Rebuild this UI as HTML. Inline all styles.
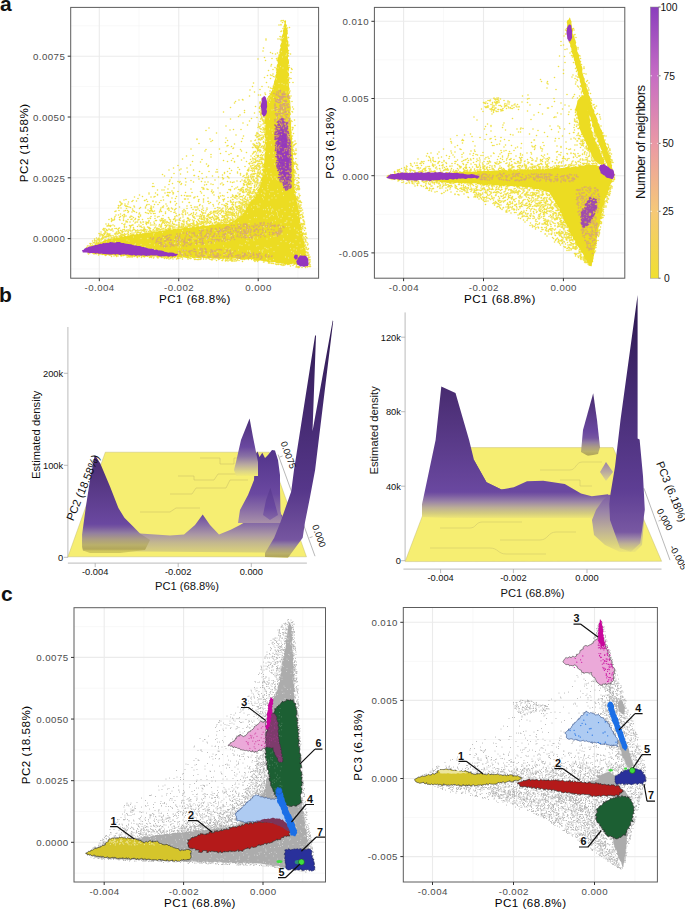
<!DOCTYPE html>
<html><head><meta charset="utf-8"><style>
html,body{margin:0;padding:0;background:#fff;overflow:hidden}
svg{display:block}
</style></head><body>
<svg width="685" height="910" viewBox="0 0 685 910" font-family='"Liberation Sans", sans-serif'>
<rect width="685" height="910" fill="#fff"/>
<rect x="70.7" y="7.4" width="247.90000000000003" height="270.8" fill="#fff"/>
<path d="M139.02 7.4V278.2M218.47 7.4V278.2M297.93 7.4V278.2M70.7 269.0H318.6M70.7 208.2H318.6M70.7 147.4H318.6M70.7 86.6H318.6M70.7 25.8H318.6" stroke="#f4f4f4" stroke-width="0.6" fill="none"/>
<path d="M99.3 7.4V278.2M178.75 7.4V278.2M258.2 7.4V278.2M70.7 238.6H318.6M70.7 177.8H318.6M70.7 117.0H318.6M70.7 56.2H318.6" stroke="#ebebeb" stroke-width="1.1" fill="none"/>
<rect x="374.4" y="7.4" width="250.39999999999998" height="270.8" fill="#fff"/>
<path d="M443.55 7.4V278.2M523.45 7.4V278.2M603.35 7.4V278.2M374.4 214.3H624.8M374.4 137.1H624.8M374.4 59.9H624.8" stroke="#f4f4f4" stroke-width="0.6" fill="none"/>
<path d="M403.6 7.4V278.2M483.5 7.4V278.2M563.4 7.4V278.2M374.4 252.9H624.8M374.4 175.7H624.8M374.4 98.5H624.8M374.4 21.3H624.8" stroke="#ebebeb" stroke-width="1.1" fill="none"/>
<rect x="74.0" y="607.7" width="251.5" height="274.29999999999995" fill="#fff"/>
<path d="M143.9 607.7V882.0M223.3 607.7V882.0M302.7 607.7V882.0M74.0 873.11H325.5M74.0 811.49H325.5M74.0 749.86H325.5M74.0 688.24H325.5M74.0 626.61H325.5" stroke="#f4f4f4" stroke-width="0.6" fill="none"/>
<path d="M104.2 607.7V882.0M183.6 607.7V882.0M263.0 607.7V882.0M74.0 842.3H325.5M74.0 780.67H325.5M74.0 719.05H325.5M74.0 657.42H325.5" stroke="#ebebeb" stroke-width="1.1" fill="none"/>
<rect x="403.3" y="607.5" width="254.09999999999997" height="274.5" fill="#fff"/>
<path d="M473.0 607.5V882.0M554.0 607.5V882.0M635.0 607.5V882.0M403.3 817.55H657.4M403.3 739.45H657.4M403.3 661.35H657.4" stroke="#f4f4f4" stroke-width="0.6" fill="none"/>
<path d="M432.5 607.5V882.0M513.5 607.5V882.0M594.5 607.5V882.0M403.3 856.6H657.4M403.3 778.5H657.4M403.3 700.4H657.4M403.3 622.3H657.4" stroke="#ebebeb" stroke-width="1.1" fill="none"/>
<path transform="scale(.5)" d="M168 503h0M168 502h0M173 495h0M175 492h0M176 506h0M177 508h0M178 492h0M180 487h0M181 490h0M182 487h0M185 482h0M185 490h0M186 486h0M186 486h0M188 485h0M188 508h0M189 486h0M189 478h0M189 481h0M189 485h0M190 484h0M190 481h0M192 487h0M193 476h0M193 482h0M193 485h0M194 484h0M194 486h0M194 482h0M194 484h0M194 480h0M196 478h0M197 485h0M197 479h0M197 479h0M197 510h0M198 467h0M198 481h0M198 476h0M198 484h0M199 478h0M200 471h0M200 472h0M200 479h0M200 482h0M200 468h0M202 468h0M202 464h0M203 477h0M203 480h0M204 469h0M204 471h0M205 475h0M205 474h0M205 478h0M206 470h0M206 476h0M206 459h0M206 471h0M207 460h0M207 457h0M207 476h0M207 471h0M208 467h0M208 474h0M209 474h0M209 460h0M209 469h0M209 474h0M210 465h0M210 463h0M210 457h0M210 467h0M210 479h0M211 474h0M211 511h0M211 465h0M211 473h0M211 463h0M212 475h0M212 474h0M212 448h0M213 461h0M213 472h0M213 459h0M214 469h0M214 466h0M214 473h0M214 452h0M214 460h0M215 452h0M215 473h0M215 461h0M215 469h0M215 467h0M216 472h0M217 448h0M217 472h0M217 451h0M217 478h0M217 468h0M217 469h0M218 458h0M218 459h0M218 474h0M218 471h0M218 452h0M218 439h0M219 469h0M219 468h0M220 451h0M220 468h0M220 471h0M221 460h0M221 453h0M222 474h0M222 471h0M222 451h0M222 471h0M223 513h0M223 443h0M223 440h0M223 460h0M223 437h0M224 475h0M224 458h0M224 441h0M225 440h0M225 458h0M226 440h0M226 471h0M226 462h0M226 450h0M227 474h0M228 440h0M228 476h0M228 512h0M229 474h0M229 439h0M229 452h0M229 436h0M230 474h0M230 433h0M230 469h0M230 474h0M230 474h0M230 467h0M230 423h0M230 457h0M231 468h0M232 430h0M232 466h0M232 422h0M232 472h0M232 430h0M233 475h0M233 457h0M233 464h0M233 513h0M233 512h0M233 512h0M234 468h0M234 473h0M235 468h0M236 512h0M236 416h0M236 464h0M236 459h0M237 411h0M237 463h0M237 430h0M237 462h0M237 467h0M237 415h0M237 461h0M237 457h0M237 416h0M238 421h0M238 412h0M238 472h0M239 439h0M239 435h0M239 456h0M239 473h0M239 456h0M239 466h0M239 465h0M240 440h0M240 472h0M240 403h0M240 404h0M240 466h0M241 471h0M241 461h0M241 471h0M241 473h0M241 428h0M241 411h0M241 433h0M242 406h0M242 461h0M242 416h0M242 469h0M242 512h0M242 468h0M242 409h0M243 470h0M243 512h0M243 473h0M243 470h0M243 407h0M244 463h0M244 408h0M244 447h0M244 469h0M244 407h0M244 465h0M245 470h0M245 462h0M245 465h0M245 431h0M245 469h0M246 471h0M246 459h0M246 463h0M247 441h0M247 438h0M247 434h0M248 471h0M248 400h0M248 429h0M248 434h0M248 422h0M248 449h0M248 469h0M249 429h0M249 453h0M249 455h0M249 472h0M249 459h0M249 467h0M249 452h0M249 432h0M249 471h0M250 408h0M250 462h0M250 411h0M250 448h0M251 469h0M251 421h0M252 462h0M252 413h0M252 444h0M252 399h0M252 442h0M252 432h0M253 412h0M253 454h0M253 417h0M254 468h0M254 468h0M254 460h0M254 443h0M254 514h0M254 468h0M255 413h0M255 444h0M255 421h0M256 463h0M256 466h0M256 439h0M256 408h0M256 425h0M256 514h0M257 460h0M257 404h0M257 469h0M257 512h0M257 423h0M257 464h0M258 414h0M258 470h0M259 451h0M259 514h0M260 435h0M260 444h0M260 461h0M260 513h0M260 434h0M260 458h0M261 453h0M261 455h0M261 415h0M261 467h0M261 462h0M261 462h0M262 439h0M262 469h0M262 432h0M262 451h0M262 514h0M263 451h0M263 451h0M264 513h0M264 403h0M264 433h0M264 462h0M264 424h0M264 466h0M264 438h0M265 512h0M265 418h0M265 450h0M265 513h0M265 513h0M265 469h0M265 514h0M266 512h0M266 450h0M266 401h0M266 421h0M266 460h0M267 458h0M267 469h0M267 435h0M267 422h0M267 455h0M267 442h0M268 412h0M268 466h0M269 414h0M269 394h0M269 423h0M269 513h0M269 459h0M270 439h0M270 446h0M271 437h0M271 461h0M271 464h0M272 444h0M273 425h0M273 402h0M273 468h0M274 461h0M274 514h0M274 464h0M274 466h0M275 453h0M275 513h0M275 514h0M275 460h0M275 515h0M275 444h0M276 397h0M276 465h0M276 464h0M276 440h0M277 433h0M278 434h0M278 435h0M278 450h0M278 439h0M278 465h0M278 461h0M278 428h0M279 390h0M279 513h0M279 426h0M279 417h0M280 466h0M280 453h0M281 465h0M281 444h0M281 460h0M281 466h0M281 430h0M281 432h0M281 415h0M282 446h0M282 453h0M282 452h0M283 464h0M283 515h0M283 514h0M283 460h0M284 455h0M285 461h0M285 393h0M285 439h0M286 449h0M286 444h0M287 459h0M287 462h0M287 513h0M287 444h0M288 454h0M288 456h0M289 514h0M289 458h0M289 401h0M289 401h0M289 461h0M289 464h0M289 456h0M290 462h0M290 401h0M290 460h0M291 459h0M291 459h0M291 425h0M291 414h0M291 416h0M292 447h0M292 444h0M293 449h0M293 399h0M293 447h0M293 463h0M293 445h0M293 411h0M294 460h0M294 426h0M294 409h0M294 446h0M295 403h0M295 454h0M295 445h0M296 454h0M296 420h0M296 437h0M297 427h0M297 446h0M297 444h0M297 455h0M297 463h0M298 388h0M298 442h0M298 457h0M298 409h0M298 386h0M298 441h0M299 515h0M299 458h0M299 455h0M299 462h0M299 422h0M299 514h0M299 422h0M300 461h0M300 424h0M300 514h0M300 461h0M300 436h0M301 461h0M301 457h0M301 417h0M301 437h0M301 421h0M301 450h0M301 463h0M301 446h0M301 514h0M302 412h0M302 513h0M302 394h0M302 427h0M302 433h0M302 415h0M303 419h0M303 417h0M303 515h0M303 515h0M303 414h0M303 515h0M303 417h0M303 463h0M304 423h0M304 421h0M304 450h0M305 373h0M306 367h0M306 460h0M306 423h0M306 403h0M306 460h0M306 462h0M306 402h0M307 459h0M307 427h0M307 516h0M307 414h0M308 444h0M308 514h0M308 450h0M308 394h0M308 373h0M309 456h0M309 422h0M309 409h0M309 447h0M309 462h0M310 427h0M310 437h0M310 432h0M310 393h0M311 454h0M311 386h0M311 441h0M312 450h0M312 460h0M312 404h0M313 457h0M313 457h0M313 441h0M314 514h0M314 514h0M314 456h0M314 459h0M314 458h0M314 459h0M314 461h0M315 390h0M315 380h0M315 460h0M315 380h0M315 389h0M315 461h0M315 434h0M316 409h0M316 516h0M316 457h0M317 460h0M318 433h0M318 457h0M318 452h0M319 449h0M319 405h0M319 424h0M320 422h0M320 459h0M320 461h0M320 440h0M321 421h0M321 454h0M321 452h0M321 452h0M321 442h0M321 454h0M321 419h0M322 401h0M322 459h0M322 416h0M323 451h0M323 441h0M323 449h0M323 423h0M323 454h0M323 453h0M323 515h0M323 458h0M323 437h0M324 439h0M324 447h0M324 380h0M325 414h0M325 445h0M325 442h0M325 349h0M326 457h0M326 442h0M326 437h0M326 458h0M326 415h0M326 460h0M326 515h0M326 431h0M326 394h0M327 400h0M327 445h0M327 457h0M327 412h0M327 441h0M328 443h0M328 380h0M328 444h0M329 517h0M329 516h0M329 447h0M329 352h0M329 440h0M330 460h0M330 374h0M330 386h0M330 458h0M330 515h0M330 451h0M330 460h0M331 455h0M331 450h0M331 440h0M331 424h0M331 427h0M331 444h0M332 514h0M332 408h0M332 459h0M333 517h0M333 459h0M333 452h0M333 446h0M333 453h0M333 451h0M333 517h0M334 443h0M334 412h0M334 391h0M335 418h0M335 385h0M335 450h0M335 516h0M335 514h0M335 515h0M336 457h0M336 445h0M336 378h0M336 390h0M337 515h0M337 435h0M337 392h0M337 416h0M338 450h0M338 456h0M338 446h0M338 385h0M338 436h0M338 459h0M338 518h0M338 456h0M338 452h0M338 421h0M338 340h0M338 418h0M338 369h0M339 439h0M339 451h0M339 363h0M339 456h0M340 454h0M340 360h0M340 458h0M340 385h0M340 446h0M340 360h0M341 457h0M341 443h0M341 403h0M341 517h0M341 515h0M341 440h0M341 405h0M341 517h0M342 450h0M342 516h0M342 423h0M342 453h0M342 452h0M343 416h0M343 355h0M344 396h0M344 382h0M345 444h0M345 452h0M345 418h0M345 367h0M345 447h0M345 515h0M345 456h0M346 385h0M346 388h0M346 454h0M346 518h0M347 336h0M347 386h0M347 449h0M347 439h0M348 448h0M348 448h0M348 425h0M348 376h0M348 347h0M348 454h0M349 437h0M349 515h0M349 420h0M349 449h0M350 419h0M350 433h0M350 403h0M350 438h0M350 434h0M350 454h0M350 424h0M351 443h0M351 441h0M351 397h0M351 410h0M352 417h0M352 450h0M352 427h0M353 518h0M353 393h0M353 407h0M353 431h0M354 456h0M354 450h0M354 440h0M354 432h0M355 517h0M356 383h0M356 517h0M356 516h0M356 363h0M356 331h0M357 452h0M357 456h0M357 454h0M357 517h0M358 440h0M358 454h0M358 452h0M358 445h0M358 454h0M358 446h0M358 449h0M358 430h0M358 455h0M358 449h0M359 414h0M359 429h0M359 452h0M359 340h0M359 452h0M359 438h0M359 365h0M360 516h0M360 363h0M360 441h0M360 454h0M361 348h0M361 436h0M362 455h0M362 369h0M362 338h0M363 453h0M363 455h0M363 391h0M363 367h0M363 448h0M363 452h0M364 454h0M364 447h0M364 428h0M364 447h0M365 422h0M365 442h0M365 318h0M365 456h0M365 518h0M365 404h0M366 430h0M366 451h0M366 434h0M366 453h0M366 449h0M366 425h0M367 453h0M367 443h0M367 454h0M367 454h0M368 422h0M368 419h0M368 450h0M368 440h0M368 443h0M368 446h0M368 449h0M369 391h0M369 455h0M369 398h0M371 422h0M371 357h0M371 370h0M371 454h0M371 426h0M371 429h0M371 385h0M371 398h0M372 452h0M372 364h0M373 443h0M373 455h0M373 392h0M373 312h0M373 446h0M374 448h0M374 412h0M374 417h0M374 336h0M374 447h0M374 444h0M375 392h0M375 426h0M375 437h0M375 515h0M375 436h0M375 344h0M375 454h0M376 436h0M376 398h0M376 453h0M376 450h0M376 437h0M376 452h0M376 441h0M376 518h0M377 437h0M377 438h0M378 392h0M378 430h0M378 451h0M378 450h0M378 405h0M378 448h0M378 452h0M379 451h0M379 405h0M379 442h0M379 451h0M380 452h0M380 439h0M380 449h0M380 454h0M380 517h0M381 330h0M381 392h0M381 429h0M382 378h0M382 517h0M382 361h0M382 451h0M382 451h0M382 298h0M382 447h0M382 411h0M383 427h0M383 415h0M384 452h0M384 385h0M385 440h0M385 323h0M385 447h0M385 431h0M386 311h0M386 432h0M386 433h0M386 446h0M386 454h0M386 449h0M386 419h0M387 443h0M387 434h0M387 340h0M387 454h0M387 428h0M387 364h0M387 452h0M387 425h0M387 446h0M387 446h0M387 435h0M388 446h0M388 441h0M388 454h0M388 395h0M388 448h0M388 351h0M388 396h0M389 414h0M389 351h0M389 434h0M389 450h0M389 519h0M390 437h0M390 394h0M390 518h0M390 452h0M391 429h0M391 420h0M392 451h0M392 519h0M392 450h0M392 414h0M393 449h0M393 450h0M393 420h0M393 426h0M393 443h0M394 453h0M394 278h0M394 432h0M394 447h0M394 279h0M394 445h0M394 445h0M395 414h0M395 452h0M395 451h0M395 449h0M395 393h0M395 519h0M395 445h0M396 439h0M396 449h0M396 453h0M396 418h0M396 447h0M397 519h0M397 400h0M397 441h0M397 452h0M397 441h0M397 441h0M397 403h0M397 353h0M398 287h0M398 432h0M398 442h0M398 399h0M398 448h0M398 358h0M399 437h0M399 421h0M399 411h0M399 343h0M400 446h0M400 519h0M400 434h0M400 444h0M400 409h0M401 324h0M401 449h0M401 429h0M401 383h0M401 518h0M402 518h0M402 432h0M402 438h0M402 517h0M403 445h0M403 386h0M403 447h0M403 436h0M403 363h0M403 443h0M403 423h0M403 448h0M403 433h0M404 419h0M404 445h0M404 425h0M404 438h0M404 347h0M404 375h0M404 431h0M404 439h0M404 319h0M405 412h0M405 357h0M405 428h0M406 443h0M406 453h0M406 447h0M406 416h0M406 452h0M406 378h0M406 443h0M406 444h0M406 438h0M406 426h0M407 447h0M407 448h0M407 398h0M407 376h0M407 421h0M407 435h0M407 432h0M407 518h0M407 404h0M407 421h0M407 444h0M407 400h0M408 391h0M408 378h0M408 450h0M408 440h0M408 431h0M408 434h0M408 426h0M409 432h0M409 438h0M409 445h0M409 370h0M409 445h0M410 442h0M410 364h0M410 436h0M410 445h0M410 302h0M411 443h0M411 426h0M412 261h0M412 518h0M412 299h0M412 422h0M412 448h0M412 453h0M413 328h0M413 444h0M413 444h0M413 369h0M413 354h0M413 438h0M414 419h0M414 447h0M414 378h0M414 440h0M414 416h0M414 437h0M414 433h0M414 441h0M414 432h0M414 419h0M415 437h0M415 444h0M415 440h0M415 430h0M415 443h0M415 453h0M415 438h0M415 438h0M416 396h0M416 333h0M416 439h0M416 364h0M416 403h0M416 442h0M416 379h0M417 428h0M417 432h0M417 429h0M417 403h0M417 331h0M417 445h0M418 435h0M418 256h0M418 407h0M418 517h0M418 343h0M418 429h0M419 447h0M419 435h0M419 518h0M419 453h0M420 429h0M420 278h0M420 443h0M420 442h0M420 437h0M420 425h0M420 446h0M420 429h0M420 435h0M421 436h0M421 405h0M421 445h0M421 435h0M422 519h0M422 314h0M422 443h0M422 423h0M422 368h0M422 309h0M422 427h0M422 283h0M423 439h0M423 435h0M423 383h0M424 450h0M424 446h0M424 380h0M424 520h0M424 426h0M424 426h0M424 380h0M425 452h0M425 451h0M425 451h0M425 433h0M425 447h0M425 352h0M425 281h0M425 386h0M426 452h0M426 409h0M426 435h0M426 518h0M426 369h0M427 412h0M427 425h0M427 437h0M427 384h0M427 423h0M428 428h0M428 422h0M428 390h0M428 429h0M428 440h0M428 438h0M428 422h0M429 446h0M429 423h0M429 441h0M429 431h0M429 439h0M429 424h0M429 439h0M429 445h0M430 434h0M430 417h0M430 360h0M430 518h0M430 445h0M430 423h0M430 434h0M431 423h0M431 445h0M431 438h0M432 426h0M432 432h0M432 448h0M432 443h0M432 344h0M432 422h0M432 449h0M433 444h0M433 266h0M433 437h0M433 439h0M433 443h0M433 521h0M434 339h0M434 422h0M434 437h0M434 402h0M434 448h0M434 434h0M434 433h0M435 427h0M435 437h0M435 434h0M435 415h0M435 426h0M435 344h0M436 446h0M436 445h0M436 420h0M436 376h0M436 447h0M436 448h0M437 408h0M437 424h0M437 435h0M437 517h0M437 436h0M437 519h0M437 393h0M437 430h0M437 438h0M437 448h0M437 354h0M438 397h0M438 518h0M438 441h0M438 416h0M438 395h0M438 446h0M439 440h0M439 446h0M439 405h0M439 448h0M439 298h0M439 422h0M439 518h0M439 440h0M439 422h0M439 446h0M439 450h0M439 439h0M439 440h0M440 422h0M440 416h0M440 416h0M440 427h0M440 386h0M440 427h0M441 447h0M441 446h0M441 392h0M441 446h0M441 428h0M441 307h0M441 368h0M442 444h0M442 450h0M442 442h0M442 420h0M442 444h0M443 446h0M443 422h0M443 425h0M443 440h0M444 423h0M444 435h0M444 521h0M444 418h0M444 366h0M444 441h0M444 431h0M444 445h0M444 409h0M445 350h0M445 355h0M445 521h0M445 433h0M445 391h0M446 432h0M446 416h0M446 358h0M446 370h0M446 421h0M446 399h0M446 446h0M446 434h0M446 519h0M447 402h0M447 357h0M447 447h0M447 321h0M447 440h0M447 224h0M447 439h0M447 423h0M447 442h0M447 369h0M448 446h0M448 440h0M448 442h0M448 447h0M448 392h0M448 410h0M448 399h0M448 426h0M448 432h0M449 434h0M449 345h0M449 347h0M449 443h0M449 435h0M449 398h0M449 432h0M449 438h0M450 431h0M450 445h0M450 411h0M450 436h0M451 413h0M451 521h0M451 285h0M451 427h0M451 445h0M451 449h0M451 437h0M451 518h0M451 440h0M451 422h0M451 522h0M452 426h0M452 442h0M452 416h0M452 407h0M452 446h0M452 423h0M452 445h0M452 411h0M452 303h0M452 276h0M452 424h0M452 427h0M452 419h0M452 252h0M452 521h0M452 429h0M453 432h0M453 521h0M453 446h0M453 521h0M453 438h0M453 428h0M453 431h0M453 444h0M454 518h0M454 292h0M454 438h0M454 432h0M454 425h0M454 432h0M454 407h0M454 445h0M454 436h0M455 281h0M455 413h0M455 430h0M455 323h0M455 440h0M455 343h0M455 409h0M455 422h0M455 363h0M455 439h0M455 441h0M455 416h0M455 436h0M455 416h0M455 445h0M455 429h0M455 385h0M455 353h0M456 434h0M456 520h0M456 430h0M456 429h0M456 354h0M456 442h0M456 395h0M456 291h0M456 444h0M456 403h0M456 428h0M456 522h0M457 423h0M457 419h0M457 425h0M457 435h0M457 436h0M458 356h0M458 309h0M458 430h0M458 379h0M458 442h0M459 443h0M459 430h0M459 417h0M459 445h0M459 337h0M459 445h0M459 426h0M459 520h0M459 446h0M459 424h0M460 417h0M460 440h0M460 260h0M460 520h0M460 426h0M460 442h0M460 347h0M460 436h0M460 448h0M460 444h0M461 364h0M461 441h0M461 419h0M461 439h0M461 426h0M461 379h0M461 424h0M461 441h0M461 403h0M461 381h0M461 215h0M461 518h0M461 401h0M461 238h0M461 404h0M461 430h0M462 395h0M462 307h0M462 446h0M462 520h0M462 439h0M462 418h0M462 426h0M462 415h0M463 521h0M463 429h0M463 341h0M463 419h0M463 416h0M463 518h0M463 293h0M463 518h0M463 321h0M463 522h0M463 404h0M464 441h0M464 425h0M464 432h0M464 430h0M464 519h0M464 426h0M464 373h0M464 409h0M464 439h0M465 390h0M465 409h0M465 522h0M465 441h0M465 365h0M465 413h0M465 522h0M465 399h0M465 437h0M465 393h0M465 427h0M465 420h0M465 521h0M465 431h0M465 435h0M465 420h0M465 406h0M466 424h0M466 399h0M466 317h0M466 391h0M466 431h0M466 415h0M466 426h0M466 522h0M466 428h0M466 425h0M466 297h0M467 417h0M467 410h0M467 404h0M467 440h0M467 259h0M467 296h0M467 409h0M468 428h0M468 440h0M468 394h0M468 431h0M468 419h0M468 440h0M468 438h0M468 440h0M468 519h0M468 439h0M468 364h0M469 429h0M469 288h0M469 522h0M469 324h0M469 378h0M469 206h0M469 395h0M469 427h0M469 323h0M469 422h0M470 433h0M470 431h0M470 396h0M470 433h0M471 203h0M471 519h0M471 396h0M471 405h0M471 412h0M471 434h0M471 396h0M471 408h0M471 391h0M472 522h0M472 376h0M472 425h0M472 436h0M472 393h0M472 413h0M472 415h0M472 393h0M472 425h0M472 425h0M472 270h0M473 424h0M473 391h0M473 430h0M473 427h0M473 419h0M473 393h0M474 404h0M474 362h0M474 413h0M474 521h0M474 416h0M474 398h0M475 519h0M475 415h0M475 374h0M475 434h0M475 415h0M475 432h0M475 420h0M475 312h0M475 344h0M475 420h0M475 393h0M475 346h0M476 312h0M476 386h0M476 428h0M476 335h0M476 312h0M477 233h0M477 430h0M477 412h0M477 427h0M477 427h0M477 417h0M477 379h0M477 424h0M478 403h0M478 521h0M478 396h0M478 433h0M478 200h0M478 421h0M478 406h0M478 390h0M479 389h0M479 412h0M479 417h0M479 411h0M479 414h0M479 339h0M479 424h0M480 433h0M480 382h0M480 388h0M480 379h0M480 420h0M480 393h0M480 387h0M480 404h0M480 230h0M481 347h0M481 299h0M481 418h0M481 420h0M481 423h0M481 406h0M481 422h0M481 350h0M481 421h0M481 425h0M481 423h0M481 417h0M481 363h0M481 415h0M481 425h0M481 399h0M481 423h0M482 428h0M482 393h0M482 426h0M482 381h0M482 408h0M482 412h0M482 378h0M482 420h0M482 431h0M482 417h0M482 519h0M482 259h0M483 408h0M483 425h0M483 302h0M483 377h0M483 320h0M483 430h0M483 381h0M483 427h0M483 379h0M483 283h0M483 426h0M483 417h0M484 408h0M484 414h0M484 415h0M484 430h0M484 412h0M484 376h0M484 418h0M484 405h0M484 418h0M484 400h0M484 417h0M484 360h0M484 416h0M484 423h0M484 393h0M485 421h0M485 375h0M485 199h0M485 519h0M485 394h0M485 406h0M485 523h0M485 384h0M485 375h0M485 519h0M485 383h0M485 277h0M486 402h0M486 519h0M486 424h0M486 409h0M486 408h0M486 398h0M486 375h0M486 410h0M486 422h0M486 200h0M486 246h0M486 420h0M486 379h0M486 385h0M486 353h0M487 419h0M487 272h0M487 370h0M487 384h0M487 391h0M487 381h0M487 367h0M487 423h0M487 421h0M487 375h0M487 421h0M488 316h0M488 410h0M488 385h0M488 405h0M488 402h0M488 384h0M488 351h0M488 362h0M489 397h0M489 221h0M489 409h0M489 413h0M489 415h0M489 519h0M489 421h0M489 225h0M489 370h0M489 421h0M489 369h0M489 361h0M490 395h0M490 412h0M490 403h0M490 398h0M490 398h0M490 412h0M490 355h0M490 362h0M490 365h0M490 360h0M490 333h0M491 379h0M491 364h0M491 407h0M491 393h0M492 416h0M492 399h0M492 403h0M492 405h0M492 356h0M492 410h0M492 378h0M492 403h0M492 382h0M492 384h0M493 402h0M493 350h0M493 383h0M493 305h0M493 323h0M493 378h0M493 407h0M493 416h0M493 369h0M493 410h0M493 348h0M493 364h0M493 413h0M493 413h0M493 383h0M494 346h0M494 354h0M494 411h0M494 406h0M494 402h0M494 378h0M494 411h0M494 368h0M494 371h0M494 409h0M494 408h0M494 390h0M495 409h0M495 400h0M495 380h0M495 396h0M495 389h0M495 250h0M495 360h0M495 373h0M495 341h0M495 409h0M495 400h0M495 388h0M495 348h0M496 385h0M496 358h0M496 366h0M496 356h0M496 375h0M496 367h0M496 388h0M496 400h0M496 339h0M497 355h0M497 389h0M497 364h0M497 369h0M497 368h0M497 408h0M497 390h0M497 410h0M497 380h0M497 352h0M497 519h0M497 384h0M497 339h0M497 402h0M497 342h0M498 366h0M498 407h0M498 405h0M498 327h0M498 336h0M498 367h0M498 362h0M498 340h0M498 360h0M499 360h0M499 328h0M499 328h0M499 405h0M499 242h0M499 395h0M499 386h0M499 376h0M499 392h0M499 192h0M499 362h0M499 380h0M499 388h0M499 384h0M499 367h0M499 369h0M500 326h0M500 367h0M500 396h0M500 383h0M500 392h0M500 399h0M500 375h0M500 376h0M500 180h0M501 352h0M501 363h0M501 382h0M501 376h0M501 404h0M501 354h0M501 393h0M501 332h0M501 319h0M501 384h0M501 383h0M501 396h0M502 312h0M502 386h0M502 341h0M502 391h0M502 363h0M502 334h0M502 393h0M502 378h0M502 282h0M502 332h0M502 349h0M502 370h0M502 366h0M502 332h0M503 323h0M503 400h0M503 375h0M503 519h0M503 396h0M503 394h0M503 401h0M503 237h0M503 357h0M503 337h0M503 358h0M504 348h0M504 387h0M504 327h0M504 394h0M504 355h0M504 352h0M505 343h0M505 173h0M505 308h0M505 367h0M505 295h0M505 340h0M505 316h0M505 331h0M505 336h0M505 384h0M506 320h0M506 394h0M506 387h0M506 353h0M506 361h0M506 326h0M506 317h0M506 360h0M506 295h0M506 288h0M506 348h0M507 392h0M507 306h0M507 304h0M507 337h0M507 166h0M507 382h0M507 384h0M507 358h0M507 336h0M507 379h0M507 383h0M507 288h0M507 354h0M508 363h0M508 347h0M508 324h0M508 341h0M508 520h0M508 521h0M508 341h0M508 349h0M508 353h0M508 291h0M508 305h0M508 330h0M508 383h0M509 289h0M509 342h0M509 392h0M509 360h0M509 313h0M509 372h0M509 325h0M509 347h0M509 361h0M509 184h0M509 371h0M509 520h0M509 318h0M509 334h0M509 379h0M509 338h0M509 375h0M509 375h0M509 226h0M509 343h0M509 364h0M510 292h0M510 381h0M510 385h0M510 333h0M510 374h0M510 368h0M510 388h0M510 281h0M510 523h0M510 303h0M511 271h0M511 325h0M511 303h0M511 280h0M511 322h0M511 337h0M511 387h0M511 319h0M511 333h0M511 332h0M511 295h0M511 213h0M511 294h0M511 347h0M511 364h0M512 363h0M512 310h0M512 292h0M512 520h0M512 365h0M512 291h0M512 385h0M512 323h0M512 294h0M512 357h0M512 356h0M512 295h0M512 316h0M513 372h0M513 379h0M513 331h0M513 268h0M513 268h0M513 286h0M513 370h0M513 306h0M513 272h0M513 335h0M513 338h0M514 368h0M514 337h0M514 377h0M514 332h0M514 321h0M514 287h0M514 356h0M514 295h0M514 351h0M514 268h0M514 348h0M514 265h0M514 357h0M514 353h0M514 361h0M514 297h0M514 275h0M514 235h0M514 267h0M515 344h0M515 329h0M515 292h0M515 311h0M515 351h0M515 365h0M515 359h0M515 299h0M515 273h0M515 302h0M515 322h0M515 364h0M515 314h0M515 523h0M516 353h0M516 381h0M516 297h0M516 327h0M516 340h0M516 322h0M516 352h0M516 328h0M516 366h0M516 375h0M516 521h0M516 346h0M516 118h0M516 360h0M516 332h0M516 267h0M516 255h0M517 379h0M517 346h0M517 311h0M517 352h0M517 279h0M517 340h0M517 190h0M517 300h0M517 295h0M517 351h0M517 294h0M517 248h0M517 252h0M517 313h0M518 295h0M518 273h0M518 270h0M518 285h0M518 372h0M518 344h0M518 353h0M518 293h0M518 331h0M518 301h0M518 339h0M518 333h0M518 323h0M518 277h0M519 223h0M519 300h0M519 215h0M519 335h0M519 347h0M519 217h0M519 270h0M519 291h0M519 254h0M519 216h0M519 287h0M519 349h0M519 327h0M519 368h0M519 331h0M519 333h0M519 339h0M519 279h0M519 371h0M519 224h0M519 322h0M520 322h0M520 303h0M520 315h0M520 217h0M520 319h0M520 365h0M520 179h0M520 290h0M520 289h0M520 207h0M520 354h0M520 319h0M520 205h0M520 337h0M520 336h0M520 243h0M520 253h0M520 304h0M520 291h0M520 257h0M520 279h0M520 204h0M520 213h0M520 299h0M520 322h0M521 280h0M521 204h0M521 328h0M521 301h0M521 288h0M521 342h0M521 315h0M521 210h0M521 190h0M521 311h0M521 258h0M521 345h0M521 238h0M521 229h0M521 238h0M521 263h0M521 206h0M521 226h0M521 271h0M521 212h0M522 276h0M522 250h0M522 231h0M522 334h0M522 295h0M522 222h0M522 302h0M522 356h0M522 226h0M522 220h0M522 230h0M522 213h0M522 347h0M522 318h0M523 326h0M523 349h0M523 258h0M523 293h0M523 277h0M523 214h0M523 225h0M523 225h0M523 236h0M523 234h0M523 222h0M523 323h0M523 327h0M523 228h0M523 348h0M523 226h0M523 325h0M523 319h0M523 309h0M523 236h0M523 316h0M524 173h0M524 265h0M524 197h0M524 200h0M524 219h0M524 350h0M524 238h0M524 234h0M524 215h0M524 226h0M524 326h0M524 275h0M524 314h0M524 223h0M524 317h0M524 319h0M524 316h0M524 225h0M524 211h0M524 270h0M524 226h0M524 279h0M525 319h0M525 316h0M525 292h0M525 221h0M525 331h0M525 339h0M525 334h0M525 326h0M525 203h0M525 341h0M525 275h0M525 327h0M525 241h0M525 221h0M525 305h0M525 225h0M525 238h0M525 210h0M525 311h0M526 296h0M526 333h0M526 220h0M526 226h0M526 218h0M526 213h0M526 276h0M526 240h0M526 206h0M526 102h0M526 255h0M526 329h0M526 260h0M526 223h0M526 248h0M526 317h0M527 198h0M527 217h0M527 202h0M527 319h0M527 276h0M527 226h0M527 96h0M527 221h0M527 227h0M527 211h0M527 218h0M527 264h0M527 199h0M527 283h0M527 234h0M527 214h0M527 243h0M527 329h0M527 285h0M527 273h0M527 258h0M527 293h0M527 297h0M527 524h0M527 272h0M527 231h0M528 284h0M528 301h0M528 294h0M528 257h0M528 240h0M528 213h0M528 206h0M528 201h0M528 198h0M528 200h0M528 302h0M528 247h0M528 245h0M528 240h0M528 302h0M528 524h0M528 310h0M528 226h0M528 524h0M528 309h0M529 260h0M529 269h0M529 200h0M529 244h0M529 200h0M529 246h0M529 115h0M529 195h0M529 245h0M529 269h0M529 291h0M529 203h0M529 292h0M529 232h0M529 299h0M529 290h0M529 196h0M529 204h0M529 296h0M529 155h0M529 204h0M529 218h0M529 264h0M529 200h0M529 226h0M530 221h0M530 261h0M530 214h0M530 186h0M530 236h0M530 221h0M530 256h0M530 257h0M530 198h0M530 247h0M530 220h0M530 252h0M530 230h0M530 203h0M530 224h0M530 230h0M530 266h0M530 259h0M530 240h0M530 213h0M530 235h0M530 226h0M530 207h0M530 230h0M531 217h0M531 272h0M531 189h0M531 199h0M531 224h0M531 121h0M531 232h0M531 218h0M531 222h0M531 241h0M531 228h0M531 231h0M531 212h0M531 223h0M531 226h0M531 206h0M532 223h0M532 240h0M532 243h0M532 78h0M532 205h0M532 252h0M532 238h0M532 246h0M532 244h0M532 80h0M533 216h0M533 204h0M533 228h0M533 207h0M533 165h0M533 241h0M533 224h0M534 222h0M534 231h0M534 221h0M534 208h0M534 245h0M534 241h0M534 240h0M535 203h0M535 222h0M535 240h0M535 197h0M535 239h0M535 220h0M535 225h0M535 151h0M535 205h0M535 211h0M535 228h0M535 234h0M536 197h0M536 234h0M536 222h0M537 227h0M537 217h0M537 220h0M537 204h0M537 198h0M537 526h0M537 238h0M537 524h0M537 141h0M537 238h0M537 212h0M537 221h0M537 174h0M537 219h0M537 524h0M537 214h0M538 526h0M538 203h0M538 218h0M538 199h0M538 226h0M538 204h0M538 223h0M538 218h0M538 229h0M538 209h0M539 212h0M539 524h0M539 526h0M539 205h0M539 213h0M539 203h0M539 524h0M540 187h0M540 214h0M540 210h0M540 182h0M540 217h0M540 206h0M541 150h0M541 210h0M541 224h0M541 105h0M541 157h0M541 227h0M541 176h0M542 132h0M542 526h0M543 129h0M544 177h0M544 117h0M544 151h0M544 527h0M545 107h0M546 148h0M546 139h0M547 527h0M547 153h0M550 135h0M550 154h0M551 108h0M551 528h0M553 140h0M553 529h0M553 117h0M553 137h0M554 120h0M554 529h0M554 528h0M555 106h0M555 121h0M556 78h0M556 116h0M557 529h0M558 528h0M558 110h0M558 50h0M560 73h0M560 78h0M561 529h0M562 80h0M562 49h0M562 42h0M562 63h0M562 74h0M562 50h0M563 530h0M563 529h0M563 62h0M564 41h0M565 45h0M566 57h0M566 528h0M566 531h0M567 41h0M568 530h0M569 43h0M569 530h0M571 529h0M575 56h0M575 529h0M577 107h0M577 92h0M577 120h0M577 101h0M577 75h0M577 112h0M578 529h0M578 529h0M578 131h0M578 90h0M579 135h0M579 55h0M579 186h0M579 156h0M579 165h0M579 194h0M580 182h0M580 196h0M581 532h0M581 108h0M581 532h0M582 145h0M582 241h0M582 192h0M582 157h0M583 137h0M584 243h0M584 223h0M584 139h0M584 203h0M584 260h0M585 255h0M585 259h0M585 214h0M585 286h0M585 224h0M585 272h0M586 292h0M586 531h0M586 284h0M586 299h0M586 255h0M586 165h0M586 290h0M586 302h0M586 308h0M586 256h0M586 294h0M587 218h0M587 267h0M588 291h0M588 325h0M588 302h0M589 351h0M589 306h0M589 354h0M589 309h0M589 345h0M589 240h0M589 329h0M589 340h0M589 345h0M589 307h0M589 289h0M589 327h0M589 344h0M590 251h0M590 342h0M590 282h0M590 359h0M591 309h0M591 374h0M591 344h0M591 288h0M591 378h0M591 324h0M592 287h0M592 328h0M592 298h0M592 385h0M592 307h0M592 356h0M592 534h0M592 369h0M592 301h0M592 347h0M592 317h0M592 371h0M592 327h0M593 530h0M593 534h0M593 530h0M593 333h0M593 380h0M593 533h0M594 329h0M594 361h0M594 377h0M594 366h0M594 399h0M594 336h0M594 533h0M594 337h0M594 393h0M594 400h0M595 394h0M595 396h0M595 330h0M595 371h0M595 401h0M595 395h0M595 377h0M596 355h0M596 339h0M596 400h0M596 366h0M596 379h0M596 535h0M596 535h0M596 374h0M597 364h0M597 407h0M597 410h0M597 350h0M597 396h0M597 414h0M597 413h0M597 403h0M597 408h0M597 371h0M597 533h0M598 403h0M598 396h0M598 357h0M598 533h0M598 410h0M598 373h0M598 411h0M598 421h0M598 388h0M598 377h0M598 378h0M598 417h0M598 374h0M598 365h0M598 535h0M598 415h0M598 379h0M599 404h0M599 534h0M599 425h0M599 392h0M599 377h0M599 392h0M599 413h0M599 379h0M599 404h0M600 417h0M600 413h0M600 431h0M600 401h0M600 414h0M600 391h0M600 422h0M601 435h0M601 410h0M601 422h0M601 403h0M601 430h0M602 423h0M602 405h0M602 429h0M602 423h0M602 531h0M602 410h0M602 417h0M602 421h0M602 437h0M603 416h0M603 449h0M603 405h0M603 429h0M603 449h0M603 455h0M603 447h0M604 449h0M604 535h0M605 430h0M605 420h0M605 435h0M605 457h0M605 433h0M605 453h0M606 447h0M606 449h0M606 440h0M606 454h0M606 452h0M606 467h0M606 458h0M606 426h0M606 433h0M606 454h0M607 474h0M607 447h0M607 466h0M607 442h0M607 480h0M607 434h0M607 478h0M607 440h0M608 469h0M608 532h0M608 442h0M608 447h0M608 475h0M609 486h0M609 444h0M609 490h0M609 468h0M609 461h0M609 449h0M609 448h0M610 478h0M610 456h0M610 484h0M610 491h0M610 468h0M610 455h0M610 490h0M610 533h0M611 481h0M611 479h0M611 457h0M611 473h0M611 535h0M611 490h0M612 469h0M612 495h0M612 532h0M612 503h0M612 468h0M612 494h0M612 466h0M612 482h0M612 532h0M613 495h0M613 511h0M613 498h0M613 475h0M614 476h0M614 505h0M614 533h0M614 532h0M614 485h0M615 531h0M615 505h0M615 523h0M615 520h0M615 499h0M615 534h0M615 490h0M616 488h0M616 517h0M616 529h0M616 507h0M616 499h0M616 511h0M616 505h0M616 533h0M616 510h0M616 516h0M616 527h0M617 497h0M617 514h0M617 520h0M618 510h0M618 527h0M618 515h0M619 519h0M619 527h0M619 533h0M619 525h0M619 528h0M620 530h0M620 519h0M620 529h0M620 522h0M620 514h0M620 524h0M621 533h0" stroke="#ecdc22" stroke-width="3.2" stroke-linecap="round" fill="none" opacity="0.85"/>
<polygon points="285.8,19.9 286.1,21.1 285.8,23.8 287.0,25.3 286.6,26.6 287.0,28.5 287.3,29.1 287.8,30.8 287.6,32.1 287.9,33.6 286.9,35.2 287.6,37.8 287.6,38.8 287.4,39.8 288.4,41.6 288.3,43.2 288.4,45.2 287.6,46.9 288.1,48.0 287.9,49.1 288.5,50.8 288.6,52.9 287.7,54.1 288.8,55.3 288.0,57.0 288.0,59.2 288.6,60.6 289.0,61.5 289.0,63.6 288.3,64.5 288.5,66.5 289.1,67.6 289.0,69.2 288.9,70.3 288.2,72.3 289.1,73.4 289.1,75.9 288.3,76.6 288.9,78.1 289.4,79.4 288.8,81.5 288.7,82.6 289.0,84.7 288.9,86.6 289.1,87.0 289.9,89.6 288.8,90.0 289.9,91.9 289.0,94.0 289.2,95.1 289.7,96.8 290.3,97.9 289.3,99.5 290.3,100.7 290.3,102.1 290.2,103.6 290.4,105.4 290.7,107.3 290.7,109.0 290.6,110.0 290.2,111.9 290.5,112.5 290.9,114.5 290.1,115.5 290.0,117.3 290.8,118.8 290.4,120.3 291.1,122.0 291.2,123.8 291.0,125.2 291.2,126.4 291.3,127.9 290.9,129.7 291.6,131.8 291.8,132.5 291.4,134.1 291.8,135.5 292.1,137.6 292.6,138.7 291.6,141.0 292.8,142.0 292.2,144.0 292.2,145.7 292.7,146.6 292.6,147.8 293.2,149.9 292.4,152.0 293.4,153.5 293.4,154.2 293.0,156.0 293.2,157.2 293.9,158.7 293.1,161.0 293.9,161.7 294.0,163.3 293.8,164.9 294.1,166.6 293.6,167.8 294.3,169.8 294.3,170.7 293.8,171.9 294.7,173.6 294.0,175.4 293.8,176.9 294.2,178.1 294.7,180.5 294.4,181.7 294.2,183.5 295.3,184.3 294.2,186.2 295.1,187.5 294.5,189.1 295.1,190.9 295.9,191.8 295.5,194.2 295.8,195.4 296.0,196.3 297.2,197.7 297.3,200.3 297.2,200.9 297.3,202.4 297.8,204.7 297.9,205.4 298.0,207.8 298.4,208.7 298.8,210.4 299.4,211.8 299.6,213.0 299.8,215.0 299.5,217.0 300.3,218.4 300.1,220.0 300.1,221.5 300.5,222.7 301.0,224.4 301.5,225.7 300.9,226.9 302.1,229.3 302.3,231.0 302.0,231.6 303.0,233.3 303.3,235.2 302.6,236.8 302.9,238.9 303.3,240.5 304.3,241.6 304.1,242.9 304.4,245.2 305.2,245.7 305.3,247.4 305.7,249.3 305.6,250.6 306.0,252.1 306.3,253.6 306.4,255.4 306.2,256.7 306.7,258.6 307.8,260.3 307.5,261.4 306.9,263.2 307.3,265.0 305.9,264.7 303.9,265.7 302.0,265.8 300.4,265.2 299.1,264.9 297.2,265.1 296.0,264.3 294.0,265.1 292.8,264.1 291.4,264.3 289.4,264.3 288.0,264.7 286.2,264.0 284.5,264.1 282.9,263.4 281.9,263.8 279.8,263.0 278.4,263.6 276.6,263.0 275.9,262.8 274.4,262.1 272.0,262.6 271.0,261.7 269.3,262.0 268.1,262.2 266.8,261.6 264.3,261.4 263.4,260.9 261.3,260.7 260.4,260.6 258.7,260.8 256.7,260.7 255.2,260.5 253.5,259.4 252.6,259.3 250.5,258.9 248.9,259.1 247.9,259.2 246.4,259.4 245.1,259.6 243.6,259.2 241.6,259.1 240.1,259.0 239.1,259.0 236.9,258.7 236.2,258.5 233.9,258.6 232.6,259.3 230.7,259.2 229.1,258.8 227.6,259.3 226.4,258.8 225.3,258.6 223.1,259.0 222.4,258.7 220.0,259.1 219.5,258.3 217.2,258.8 216.2,258.5 214.0,258.2 213.5,258.8 211.6,258.6 210.0,257.8 208.1,258.6 206.9,258.5 205.0,258.0 203.4,258.3 202.8,257.5 200.4,257.9 199.0,258.4 197.6,257.9 195.7,257.8 195.1,258.1 193.6,258.4 191.1,257.3 189.6,258.2 188.7,258.3 187.7,258.2 185.5,257.7 183.5,257.2 182.9,257.8 181.1,257.7 179.2,257.0 177.9,258.0 176.4,257.3 175.0,257.5 173.6,257.2 171.7,257.9 170.3,256.8 168.8,257.7 167.9,257.7 166.1,256.8 163.8,257.0 162.5,256.6 161.0,257.2 159.9,257.2 157.8,257.4 156.9,256.9 155.0,256.3 154.0,256.3 152.1,256.7 150.9,256.8 148.9,256.1 148.0,257.0 146.3,256.4 144.0,256.9 142.9,256.6 141.5,256.5 140.4,256.0 138.9,256.5 136.4,256.5 135.0,256.6 133.9,256.6 132.6,255.7 130.9,256.3 128.7,255.9 127.2,256.0 126.3,255.7 125.1,255.4 123.6,256.3 121.3,255.9 120.7,256.1 119.3,255.0 117.4,255.3 116.0,256.1 114.1,255.2 113.0,255.0 111.1,255.5 109.3,255.7 107.6,254.7 107.0,255.6 104.8,255.5 103.5,254.7 102.0,255.3 100.8,254.4 99.1,254.4 97.2,254.0 96.6,254.6 94.1,254.0 92.8,253.7 91.1,253.1 89.7,253.6 89.1,253.3 86.9,251.7 85.8,252.2 84.6,251.0 83.1,250.3 84.2,249.8 86.0,249.2 86.9,248.0 88.4,247.2 90.2,246.5 91.2,245.2 93.1,245.4 95.0,244.6 96.3,243.1 97.7,243.1 99.2,242.7 101.0,241.5 102.1,241.8 103.7,240.5 105.5,239.8 106.5,239.7 108.4,238.9 109.9,238.7 111.5,238.3 113.1,238.6 114.2,237.7 115.7,238.2 117.7,237.2 118.6,237.4 120.5,237.0 121.3,236.1 123.8,236.7 124.5,235.5 126.7,236.2 127.5,235.3 129.4,235.5 130.4,235.0 132.2,235.1 133.7,234.5 135.8,234.4 136.9,233.7 139.0,234.2 140.1,233.0 142.0,233.8 142.6,233.1 144.1,233.3 145.6,232.3 147.3,232.5 149.7,232.3 150.8,232.3 152.8,231.7 153.4,230.9 155.1,230.7 157.0,231.5 159.0,230.9 160.2,230.7 161.6,230.7 163.3,230.6 164.6,230.4 166.1,230.0 167.7,229.3 169.3,229.0 170.0,229.0 172.3,229.7 173.0,228.5 175.6,228.6 176.8,229.2 177.5,228.4 179.6,228.6 180.7,228.5 183.1,228.3 183.8,227.8 186.0,227.3 187.2,227.2 188.5,228.0 190.1,227.5 191.3,227.4 192.7,226.4 195.1,227.3 196.7,226.7 197.7,226.2 199.7,226.5 201.1,225.8 202.3,225.3 203.3,225.2 205.4,225.8 206.6,225.8 208.8,225.4 209.9,224.7 211.4,224.8 212.9,224.2 214.2,224.6 215.9,224.7 217.3,223.8 218.8,223.6 220.9,224.2 222.8,223.9 224.0,224.1 225.5,223.8 226.6,223.8 228.2,223.7 229.6,223.2 231.8,221.7 232.7,220.9 234.1,220.5 235.5,219.6 237.1,218.2 237.4,217.4 239.9,217.1 240.2,216.2 242.2,215.6 242.2,213.6 244.1,212.8 244.1,211.3 245.5,210.1 245.8,209.1 246.5,207.7 247.8,206.0 248.2,204.9 249.3,203.7 250.1,202.3 250.9,201.2 251.7,200.2 252.6,199.2 254.1,197.3 254.4,196.1 255.3,195.0 256.5,193.1 257.5,191.9 257.8,190.2 258.4,189.3 259.2,187.8 260.1,185.7 260.2,183.8 260.4,183.0 260.5,180.6 261.1,178.9 261.7,177.8 262.0,176.7 262.3,174.8 261.9,173.4 263.0,171.9 262.7,170.4 263.5,168.0 263.0,166.8 263.4,164.9 263.8,163.9 264.4,161.8 264.2,161.3 264.2,159.4 264.5,158.0 264.3,156.1 265.2,154.5 264.6,153.4 265.5,151.3 264.7,149.6 265.3,147.9 265.3,147.4 265.6,145.1 265.1,143.8 264.5,142.9 265.4,141.4 264.7,139.5 265.5,138.5 264.6,136.8 264.8,134.7 265.2,133.5 265.2,131.7 265.5,130.1 264.8,129.4 265.4,126.7 265.5,126.0 265.6,124.6 265.0,123.2 264.6,121.3 265.3,119.6 265.3,117.8 265.5,116.5 265.6,115.2 265.7,113.1 266.1,112.0 265.6,111.0 266.6,109.4 266.6,107.3 266.9,106.1 267.0,104.3 266.1,102.6 267.3,101.6 267.3,99.6 267.8,98.1 268.1,96.3 269.2,95.5 270.5,93.4 271.0,91.8 271.9,90.9 272.3,88.6 272.9,87.0 272.5,86.0 273.5,84.8 274.0,82.6 274.1,81.2 274.7,80.0 275.1,78.7 275.6,77.5 275.3,75.6 276.4,73.4 276.0,72.4 276.7,70.5 276.5,68.7 276.8,67.9 276.7,65.9 276.9,64.8 277.9,63.6 277.4,61.0 277.4,59.5 277.8,58.0 278.2,57.1 278.4,56.0 279.6,53.5 279.2,52.9 279.6,50.5 279.8,49.2 280.8,47.4 280.0,46.1 280.5,44.7 281.2,43.0 281.6,42.4 281.3,40.0 281.3,38.7 281.9,37.7 281.8,36.3 282.6,34.3 283.2,33.0 282.8,30.7 283.5,29.3 283.9,27.7 283.3,26.9 283.9,25.2 284.5,23.4 284.4,21.8" fill="#ecdc22" opacity="1.0" />
<path transform="scale(.5)" d="M170 499h0M187 505h0M189 490h0M189 491h0M192 496h0M194 488h0M202 484h0M202 502h0M203 508h0M207 505h0M213 484h0M215 497h0M223 491h0M223 485h0M224 480h0M229 493h0M230 493h0M231 483h0M237 507h0M239 488h0M245 510h0M248 503h0M253 493h0M254 480h0M256 492h0M257 497h0M258 482h0M259 490h0M267 474h0M269 490h0M270 509h0M271 488h0M275 510h0M279 502h0M282 511h0M282 489h0M282 477h0M285 497h0M285 496h0M289 495h0M290 493h0M295 477h0M296 477h0M300 487h0M305 497h0M307 470h0M308 467h0M308 463h0M309 499h0M309 490h0M311 463h0M313 512h0M317 509h0M319 489h0M320 501h0M322 461h0M324 511h0M325 465h0M327 475h0M329 494h0M329 490h0M330 479h0M332 486h0M333 511h0M336 510h0M340 487h0M349 487h0M349 479h0M350 486h0M353 512h0M353 472h0M355 485h0M355 480h0M356 494h0M357 502h0M357 506h0M358 491h0M359 476h0M360 481h0M360 478h0M361 487h0M361 494h0M363 466h0M364 507h0M365 512h0M365 508h0M365 500h0M365 461h0M370 501h0M375 466h0M375 467h0M377 483h0M379 514h0M380 470h0M384 478h0M386 482h0M388 476h0M391 489h0M392 476h0M397 479h0M397 496h0M397 497h0M397 470h0M398 509h0M398 488h0M398 487h0M400 503h0M400 459h0M404 459h0M409 489h0M410 457h0M410 501h0M410 510h0M412 512h0M412 511h0M413 478h0M415 477h0M415 470h0M417 470h0M417 474h0M418 488h0M419 506h0M420 485h0M422 475h0M426 510h0M427 502h0M428 478h0M429 486h0M430 472h0M430 461h0M431 482h0M434 503h0M434 465h0M439 459h0M441 462h0M445 478h0M447 492h0M448 459h0M448 509h0M449 480h0M450 502h0M451 471h0M452 483h0M452 507h0M452 497h0M453 466h0M458 469h0M458 481h0M458 499h0M460 497h0M460 472h0M460 516h0M463 471h0M464 504h0M465 503h0M466 517h0M467 458h0M468 446h0M469 468h0M469 440h0M477 500h0M477 445h0M478 451h0M480 490h0M481 461h0M484 491h0M486 508h0M487 470h0M491 451h0M491 487h0M492 473h0M493 481h0M494 476h0M495 459h0M495 427h0M495 502h0M495 468h0M496 468h0M496 482h0M498 490h0M498 447h0M499 502h0M499 473h0M500 439h0M500 502h0M500 459h0M501 506h0M501 476h0M501 505h0M503 414h0M507 478h0M507 419h0M508 397h0M508 411h0M508 481h0M508 474h0M509 435h0M511 392h0M513 492h0M513 435h0M514 411h0M515 476h0M515 414h0M516 491h0M516 387h0M518 414h0M519 501h0M520 408h0M523 363h0M523 387h0M524 502h0M525 377h0M525 504h0M525 353h0M525 395h0M526 469h0M526 500h0M526 346h0M527 398h0M527 453h0M527 419h0M528 436h0M528 389h0M528 348h0M528 382h0M528 454h0M528 337h0M529 462h0M529 391h0M530 495h0M530 384h0M530 280h0M531 278h0M531 419h0M532 468h0M533 283h0M533 346h0M533 429h0M533 517h0M533 453h0M533 497h0M534 272h0M534 437h0M534 478h0M534 518h0M535 374h0M535 415h0M535 352h0M536 379h0M536 369h0M536 202h0M536 498h0M537 507h0M537 420h0M537 419h0M537 507h0M537 198h0M538 335h0M538 399h0M538 196h0M538 400h0M539 238h0M539 388h0M539 433h0M539 205h0M539 307h0M539 258h0M539 364h0M540 431h0M540 281h0M540 521h0M541 475h0M541 200h0M541 455h0M541 414h0M542 192h0M542 347h0M542 353h0M542 495h0M542 383h0M543 420h0M543 423h0M543 354h0M543 290h0M544 220h0M544 260h0M544 429h0M544 396h0M545 358h0M545 418h0M545 266h0M545 444h0M546 179h0M546 383h0M546 420h0M546 317h0M547 306h0M547 195h0M547 431h0M547 519h0M548 473h0M548 219h0M548 171h0M548 503h0M549 391h0M549 328h0M550 262h0M550 354h0M551 310h0M551 441h0M552 396h0M552 472h0M553 158h0M553 358h0M553 236h0M553 423h0M553 275h0M553 293h0M554 222h0M554 235h0M554 217h0M554 265h0M555 379h0M555 430h0M555 465h0M555 426h0M556 136h0M556 330h0M556 491h0M556 202h0M556 360h0M556 387h0M556 266h0M557 198h0M557 434h0M558 167h0M558 420h0M558 178h0M558 341h0M559 454h0M559 107h0M560 276h0M560 323h0M561 133h0M562 448h0M562 437h0M562 483h0M562 288h0M562 341h0M563 454h0M563 202h0M563 224h0M563 103h0M564 417h0M564 468h0M564 167h0M564 229h0M564 362h0M564 222h0M565 383h0M565 77h0M565 432h0M565 243h0M565 114h0M566 136h0M566 371h0M567 75h0M567 321h0M567 216h0M567 363h0M567 391h0M567 478h0M568 242h0M568 205h0M568 169h0M568 55h0M570 423h0M570 445h0M571 514h0M572 184h0M572 111h0M572 483h0M572 445h0M573 453h0M573 442h0M573 55h0M573 86h0M573 108h0M573 250h0M574 321h0M574 349h0M574 442h0M574 285h0M574 170h0M574 312h0M575 224h0M575 142h0M575 251h0M575 469h0M576 157h0M577 239h0M577 516h0M577 184h0M577 273h0M578 433h0M578 256h0M578 453h0M579 415h0M579 199h0M579 337h0M579 487h0M580 458h0M580 207h0M580 433h0M580 235h0M580 404h0M581 485h0M581 497h0M581 371h0M582 303h0M582 444h0M583 503h0M584 425h0M585 437h0M585 418h0M586 402h0M586 487h0M586 527h0M587 413h0M587 506h0M588 347h0M588 498h0M589 457h0M589 387h0M589 456h0M592 425h0M592 479h0M593 402h0M593 394h0M593 500h0M594 460h0M594 493h0M594 469h0M595 431h0M596 470h0M597 463h0M598 521h0M599 433h0M600 447h0M600 486h0M601 509h0M601 461h0M601 529h0M602 498h0M602 467h0M603 461h0M603 513h0M605 497h0M609 495h0M612 507h0" stroke="#f4ec90" stroke-width="2.6" stroke-linecap="round" fill="none" opacity="0.8"/>
<path transform="scale(.5)" d="M301 476h0M305 479h0M306 477h0M307 476h0M312 485h0M312 485h0M313 481h0M313 483h0M313 481h0M314 479h0M316 476h0M316 477h0M316 483h0M318 487h0M318 487h0M319 475h0M320 484h0M321 486h0M321 479h0M322 492h0M322 480h0M322 488h0M323 485h0M323 477h0M324 489h0M326 472h0M327 493h0M328 492h0M329 491h0M329 482h0M329 493h0M330 474h0M331 488h0M331 493h0M331 482h0M332 473h0M333 480h0M333 480h0M333 473h0M334 477h0M334 492h0M335 478h0M335 471h0M337 476h0M337 480h0M339 470h0M339 487h0M339 475h0M339 485h0M341 488h0M341 479h0M341 489h0M341 481h0M341 493h0M342 470h0M343 486h0M343 480h0M343 490h0M344 489h0M345 491h0M347 490h0M348 492h0M349 481h0M351 476h0M352 490h0M352 473h0M354 468h0M354 468h0M354 484h0M355 472h0M355 482h0M356 491h0M356 479h0M356 488h0M357 476h0M357 486h0M358 481h0M359 472h0M359 474h0M360 468h0M360 477h0M362 482h0M362 482h0M365 479h0M366 491h0M367 483h0M367 466h0M367 492h0M368 482h0M368 485h0M369 489h0M369 482h0M369 481h0M370 487h0M370 484h0M370 476h0M370 478h0M372 472h0M373 467h0M373 485h0M373 492h0M374 468h0M374 464h0M375 486h0M375 468h0M376 479h0M377 480h0M378 489h0M379 481h0M379 478h0M379 471h0M379 464h0M379 472h0M380 480h0M381 490h0M381 490h0M382 479h0M382 474h0M382 488h0M383 487h0M383 475h0M384 466h0M387 467h0M388 465h0M389 468h0M390 482h0M390 471h0M392 487h0M393 488h0M393 486h0M393 481h0M393 482h0M393 474h0M395 471h0M398 478h0M399 461h0M399 485h0M400 467h0M400 480h0M401 478h0M402 465h0M402 485h0M402 471h0M403 472h0M403 463h0M403 468h0M404 478h0M404 489h0M404 460h0M404 476h0M405 484h0M405 481h0M405 487h0M406 461h0M406 485h0M407 487h0M407 477h0M409 473h0M410 473h0M411 471h0M413 469h0M414 460h0M414 466h0M415 477h0M415 473h0M415 462h0M417 474h0M417 484h0M417 467h0M418 470h0M420 463h0M421 468h0M422 461h0M422 458h0M422 484h0M423 464h0M423 464h0M423 486h0M423 459h0M424 479h0M424 457h0M424 474h0M425 474h0M427 471h0M427 472h0M428 479h0M429 468h0M429 467h0M429 479h0M429 472h0M431 457h0M431 482h0M431 457h0M433 459h0M433 472h0M433 479h0M435 463h0M436 479h0M436 480h0M436 480h0M437 465h0M437 463h0M437 468h0M438 482h0M439 462h0M439 456h0M439 473h0M440 463h0M440 479h0M440 459h0M442 460h0M442 461h0M444 482h0M444 482h0M445 473h0M445 458h0M446 463h0M446 469h0M447 477h0M447 469h0M448 470h0M448 468h0M448 461h0M449 457h0M450 458h0M450 468h0M450 471h0M450 482h0M450 474h0M450 478h0M450 476h0M450 482h0M451 455h0M452 467h0M452 467h0M452 461h0M453 454h0M453 457h0M455 479h0M455 453h0M456 458h0M456 464h0M456 459h0M457 454h0M457 465h0M459 455h0M460 480h0M460 466h0M461 459h0M461 463h0M462 469h0M463 475h0M463 477h0M463 451h0M463 467h0M464 456h0M465 467h0M466 458h0M466 472h0M467 462h0M467 475h0M468 451h0M469 479h0M471 456h0M471 461h0M472 458h0M473 462h0M474 473h0M475 465h0M475 470h0M476 450h0M476 457h0M477 463h0M477 454h0M478 474h0M479 453h0M480 456h0M480 466h0M481 450h0M481 467h0M481 458h0M481 458h0M481 471h0M482 464h0M482 467h0M483 456h0M483 475h0M483 463h0M486 467h0M486 452h0M486 469h0M487 449h0M487 474h0M487 460h0M488 453h0M488 460h0M488 448h0M488 463h0M489 462h0M489 460h0M489 471h0M489 465h0M490 476h0M490 467h0M491 463h0M491 472h0M491 464h0M491 448h0M491 449h0M492 448h0M492 464h0M492 474h0M492 467h0M493 450h0M493 455h0M493 460h0M494 452h0M494 458h0M494 475h0M494 450h0M495 457h0M495 467h0M495 452h0M496 464h0M497 460h0M497 463h0M499 475h0M499 453h0M499 454h0M500 458h0M500 459h0M501 465h0M501 470h0M501 459h0M502 459h0M502 462h0M502 475h0M504 473h0M504 476h0M504 452h0M507 454h0M508 463h0M508 452h0M508 460h0M508 471h0M508 455h0M509 462h0M510 448h0M510 468h0M510 468h0M510 462h0M511 459h0M512 452h0M512 451h0M512 459h0M512 470h0M513 470h0M513 457h0M514 458h0M515 450h0M516 465h0M516 460h0M517 462h0M517 471h0M517 454h0M518 453h0M520 459h0M520 450h0M520 446h0M521 447h0M521 449h0M521 474h0M521 469h0M523 468h0M523 446h0M524 451h0M525 459h0M525 465h0M526 461h0M526 451h0M526 456h0M527 470h0M528 445h0M528 447h0M528 448h0M530 473h0M531 452h0M531 462h0M531 464h0M534 454h0M535 451h0M535 451h0M536 447h0M536 459h0M539 469h0M539 465h0M540 454h0M540 449h0M542 452h0M542 446h0M543 459h0M544 451h0M545 465h0M545 469h0M547 467h0M547 451h0M547 466h0M548 460h0M548 467h0M549 453h0M549 452h0M550 450h0M550 451h0M551 452h0M551 465h0M552 465h0M552 464h0M554 465h0M554 468h0M555 472h0M555 471h0M556 452h0M556 467h0M556 451h0M557 467h0M557 462h0M558 464h0M558 468h0M558 458h0M558 465h0M558 450h0M559 469h0M560 461h0M561 456h0M561 466h0M561 462h0M562 463h0M562 458h0M562 462h0M562 465h0M564 462h0M566 453h0M568 455h0" stroke="#c77ab5" stroke-width="3.2" stroke-linecap="round" fill="none" opacity="0.5"/>
<path transform="scale(.5)" d="M357 503h0M360 503h0M361 508h0M361 506h0M364 510h0M365 510h0M365 500h0M368 502h0M370 507h0M371 510h0M372 501h0M375 511h0M377 503h0M378 504h0M379 502h0M380 506h0M381 502h0M382 509h0M384 501h0M388 498h0M388 503h0M390 499h0M391 503h0M392 510h0M392 508h0M392 504h0M395 512h0M398 509h0M398 513h0M399 506h0M401 499h0M402 497h0M402 511h0M403 505h0M404 509h0M404 506h0M404 501h0M405 503h0M405 513h0M405 498h0M407 511h0M410 511h0M410 497h0M411 500h0M411 498h0M411 503h0M412 499h0M412 506h0M412 505h0M413 505h0M413 503h0M417 514h0M420 514h0M421 510h0M421 505h0M422 500h0M423 500h0M423 503h0M424 503h0M425 504h0M426 502h0M426 509h0M426 508h0M426 511h0M428 502h0M428 510h0M428 514h0M430 513h0M431 512h0M431 502h0M432 514h0M432 514h0M432 502h0M432 514h0M433 514h0M433 512h0M433 512h0M434 499h0M434 513h0M434 510h0M435 513h0M435 507h0M437 508h0M437 511h0M438 515h0M438 499h0M440 499h0M441 510h0M443 500h0M448 513h0M448 507h0M451 506h0M453 513h0M454 503h0M454 501h0M455 500h0M456 514h0M457 514h0M457 511h0M458 509h0M460 508h0M460 503h0M460 501h0M461 505h0M462 507h0M463 510h0M463 510h0M463 512h0M465 512h0M466 506h0M470 502h0M471 512h0M474 511h0M474 516h0M475 516h0M476 510h0M477 512h0M477 512h0M479 516h0M480 510h0M481 514h0M481 516h0M485 506h0M485 513h0M486 511h0M487 514h0M489 508h0M489 507h0M489 510h0M489 512h0M490 508h0M490 510h0M490 507h0M491 509h0M494 511h0M497 516h0M497 506h0M500 513h0M501 507h0M502 512h0M502 513h0M506 509h0M507 506h0M507 511h0M508 510h0M508 515h0M513 508h0M514 509h0M514 515h0M515 511h0M517 514h0M517 513h0M517 510h0M518 507h0M520 507h0M521 518h0M522 512h0M523 516h0M524 514h0M531 511h0M532 513h0M532 509h0M537 514h0M538 512h0M543 513h0M543 513h0M544 512h0" stroke="#c77ab5" stroke-width="3.2" stroke-linecap="round" fill="none" opacity="0.5"/>
<polygon points="82.0,250.1 83.4,250.1 84.7,248.6 85.9,247.9 87.4,247.5 89.5,246.6 90.1,246.4 91.6,246.3 93.3,245.8 95.4,245.1 96.7,245.0 98.3,244.6 100.1,243.7 101.9,243.9 103.0,243.1 104.9,243.3 106.5,242.7 108.2,242.9 110.4,241.9 112.1,242.3 113.6,242.5 115.3,242.8 116.6,241.9 118.0,242.1 119.8,242.1 121.6,242.9 123.7,243.0 124.8,243.5 126.6,243.8 128.4,243.9 130.5,244.3 131.1,244.2 132.6,245.0 134.8,245.4 136.4,245.6 137.4,246.1 139.2,246.0 140.1,246.0 142.1,246.9 143.6,246.9 145.3,247.6 147.1,248.1 148.1,248.5 150.6,248.7 151.5,248.8 152.9,248.7 154.8,249.9 156.7,249.4 158.7,250.5 159.6,250.2 161.2,250.4 163.4,250.9 164.3,251.8 166.0,252.1 168.5,252.7 169.2,252.5 171.2,252.4 173.5,252.8 175.1,253.7 176.0,253.7 178.2,253.9 176.8,255.6 175.7,256.2 174.0,256.0 172.7,256.7 171.1,255.9 169.6,256.6 168.4,256.7 166.5,255.9 165.0,256.2 163.1,256.3 161.6,256.4 159.6,256.3 158.5,256.1 157.1,255.5 155.9,255.5 154.3,255.5 152.0,255.4 151.2,255.3 149.0,255.8 147.9,255.6 146.6,255.9 144.2,255.5 142.6,255.3 141.6,255.8 140.2,255.6 138.1,255.2 137.0,255.4 135.6,255.7 133.6,254.7 132.8,255.4 130.7,255.2 129.7,255.0 127.8,254.6 125.7,254.8 124.5,254.2 122.9,254.6 121.8,254.6 120.1,255.0 118.0,254.2 116.6,254.0 115.7,254.7 113.8,254.1 111.9,254.6 111.0,254.4 109.7,254.4 107.8,254.2 106.5,254.2 104.2,253.9 103.6,254.1 101.0,253.5 100.5,253.8 98.4,253.7 97.2,253.1 95.8,253.7 94.2,252.9 92.7,252.9 91.1,252.9 89.3,253.3 88.3,252.8 86.1,252.4 84.2,252.5 82.8,252.5" fill="#9436bf" opacity="1.0" />
<polygon points="267.2,106.6 266.5,109.3 267.0,111.4 266.5,113.7 265.6,115.3 264.6,116.3 264.1,116.6 263.3,116.4 262.9,115.4 261.5,113.8 261.7,111.8 261.3,108.9 260.7,106.2 261.2,103.5 261.8,101.5 261.6,98.9 262.4,97.5 263.6,96.7 263.8,95.7 265.0,96.5 265.7,97.3 266.3,99.3 266.9,101.0 267.0,104.1" fill="#9436bf" opacity="1.0" />
<path transform="scale(.5)" d="M548 187h0M550 197h0M550 239h0M550 210h0M550 220h0M550 208h0M550 239h0M550 217h0M550 239h0M550 242h0M550 214h0M550 240h0M550 211h0M551 221h0M551 228h0M551 215h0M551 202h0M552 227h0M552 200h0M552 203h0M552 190h0M553 231h0M553 215h0M553 188h0M554 203h0M554 238h0M554 245h0M554 219h0M554 184h0M555 235h0M555 229h0M555 231h0M555 199h0M555 204h0M555 228h0M556 242h0M556 244h0M556 190h0M557 192h0M557 223h0M557 192h0M557 201h0M557 205h0M557 186h0M558 242h0M558 182h0M558 227h0M558 218h0M558 199h0M559 193h0M559 205h0M559 228h0M559 200h0M559 228h0M560 211h0M560 220h0M560 238h0M560 213h0M560 222h0M560 211h0M560 196h0M561 193h0M561 204h0M561 219h0M561 232h0M561 181h0M561 184h0M561 209h0M561 199h0M561 213h0M561 216h0M562 203h0M562 197h0M562 227h0M562 202h0M562 227h0M562 226h0M563 234h0M563 217h0M563 195h0M563 197h0M564 193h0M564 211h0M564 238h0M564 188h0M564 210h0M564 233h0M564 214h0M565 218h0M565 215h0M565 236h0M565 228h0M565 190h0M565 198h0M566 208h0M566 188h0M566 242h0M566 187h0M566 219h0M566 195h0M566 221h0M566 195h0M567 226h0M567 189h0M567 194h0M567 193h0M567 244h0M568 201h0M568 209h0M568 184h0M568 211h0M568 207h0M569 193h0M569 211h0M569 224h0M569 188h0M569 202h0M569 239h0M570 212h0M570 219h0M570 216h0M570 188h0M570 203h0M570 243h0M570 207h0M570 230h0M570 218h0M570 189h0M570 220h0M571 202h0M571 223h0M571 238h0M571 225h0M571 194h0M572 233h0M572 200h0M572 223h0M572 216h0M573 210h0M573 203h0M573 229h0M574 235h0M574 208h0M575 246h0M575 212h0M575 229h0M575 245h0M575 193h0M576 215h0M576 246h0M576 222h0M576 190h0M576 195h0M577 208h0M577 244h0M578 192h0M578 225h0M578 197h0M578 242h0M578 236h0M578 248h0M578 239h0M578 214h0M579 238h0M579 241h0M579 242h0" stroke="#c77ab5" stroke-width="3.2" stroke-linecap="round" fill="none" opacity="0.6"/>
<polygon points="277.5,135.0 277.6,133.3 279.8,132.9 280.4,131.4 280.7,128.9 282.2,128.4 282.4,129.3 283.6,131.2 284.4,132.0 286.5,132.9 286.5,135.3 286.5,136.5 286.7,137.4 287.0,139.6 287.9,140.6 287.6,142.9 287.1,144.0 287.4,146.3 287.7,147.0 287.5,148.7 288.4,149.9 287.8,151.6 289.0,153.8 288.1,155.4 288.8,157.0 288.4,157.7 289.7,159.3 288.8,162.1 288.5,163.2 289.7,165.4 288.8,165.6 288.3,168.5 289.6,170.0 289.1,170.6 288.9,172.1 289.8,174.6 289.8,175.3 289.0,177.8 288.8,179.2 289.0,180.9 288.4,181.9 286.6,183.0 285.3,183.3 283.9,181.9 284.1,180.2 282.6,178.7 282.0,177.9 282.2,175.9 281.9,174.9 279.9,173.3 279.5,172.2 279.9,170.7 279.8,169.7 278.5,167.9 278.8,165.6 278.1,164.6 278.1,162.0 278.8,161.5 278.5,159.1 277.3,157.9 277.0,156.4 277.6,155.1 276.8,153.2 277.2,152.7 276.3,149.9 277.3,148.9 277.8,147.3 277.1,146.1 277.2,144.9 277.6,142.8 277.0,141.5 277.0,139.4 276.6,138.1 277.1,136.0" fill="#9436bf" opacity="0.9" />
<path transform="scale(.5)" d="M550 278h0M550 266h0M550 250h0M550 274h0M550 278h0M550 269h0M551 291h0M551 258h0M551 279h0M551 291h0M551 257h0M551 277h0M551 301h0M551 300h0M551 274h0M551 263h0M551 301h0M552 287h0M552 269h0M552 252h0M552 297h0M552 265h0M552 263h0M552 313h0M552 286h0M552 295h0M552 295h0M553 284h0M553 262h0M553 266h0M553 309h0M553 273h0M553 278h0M553 264h0M553 297h0M553 287h0M553 294h0M553 326h0M553 265h0M553 260h0M553 325h0M553 288h0M553 256h0M553 266h0M553 263h0M554 262h0M554 305h0M554 260h0M554 269h0M554 269h0M554 303h0M554 315h0M554 332h0M554 278h0M554 333h0M554 262h0M554 294h0M554 330h0M554 321h0M554 254h0M554 274h0M554 313h0M554 321h0M554 315h0M554 297h0M555 336h0M555 330h0M555 334h0M555 244h0M555 259h0M555 330h0M555 244h0M555 293h0M555 282h0M555 294h0M555 311h0M555 276h0M555 283h0M555 304h0M555 294h0M555 331h0M555 295h0M556 317h0M556 273h0M556 336h0M556 320h0M556 326h0M556 334h0M556 249h0M556 291h0M556 314h0M556 332h0M556 270h0M556 311h0M556 316h0M556 279h0M556 263h0M556 325h0M556 341h0M556 250h0M556 320h0M556 283h0M556 268h0M556 250h0M556 290h0M556 286h0M556 329h0M556 329h0M556 260h0M557 259h0M557 287h0M557 274h0M557 265h0M557 267h0M557 330h0M557 285h0M557 248h0M557 322h0M557 324h0M557 244h0M557 303h0M557 251h0M557 273h0M557 264h0M557 255h0M557 338h0M557 324h0M557 304h0M557 333h0M557 261h0M557 355h0M557 341h0M557 341h0M558 329h0M558 247h0M558 322h0M558 263h0M558 259h0M558 245h0M558 287h0M558 349h0M558 242h0M558 326h0M558 283h0M558 326h0M558 321h0M558 312h0M558 283h0M558 293h0M558 305h0M558 302h0M559 251h0M559 318h0M559 247h0M559 251h0M559 311h0M559 297h0M559 264h0M559 266h0M559 249h0M559 310h0M559 275h0M559 338h0M559 274h0M559 282h0M559 280h0M559 311h0M559 302h0M559 261h0M559 349h0M559 345h0M560 350h0M560 337h0M560 359h0M560 245h0M560 251h0M560 261h0M560 266h0M560 239h0M560 355h0M560 355h0M560 255h0M560 360h0M560 276h0M560 271h0M560 269h0M560 268h0M560 296h0M560 263h0M560 309h0M560 265h0M561 314h0M561 254h0M561 350h0M561 294h0M561 243h0M561 343h0M561 352h0M561 348h0M561 259h0M561 316h0M561 252h0M561 341h0M561 334h0M561 363h0M561 264h0M561 342h0M561 343h0M561 315h0M561 317h0M561 257h0M561 282h0M561 299h0M561 268h0M561 314h0M561 326h0M561 301h0M561 302h0M561 325h0M561 327h0M562 262h0M562 257h0M562 348h0M562 350h0M562 303h0M562 302h0M562 336h0M562 308h0M562 357h0M562 316h0M562 303h0M562 305h0M562 280h0M562 240h0M562 246h0M562 348h0M562 239h0M562 293h0M562 317h0M562 270h0M562 265h0M563 326h0M563 291h0M563 363h0M563 336h0M563 278h0M563 259h0M563 247h0M563 320h0M563 238h0M563 351h0M563 315h0M563 337h0M563 358h0M563 256h0M563 295h0M563 258h0M563 354h0M563 299h0M563 294h0M563 300h0M563 351h0M563 356h0M564 280h0M564 313h0M564 237h0M564 273h0M564 278h0M564 360h0M564 246h0M564 279h0M564 312h0M564 294h0M564 277h0M564 249h0M564 349h0M564 258h0M564 271h0M564 311h0M564 359h0M564 315h0M564 315h0M564 338h0M564 277h0M565 242h0M565 254h0M565 254h0M565 244h0M565 301h0M565 255h0M565 307h0M565 307h0M565 344h0M565 331h0M565 331h0M565 259h0M565 288h0M565 267h0M565 351h0M565 312h0M565 346h0M565 252h0M565 326h0M565 301h0M565 348h0M565 239h0M565 310h0M565 331h0M565 321h0M565 293h0M565 256h0M565 354h0M566 328h0M566 283h0M566 274h0M566 251h0M566 246h0M566 317h0M566 260h0M566 344h0M566 338h0M566 250h0M566 276h0M566 349h0M566 352h0M566 301h0M566 275h0M566 352h0M566 321h0M566 365h0M566 352h0M566 285h0M566 289h0M566 265h0M566 298h0M566 260h0M566 317h0M566 268h0M566 366h0M566 266h0M566 284h0M566 312h0M566 331h0M566 269h0M566 291h0M567 343h0M567 335h0M567 238h0M567 238h0M567 364h0M567 246h0M567 317h0M567 238h0M567 262h0M567 242h0M567 316h0M567 371h0M567 271h0M567 319h0M567 341h0M567 264h0M567 302h0M567 243h0M567 358h0M567 307h0M567 371h0M567 326h0M567 252h0M567 310h0M567 305h0M567 265h0M567 297h0M567 369h0M567 315h0M567 301h0M567 249h0M568 269h0M568 259h0M568 331h0M568 334h0M568 250h0M568 298h0M568 260h0M568 319h0M568 346h0M568 305h0M568 318h0M568 332h0M568 314h0M568 246h0M568 334h0M568 331h0M568 256h0M568 255h0M568 375h0M568 278h0M568 330h0M568 264h0M569 295h0M569 276h0M569 361h0M569 345h0M569 358h0M569 245h0M569 295h0M569 270h0M569 288h0M569 350h0M569 267h0M569 367h0M569 332h0M569 369h0M569 366h0M569 320h0M569 294h0M569 309h0M569 258h0M569 364h0M569 304h0M569 282h0M569 291h0M569 291h0M569 303h0M569 253h0M570 369h0M570 251h0M570 280h0M570 293h0M570 359h0M570 272h0M570 272h0M570 344h0M570 373h0M570 312h0M570 264h0M570 365h0M570 279h0M570 374h0M570 282h0M570 273h0M570 302h0M570 245h0M570 333h0M570 344h0M570 302h0M570 348h0M570 287h0M570 375h0M570 295h0M570 332h0M570 292h0M570 338h0M570 281h0M570 353h0M570 339h0M570 352h0M570 291h0M571 283h0M571 288h0M571 262h0M571 263h0M571 258h0M571 283h0M571 349h0M571 319h0M571 256h0M571 332h0M571 261h0M571 259h0M571 278h0M571 366h0M571 318h0M571 378h0M571 280h0M571 302h0M571 290h0M571 366h0M571 369h0M571 324h0M571 273h0M571 267h0M571 283h0M571 288h0M572 359h0M572 330h0M572 289h0M572 255h0M572 325h0M572 276h0M572 313h0M572 337h0M572 311h0M572 350h0M572 256h0M572 296h0M572 267h0M572 374h0M572 304h0M572 302h0M572 349h0M572 380h0M572 292h0M572 323h0M572 335h0M572 348h0M572 296h0M572 308h0M572 271h0M572 297h0M573 308h0M573 314h0M573 269h0M573 328h0M573 271h0M573 352h0M573 249h0M573 268h0M573 269h0M573 342h0M573 368h0M573 376h0M573 258h0M573 250h0M573 293h0M573 279h0M573 317h0M573 373h0M573 259h0M573 261h0M573 247h0M573 344h0M573 330h0M573 311h0M573 263h0M573 340h0M573 282h0M573 312h0M573 320h0M574 346h0M574 272h0M574 245h0M574 245h0M574 252h0M574 318h0M574 370h0M574 367h0M574 373h0M574 348h0M574 283h0M574 374h0M574 283h0M574 251h0M574 279h0M574 247h0M574 361h0M574 306h0M574 265h0M574 339h0M574 259h0M574 330h0M575 340h0M575 379h0M575 290h0M575 253h0M575 372h0M575 352h0M575 351h0M575 337h0M575 340h0M575 275h0M575 365h0M575 257h0M575 254h0M575 332h0M575 308h0M575 283h0M575 373h0M575 368h0M575 373h0M575 285h0M575 299h0M575 310h0M575 376h0M575 334h0M575 321h0M575 305h0M575 257h0M576 351h0M576 283h0M576 370h0M576 311h0M576 370h0M576 277h0M576 325h0M576 327h0M576 299h0M576 263h0M576 276h0M576 305h0M576 342h0M576 302h0M576 304h0M576 359h0M576 352h0M576 336h0M576 346h0M576 336h0M576 317h0M576 291h0M576 329h0M576 343h0M576 309h0M576 294h0M576 323h0M576 336h0M577 294h0M577 332h0M577 351h0M577 324h0M577 376h0M577 297h0M577 277h0M577 302h0M577 334h0M577 266h0M577 302h0M577 328h0M577 291h0M577 275h0M577 354h0M577 275h0M577 331h0M577 276h0M577 267h0M577 284h0M577 355h0M577 349h0M577 324h0M577 293h0M577 298h0M577 287h0M577 369h0M578 285h0M578 280h0M578 332h0M578 324h0M578 346h0M578 338h0M578 306h0M578 290h0M578 295h0M578 345h0M578 325h0M578 332h0M578 295h0M578 320h0M578 290h0M578 305h0M578 372h0M578 370h0M578 363h0M578 271h0M578 300h0M579 322h0M579 278h0M579 314h0M579 324h0M579 355h0M579 361h0M579 348h0M579 361h0M579 342h0M579 369h0M579 355h0M579 366h0M579 323h0M579 317h0M579 339h0M579 336h0M579 309h0M579 359h0M579 338h0M579 339h0M579 323h0M579 288h0M579 309h0M579 316h0M579 336h0M580 326h0M580 376h0M580 325h0M580 373h0M580 358h0M580 301h0M580 300h0M580 282h0M580 345h0M580 308h0M580 344h0M580 354h0M580 376h0M580 313h0M580 285h0M580 287h0M580 304h0M580 349h0M580 297h0M580 344h0M580 291h0M580 308h0M580 359h0M580 319h0M580 320h0M580 368h0M580 307h0M581 293h0M581 318h0M581 303h0M581 323h0M581 339h0M581 332h0M581 325h0M581 299h0M581 329h0M581 332h0M581 310h0M581 343h0M581 337h0M581 330h0M581 369h0M581 355h0M581 372h0M581 319h0M581 362h0M581 351h0M582 319h0M582 342h0M582 362h0M582 311h0M582 334h0M582 373h0M582 374h0M582 370h0M582 350h0M582 339h0M582 325h0M582 363h0M582 318h0M582 329h0M582 354h0" stroke="#9436bf" stroke-width="3.4" stroke-linecap="round" fill="none" opacity="0.85"/>
<path transform="scale(.5)" d="M550 263h0M550 288h0M551 258h0M552 303h0M553 274h0M553 311h0M553 296h0M553 327h0M553 267h0M553 295h0M553 316h0M553 261h0M555 271h0M555 274h0M555 280h0M555 271h0M556 324h0M556 296h0M557 257h0M557 293h0M557 273h0M557 259h0M558 239h0M558 296h0M558 257h0M558 311h0M558 310h0M558 270h0M558 300h0M559 291h0M559 300h0M559 246h0M559 245h0M559 258h0M559 328h0M559 314h0M560 240h0M560 311h0M560 353h0M560 283h0M561 335h0M561 352h0M562 363h0M562 351h0M562 242h0M562 263h0M562 248h0M562 343h0M562 295h0M563 269h0M563 312h0M563 341h0M563 361h0M564 367h0M564 341h0M565 316h0M565 250h0M565 349h0M566 351h0M566 304h0M567 256h0M568 334h0M569 265h0M569 357h0M569 309h0M569 298h0M569 355h0M569 302h0M570 247h0M570 364h0M571 297h0M571 330h0M571 325h0M571 360h0M572 266h0M572 251h0M572 337h0M572 343h0M573 301h0M573 352h0M574 298h0M574 362h0M574 370h0M574 352h0M574 350h0M575 343h0M575 312h0M575 351h0M576 341h0M576 276h0M576 283h0M576 289h0M576 260h0M576 351h0M577 271h0M577 276h0M577 362h0M577 283h0M578 343h0M579 346h0M579 306h0M579 371h0M579 299h0M579 277h0M580 302h0M580 363h0M580 366h0M580 333h0M581 351h0M582 369h0M582 334h0M583 331h0" stroke="#e8b050" stroke-width="3.0" stroke-linecap="round" fill="none" opacity="0.7"/>
<polygon points="297.9,257.7 298.8,257.2 299.8,255.6 301.5,255.4 303.1,255.7 304.7,255.6 306.1,256.1 307.5,257.9 308.2,258.7 308.3,260.8 308.5,263.1 308.4,264.8 307.9,266.1 305.9,266.3 303.8,266.8 301.8,266.3 300.3,266.5 298.8,265.2 297.0,264.2 296.6,262.5 296.2,261.3 297.3,259.7" fill="#9436bf" opacity="1.0" />
<polygon points="297.8,256.7 297.8,257.5 297.5,258.1 297.6,258.6 296.9,259.2 296.8,259.4 295.8,259.3 295.4,259.7 294.7,259.1 294.9,259.1 294.3,258.2 294.3,257.9 293.7,257.3 294.2,256.3 294.1,255.9 294.5,255.5 294.8,254.8 295.3,254.7 296.0,254.6 296.3,254.7 297.3,254.7 297.4,255.0 297.9,255.8 297.7,256.5" fill="#9436bf" opacity="1.0" />
<path transform="scale(.5)" d="M775 352h0M776 352h0M777 351h0M781 349h0M784 350h0M784 359h0M786 351h0M789 349h0M789 345h0M789 343h0M790 344h0M790 347h0M790 347h0M790 350h0M794 348h0M795 343h0M795 340h0M795 348h0M796 362h0M796 348h0M796 347h0M796 348h0M797 340h0M797 361h0M797 346h0M798 342h0M798 360h0M798 361h0M799 339h0M800 344h0M801 346h0M803 360h0M803 337h0M803 360h0M804 365h0M804 346h0M804 347h0M806 360h0M807 364h0M809 335h0M810 345h0M810 338h0M810 340h0M811 341h0M812 367h0M812 343h0M813 347h0M813 336h0M813 332h0M813 339h0M814 339h0M814 333h0M814 366h0M814 333h0M815 346h0M816 348h0M816 361h0M818 364h0M818 347h0M818 361h0M819 347h0M819 366h0M820 341h0M820 338h0M821 344h0M821 341h0M821 327h0M822 331h0M822 328h0M823 340h0M823 363h0M824 366h0M824 362h0M825 367h0M825 333h0M826 364h0M826 341h0M828 368h0M828 342h0M829 361h0M829 342h0M829 346h0M829 326h0M830 372h0M830 364h0M830 342h0M830 363h0M831 361h0M831 345h0M832 331h0M833 363h0M833 361h0M834 367h0M834 326h0M834 336h0M835 336h0M835 371h0M835 331h0M835 368h0M836 362h0M836 366h0M836 318h0M837 363h0M837 335h0M837 344h0M838 338h0M838 346h0M838 366h0M839 343h0M839 344h0M840 327h0M841 343h0M841 336h0M841 336h0M842 371h0M842 342h0M842 342h0M842 327h0M842 326h0M843 343h0M843 372h0M843 331h0M843 346h0M843 323h0M844 362h0M845 346h0M845 345h0M845 344h0M845 341h0M845 324h0M845 340h0M845 341h0M845 363h0M845 346h0M846 363h0M846 362h0M846 343h0M846 362h0M847 327h0M847 338h0M847 373h0M848 323h0M848 365h0M849 337h0M850 363h0M850 337h0M850 341h0M850 342h0M850 339h0M851 371h0M851 346h0M851 337h0M851 337h0M852 364h0M852 368h0M852 377h0M852 341h0M852 367h0M852 363h0M852 334h0M853 312h0M853 374h0M853 363h0M854 375h0M854 346h0M854 346h0M854 363h0M855 377h0M855 345h0M855 307h0M856 333h0M857 366h0M857 321h0M858 344h0M858 368h0M858 313h0M858 381h0M858 337h0M859 315h0M859 363h0M859 333h0M859 347h0M859 344h0M859 340h0M859 380h0M859 376h0M860 377h0M860 344h0M860 369h0M861 368h0M861 338h0M861 318h0M861 321h0M861 346h0M862 306h0M862 324h0M862 372h0M862 364h0M862 342h0M863 382h0M864 372h0M864 378h0M864 362h0M864 343h0M865 365h0M865 331h0M865 328h0M866 366h0M866 318h0M866 315h0M866 321h0M866 377h0M866 364h0M867 343h0M867 377h0M867 333h0M867 330h0M868 323h0M868 343h0M868 344h0M869 342h0M869 368h0M869 344h0M869 365h0M870 343h0M870 342h0M870 364h0M870 330h0M870 384h0M871 344h0M871 336h0M871 323h0M872 345h0M873 334h0M873 365h0M873 334h0M874 366h0M874 363h0M874 365h0M874 338h0M874 383h0M874 364h0M875 308h0M875 374h0M876 326h0M876 373h0M876 327h0M877 316h0M877 366h0M877 324h0M878 368h0M878 304h0M879 323h0M879 331h0M879 337h0M879 366h0M880 374h0M880 371h0M880 338h0M880 377h0M880 338h0M881 370h0M881 342h0M883 387h0M883 314h0M884 325h0M884 331h0M884 345h0M884 365h0M884 376h0M884 344h0M884 387h0M885 373h0M885 336h0M886 329h0M886 368h0M886 332h0M887 371h0M887 298h0M887 341h0M888 321h0M888 385h0M888 323h0M889 335h0M889 340h0M890 370h0M891 338h0M891 382h0M891 367h0M892 376h0M892 340h0M892 325h0M892 370h0M893 327h0M893 311h0M893 333h0M893 339h0M893 370h0M894 345h0M895 381h0M895 380h0M895 339h0M895 340h0M895 337h0M896 373h0M896 374h0M896 369h0M897 340h0M898 372h0M898 373h0M898 317h0M898 371h0M899 313h0M900 378h0M900 366h0M900 371h0M900 378h0M900 332h0M900 372h0M900 333h0M901 375h0M901 278h0M901 343h0M902 367h0M902 302h0M902 371h0M902 283h0M902 340h0M902 384h0M903 337h0M903 371h0M903 306h0M903 286h0M904 332h0M904 327h0M904 332h0M904 373h0M906 343h0M906 310h0M906 367h0M907 340h0M908 366h0M909 344h0M909 344h0M909 314h0M910 370h0M910 389h0M910 388h0M910 374h0M910 327h0M910 323h0M910 294h0M910 304h0M911 371h0M911 342h0M911 376h0M912 323h0M912 341h0M912 376h0M913 373h0M914 344h0M914 343h0M914 342h0M914 271h0M914 383h0M914 377h0M915 337h0M915 291h0M915 320h0M915 329h0M916 389h0M916 330h0M916 379h0M917 369h0M917 340h0M918 368h0M918 390h0M919 333h0M919 369h0M919 332h0M920 382h0M920 344h0M920 377h0M920 336h0M920 334h0M920 298h0M922 299h0M922 335h0M922 376h0M922 333h0M923 367h0M923 378h0M923 371h0M923 377h0M924 376h0M924 383h0M924 379h0M924 309h0M924 281h0M924 323h0M924 314h0M925 286h0M925 279h0M926 327h0M927 370h0M927 343h0M927 337h0M927 306h0M927 329h0M927 379h0M927 374h0M927 371h0M927 380h0M927 321h0M927 339h0M927 281h0M928 388h0M928 377h0M928 376h0M928 343h0M929 270h0M929 379h0M929 379h0M929 340h0M929 380h0M929 343h0M930 342h0M930 320h0M930 382h0M930 381h0M930 335h0M930 375h0M931 373h0M932 341h0M932 332h0M932 330h0M932 319h0M932 377h0M932 334h0M932 337h0M933 336h0M933 335h0M933 376h0M933 329h0M933 384h0M933 385h0M934 368h0M934 380h0M934 341h0M935 384h0M935 340h0M935 380h0M935 317h0M935 342h0M935 325h0M936 375h0M936 394h0M936 377h0M936 368h0M936 325h0M936 385h0M937 371h0M937 376h0M937 321h0M937 395h0M939 335h0M939 342h0M940 367h0M940 379h0M940 308h0M940 369h0M941 268h0M941 368h0M941 318h0M941 339h0M941 342h0M941 372h0M942 320h0M942 302h0M942 339h0M942 383h0M942 368h0M942 338h0M942 339h0M942 341h0M942 376h0M942 376h0M942 328h0M943 380h0M943 379h0M944 378h0M944 273h0M944 380h0M945 334h0M945 369h0M946 283h0M946 311h0M947 371h0M947 317h0M947 307h0M947 385h0M947 325h0M948 394h0M948 382h0M948 378h0M948 234h0M949 300h0M949 340h0M949 338h0M949 383h0M949 380h0M950 292h0M950 329h0M950 392h0M950 303h0M950 385h0M950 389h0M950 385h0M951 342h0M951 381h0M951 394h0M952 377h0M952 309h0M952 373h0M952 392h0M952 369h0M953 323h0M953 380h0M953 330h0M953 380h0M953 387h0M953 381h0M953 332h0M953 334h0M953 386h0M953 375h0M954 379h0M954 318h0M954 375h0M954 389h0M954 340h0M954 240h0M954 380h0M954 334h0M954 340h0M955 392h0M955 310h0M955 395h0M955 335h0M955 380h0M955 372h0M956 321h0M956 340h0M957 334h0M957 389h0M957 386h0M957 386h0M958 398h0M958 380h0M958 392h0M959 328h0M959 330h0M959 316h0M959 316h0M960 338h0M960 387h0M960 392h0M960 341h0M960 320h0M960 320h0M960 324h0M960 275h0M960 332h0M960 339h0M960 388h0M961 391h0M961 389h0M961 369h0M961 335h0M961 395h0M961 381h0M962 376h0M962 390h0M962 389h0M962 381h0M962 340h0M962 311h0M963 218h0M963 372h0M963 380h0M963 397h0M963 398h0M965 388h0M965 326h0M965 377h0M965 394h0M965 379h0M965 386h0M966 311h0M966 330h0M966 305h0M966 333h0M966 337h0M966 335h0M966 330h0M966 400h0M966 223h0M966 329h0M966 369h0M966 371h0M967 337h0M967 395h0M967 334h0M967 401h0M967 370h0M967 337h0M967 376h0M967 336h0M967 205h0M968 206h0M968 377h0M968 205h0M968 334h0M968 370h0M968 323h0M968 398h0M969 370h0M969 332h0M969 379h0M969 340h0M969 403h0M969 258h0M969 376h0M969 206h0M969 338h0M969 395h0M969 379h0M970 318h0M970 379h0M970 213h0M970 385h0M970 279h0M970 339h0M970 332h0M971 215h0M971 385h0M971 409h0M971 382h0M971 253h0M971 409h0M971 207h0M971 384h0M972 403h0M972 385h0M972 204h0M972 400h0M972 395h0M972 386h0M972 315h0M973 337h0M973 372h0M973 269h0M973 215h0M973 214h0M973 396h0M973 335h0M973 393h0M974 213h0M974 386h0M974 328h0M974 338h0M974 382h0M975 212h0M975 379h0M975 334h0M975 323h0M975 207h0M975 248h0M975 339h0M975 389h0M975 380h0M975 213h0M976 215h0M976 341h0M976 391h0M976 314h0M976 402h0M976 372h0M976 396h0M976 201h0M976 340h0M977 372h0M977 212h0M977 380h0M977 327h0M978 324h0M978 376h0M978 375h0M978 370h0M978 317h0M979 397h0M979 383h0M979 335h0M979 378h0M979 322h0M979 370h0M979 390h0M979 201h0M980 202h0M980 218h0M980 278h0M980 378h0M980 339h0M980 331h0M981 200h0M981 399h0M981 388h0M981 324h0M982 384h0M982 251h0M982 277h0M982 219h0M982 262h0M982 253h0M982 312h0M982 209h0M982 385h0M983 222h0M983 392h0M983 371h0M983 217h0M983 285h0M983 379h0M983 386h0M984 228h0M984 334h0M984 338h0M984 332h0M984 378h0M984 397h0M984 373h0M984 394h0M984 371h0M985 215h0M985 205h0M985 219h0M985 376h0M985 212h0M985 397h0M985 291h0M985 208h0M986 338h0M986 379h0M986 337h0M986 372h0M986 407h0M987 385h0M987 221h0M987 400h0M987 225h0M987 306h0M987 222h0M988 196h0M988 405h0M988 219h0M988 396h0M988 211h0M988 307h0M988 214h0M988 395h0M988 197h0M988 339h0M988 291h0M989 384h0M989 218h0M989 372h0M989 410h0M989 331h0M989 372h0M989 204h0M989 220h0M989 198h0M990 205h0M990 325h0M990 273h0M990 334h0M990 407h0M990 332h0M990 332h0M991 200h0M991 403h0M991 380h0M991 385h0M991 279h0M991 391h0M991 216h0M991 198h0M991 327h0M991 198h0M991 205h0M992 210h0M992 207h0M992 406h0M992 376h0M992 327h0M992 405h0M992 389h0M992 222h0M992 389h0M992 216h0M992 391h0M992 205h0M992 391h0M992 209h0M993 375h0M993 405h0M993 379h0M993 384h0M993 223h0M993 203h0M993 384h0M994 199h0M994 372h0M994 373h0M994 324h0M994 196h0M994 328h0M994 289h0M994 206h0M994 414h0M994 386h0M995 407h0M995 199h0M995 203h0M995 383h0M995 319h0M995 413h0M995 206h0M996 219h0M996 378h0M996 223h0M996 378h0M996 400h0M997 328h0M997 408h0M997 403h0M997 378h0M997 401h0M997 196h0M997 409h0M997 393h0M997 339h0M997 384h0M997 219h0M997 200h0M997 313h0M998 375h0M998 379h0M998 413h0M998 337h0M998 385h0M998 211h0M998 327h0M998 205h0M998 202h0M999 373h0M999 336h0M999 401h0M999 397h0M999 410h0M999 288h0M999 373h0M999 396h0M999 323h0M1000 325h0M1000 332h0M1000 308h0M1000 372h0M1000 415h0M1000 405h0M1000 401h0M1001 198h0M1001 381h0M1001 387h0M1001 282h0M1001 337h0M1001 211h0M1001 317h0M1001 417h0M1001 219h0M1002 410h0M1002 392h0M1002 325h0M1002 222h0M1002 404h0M1002 301h0M1002 275h0M1003 335h0M1003 305h0M1003 336h0M1003 372h0M1003 213h0M1003 393h0M1003 386h0M1003 221h0M1003 374h0M1003 220h0M1003 375h0M1003 379h0M1003 372h0M1004 419h0M1004 339h0M1004 379h0M1004 221h0M1004 402h0M1005 312h0M1005 314h0M1005 218h0M1005 319h0M1005 255h0M1005 339h0M1006 250h0M1006 416h0M1006 221h0M1006 217h0M1006 392h0M1006 397h0M1007 337h0M1007 415h0M1007 390h0M1007 396h0M1007 404h0M1008 246h0M1008 201h0M1008 294h0M1008 402h0M1008 323h0M1008 302h0M1008 338h0M1008 384h0M1009 214h0M1009 339h0M1009 210h0M1009 279h0M1009 402h0M1009 395h0M1010 383h0M1010 207h0M1010 213h0M1010 388h0M1011 401h0M1011 260h0M1011 377h0M1011 394h0M1011 380h0M1011 211h0M1011 290h0M1012 378h0M1012 327h0M1012 422h0M1012 374h0M1012 390h0M1012 424h0M1012 301h0M1012 414h0M1013 217h0M1013 211h0M1013 320h0M1013 423h0M1013 211h0M1013 388h0M1013 373h0M1014 387h0M1014 420h0M1014 317h0M1014 409h0M1014 424h0M1014 212h0M1014 377h0M1014 326h0M1014 208h0M1015 399h0M1015 406h0M1015 386h0M1015 407h0M1015 374h0M1016 204h0M1016 314h0M1016 202h0M1016 415h0M1016 413h0M1016 386h0M1016 332h0M1016 417h0M1017 308h0M1017 390h0M1017 214h0M1017 390h0M1017 339h0M1017 393h0M1017 311h0M1017 396h0M1017 380h0M1017 409h0M1017 411h0M1017 332h0M1018 338h0M1018 422h0M1018 416h0M1018 281h0M1018 379h0M1018 414h0M1018 208h0M1018 339h0M1018 216h0M1018 307h0M1018 329h0M1018 334h0M1019 303h0M1019 340h0M1019 330h0M1019 326h0M1019 404h0M1019 319h0M1019 395h0M1019 338h0M1019 421h0M1019 204h0M1020 387h0M1020 409h0M1020 403h0M1020 391h0M1020 340h0M1021 269h0M1021 406h0M1021 338h0M1021 391h0M1021 319h0M1021 215h0M1021 380h0M1021 414h0M1022 331h0M1022 382h0M1022 307h0M1022 426h0M1022 331h0M1022 340h0M1022 385h0M1022 379h0M1022 217h0M1022 317h0M1022 396h0M1023 395h0M1023 323h0M1023 382h0M1023 398h0M1023 291h0M1023 336h0M1024 415h0M1024 381h0M1024 418h0M1024 407h0M1024 340h0M1024 386h0M1024 329h0M1024 332h0M1024 336h0M1024 212h0M1024 211h0M1025 382h0M1025 413h0M1025 237h0M1025 382h0M1025 396h0M1025 335h0M1025 393h0M1025 407h0M1025 404h0M1025 217h0M1026 333h0M1026 334h0M1026 270h0M1026 384h0M1027 418h0M1027 399h0M1027 385h0M1027 418h0M1027 400h0M1028 215h0M1028 319h0M1028 378h0M1028 418h0M1028 210h0M1028 382h0M1028 339h0M1028 383h0M1028 301h0M1028 420h0M1028 334h0M1028 400h0M1029 399h0M1029 410h0M1029 419h0M1029 425h0M1029 326h0M1029 386h0M1030 208h0M1030 208h0M1030 377h0M1030 403h0M1030 411h0M1030 326h0M1031 296h0M1031 384h0M1031 385h0M1032 425h0M1032 327h0M1032 409h0M1032 212h0M1032 397h0M1032 383h0M1032 312h0M1032 381h0M1033 385h0M1033 420h0M1033 413h0M1033 380h0M1033 408h0M1033 409h0M1033 385h0M1034 258h0M1034 374h0M1034 214h0M1034 416h0M1035 384h0M1035 339h0M1035 209h0M1035 386h0M1035 333h0M1035 323h0M1035 294h0M1036 334h0M1036 332h0M1036 339h0M1036 383h0M1036 376h0M1036 389h0M1036 324h0M1036 326h0M1036 430h0M1037 386h0M1037 264h0M1037 436h0M1037 219h0M1037 384h0M1037 394h0M1037 323h0M1037 419h0M1038 213h0M1038 339h0M1038 405h0M1038 331h0M1038 381h0M1038 408h0M1038 401h0M1038 214h0M1038 403h0M1039 413h0M1039 336h0M1039 392h0M1039 375h0M1039 335h0M1039 331h0M1039 396h0M1039 326h0M1039 331h0M1039 429h0M1039 427h0M1039 315h0M1040 377h0M1040 416h0M1040 414h0M1040 383h0M1040 340h0M1041 310h0M1041 331h0M1041 264h0M1041 317h0M1041 437h0M1041 425h0M1041 390h0M1041 307h0M1041 407h0M1041 393h0M1041 258h0M1041 338h0M1041 413h0M1041 320h0M1041 326h0M1042 296h0M1042 256h0M1042 324h0M1042 321h0M1042 396h0M1042 428h0M1043 315h0M1043 405h0M1043 423h0M1043 320h0M1043 378h0M1043 411h0M1043 334h0M1043 287h0M1043 427h0M1044 339h0M1044 387h0M1044 413h0M1044 409h0M1044 394h0M1044 315h0M1044 434h0M1044 204h0M1045 408h0M1045 310h0M1045 432h0M1045 428h0M1045 404h0M1045 331h0M1045 376h0M1045 408h0M1045 333h0M1045 433h0M1045 192h0M1045 433h0M1046 425h0M1046 401h0M1046 380h0M1046 257h0M1046 385h0M1047 440h0M1047 432h0M1047 382h0M1047 400h0M1048 422h0M1048 424h0M1048 410h0M1048 378h0M1049 328h0M1049 330h0M1049 323h0M1049 382h0M1049 390h0M1049 432h0M1050 376h0M1050 411h0M1050 331h0M1050 388h0M1050 322h0M1050 333h0M1050 399h0M1050 444h0M1051 388h0M1051 338h0M1051 335h0M1051 426h0M1051 410h0M1051 390h0M1052 392h0M1052 433h0M1052 376h0M1052 407h0M1052 337h0M1052 375h0M1052 336h0M1052 389h0M1052 428h0M1052 330h0M1053 394h0M1053 335h0M1053 421h0M1053 333h0M1053 407h0M1053 385h0M1053 332h0M1053 411h0M1053 387h0M1054 377h0M1054 432h0M1054 386h0M1054 306h0M1054 384h0M1054 406h0M1054 375h0M1054 417h0M1054 441h0M1054 338h0M1055 319h0M1055 438h0M1055 198h0M1055 205h0M1055 222h0M1055 390h0M1055 339h0M1055 411h0M1055 399h0M1055 433h0M1055 375h0M1055 428h0M1056 327h0M1056 190h0M1056 380h0M1056 384h0M1056 415h0M1056 324h0M1056 427h0M1056 389h0M1057 390h0M1057 395h0M1057 436h0M1057 403h0M1057 401h0M1057 336h0M1057 395h0M1057 390h0M1057 338h0M1058 325h0M1058 413h0M1058 409h0M1058 197h0M1059 403h0M1059 381h0M1059 407h0M1059 268h0M1059 397h0M1059 417h0M1059 379h0M1059 413h0M1060 437h0M1060 437h0M1060 431h0M1060 210h0M1060 451h0M1060 391h0M1060 390h0M1060 334h0M1060 409h0M1061 386h0M1061 376h0M1061 412h0M1061 446h0M1061 315h0M1061 433h0M1061 422h0M1062 336h0M1062 401h0M1062 430h0M1062 239h0M1062 328h0M1062 419h0M1062 409h0M1062 427h0M1062 305h0M1063 405h0M1063 398h0M1063 285h0M1063 329h0M1063 391h0M1063 308h0M1064 377h0M1064 385h0M1064 450h0M1064 334h0M1064 321h0M1064 317h0M1064 417h0M1064 328h0M1064 394h0M1064 292h0M1065 454h0M1065 389h0M1065 336h0M1065 385h0M1065 395h0M1065 333h0M1065 335h0M1065 389h0M1065 377h0M1065 337h0M1065 329h0M1065 413h0M1065 403h0M1066 387h0M1066 258h0M1066 320h0M1066 452h0M1066 432h0M1066 402h0M1066 437h0M1066 391h0M1066 339h0M1066 294h0M1067 377h0M1067 423h0M1067 396h0M1067 424h0M1068 380h0M1068 412h0M1068 427h0M1068 385h0M1068 332h0M1068 280h0M1068 379h0M1068 400h0M1068 418h0M1068 389h0M1068 335h0M1068 433h0M1068 230h0M1069 453h0M1069 280h0M1069 293h0M1069 419h0M1069 387h0M1069 436h0M1069 299h0M1070 333h0M1070 389h0M1070 335h0M1070 389h0M1070 296h0M1070 404h0M1070 410h0M1071 442h0M1071 322h0M1071 392h0M1071 398h0M1071 291h0M1071 412h0M1071 450h0M1071 458h0M1072 385h0M1072 407h0M1072 332h0M1072 420h0M1072 447h0M1072 439h0M1072 390h0M1072 401h0M1072 455h0M1073 338h0M1073 322h0M1073 336h0M1073 413h0M1073 381h0M1073 425h0M1073 387h0M1073 336h0M1073 271h0M1074 443h0M1074 411h0M1074 398h0M1074 318h0M1074 423h0M1074 381h0M1074 316h0M1074 407h0M1074 408h0M1075 392h0M1075 331h0M1075 381h0M1075 408h0M1075 407h0M1075 449h0M1075 386h0M1076 381h0M1076 394h0M1076 261h0M1076 436h0M1076 454h0M1076 412h0M1076 396h0M1076 401h0M1076 329h0M1076 412h0M1077 455h0M1077 391h0M1077 432h0M1077 225h0M1077 329h0M1077 456h0M1077 333h0M1077 392h0M1077 391h0M1078 418h0M1078 337h0M1078 405h0M1078 407h0M1078 386h0M1078 411h0M1078 420h0M1078 335h0M1078 383h0M1078 337h0M1078 382h0M1078 438h0M1078 429h0M1078 408h0M1078 448h0M1079 422h0M1079 334h0M1079 329h0M1079 336h0M1079 394h0M1079 433h0M1079 446h0M1080 414h0M1080 436h0M1080 421h0M1080 416h0M1080 209h0M1080 407h0M1080 336h0M1080 430h0M1080 415h0M1080 402h0M1080 390h0M1081 338h0M1081 319h0M1081 405h0M1081 413h0M1081 423h0M1081 327h0M1081 334h0M1081 294h0M1081 322h0M1081 427h0M1081 159h0M1082 396h0M1082 419h0M1082 410h0M1082 297h0M1082 412h0M1082 381h0M1082 463h0M1083 311h0M1083 321h0M1083 455h0M1083 396h0M1083 395h0M1083 327h0M1083 390h0M1083 405h0M1083 401h0M1083 163h0M1083 434h0M1084 448h0M1084 459h0M1084 410h0M1084 384h0M1084 424h0M1084 329h0M1084 302h0M1084 455h0M1084 416h0M1085 421h0M1085 387h0M1085 383h0M1085 336h0M1085 228h0M1085 319h0M1085 391h0M1085 388h0M1085 298h0M1085 323h0M1086 400h0M1086 333h0M1086 409h0M1086 285h0M1086 313h0M1086 413h0M1086 386h0M1086 459h0M1086 400h0M1086 448h0M1086 401h0M1086 382h0M1087 426h0M1087 389h0M1087 425h0M1087 397h0M1087 437h0M1087 429h0M1087 429h0M1087 382h0M1087 433h0M1087 415h0M1088 448h0M1088 404h0M1088 441h0M1088 419h0M1088 291h0M1088 412h0M1088 316h0M1088 396h0M1088 336h0M1089 423h0M1089 265h0M1089 428h0M1089 428h0M1089 447h0M1089 400h0M1089 310h0M1089 445h0M1089 417h0M1089 432h0M1090 468h0M1090 396h0M1090 412h0M1090 408h0M1090 455h0M1090 440h0M1090 395h0M1090 468h0M1090 405h0M1090 425h0M1090 438h0M1090 419h0M1091 468h0M1091 411h0M1091 460h0M1091 447h0M1091 334h0M1091 440h0M1091 444h0M1091 326h0M1091 324h0M1091 405h0M1092 440h0M1092 386h0M1092 449h0M1092 405h0M1092 403h0M1092 425h0M1092 407h0M1092 318h0M1092 461h0M1092 460h0M1092 329h0M1093 418h0M1093 443h0M1093 332h0M1093 330h0M1093 389h0M1093 419h0M1093 424h0M1093 454h0M1093 401h0M1093 398h0M1093 462h0M1093 457h0M1093 334h0M1094 383h0M1094 322h0M1094 333h0M1094 401h0M1094 448h0M1094 410h0M1094 395h0M1094 422h0M1094 388h0M1094 410h0M1094 427h0M1094 472h0M1094 387h0M1094 330h0M1094 176h0M1094 166h0M1095 336h0M1095 328h0M1095 335h0M1095 317h0M1095 335h0M1095 391h0M1095 446h0M1095 216h0M1095 273h0M1095 403h0M1095 444h0M1095 442h0M1095 308h0M1095 331h0M1095 163h0M1095 416h0M1095 414h0M1095 450h0M1096 168h0M1096 422h0M1096 462h0M1096 408h0M1096 450h0M1096 440h0M1096 451h0M1096 442h0M1096 322h0M1097 333h0M1097 463h0M1097 460h0M1097 216h0M1097 319h0M1098 442h0M1098 468h0M1098 391h0M1098 410h0M1098 433h0M1098 389h0M1098 315h0M1098 417h0M1098 326h0M1098 398h0M1099 458h0M1099 458h0M1099 396h0M1099 423h0M1099 397h0M1099 391h0M1099 316h0M1099 390h0M1099 422h0M1100 415h0M1100 446h0M1100 252h0M1100 459h0M1100 409h0M1100 458h0M1100 399h0M1100 415h0M1101 431h0M1101 400h0M1101 449h0M1101 335h0M1101 335h0M1101 411h0M1101 460h0M1101 410h0M1101 336h0M1101 430h0M1101 399h0M1102 453h0M1102 424h0M1102 414h0M1102 442h0M1102 395h0M1102 394h0M1102 421h0M1102 435h0M1102 457h0M1102 416h0M1102 449h0M1102 453h0M1102 408h0M1102 468h0M1103 259h0M1103 402h0M1103 460h0M1103 433h0M1103 469h0M1103 406h0M1104 405h0M1104 404h0M1104 335h0M1104 417h0M1104 466h0M1104 404h0M1104 438h0M1104 213h0M1104 462h0M1104 416h0M1105 334h0M1105 323h0M1105 419h0M1105 444h0M1105 457h0M1105 414h0M1105 475h0M1106 431h0M1106 429h0M1106 432h0M1106 458h0M1106 435h0M1106 423h0M1106 404h0M1106 417h0M1106 417h0M1106 427h0M1106 431h0M1107 436h0M1107 446h0M1107 477h0M1107 416h0M1107 429h0M1108 235h0M1108 410h0M1108 197h0M1108 426h0M1108 332h0M1109 460h0M1109 155h0M1109 439h0M1109 466h0M1109 335h0M1109 203h0M1109 234h0M1109 408h0M1109 484h0M1110 470h0M1110 408h0M1110 440h0M1110 282h0M1110 437h0M1110 335h0M1110 451h0M1110 425h0M1110 426h0M1110 412h0M1110 326h0M1110 408h0M1110 447h0M1110 452h0M1111 471h0M1111 410h0M1111 427h0M1111 480h0M1111 413h0M1111 277h0M1111 481h0M1111 326h0M1111 407h0M1111 458h0M1111 407h0M1112 479h0M1112 431h0M1112 426h0M1112 432h0M1112 438h0M1112 234h0M1112 179h0M1112 438h0M1112 421h0M1113 438h0M1113 335h0M1113 319h0M1113 411h0M1113 331h0M1113 334h0M1113 413h0M1113 466h0M1113 304h0M1113 428h0M1113 415h0M1113 435h0M1113 465h0M1114 314h0M1114 320h0M1114 477h0M1114 292h0M1114 421h0M1114 414h0M1114 467h0M1114 332h0M1114 439h0M1115 446h0M1115 446h0M1115 335h0M1115 333h0M1115 303h0M1115 417h0M1115 476h0M1115 226h0M1115 454h0M1115 414h0M1115 437h0M1116 453h0M1116 252h0M1116 435h0M1116 432h0M1116 420h0M1116 435h0M1116 452h0M1116 418h0M1116 446h0M1116 421h0M1116 484h0M1116 446h0M1116 465h0M1116 419h0M1117 446h0M1117 331h0M1117 426h0M1117 419h0M1117 479h0M1117 482h0M1117 418h0M1117 449h0M1117 430h0M1117 264h0M1117 335h0M1117 326h0M1117 431h0M1117 326h0M1117 133h0M1117 331h0M1117 466h0M1118 309h0M1118 428h0M1118 463h0M1118 463h0M1118 420h0M1118 427h0M1118 453h0M1118 333h0M1118 465h0M1118 277h0M1118 484h0M1118 469h0M1119 487h0M1119 471h0M1119 254h0M1119 467h0M1119 464h0M1119 324h0M1119 112h0M1119 425h0M1119 112h0M1119 436h0M1119 334h0M1119 452h0M1120 481h0M1120 425h0M1120 439h0M1120 481h0M1120 481h0M1120 429h0M1120 257h0M1120 460h0M1120 472h0M1120 332h0M1120 443h0M1120 466h0M1120 467h0M1120 448h0M1121 424h0M1121 490h0M1121 444h0M1121 310h0M1121 441h0M1121 437h0M1121 431h0M1121 468h0M1122 482h0M1122 450h0M1122 295h0M1122 449h0M1122 429h0M1122 228h0M1122 305h0M1122 470h0M1122 206h0M1122 443h0M1122 293h0M1122 91h0M1122 83h0M1122 481h0M1122 466h0M1122 454h0M1123 480h0M1123 473h0M1123 441h0M1123 446h0M1123 324h0M1123 454h0M1123 326h0M1123 325h0M1123 332h0M1123 432h0M1123 445h0M1123 463h0M1124 479h0M1124 449h0M1124 467h0M1124 436h0M1124 482h0M1124 475h0M1124 332h0M1124 487h0M1124 455h0M1124 435h0M1125 450h0M1125 445h0M1125 449h0M1125 485h0M1125 480h0M1125 455h0M1125 446h0M1125 272h0M1125 464h0M1125 317h0M1125 445h0M1125 486h0M1125 453h0M1125 475h0M1125 453h0M1125 218h0M1125 332h0M1126 476h0M1126 465h0M1126 466h0M1126 322h0M1127 457h0M1127 437h0M1127 147h0M1127 449h0M1127 443h0M1127 445h0M1127 313h0M1127 90h0M1127 140h0M1127 315h0M1128 493h0M1128 457h0M1128 445h0M1128 450h0M1128 459h0M1128 317h0M1128 444h0M1128 483h0M1128 72h0M1129 113h0M1129 332h0M1129 484h0M1129 474h0M1129 258h0M1129 470h0M1129 450h0M1129 469h0M1130 210h0M1130 125h0M1130 453h0M1130 495h0M1130 462h0M1130 469h0M1130 455h0M1130 99h0M1130 445h0M1130 451h0M1130 455h0M1131 68h0M1131 467h0M1131 331h0M1131 475h0M1131 488h0M1131 465h0M1131 318h0M1131 494h0M1131 60h0M1131 330h0M1132 478h0M1132 450h0M1132 284h0M1132 330h0M1133 57h0M1133 474h0M1133 480h0M1133 297h0M1133 470h0M1133 454h0M1134 480h0M1134 501h0M1134 454h0M1134 468h0M1134 307h0M1134 497h0M1134 189h0M1134 477h0M1134 98h0M1134 480h0M1134 321h0M1134 465h0M1135 455h0M1135 308h0M1135 318h0M1135 461h0M1135 485h0M1135 474h0M1136 475h0M1136 490h0M1136 76h0M1136 496h0M1136 468h0M1136 334h0M1137 468h0M1137 330h0M1137 333h0M1137 473h0M1137 475h0M1137 467h0M1137 229h0M1137 330h0M1137 494h0M1138 501h0M1138 500h0M1138 474h0M1138 471h0M1138 477h0M1138 212h0M1138 463h0M1138 469h0M1138 317h0M1138 299h0M1138 333h0M1138 224h0M1139 247h0M1139 490h0M1139 267h0M1139 475h0M1139 482h0M1139 467h0M1139 480h0M1139 495h0M1140 471h0M1140 497h0M1140 481h0M1140 489h0M1140 329h0M1140 332h0M1140 106h0M1140 475h0M1141 298h0M1141 331h0M1141 471h0M1141 485h0M1141 468h0M1142 478h0M1142 306h0M1142 500h0M1142 307h0M1142 219h0M1142 278h0M1142 480h0M1142 491h0M1142 331h0M1143 488h0M1143 327h0M1143 475h0M1143 475h0M1143 103h0M1143 486h0M1143 472h0M1143 498h0M1143 111h0M1143 487h0M1144 480h0M1144 324h0M1144 331h0M1144 479h0M1144 154h0M1144 487h0M1144 330h0M1145 496h0M1145 196h0M1145 114h0M1146 481h0M1146 490h0M1146 479h0M1146 493h0M1146 111h0M1146 482h0M1146 479h0M1146 150h0M1146 488h0M1146 493h0M1146 322h0M1147 265h0M1147 488h0M1147 488h0M1147 315h0M1147 125h0M1147 496h0M1147 307h0M1147 314h0M1147 193h0M1147 57h0M1148 60h0M1148 276h0M1148 487h0M1148 494h0M1148 496h0M1148 330h0M1148 265h0M1148 331h0M1148 332h0M1148 255h0M1148 497h0M1148 70h0M1149 507h0M1149 260h0M1149 242h0M1149 238h0M1149 300h0M1149 250h0M1149 189h0M1150 290h0M1150 498h0M1150 240h0M1150 308h0M1150 157h0M1150 69h0M1150 243h0M1150 309h0M1151 221h0M1151 494h0M1151 333h0M1151 493h0M1151 512h0M1151 324h0M1151 231h0M1151 488h0M1151 486h0M1151 312h0M1151 224h0M1151 507h0M1151 219h0M1151 486h0M1151 278h0M1151 509h0M1151 225h0M1151 495h0M1151 137h0M1151 168h0M1151 85h0M1152 229h0M1152 497h0M1152 75h0M1152 164h0M1152 493h0M1152 509h0M1152 499h0M1152 329h0M1152 244h0M1152 152h0M1153 496h0M1153 508h0M1153 489h0M1153 493h0M1153 253h0M1153 143h0M1153 490h0M1153 326h0M1154 236h0M1154 290h0M1154 271h0M1154 159h0M1154 282h0M1154 237h0M1154 250h0M1154 235h0M1154 242h0M1154 315h0M1155 245h0M1155 282h0M1155 496h0M1155 161h0M1155 196h0M1155 172h0M1155 154h0M1156 98h0M1156 307h0M1156 95h0M1156 512h0M1156 257h0M1156 507h0M1156 323h0M1156 268h0M1157 154h0M1157 323h0M1157 514h0M1157 174h0M1157 266h0M1157 277h0M1157 250h0M1157 330h0M1157 312h0M1157 515h0M1158 332h0M1158 506h0M1158 257h0M1158 111h0M1158 278h0M1158 502h0M1158 271h0M1158 323h0M1158 277h0M1159 277h0M1159 255h0M1159 505h0M1159 192h0M1159 499h0M1159 332h0M1159 312h0M1159 331h0M1159 503h0M1160 512h0M1160 320h0M1160 178h0M1160 511h0M1160 112h0M1160 311h0M1160 272h0M1160 287h0M1161 514h0M1161 517h0M1161 510h0M1161 288h0M1161 325h0M1161 318h0M1161 504h0M1161 172h0M1161 117h0M1161 330h0M1161 508h0M1161 295h0M1161 123h0M1161 273h0M1162 509h0M1162 509h0M1162 173h0M1162 513h0M1162 283h0M1162 514h0M1162 280h0M1162 519h0M1162 512h0M1163 515h0M1163 269h0M1163 291h0M1163 184h0M1163 516h0M1163 129h0M1163 516h0M1163 186h0M1164 288h0M1165 318h0M1165 281h0M1165 287h0M1165 283h0M1165 320h0M1165 309h0M1165 284h0M1165 308h0M1165 327h0M1165 282h0M1166 283h0M1166 518h0M1166 291h0M1166 327h0M1166 288h0M1166 290h0M1166 300h0M1166 279h0M1166 514h0M1167 327h0M1167 514h0M1167 329h0M1167 292h0M1167 287h0M1167 520h0M1168 286h0M1168 134h0M1168 147h0M1168 320h0M1168 137h0M1168 516h0M1169 521h0M1169 305h0M1169 517h0M1169 281h0M1169 308h0M1169 519h0M1169 524h0M1169 327h0M1170 303h0M1170 517h0M1170 525h0M1170 296h0M1170 522h0M1170 327h0M1171 522h0M1172 320h0M1172 525h0M1172 319h0M1172 148h0M1172 315h0M1172 520h0M1172 522h0M1172 293h0M1172 524h0M1173 330h0M1173 298h0M1173 319h0M1173 163h0M1173 310h0M1173 294h0M1173 327h0M1173 296h0M1173 293h0M1173 310h0M1173 292h0M1174 327h0M1174 525h0M1174 170h0M1174 306h0M1174 173h0M1175 324h0M1175 330h0M1175 316h0M1175 320h0M1175 161h0M1175 297h0M1175 322h0M1176 180h0M1176 298h0M1176 301h0M1176 300h0M1176 296h0M1176 528h0M1177 313h0M1177 176h0M1177 328h0M1177 329h0M1178 530h0M1178 166h0M1178 180h0M1178 299h0M1178 329h0M1178 530h0M1178 327h0M1178 322h0M1178 302h0M1179 312h0M1179 330h0M1179 310h0M1179 306h0M1180 303h0M1180 323h0M1181 241h0M1181 248h0M1181 187h0M1182 198h0M1183 201h0M1183 310h0M1183 314h0M1183 320h0M1183 256h0M1183 320h0M1183 316h0M1183 263h0M1183 207h0M1184 327h0M1184 321h0M1184 265h0M1185 252h0M1185 328h0M1186 210h0M1186 323h0M1186 318h0M1187 327h0M1188 209h0M1188 270h0M1188 327h0M1188 266h0M1188 321h0M1188 327h0M1188 270h0M1189 215h0M1189 505h0M1189 266h0M1190 217h0M1190 214h0M1190 322h0M1190 272h0M1191 270h0M1191 278h0M1191 326h0M1191 502h0M1192 276h0M1192 491h0M1192 273h0M1192 495h0M1192 487h0M1193 328h0M1193 327h0M1193 212h0M1193 229h0M1194 328h0M1195 227h0M1195 283h0M1195 290h0M1196 481h0M1196 282h0M1196 471h0M1197 292h0M1197 473h0M1197 291h0M1198 465h0M1198 461h0M1198 469h0M1198 467h0M1198 470h0M1198 465h0M1198 463h0M1198 295h0M1199 467h0M1199 465h0M1199 229h0M1199 461h0M1200 234h0M1200 459h0M1201 443h0M1201 454h0M1201 238h0M1201 447h0M1202 252h0M1202 306h0M1203 435h0M1203 434h0M1203 432h0M1203 303h0M1203 329h0M1203 444h0M1203 445h0M1203 306h0M1203 447h0M1203 437h0M1204 330h0M1204 310h0M1204 307h0M1204 435h0M1205 431h0M1205 429h0M1205 266h0M1205 428h0M1206 266h0M1206 422h0M1206 428h0M1206 332h0M1206 435h0M1206 266h0M1206 422h0M1207 315h0M1207 419h0M1207 415h0M1207 414h0M1207 412h0M1207 424h0M1208 431h0M1208 272h0M1208 271h0M1208 406h0M1209 333h0M1209 331h0M1209 405h0M1209 414h0M1209 403h0M1209 410h0M1209 330h0M1209 328h0M1210 280h0M1210 329h0M1210 327h0M1210 406h0M1210 406h0M1211 402h0M1211 331h0M1212 402h0M1212 412h0M1212 414h0M1212 272h0M1213 393h0M1213 338h0M1213 403h0M1213 336h0M1214 398h0M1214 402h0M1214 288h0M1214 401h0M1214 394h0M1214 401h0M1215 394h0M1215 405h0M1215 298h0M1215 389h0M1216 397h0M1216 385h0M1216 289h0M1217 390h0M1217 295h0M1217 304h0M1217 398h0M1217 292h0M1217 302h0M1217 388h0M1218 390h0M1218 307h0M1219 377h0M1219 389h0M1219 376h0M1219 311h0M1219 298h0M1219 391h0M1219 384h0M1220 311h0M1220 387h0M1220 301h0M1220 298h0M1220 300h0M1220 382h0M1220 379h0M1220 314h0M1220 306h0M1221 313h0M1221 375h0M1221 314h0M1221 314h0M1221 383h0M1221 378h0M1221 374h0M1222 371h0M1222 371h0M1222 319h0M1223 308h0M1223 320h0M1224 373h0M1224 376h0M1224 320h0M1224 320h0M1224 321h0M1224 324h0M1225 363h0M1226 325h0M1226 359h0M1227 362h0M1227 350h0M1228 354h0M1229 359h0M1229 349h0M1229 349h0M1229 356h0" stroke="#ecdc22" stroke-width="3.2" stroke-linecap="round" fill="none" opacity="0.85"/>
<polygon points="385.6,177.1 388.1,176.3 388.7,176.0 390.7,176.4 392.7,175.8 393.8,175.4 395.7,174.6 397.2,174.7 398.4,173.8 399.7,174.4 401.3,173.8 402.9,174.4 404.8,174.3 406.2,173.6 407.0,173.5 409.6,174.4 410.2,173.3 411.9,174.2 413.1,174.1 415.2,173.7 416.0,174.2 418.4,174.3 419.9,173.7 421.5,173.9 423.0,173.9 424.3,173.6 425.8,173.9 426.7,173.5 428.1,173.0 430.6,173.0 431.5,173.9 433.5,173.5 435.1,173.1 435.9,173.2 437.9,173.3 439.1,172.5 441.3,172.5 442.8,173.0 443.4,173.1 445.0,173.1 446.6,171.9 448.6,172.8 449.9,172.5 452.1,172.5 453.4,172.5 455.0,171.6 456.3,172.1 458.3,172.5 458.8,171.5 460.5,171.8 462.8,171.9 463.7,172.1 464.9,171.8 466.7,171.3 467.9,171.6 469.6,171.8 471.9,171.7 473.5,171.5 474.7,171.6 476.4,171.7 477.5,170.8 479.5,170.8 481.3,170.9 482.1,171.2 483.5,170.8 485.1,171.1 486.9,170.8 488.4,170.5 490.3,170.9 491.6,170.7 493.3,170.5 494.7,170.2 495.5,170.4 497.9,170.5 499.2,170.0 500.2,169.9 502.0,170.3 503.8,169.6 505.3,169.9 506.1,169.9 507.6,170.5 509.4,169.5 510.8,169.6 512.5,170.5 513.4,169.9 515.3,169.7 516.5,169.8 519.1,170.5 520.1,169.5 522.1,169.8 522.9,169.6 524.6,169.3 526.6,169.8 528.0,169.2 529.1,169.6 530.9,169.2 531.9,169.8 533.3,169.3 535.3,169.3 537.2,169.1 538.1,168.8 540.3,169.2 541.2,169.6 542.7,168.7 544.8,169.4 545.4,168.4 547.8,168.7 548.7,168.0 550.2,169.0 551.9,168.4 554.1,168.0 555.6,167.7 556.2,168.0 557.9,168.1 560.2,168.3 561.0,167.9 562.9,167.9 564.2,167.8 565.4,167.2 568.0,166.8 568.4,166.8 570.2,167.5 571.8,167.0 573.3,166.8 575.0,167.1 576.4,166.4 578.2,166.7 579.5,165.8 581.4,165.6 582.4,165.5 583.8,165.8 585.2,164.9 587.0,164.7 588.8,165.0 589.5,164.4 591.8,164.9 593.5,164.8 594.6,164.8 596.2,164.8 597.0,165.4 598.8,166.0 600.8,166.7 602.4,166.5 603.2,167.5 605.3,168.0 606.2,169.4 607.4,170.7 608.8,171.1 610.6,172.6 611.5,173.1 612.3,173.8 614.4,175.2 613.7,177.7 612.5,178.9 612.2,181.5 611.9,182.2 610.5,184.3 610.4,185.4 609.4,186.8 609.3,188.5 609.0,190.2 608.2,190.8 608.2,192.7 607.7,193.8 606.4,196.0 606.5,197.4 605.4,197.9 604.7,200.0 604.6,200.9 604.3,202.9 603.9,204.9 602.9,206.4 602.6,207.4 602.8,208.7 602.8,210.8 602.6,211.4 601.5,213.9 602.1,214.7 600.7,216.1 601.5,217.9 600.2,219.8 600.6,221.6 600.2,222.9 599.8,223.9 599.6,225.8 598.7,227.0 598.4,228.2 598.6,230.4 598.6,231.0 597.5,232.8 598.0,235.1 597.1,236.2 597.2,237.7 596.5,239.0 597.2,240.6 596.6,242.7 596.7,243.4 595.9,245.6 595.4,246.9 595.7,247.8 594.7,249.8 594.6,250.7 595.0,252.3 594.3,253.5 594.0,255.5 593.6,256.8 593.5,259.1 592.9,259.9 593.3,261.7 592.0,262.7 591.9,264.6 591.7,266.2 589.5,266.1 588.6,264.3 588.5,263.8 586.7,262.2 586.7,260.6 585.7,259.9 584.2,258.1 584.1,257.0 583.5,254.9 582.7,253.3 580.9,252.3 580.7,251.4 580.1,249.4 578.7,247.4 578.1,246.8 576.8,245.3 576.9,244.4 575.1,242.5 575.2,240.7 574.5,240.4 573.1,239.1 572.7,236.6 571.9,236.3 570.8,235.0 570.8,233.4 569.1,232.0 568.3,230.9 568.6,228.5 568.0,227.1 566.8,226.6 566.8,224.7 565.6,223.7 564.4,221.3 563.8,220.2 563.7,219.4 563.3,217.9 562.2,216.5 561.7,214.1 561.3,213.0 560.2,212.2 559.4,210.0 559.5,208.2 557.7,206.9 557.3,205.6 556.3,204.2 555.8,203.2 554.9,201.8 554.1,199.8 552.8,199.5 552.8,197.9 551.9,196.5 550.9,195.2 550.0,194.0 549.5,192.5 547.1,191.6 545.4,191.4 544.9,191.2 542.4,190.1 540.9,189.7 539.7,189.9 538.5,189.0 537.2,189.3 535.5,189.0 534.2,189.0 532.3,188.1 530.9,187.4 528.4,187.1 527.3,187.0 526.1,187.3 524.8,186.9 523.3,187.2 521.2,186.5 519.8,186.5 518.2,187.4 517.0,187.0 515.3,186.3 514.3,187.1 513.1,186.2 510.9,185.9 509.0,186.6 507.8,186.7 506.4,185.5 504.8,185.7 504.0,186.5 502.5,185.8 500.7,186.0 499.4,186.2 498.0,185.0 495.5,185.3 494.4,184.9 493.6,185.8 491.3,184.7 490.3,184.7 488.4,184.6 487.5,185.2 484.9,184.9 484.0,185.0 482.2,184.8 481.1,184.4 478.7,184.3 477.9,184.6 476.6,183.4 474.1,183.3 472.9,183.2 471.6,184.0 470.1,183.6 467.9,183.4 466.8,183.1 465.0,183.8 463.8,183.3 462.6,183.3 461.0,183.0 459.6,183.4 457.4,182.8 455.9,183.0 455.3,183.3 453.0,182.7 451.6,182.7 449.6,183.4 448.1,182.7 447.2,182.9 445.4,182.5 443.6,182.4 442.1,182.6 440.5,182.0 439.0,181.6 438.2,181.4 436.2,181.7 434.5,180.7 432.9,180.5 431.1,180.7 429.5,180.4 428.6,180.4 427.0,181.0 425.2,180.1 423.7,180.0 422.0,179.8 420.4,180.0 419.5,180.0 417.4,180.0 416.9,179.9 414.4,180.5 413.5,179.7 412.5,180.3 409.9,180.2 408.7,180.2 407.3,179.8 406.5,180.3 404.1,179.6 402.9,180.1 400.9,179.6 400.5,179.5 398.2,180.1 396.2,179.2 394.5,179.4 393.8,179.9 392.1,178.8 390.0,179.5 388.5,177.8" fill="#ecdc22" opacity="1.0" />
<polygon points="569.4,17.5 570.2,18.0 570.5,19.4 571.6,21.7 571.4,23.0 571.5,24.1 572.0,26.3 571.9,27.5 573.0,28.8 573.0,30.5 572.5,32.7 572.9,34.0 573.4,35.3 574.4,36.5 574.8,38.9 575.4,40.1 575.8,41.5 576.0,43.4 575.6,44.3 576.6,46.3 576.9,47.4 577.1,49.1 577.3,51.4 577.9,52.5 578.6,54.0 579.2,55.5 578.9,57.2 579.4,58.1 579.9,60.1 580.6,61.3 580.7,63.3 581.0,64.9 581.7,65.9 582.4,68.1 582.5,69.2 582.2,71.2 582.5,72.9 582.8,73.5 583.2,75.3 583.9,77.4 584.7,78.4 584.7,80.4 584.8,81.9 585.8,83.1 586.6,85.1 586.2,86.5 586.9,88.2 587.1,89.2 587.8,90.4 588.4,91.7 589.0,93.5 588.5,95.0 589.8,96.9 590.3,98.0 590.5,99.8 590.6,101.2 591.6,102.1 591.3,104.5 592.1,105.8 592.5,107.5 592.5,108.0 594.1,110.1 594.5,111.4 594.2,113.2 595.0,113.8 596.0,116.1 596.6,117.4 597.1,118.4 597.8,120.5 597.6,121.8 598.2,122.9 599.5,124.4 599.5,125.8 600.1,127.3 600.8,129.0 601.9,130.4 602.1,131.5 602.8,133.3 602.5,134.8 603.6,135.1 603.9,137.3 603.9,139.0 604.6,139.9 605.1,141.9 606.1,143.5 605.8,144.9 606.7,146.6 607.5,147.5 607.9,148.7 607.5,150.0 608.0,152.5 608.5,153.8 609.6,155.0 609.9,156.9 610.3,157.9 610.9,158.7 610.6,160.4 611.6,161.7 611.4,163.9 612.2,165.4 611.8,167.1 612.2,168.1 612.8,169.9 613.3,170.7 614.2,172.8 613.8,174.3 612.5,173.8 609.7,173.0 610.1,171.5 608.5,169.0 608.6,168.0 607.8,166.5 606.8,165.0 607.0,164.0 605.5,162.3 605.2,160.5 604.2,159.7 604.1,157.6 603.4,156.8 603.0,155.4 602.8,153.9 601.6,151.8 602.0,150.4 600.9,149.2 600.2,147.1 599.6,145.5 598.8,144.7 598.8,143.6 598.1,141.9 597.7,140.7 597.5,138.6 596.5,136.8 596.0,135.5 595.3,134.2 595.1,133.2 593.9,131.7 593.6,129.6 593.6,128.1 592.5,126.2 592.0,125.3 592.3,123.5 591.7,122.1 591.1,120.6 590.8,119.5 590.5,117.1 589.5,115.9 588.9,114.8 588.2,113.1 587.8,112.1 587.1,109.9 587.1,108.1 586.5,107.4 586.5,106.1 585.9,104.0 584.9,102.5 585.0,101.0 584.5,99.1 583.6,98.7 583.7,96.2 583.9,95.1 583.0,93.8 583.0,92.7 581.6,91.2 581.9,88.7 581.3,87.2 580.3,85.6 581.0,84.4 580.5,83.0 579.8,81.9 579.8,80.3 579.5,78.6 578.5,77.5 578.6,76.4 577.5,74.4 577.7,73.2 577.8,71.5 576.3,70.6 577.0,69.1 575.7,67.8 576.0,66.3 575.1,64.4 574.6,62.5 574.8,61.2 574.0,60.5 573.8,58.2 573.5,57.5 572.8,56.0 572.9,54.7 571.9,52.9 571.6,50.7 571.4,49.7 571.3,48.2 570.2,46.4 570.2,45.5 570.2,44.1 568.9,42.5 568.8,41.2 568.8,39.2 567.5,37.8 567.2,36.3 567.2,34.9 566.4,34.3 567.0,32.9 566.0,30.3 566.8,29.6 567.2,27.8 567.1,26.0 567.2,23.9 566.7,22.6 567.2,20.6 569.0,19.3" fill="#ecdc22" opacity="1.0" />
<polygon points="581.5,94.4 583.0,95.5 584.8,94.8 586.1,94.0 588.2,95.1 589.2,95.8 590.0,97.4 590.5,99.5 589.6,100.2 590.1,101.8 588.9,103.7 588.9,105.8 588.4,106.7 588.4,109.0 587.5,110.3 588.2,111.0 589.1,113.4 588.9,114.3 589.4,116.1 589.7,117.9 589.8,118.6 590.4,120.3 590.1,122.0 589.9,124.1 591.2,124.8 590.4,127.2 591.4,128.4 591.2,129.6 591.8,131.0 592.6,132.3 592.8,133.8 592.9,135.2 593.6,137.1 594.9,137.9 595.2,140.0 595.3,141.3 596.9,142.9 596.6,143.4 597.6,145.8 597.7,146.2 599.2,148.2 599.5,149.0 600.6,150.9 600.2,152.6 601.3,154.1 601.4,154.7 602.2,156.7 603.6,158.3 603.9,158.8 604.5,161.8 603.9,163.4 605.2,164.4 602.7,164.5 601.0,164.0 599.2,164.3 597.1,162.6 595.9,161.4 594.6,160.4 593.8,159.0 593.2,158.1 592.2,156.9 591.9,155.0 591.0,153.4 590.3,151.9 589.9,150.4 588.5,150.0 587.7,148.7 587.9,146.8 587.4,145.8 586.2,143.7 585.7,141.9 584.9,140.6 584.4,139.9 584.1,137.8 582.4,136.7 582.7,135.4 581.7,134.1 581.2,132.8 580.5,130.8 580.1,130.0 579.4,128.3 579.1,126.9 579.3,125.0 578.4,124.1 578.9,121.8 578.5,120.1 578.2,119.4 577.8,118.0 577.4,115.8 576.4,114.0 576.7,112.6 576.2,110.9 575.2,109.5 575.6,108.3 575.8,107.5 576.5,105.3 576.8,104.3 577.1,102.9 577.4,100.8 577.8,100.3 579.0,98.8 580.3,97.0 581.5,96.2" fill="#ecdc22" opacity="1.0" />
<path transform="scale(.5)" d="M945 350h0M949 349h0M950 353h0M951 352h0M955 350h0M955 353h0M956 352h0M956 350h0M958 349h0M958 353h0M959 355h0M961 359h0M962 359h0M963 354h0M963 351h0M963 357h0M963 352h0M963 352h0M964 354h0M964 359h0M964 352h0M965 359h0M965 349h0M966 349h0M967 355h0M967 348h0M968 356h0M969 359h0M969 354h0M970 348h0M970 358h0M971 359h0M972 349h0M972 349h0M972 355h0M973 356h0M974 350h0M975 360h0M976 353h0M977 354h0M979 350h0M979 360h0M980 356h0M984 355h0M984 358h0M985 355h0M986 352h0M986 351h0M993 352h0M996 350h0M997 356h0M998 356h0M999 359h0M1000 347h0M1001 349h0M1001 355h0M1003 359h0M1003 351h0M1004 350h0M1004 350h0M1005 353h0M1007 360h0M1007 347h0M1008 347h0M1011 352h0M1012 359h0M1012 360h0M1013 355h0M1013 351h0M1013 359h0M1015 353h0M1015 361h0M1018 350h0M1019 361h0M1022 356h0M1023 358h0M1024 356h0M1025 349h0M1026 353h0M1027 347h0M1028 352h0M1030 361h0M1031 350h0M1031 353h0M1032 360h0M1032 348h0M1032 361h0M1033 348h0M1035 360h0M1035 348h0M1035 351h0M1035 349h0M1037 352h0M1037 347h0M1038 362h0M1039 347h0M1039 361h0M1041 354h0M1042 360h0M1043 355h0M1043 360h0M1044 360h0M1044 355h0M1045 349h0M1048 359h0M1048 358h0M1049 360h0M1049 360h0M1051 358h0M1051 359h0M1052 357h0M1052 352h0M1053 355h0M1057 350h0M1058 356h0M1060 352h0M1062 354h0M1063 348h0M1063 348h0M1066 349h0M1066 349h0M1067 355h0M1067 358h0M1069 348h0M1069 360h0M1070 358h0M1070 357h0M1070 357h0M1070 357h0M1072 354h0M1073 352h0M1073 348h0M1074 362h0M1074 353h0M1075 353h0M1076 351h0M1076 356h0M1076 353h0M1077 349h0M1077 353h0M1078 354h0M1079 362h0M1080 354h0M1081 360h0M1081 349h0M1081 355h0M1082 348h0M1084 348h0M1084 353h0M1084 354h0M1084 354h0M1085 356h0M1088 350h0M1089 354h0M1089 348h0M1089 349h0M1089 357h0M1090 349h0M1091 353h0M1092 359h0M1092 362h0M1092 359h0M1093 353h0M1093 348h0M1093 355h0M1094 355h0M1094 358h0M1097 353h0M1098 353h0M1098 359h0M1098 348h0M1099 356h0M1100 348h0M1100 361h0M1101 359h0M1101 351h0M1102 363h0M1103 350h0M1103 360h0M1104 350h0M1108 363h0M1110 357h0M1111 360h0M1111 353h0M1111 360h0M1114 362h0M1114 353h0M1114 358h0M1114 360h0M1114 359h0M1115 349h0M1115 357h0M1116 360h0M1121 354h0M1122 364h0M1122 362h0M1123 353h0M1124 358h0M1124 352h0M1126 352h0M1127 354h0M1127 361h0M1128 358h0M1129 351h0M1130 362h0M1131 360h0M1131 362h0M1134 351h0M1134 353h0M1135 351h0M1136 357h0M1136 354h0M1138 354h0M1138 356h0M1138 362h0M1138 356h0M1139 349h0M1140 363h0M1140 349h0M1143 361h0M1143 350h0M1144 357h0M1146 355h0M1146 362h0M1146 359h0M1147 357h0M1149 359h0M1149 357h0M1149 350h0M1153 353h0M1153 350h0M1156 354h0" stroke="#c77ab5" stroke-width="3.2" stroke-linecap="round" fill="none" opacity="0.5"/>
<path transform="scale(.5)" d="M1153 399h0M1153 380h0M1153 388h0M1154 395h0M1154 395h0M1154 399h0M1154 408h0M1155 406h0M1155 395h0M1155 379h0M1156 397h0M1156 408h0M1156 381h0M1156 402h0M1156 394h0M1156 396h0M1156 424h0M1157 423h0M1157 380h0M1157 416h0M1157 411h0M1158 430h0M1158 386h0M1158 405h0M1159 422h0M1159 393h0M1159 428h0M1159 388h0M1160 381h0M1160 379h0M1161 390h0M1161 398h0M1161 445h0M1161 415h0M1162 447h0M1162 423h0M1162 413h0M1163 386h0M1163 459h0M1163 393h0M1163 408h0M1163 460h0M1163 438h0M1163 394h0M1164 394h0M1164 443h0M1164 401h0M1164 397h0M1164 453h0M1164 392h0M1164 376h0M1164 418h0M1164 431h0M1164 445h0M1164 397h0M1165 379h0M1165 405h0M1165 380h0M1165 432h0M1165 386h0M1165 454h0M1165 447h0M1165 464h0M1165 467h0M1166 460h0M1166 430h0M1166 446h0M1166 398h0M1166 410h0M1166 393h0M1166 465h0M1166 459h0M1166 457h0M1166 472h0M1167 449h0M1167 440h0M1167 425h0M1167 458h0M1167 396h0M1168 404h0M1168 462h0M1168 386h0M1168 375h0M1168 385h0M1169 374h0M1169 475h0M1169 435h0M1169 471h0M1169 440h0M1169 422h0M1169 408h0M1169 402h0M1170 400h0M1170 422h0M1170 481h0M1170 439h0M1170 451h0M1170 393h0M1171 481h0M1171 433h0M1171 468h0M1171 411h0M1171 437h0M1171 437h0M1172 412h0M1172 459h0M1172 423h0M1172 466h0M1172 434h0M1172 467h0M1172 469h0M1172 380h0M1172 374h0M1172 460h0M1173 412h0M1173 412h0M1173 425h0M1173 433h0M1173 484h0M1173 451h0M1173 414h0M1173 391h0M1173 439h0M1173 389h0M1173 397h0M1173 398h0M1174 495h0M1174 416h0M1174 486h0M1174 442h0M1174 446h0M1174 488h0M1174 420h0M1175 418h0M1175 401h0M1175 455h0M1175 467h0M1175 463h0M1175 448h0M1175 382h0M1175 492h0M1176 407h0M1176 437h0M1176 437h0M1176 376h0M1176 448h0M1176 483h0M1176 483h0M1176 413h0M1176 448h0M1177 415h0M1177 496h0M1177 394h0M1177 431h0M1177 406h0M1177 376h0M1177 487h0M1178 417h0M1178 402h0M1178 500h0M1178 416h0M1178 412h0M1178 468h0M1178 437h0M1178 486h0M1178 439h0M1178 417h0M1178 467h0M1178 385h0M1178 449h0M1179 410h0M1179 439h0M1179 419h0M1179 434h0M1179 470h0M1179 380h0M1179 497h0M1179 445h0M1179 471h0M1179 413h0M1179 379h0M1179 419h0M1179 477h0M1180 455h0M1180 448h0M1180 374h0M1180 408h0M1180 439h0M1180 498h0M1180 408h0M1180 427h0M1180 424h0M1180 396h0M1181 487h0M1181 378h0M1181 394h0M1181 473h0M1181 398h0M1181 478h0M1181 442h0M1181 491h0M1181 397h0M1181 382h0M1181 410h0M1181 472h0M1181 441h0M1181 420h0M1182 409h0M1182 454h0M1182 497h0M1182 423h0M1182 446h0M1182 464h0M1182 377h0M1182 469h0M1182 494h0M1182 464h0M1183 402h0M1183 499h0M1183 391h0M1183 400h0M1183 394h0M1183 432h0M1183 416h0M1183 420h0M1183 473h0M1183 470h0M1183 437h0M1183 444h0M1184 456h0M1184 476h0M1184 436h0M1184 444h0M1184 460h0M1184 389h0M1184 426h0M1184 433h0M1184 467h0M1184 454h0M1184 429h0M1185 507h0M1185 461h0M1185 411h0M1185 469h0M1185 481h0M1185 411h0M1185 425h0M1185 403h0M1185 462h0M1185 484h0M1186 409h0M1186 412h0M1186 497h0M1186 448h0M1186 405h0M1186 464h0M1186 491h0M1186 442h0M1186 441h0M1186 428h0M1186 429h0M1187 394h0M1187 418h0M1187 386h0M1187 445h0M1187 470h0M1187 416h0M1188 481h0M1188 481h0M1188 478h0M1188 435h0M1188 409h0M1188 447h0M1189 455h0M1189 376h0M1189 488h0M1189 388h0M1189 447h0M1189 403h0M1189 488h0M1189 451h0M1189 452h0M1190 381h0M1190 480h0M1190 425h0M1190 442h0M1190 415h0M1190 451h0M1190 465h0M1190 401h0M1191 434h0M1191 384h0M1191 486h0M1191 461h0M1191 435h0M1191 460h0M1191 461h0M1191 435h0M1191 469h0M1191 376h0M1192 438h0M1192 413h0M1192 457h0M1192 449h0M1192 394h0M1192 436h0M1192 465h0M1192 473h0M1192 466h0M1193 455h0M1193 421h0M1193 400h0M1193 454h0M1193 404h0M1193 451h0M1193 446h0M1193 404h0M1193 416h0M1193 455h0M1193 448h0M1193 403h0M1193 472h0M1194 415h0M1194 379h0M1194 414h0M1194 411h0M1194 466h0M1194 469h0M1194 409h0M1194 416h0M1194 416h0M1195 448h0M1195 382h0M1195 382h0M1195 425h0M1195 448h0M1195 409h0M1196 381h0M1196 389h0M1196 380h0M1196 397h0M1196 465h0M1196 422h0M1197 401h0M1197 388h0M1197 417h0M1197 392h0M1198 405h0M1198 398h0M1199 399h0M1199 393h0" stroke="#c77ab5" stroke-width="3.2" stroke-linecap="round" fill="none" opacity="0.5"/>
<polygon points="386.2,177.5 387.7,176.7 388.6,175.6 390.3,174.4 392.0,174.0 393.3,174.0 395.1,173.9 396.8,173.6 398.1,173.1 399.9,173.2 401.5,172.6 402.9,172.5 405.0,173.1 406.4,172.6 408.0,173.2 409.3,172.8 410.4,172.9 412.5,172.6 413.4,172.9 414.9,172.4 417.2,172.2 418.7,172.5 419.6,172.7 421.1,172.0 422.6,172.7 424.3,172.8 425.5,172.8 427.5,172.2 429.3,171.9 430.1,172.7 432.5,172.4 433.2,172.8 435.6,171.9 436.6,172.5 438.0,172.2 440.3,172.1 441.1,172.3 443.4,172.7 444.1,172.9 445.9,172.6 447.4,173.0 449.6,172.3 450.3,172.7 452.7,173.0 454.0,172.9 455.7,173.1 457.3,172.8 458.8,173.2 459.9,173.6 461.5,173.4 463.4,173.5 464.1,173.9 466.1,174.2 467.0,174.5 469.3,174.6 470.6,174.3 471.7,174.1 473.8,174.6 475.6,175.2 476.4,175.3 478.5,175.9 479.6,175.7 478.1,178.4 476.1,178.6 475.2,177.8 473.3,178.0 471.6,178.2 470.0,178.3 468.1,178.1 466.6,178.8 465.3,179.1 463.7,178.5 461.7,178.6 460.4,178.7 458.5,178.5 456.9,179.4 455.6,178.7 453.6,179.5 452.8,179.6 450.4,179.1 449.6,179.1 448.1,179.9 445.7,180.1 444.2,179.4 442.7,180.0 441.6,179.6 439.5,180.1 438.6,180.0 437.0,180.2 435.2,180.0 433.3,180.6 432.5,180.1 430.7,181.1 428.6,180.8 427.8,180.4 425.5,180.6 424.0,180.5 422.6,180.8 421.6,180.3 420.3,179.9 418.6,180.0 416.6,180.8 415.3,180.5 413.5,180.6 412.7,180.3 410.7,180.2 408.9,180.2 407.3,180.4 405.8,180.0 404.6,179.8 403.5,180.1 401.6,179.5 400.0,180.1 398.5,179.5 396.3,179.1 394.5,179.8 393.6,179.2 391.7,179.1 390.4,178.7 388.0,178.4" fill="#9436bf" opacity="1.0" />
<polygon points="600.3,165.0 602.3,164.7 604.1,163.7 605.2,165.3 606.8,165.9 608.2,166.7 609.7,168.3 610.9,169.0 613.2,169.7 613.9,171.8 614.2,173.7 614.7,174.9 613.7,176.9 613.2,178.7 611.5,178.9 610.2,178.6 608.1,178.1 606.8,177.8 605.5,176.7 605.0,175.7 603.2,174.9 602.1,174.0 600.7,173.2 600.4,171.5 599.5,169.6 598.7,167.8 599.7,166.3" fill="#9436bf" opacity="1.0" />
<path transform="scale(.5)" d="M1162 434h0M1163 446h0M1163 432h0M1163 425h0M1163 439h0M1163 428h0M1164 449h0M1164 427h0M1164 445h0M1164 431h0M1164 424h0M1164 428h0M1164 427h0M1164 441h0M1164 447h0M1165 447h0M1165 437h0M1165 443h0M1165 432h0M1165 430h0M1165 424h0M1165 442h0M1165 441h0M1165 429h0M1165 436h0M1165 422h0M1166 427h0M1166 444h0M1166 450h0M1166 422h0M1166 453h0M1166 437h0M1166 433h0M1166 443h0M1166 437h0M1166 418h0M1166 425h0M1167 453h0M1167 448h0M1167 453h0M1167 430h0M1167 438h0M1167 454h0M1167 440h0M1167 445h0M1167 442h0M1168 421h0M1168 445h0M1168 449h0M1168 442h0M1168 447h0M1168 430h0M1168 430h0M1168 433h0M1169 427h0M1169 421h0M1169 422h0M1169 453h0M1169 425h0M1169 454h0M1169 441h0M1169 421h0M1169 453h0M1169 435h0M1169 431h0M1169 442h0M1169 440h0M1169 451h0M1169 435h0M1169 450h0M1169 424h0M1170 415h0M1170 448h0M1170 436h0M1170 437h0M1170 450h0M1170 439h0M1170 441h0M1170 417h0M1171 436h0M1171 423h0M1171 431h0M1171 420h0M1171 421h0M1171 426h0M1171 434h0M1171 427h0M1171 410h0M1171 438h0M1171 425h0M1171 450h0M1171 409h0M1171 450h0M1172 442h0M1172 429h0M1172 429h0M1172 439h0M1172 442h0M1172 418h0M1172 446h0M1172 450h0M1172 422h0M1172 408h0M1172 410h0M1172 447h0M1172 429h0M1173 439h0M1173 417h0M1173 410h0M1173 451h0M1173 438h0M1173 407h0M1173 409h0M1173 449h0M1174 427h0M1174 448h0M1174 440h0M1174 437h0M1174 450h0M1174 433h0M1174 415h0M1175 403h0M1175 444h0M1175 425h0M1175 424h0M1175 442h0M1175 412h0M1175 437h0M1175 415h0M1175 419h0M1175 404h0M1175 450h0M1175 437h0M1175 420h0M1175 430h0M1175 408h0M1175 429h0M1175 444h0M1175 428h0M1175 448h0M1176 405h0M1176 434h0M1176 444h0M1176 445h0M1176 418h0M1176 449h0M1176 440h0M1176 403h0M1176 441h0M1176 403h0M1177 435h0M1177 415h0M1177 425h0M1177 421h0M1177 428h0M1177 428h0M1177 423h0M1177 410h0M1177 428h0M1177 411h0M1177 435h0M1177 432h0M1177 416h0M1178 440h0M1178 423h0M1178 442h0M1178 403h0M1178 416h0M1178 401h0M1178 415h0M1178 424h0M1179 433h0M1179 410h0M1179 419h0M1179 397h0M1179 422h0M1179 433h0M1179 433h0M1179 405h0M1179 400h0M1179 422h0M1179 400h0M1179 441h0M1179 412h0M1179 403h0M1179 400h0M1179 424h0M1179 422h0M1179 436h0M1179 412h0M1179 423h0M1180 439h0M1180 436h0M1180 420h0M1180 395h0M1180 444h0M1180 440h0M1180 413h0M1180 401h0M1180 414h0M1181 424h0M1181 433h0M1181 439h0M1181 424h0M1181 402h0M1181 413h0M1181 418h0M1181 419h0M1181 440h0M1182 408h0M1182 422h0M1182 424h0M1182 423h0M1182 397h0M1182 419h0M1182 433h0M1182 435h0M1182 402h0M1182 417h0M1183 403h0M1183 431h0M1183 403h0M1183 425h0M1183 432h0M1183 421h0M1183 434h0M1183 414h0M1183 410h0M1183 415h0M1184 437h0M1184 416h0M1184 406h0M1184 402h0M1184 408h0M1184 407h0M1184 402h0M1184 417h0M1184 431h0M1184 404h0M1184 423h0M1184 401h0M1184 409h0M1184 428h0M1185 404h0M1185 422h0M1185 420h0M1185 420h0M1185 432h0M1185 433h0M1185 428h0M1185 412h0M1185 425h0M1186 403h0M1186 399h0M1186 432h0M1186 432h0M1186 409h0M1186 419h0M1186 432h0M1186 399h0M1186 415h0M1187 421h0M1187 405h0M1187 421h0M1187 397h0M1187 413h0M1187 431h0M1187 413h0M1188 429h0M1188 429h0M1188 410h0M1188 406h0M1188 408h0M1188 413h0M1188 421h0M1188 415h0M1188 416h0M1188 417h0M1188 411h0M1189 427h0M1189 403h0M1189 417h0M1189 419h0M1189 406h0M1189 413h0M1189 411h0M1189 404h0M1189 398h0M1190 406h0M1190 411h0M1190 417h0M1190 422h0M1190 405h0M1191 404h0M1191 418h0M1191 400h0M1191 414h0M1191 417h0M1192 399h0M1192 418h0M1192 405h0M1192 411h0M1192 403h0M1192 416h0M1193 414h0M1193 405h0" stroke="#9436bf" stroke-width="3.4" stroke-linecap="round" fill="none" opacity="0.85"/>
<polygon points="572.1,33.0 571.9,35.1 572.2,37.4 571.5,39.1 570.7,40.6 570.3,41.3 569.4,41.4 568.6,41.3 568.3,40.1 567.4,39.1 567.2,37.1 566.9,35.0 566.5,33.2 566.7,30.7 566.9,28.9 567.3,26.9 568.2,25.8 568.8,24.7 569.5,24.4 570.0,24.6 571.2,25.6 571.4,27.2 571.7,28.9 572.1,30.8" fill="#9436bf" opacity="1.0" />
<path transform="scale(.5)" d="M177 1706h0M178 1705h0M180 1703h0M182 1705h0M182 1703h0M182 1714h0M182 1703h0M183 1703h0M184 1701h0M184 1701h0M185 1701h0M186 1697h0M186 1696h0M187 1699h0M188 1717h0M188 1695h0M189 1694h0M191 1694h0M192 1695h0M192 1697h0M193 1695h0M195 1695h0M196 1717h0M196 1717h0M197 1694h0M197 1691h0M197 1696h0M197 1717h0M198 1693h0M198 1688h0M198 1717h0M198 1695h0M199 1695h0M200 1692h0M200 1686h0M200 1691h0M201 1693h0M201 1681h0M201 1694h0M202 1688h0M202 1693h0M202 1692h0M203 1718h0M204 1717h0M204 1681h0M205 1718h0M205 1678h0M205 1689h0M206 1687h0M206 1685h0M206 1692h0M206 1682h0M207 1692h0M207 1679h0M207 1717h0M207 1684h0M208 1686h0M208 1685h0M208 1688h0M208 1689h0M209 1689h0M209 1675h0M209 1718h0M210 1687h0M210 1683h0M211 1673h0M212 1671h0M212 1672h0M212 1685h0M212 1687h0M212 1686h0M212 1677h0M213 1688h0M213 1677h0M213 1678h0M213 1690h0M213 1687h0M213 1671h0M213 1686h0M214 1688h0M214 1687h0M215 1717h0M215 1685h0M216 1684h0M216 1673h0M216 1687h0M216 1687h0M217 1686h0M217 1719h0M217 1682h0M218 1675h0M218 1678h0M218 1683h0M219 1687h0M219 1670h0M219 1681h0M219 1677h0M220 1681h0M220 1659h0M221 1665h0M222 1719h0M222 1668h0M222 1665h0M222 1665h0M222 1681h0M225 1686h0M226 1677h0M227 1719h0M227 1680h0M228 1672h0M228 1685h0M228 1675h0M228 1678h0M228 1659h0M229 1672h0M229 1676h0M230 1674h0M230 1644h0M231 1675h0M231 1680h0M231 1683h0M231 1671h0M232 1674h0M232 1682h0M232 1667h0M232 1682h0M233 1681h0M234 1675h0M234 1666h0M234 1645h0M235 1684h0M235 1682h0M235 1675h0M235 1639h0M236 1642h0M236 1678h0M237 1683h0M238 1670h0M238 1720h0M238 1649h0M238 1661h0M238 1639h0M239 1648h0M239 1672h0M240 1659h0M240 1668h0M241 1654h0M241 1679h0M241 1670h0M242 1676h0M242 1679h0M242 1635h0M242 1670h0M243 1678h0M243 1680h0M243 1665h0M244 1648h0M244 1668h0M244 1668h0M245 1628h0M245 1677h0M245 1650h0M245 1655h0M246 1656h0M246 1661h0M246 1674h0M247 1639h0M247 1677h0M247 1657h0M247 1664h0M247 1721h0M248 1640h0M248 1614h0M248 1681h0M248 1721h0M248 1661h0M249 1681h0M249 1624h0M249 1639h0M249 1677h0M249 1656h0M249 1674h0M249 1611h0M250 1620h0M250 1660h0M250 1634h0M250 1630h0M250 1658h0M250 1674h0M250 1667h0M251 1721h0M251 1638h0M251 1660h0M251 1666h0M251 1720h0M251 1667h0M252 1672h0M252 1678h0M252 1669h0M252 1658h0M252 1666h0M253 1661h0M253 1651h0M253 1662h0M253 1627h0M254 1653h0M254 1608h0M254 1678h0M254 1654h0M254 1611h0M254 1606h0M255 1659h0M255 1628h0M255 1720h0M255 1639h0M255 1630h0M255 1660h0M256 1672h0M256 1671h0M257 1610h0M257 1670h0M257 1673h0M257 1648h0M257 1650h0M257 1656h0M257 1656h0M258 1679h0M258 1642h0M258 1631h0M258 1641h0M258 1612h0M259 1677h0M259 1722h0M260 1671h0M260 1671h0M260 1721h0M261 1609h0M261 1657h0M261 1624h0M262 1606h0M262 1618h0M262 1668h0M262 1666h0M262 1606h0M262 1673h0M262 1675h0M262 1622h0M262 1631h0M263 1672h0M263 1646h0M263 1667h0M263 1676h0M263 1663h0M263 1668h0M263 1654h0M264 1664h0M264 1664h0M264 1655h0M264 1670h0M264 1625h0M264 1621h0M264 1678h0M264 1671h0M264 1676h0M265 1614h0M265 1664h0M265 1620h0M265 1672h0M265 1664h0M266 1656h0M266 1620h0M266 1622h0M266 1668h0M266 1674h0M266 1629h0M267 1620h0M267 1658h0M267 1640h0M268 1647h0M268 1665h0M268 1659h0M268 1671h0M268 1642h0M268 1620h0M269 1628h0M269 1616h0M269 1722h0M270 1612h0M271 1674h0M271 1677h0M271 1617h0M272 1722h0M272 1666h0M273 1648h0M273 1661h0M273 1664h0M273 1662h0M274 1665h0M274 1605h0M274 1677h0M275 1657h0M275 1672h0M276 1659h0M276 1673h0M276 1648h0M276 1650h0M277 1653h0M277 1667h0M277 1663h0M277 1652h0M278 1637h0M278 1675h0M278 1721h0M278 1663h0M279 1647h0M279 1671h0M279 1654h0M279 1638h0M279 1667h0M280 1638h0M280 1667h0M280 1669h0M280 1638h0M280 1623h0M280 1624h0M281 1648h0M281 1661h0M281 1666h0M281 1635h0M282 1673h0M282 1669h0M282 1669h0M282 1664h0M282 1668h0M282 1642h0M282 1663h0M282 1658h0M282 1668h0M283 1658h0M283 1674h0M283 1721h0M283 1660h0M283 1596h0M283 1614h0M283 1625h0M283 1675h0M283 1632h0M284 1653h0M284 1668h0M284 1648h0M285 1643h0M285 1722h0M285 1670h0M285 1648h0M286 1658h0M286 1665h0M286 1675h0M286 1624h0M287 1661h0M287 1656h0M287 1668h0M287 1721h0M287 1722h0M287 1672h0M287 1672h0M288 1654h0M288 1658h0M289 1673h0M289 1722h0M289 1660h0M289 1664h0M289 1660h0M290 1673h0M290 1638h0M290 1651h0M290 1721h0M290 1669h0M291 1655h0M291 1635h0M291 1722h0M291 1601h0M291 1611h0M291 1641h0M292 1661h0M292 1670h0M292 1668h0M292 1666h0M292 1670h0M292 1722h0M292 1613h0M292 1667h0M292 1654h0M292 1672h0M293 1659h0M293 1669h0M293 1626h0M293 1721h0M293 1653h0M293 1666h0M293 1647h0M294 1673h0M294 1653h0M295 1660h0M295 1606h0M295 1648h0M295 1672h0M296 1663h0M296 1671h0M296 1654h0M296 1672h0M296 1611h0M297 1642h0M297 1639h0M297 1660h0M297 1664h0M297 1723h0M298 1663h0M298 1669h0M299 1618h0M299 1722h0M299 1663h0M299 1670h0M299 1591h0M299 1646h0M300 1671h0M300 1631h0M300 1636h0M300 1632h0M300 1635h0M300 1629h0M301 1591h0M301 1647h0M301 1657h0M301 1630h0M301 1632h0M302 1723h0M302 1653h0M302 1668h0M302 1664h0M302 1659h0M302 1668h0M302 1652h0M302 1672h0M303 1590h0M303 1630h0M303 1664h0M304 1659h0M304 1659h0M304 1722h0M304 1669h0M304 1722h0M305 1627h0M305 1660h0M306 1662h0M306 1664h0M306 1722h0M306 1671h0M307 1615h0M307 1650h0M307 1632h0M307 1628h0M307 1723h0M307 1609h0M307 1651h0M307 1723h0M307 1660h0M308 1662h0M308 1653h0M308 1629h0M308 1641h0M309 1643h0M309 1652h0M309 1638h0M309 1663h0M310 1621h0M310 1605h0M310 1666h0M311 1659h0M311 1593h0M311 1647h0M311 1633h0M312 1654h0M312 1650h0M312 1634h0M313 1639h0M313 1662h0M313 1639h0M314 1721h0M314 1665h0M314 1651h0M314 1663h0M315 1663h0M315 1653h0M315 1670h0M316 1666h0M316 1722h0M316 1642h0M317 1661h0M317 1622h0M317 1645h0M317 1572h0M317 1667h0M318 1632h0M318 1659h0M318 1580h0M318 1640h0M318 1619h0M318 1626h0M318 1652h0M318 1722h0M318 1620h0M319 1668h0M319 1660h0M319 1658h0M319 1668h0M319 1653h0M319 1659h0M320 1669h0M320 1662h0M320 1632h0M320 1660h0M320 1722h0M320 1661h0M321 1658h0M321 1664h0M321 1651h0M321 1607h0M321 1663h0M322 1722h0M322 1603h0M322 1627h0M322 1640h0M322 1665h0M323 1612h0M323 1635h0M323 1722h0M323 1656h0M323 1667h0M323 1626h0M323 1611h0M323 1723h0M324 1664h0M324 1633h0M324 1640h0M324 1579h0M324 1653h0M324 1592h0M324 1592h0M325 1643h0M325 1664h0M325 1665h0M325 1653h0M325 1636h0M325 1664h0M325 1639h0M326 1607h0M326 1654h0M326 1572h0M326 1645h0M326 1661h0M327 1632h0M327 1663h0M327 1725h0M327 1630h0M328 1650h0M328 1663h0M328 1668h0M328 1661h0M328 1644h0M328 1665h0M328 1649h0M328 1640h0M329 1605h0M329 1607h0M329 1658h0M329 1666h0M330 1570h0M332 1650h0M332 1639h0M332 1558h0M332 1613h0M332 1664h0M332 1636h0M333 1643h0M333 1608h0M333 1664h0M333 1590h0M334 1661h0M334 1637h0M334 1587h0M334 1663h0M334 1722h0M334 1667h0M335 1636h0M335 1663h0M335 1578h0M335 1627h0M336 1636h0M336 1724h0M336 1631h0M337 1642h0M337 1613h0M337 1641h0M337 1654h0M337 1620h0M338 1577h0M338 1636h0M338 1634h0M339 1660h0M339 1667h0M339 1662h0M339 1661h0M339 1556h0M339 1600h0M340 1638h0M340 1644h0M340 1665h0M340 1635h0M341 1597h0M341 1587h0M341 1650h0M341 1613h0M341 1649h0M342 1659h0M342 1643h0M343 1663h0M343 1660h0M343 1648h0M343 1663h0M344 1600h0M344 1654h0M344 1597h0M344 1582h0M344 1660h0M344 1615h0M345 1617h0M345 1723h0M345 1617h0M345 1640h0M346 1647h0M346 1628h0M346 1657h0M346 1663h0M346 1662h0M347 1652h0M347 1652h0M347 1662h0M347 1633h0M347 1628h0M347 1605h0M347 1640h0M347 1575h0M348 1663h0M348 1724h0M348 1666h0M348 1557h0M348 1593h0M349 1654h0M349 1631h0M349 1657h0M349 1643h0M349 1661h0M349 1652h0M350 1657h0M350 1601h0M350 1643h0M351 1628h0M351 1610h0M352 1655h0M352 1610h0M352 1631h0M352 1724h0M353 1632h0M353 1722h0M353 1613h0M353 1541h0M354 1625h0M354 1637h0M354 1554h0M354 1593h0M354 1661h0M355 1648h0M355 1662h0M355 1665h0M355 1614h0M355 1644h0M355 1644h0M355 1624h0M355 1660h0M356 1662h0M356 1619h0M356 1661h0M356 1654h0M356 1635h0M356 1723h0M357 1653h0M357 1631h0M357 1627h0M357 1663h0M357 1580h0M357 1644h0M357 1572h0M357 1623h0M358 1657h0M358 1622h0M358 1661h0M358 1664h0M358 1661h0M358 1580h0M358 1652h0M359 1648h0M359 1584h0M359 1643h0M359 1664h0M360 1612h0M360 1658h0M361 1555h0M361 1559h0M361 1725h0M361 1624h0M362 1623h0M362 1655h0M362 1657h0M362 1661h0M363 1662h0M363 1663h0M363 1660h0M363 1605h0M363 1657h0M363 1653h0M363 1606h0M364 1654h0M364 1663h0M364 1650h0M364 1602h0M364 1662h0M365 1657h0M365 1612h0M365 1651h0M365 1548h0M365 1628h0M365 1658h0M365 1591h0M365 1630h0M365 1613h0M365 1662h0M366 1587h0M366 1661h0M366 1640h0M366 1661h0M366 1600h0M366 1625h0M366 1588h0M366 1655h0M366 1650h0M367 1627h0M367 1653h0M367 1568h0M367 1559h0M367 1581h0M367 1621h0M367 1547h0M367 1723h0M368 1586h0M368 1607h0M368 1662h0M368 1657h0M368 1652h0M369 1643h0M369 1656h0M369 1664h0M369 1612h0M369 1584h0M369 1634h0M370 1539h0M370 1624h0M370 1661h0M370 1660h0M370 1617h0M370 1655h0M370 1593h0M370 1658h0M371 1631h0M371 1647h0M371 1657h0M372 1528h0M372 1641h0M372 1616h0M372 1652h0M373 1664h0M373 1655h0M373 1663h0M373 1653h0M373 1624h0M374 1648h0M374 1609h0M374 1644h0M374 1658h0M374 1661h0M375 1645h0M375 1652h0M375 1660h0M375 1644h0M375 1658h0M376 1659h0M376 1597h0M376 1611h0M376 1529h0M376 1726h0M376 1659h0M376 1726h0M376 1661h0M376 1657h0M376 1615h0M376 1629h0M377 1659h0M377 1649h0M377 1658h0M377 1727h0M377 1660h0M378 1613h0M378 1642h0M378 1624h0M378 1658h0M379 1574h0M379 1655h0M379 1640h0M379 1725h0M379 1655h0M380 1652h0M380 1654h0M380 1650h0M380 1608h0M380 1601h0M380 1569h0M381 1662h0M381 1612h0M381 1661h0M381 1655h0M381 1658h0M381 1659h0M381 1653h0M382 1662h0M382 1617h0M382 1659h0M382 1612h0M383 1653h0M383 1619h0M383 1653h0M383 1613h0M384 1535h0M384 1660h0M384 1583h0M385 1627h0M385 1725h0M385 1652h0M385 1635h0M386 1631h0M386 1618h0M386 1629h0M386 1640h0M386 1589h0M386 1645h0M387 1649h0M387 1551h0M387 1661h0M388 1494h0M388 1521h0M388 1540h0M388 1634h0M388 1654h0M388 1652h0M388 1656h0M388 1619h0M389 1661h0M389 1492h0M389 1651h0M389 1567h0M389 1622h0M389 1655h0M389 1581h0M389 1726h0M390 1652h0M390 1646h0M390 1656h0M390 1641h0M390 1653h0M390 1657h0M390 1530h0M391 1658h0M391 1647h0M391 1653h0M391 1619h0M391 1655h0M391 1661h0M391 1658h0M392 1626h0M392 1658h0M392 1616h0M392 1726h0M392 1726h0M392 1661h0M392 1517h0M392 1660h0M393 1653h0M393 1576h0M393 1529h0M393 1563h0M393 1628h0M393 1589h0M393 1649h0M393 1638h0M394 1560h0M394 1597h0M394 1643h0M394 1539h0M395 1628h0M395 1610h0M395 1653h0M395 1588h0M396 1725h0M396 1622h0M396 1520h0M396 1661h0M396 1501h0M396 1648h0M396 1549h0M396 1651h0M397 1613h0M397 1576h0M397 1641h0M397 1612h0M397 1658h0M397 1619h0M397 1520h0M397 1657h0M398 1661h0M398 1521h0M398 1654h0M398 1651h0M398 1660h0M398 1650h0M398 1657h0M398 1642h0M399 1622h0M399 1649h0M400 1631h0M400 1649h0M400 1640h0M400 1724h0M400 1653h0M400 1629h0M400 1727h0M400 1651h0M400 1477h0M400 1725h0M400 1651h0M401 1651h0M401 1633h0M401 1500h0M401 1639h0M401 1659h0M402 1654h0M402 1650h0M402 1559h0M402 1652h0M402 1571h0M402 1652h0M402 1651h0M403 1724h0M403 1500h0M403 1612h0M403 1598h0M403 1606h0M403 1726h0M403 1659h0M404 1630h0M404 1643h0M404 1647h0M404 1636h0M404 1582h0M404 1503h0M404 1660h0M404 1653h0M404 1658h0M404 1651h0M404 1654h0M404 1576h0M405 1654h0M405 1634h0M405 1600h0M405 1646h0M405 1652h0M405 1654h0M405 1726h0M405 1654h0M405 1646h0M405 1577h0M405 1611h0M405 1611h0M405 1648h0M406 1655h0M406 1578h0M406 1648h0M406 1646h0M406 1605h0M406 1619h0M406 1612h0M406 1570h0M406 1638h0M406 1482h0M407 1606h0M407 1725h0M407 1650h0M407 1571h0M407 1654h0M407 1651h0M408 1656h0M408 1643h0M408 1619h0M408 1588h0M408 1725h0M408 1634h0M409 1479h0M409 1654h0M409 1573h0M409 1571h0M409 1645h0M410 1587h0M410 1532h0M410 1479h0M410 1538h0M411 1660h0M411 1725h0M411 1646h0M411 1593h0M411 1656h0M411 1656h0M411 1661h0M412 1646h0M412 1620h0M412 1725h0M412 1727h0M413 1653h0M413 1727h0M413 1552h0M413 1642h0M413 1632h0M413 1653h0M413 1631h0M413 1644h0M413 1552h0M414 1651h0M414 1641h0M414 1570h0M414 1613h0M414 1559h0M414 1632h0M414 1652h0M414 1484h0M415 1641h0M415 1486h0M415 1646h0M415 1647h0M415 1589h0M415 1505h0M415 1620h0M415 1625h0M415 1527h0M416 1618h0M416 1728h0M416 1652h0M416 1627h0M416 1622h0M417 1472h0M417 1649h0M417 1726h0M417 1620h0M417 1652h0M418 1654h0M418 1653h0M418 1658h0M419 1645h0M419 1567h0M419 1657h0M419 1619h0M419 1594h0M419 1514h0M419 1640h0M419 1657h0M419 1726h0M419 1647h0M420 1656h0M420 1646h0M420 1638h0M420 1656h0M420 1656h0M420 1542h0M420 1645h0M420 1605h0M421 1727h0M421 1644h0M421 1641h0M421 1543h0M421 1652h0M421 1647h0M421 1645h0M421 1656h0M421 1543h0M421 1639h0M422 1628h0M422 1607h0M422 1636h0M422 1653h0M422 1654h0M422 1651h0M422 1630h0M422 1657h0M423 1642h0M423 1726h0M423 1555h0M423 1575h0M423 1655h0M423 1655h0M423 1611h0M424 1562h0M424 1632h0M424 1639h0M424 1513h0M424 1597h0M424 1650h0M424 1492h0M424 1656h0M424 1724h0M424 1655h0M424 1650h0M425 1651h0M425 1655h0M425 1530h0M425 1651h0M426 1645h0M426 1518h0M426 1508h0M426 1725h0M426 1610h0M426 1591h0M426 1726h0M427 1653h0M427 1554h0M427 1605h0M427 1654h0M427 1644h0M427 1623h0M427 1620h0M427 1649h0M428 1645h0M428 1612h0M428 1657h0M428 1633h0M428 1636h0M429 1646h0M429 1648h0M429 1646h0M429 1640h0M429 1637h0M429 1653h0M429 1641h0M429 1625h0M429 1542h0M429 1661h0M429 1635h0M429 1658h0M429 1641h0M429 1656h0M430 1646h0M430 1649h0M430 1654h0M430 1493h0M430 1651h0M430 1656h0M430 1624h0M430 1651h0M431 1562h0M431 1492h0M431 1517h0M431 1644h0M431 1455h0M431 1648h0M431 1649h0M431 1727h0M431 1595h0M431 1479h0M431 1510h0M431 1603h0M431 1639h0M432 1652h0M432 1616h0M432 1607h0M432 1641h0M432 1728h0M433 1509h0M433 1657h0M433 1452h0M433 1591h0M433 1653h0M433 1470h0M433 1656h0M433 1642h0M434 1449h0M434 1655h0M434 1726h0M434 1646h0M434 1477h0M434 1644h0M434 1463h0M434 1625h0M435 1613h0M435 1645h0M435 1581h0M435 1588h0M435 1726h0M435 1595h0M435 1595h0M435 1484h0M435 1646h0M435 1627h0M435 1648h0M435 1647h0M436 1649h0M436 1593h0M436 1502h0M436 1574h0M436 1650h0M436 1617h0M436 1654h0M436 1631h0M436 1645h0M436 1655h0M437 1496h0M437 1636h0M437 1729h0M437 1641h0M437 1493h0M437 1606h0M437 1445h0M438 1642h0M438 1503h0M438 1627h0M438 1627h0M438 1634h0M438 1596h0M438 1628h0M438 1502h0M438 1643h0M438 1518h0M439 1648h0M439 1517h0M439 1532h0M439 1444h0M439 1461h0M439 1631h0M439 1638h0M439 1650h0M439 1441h0M439 1484h0M439 1632h0M440 1652h0M440 1642h0M440 1638h0M440 1626h0M440 1654h0M440 1647h0M440 1653h0M440 1633h0M440 1615h0M441 1633h0M441 1650h0M441 1651h0M442 1636h0M442 1614h0M442 1617h0M442 1442h0M442 1604h0M442 1654h0M442 1646h0M442 1621h0M442 1652h0M442 1635h0M442 1655h0M442 1650h0M442 1544h0M442 1450h0M442 1626h0M443 1657h0M443 1651h0M443 1729h0M443 1547h0M443 1639h0M443 1644h0M443 1650h0M443 1653h0M443 1653h0M444 1494h0M444 1649h0M444 1548h0M444 1652h0M444 1649h0M444 1629h0M444 1635h0M444 1652h0M444 1567h0M445 1656h0M445 1509h0M445 1652h0M445 1728h0M445 1629h0M445 1729h0M445 1629h0M445 1481h0M445 1642h0M446 1613h0M446 1609h0M446 1531h0M446 1558h0M446 1632h0M446 1584h0M446 1458h0M446 1614h0M447 1638h0M447 1653h0M447 1653h0M447 1645h0M447 1626h0M447 1655h0M447 1726h0M447 1629h0M447 1651h0M447 1461h0M447 1446h0M447 1610h0M447 1484h0M448 1651h0M448 1575h0M448 1612h0M448 1635h0M448 1598h0M448 1654h0M448 1587h0M448 1729h0M448 1653h0M448 1627h0M449 1653h0M449 1646h0M449 1625h0M449 1635h0M450 1493h0M450 1449h0M450 1473h0M450 1638h0M450 1584h0M450 1641h0M450 1644h0M450 1654h0M450 1578h0M451 1651h0M451 1651h0M451 1584h0M451 1653h0M451 1622h0M451 1658h0M451 1728h0M451 1553h0M451 1529h0M452 1727h0M452 1580h0M452 1727h0M452 1640h0M452 1643h0M452 1640h0M452 1456h0M452 1624h0M452 1497h0M452 1641h0M452 1648h0M453 1536h0M453 1632h0M453 1644h0M453 1650h0M453 1650h0M453 1631h0M453 1605h0M453 1586h0M453 1728h0M453 1608h0M454 1624h0M454 1645h0M454 1450h0M454 1651h0M454 1528h0M454 1558h0M454 1432h0M454 1653h0M454 1644h0M455 1630h0M455 1645h0M455 1729h0M455 1512h0M455 1624h0M455 1643h0M455 1530h0M456 1634h0M456 1621h0M456 1635h0M456 1653h0M456 1619h0M456 1632h0M456 1636h0M457 1620h0M457 1520h0M457 1639h0M457 1636h0M457 1654h0M457 1641h0M457 1642h0M457 1651h0M458 1728h0M458 1728h0M458 1625h0M458 1451h0M458 1654h0M458 1641h0M458 1578h0M458 1630h0M458 1530h0M458 1632h0M458 1635h0M459 1619h0M459 1631h0M459 1728h0M459 1535h0M459 1637h0M459 1652h0M459 1652h0M459 1642h0M459 1729h0M459 1631h0M460 1639h0M460 1592h0M460 1442h0M460 1447h0M460 1610h0M460 1591h0M461 1639h0M461 1726h0M461 1650h0M461 1624h0M461 1457h0M461 1628h0M461 1522h0M461 1626h0M461 1498h0M461 1434h0M461 1640h0M461 1635h0M462 1617h0M462 1652h0M462 1630h0M462 1429h0M462 1632h0M462 1455h0M462 1643h0M462 1649h0M463 1649h0M463 1491h0M463 1638h0M463 1641h0M464 1648h0M464 1637h0M464 1603h0M464 1596h0M464 1642h0M464 1575h0M464 1541h0M464 1628h0M464 1611h0M464 1492h0M464 1621h0M464 1624h0M464 1446h0M464 1643h0M464 1639h0M464 1619h0M465 1613h0M465 1436h0M465 1583h0M465 1652h0M465 1601h0M465 1626h0M465 1619h0M465 1637h0M465 1633h0M465 1631h0M465 1616h0M465 1571h0M465 1500h0M465 1609h0M465 1646h0M465 1590h0M465 1478h0M466 1589h0M466 1603h0M466 1581h0M466 1649h0M466 1557h0M466 1507h0M466 1638h0M466 1645h0M466 1615h0M466 1654h0M466 1437h0M466 1638h0M467 1651h0M467 1618h0M467 1440h0M467 1651h0M467 1629h0M467 1510h0M467 1595h0M468 1633h0M468 1448h0M468 1599h0M468 1430h0M468 1614h0M468 1626h0M468 1578h0M468 1593h0M468 1617h0M468 1615h0M469 1616h0M469 1545h0M469 1638h0M469 1607h0M469 1653h0M469 1617h0M469 1645h0M469 1502h0M469 1620h0M469 1628h0M469 1510h0M469 1550h0M470 1534h0M470 1653h0M470 1615h0M470 1598h0M470 1442h0M470 1569h0M470 1640h0M470 1592h0M471 1639h0M471 1640h0M471 1645h0M471 1638h0M471 1624h0M471 1566h0M471 1727h0M471 1584h0M471 1582h0M471 1426h0M471 1623h0M471 1636h0M472 1650h0M472 1458h0M472 1607h0M472 1626h0M472 1574h0M472 1623h0M472 1584h0M472 1622h0M472 1552h0M472 1621h0M472 1640h0M472 1623h0M472 1604h0M473 1726h0M473 1650h0M473 1522h0M473 1530h0M473 1612h0M473 1631h0M473 1632h0M473 1605h0M473 1617h0M473 1629h0M473 1638h0M473 1486h0M473 1472h0M473 1647h0M473 1645h0M474 1637h0M474 1597h0M474 1636h0M474 1730h0M474 1651h0M474 1640h0M474 1648h0M474 1437h0M474 1453h0M474 1647h0M474 1601h0M474 1548h0M474 1457h0M474 1607h0M475 1481h0M475 1608h0M475 1623h0M475 1609h0M475 1510h0M475 1561h0M475 1454h0M475 1576h0M475 1632h0M476 1611h0M476 1538h0M476 1635h0M476 1414h0M476 1575h0M476 1727h0M476 1529h0M476 1611h0M476 1488h0M476 1729h0M477 1640h0M477 1482h0M477 1495h0M477 1527h0M477 1730h0M477 1610h0M477 1524h0M477 1646h0M477 1589h0M477 1635h0M477 1629h0M478 1568h0M478 1727h0M478 1437h0M478 1636h0M478 1491h0M478 1618h0M478 1636h0M478 1726h0M478 1611h0M478 1615h0M478 1636h0M478 1727h0M478 1455h0M478 1624h0M478 1586h0M479 1728h0M479 1640h0M479 1624h0M479 1490h0M479 1544h0M479 1443h0M479 1598h0M479 1472h0M479 1603h0M479 1636h0M479 1640h0M479 1435h0M479 1513h0M479 1637h0M479 1632h0M479 1511h0M480 1730h0M480 1618h0M480 1608h0M480 1623h0M480 1599h0M480 1645h0M480 1644h0M480 1464h0M480 1519h0M480 1609h0M480 1633h0M480 1425h0M480 1629h0M480 1646h0M481 1642h0M481 1609h0M481 1646h0M481 1635h0M481 1418h0M481 1618h0M481 1445h0M481 1618h0M481 1620h0M481 1559h0M481 1643h0M481 1632h0M481 1729h0M482 1607h0M482 1617h0M482 1728h0M482 1606h0M482 1607h0M482 1475h0M482 1619h0M482 1625h0M482 1633h0M482 1605h0M482 1612h0M482 1422h0M483 1637h0M483 1479h0M483 1478h0M483 1637h0M483 1607h0M483 1616h0M483 1643h0M483 1445h0M483 1642h0M484 1552h0M484 1603h0M484 1644h0M484 1616h0M484 1634h0M484 1593h0M484 1620h0M484 1513h0M484 1408h0M484 1509h0M484 1593h0M484 1627h0M484 1599h0M484 1591h0M484 1486h0M485 1611h0M485 1727h0M485 1472h0M485 1728h0M485 1625h0M485 1728h0M485 1570h0M485 1592h0M485 1605h0M485 1727h0M485 1611h0M486 1418h0M486 1420h0M486 1728h0M486 1606h0M486 1636h0M486 1631h0M486 1444h0M486 1466h0M486 1457h0M486 1631h0M486 1627h0M486 1565h0M486 1618h0M486 1526h0M487 1513h0M487 1570h0M487 1627h0M487 1730h0M487 1618h0M487 1610h0M487 1635h0M487 1622h0M487 1556h0M487 1494h0M487 1591h0M487 1595h0M487 1409h0M487 1628h0M487 1626h0M487 1483h0M487 1617h0M487 1609h0M487 1611h0M488 1488h0M488 1633h0M488 1554h0M488 1595h0M488 1417h0M488 1508h0M488 1482h0M488 1579h0M488 1506h0M488 1426h0M488 1640h0M488 1592h0M489 1614h0M489 1624h0M489 1631h0M489 1605h0M489 1545h0M489 1635h0M489 1415h0M489 1463h0M489 1413h0M489 1518h0M489 1630h0M489 1563h0M489 1602h0M490 1596h0M490 1550h0M490 1625h0M490 1412h0M490 1498h0M490 1561h0M490 1536h0M490 1599h0M490 1730h0M490 1604h0M490 1635h0M490 1585h0M490 1623h0M490 1410h0M490 1605h0M490 1603h0M490 1610h0M490 1594h0M491 1556h0M491 1626h0M491 1597h0M491 1584h0M491 1630h0M491 1612h0M491 1593h0M491 1634h0M491 1583h0M491 1636h0M491 1637h0M491 1621h0M491 1546h0M491 1633h0M491 1616h0M491 1609h0M491 1598h0M491 1633h0M491 1485h0M491 1615h0M491 1612h0M491 1621h0M491 1729h0M491 1578h0M491 1609h0M491 1620h0M492 1727h0M492 1632h0M492 1613h0M492 1637h0M492 1579h0M492 1603h0M492 1439h0M492 1620h0M492 1728h0M492 1592h0M492 1626h0M492 1637h0M493 1594h0M493 1623h0M493 1577h0M493 1586h0M493 1616h0M493 1481h0M493 1414h0M493 1455h0M493 1587h0M493 1605h0M493 1615h0M493 1624h0M494 1634h0M494 1555h0M494 1596h0M494 1581h0M494 1490h0M494 1631h0M494 1584h0M494 1618h0M494 1618h0M494 1731h0M494 1624h0M495 1623h0M495 1587h0M495 1596h0M495 1615h0M495 1554h0M495 1627h0M495 1452h0M495 1604h0M495 1430h0M495 1598h0M495 1532h0M495 1571h0M495 1616h0M496 1592h0M496 1488h0M496 1576h0M496 1619h0M496 1575h0M496 1627h0M496 1628h0M496 1581h0M496 1598h0M496 1578h0M496 1513h0M496 1594h0M496 1577h0M496 1631h0M496 1454h0M496 1393h0M497 1402h0M497 1576h0M497 1614h0M497 1590h0M497 1418h0M497 1630h0M497 1544h0M497 1727h0M497 1498h0M497 1477h0M497 1444h0M497 1727h0M497 1604h0M497 1582h0M497 1515h0M498 1616h0M498 1429h0M498 1578h0M498 1488h0M498 1616h0M498 1441h0M498 1591h0M498 1407h0M498 1596h0M498 1613h0M498 1467h0M498 1392h0M498 1567h0M498 1537h0M498 1618h0M499 1612h0M499 1616h0M499 1585h0M499 1535h0M499 1623h0M499 1559h0M499 1584h0M499 1620h0M499 1573h0M499 1449h0M499 1443h0M499 1456h0M499 1612h0M500 1576h0M500 1573h0M500 1561h0M500 1487h0M500 1584h0M500 1583h0M500 1586h0M500 1607h0M500 1538h0M500 1582h0M500 1533h0M500 1626h0M500 1730h0M500 1455h0M500 1456h0M501 1607h0M501 1729h0M501 1617h0M501 1588h0M501 1607h0M501 1545h0M501 1598h0M501 1622h0M501 1559h0M501 1396h0M501 1597h0M501 1621h0M501 1577h0M502 1403h0M502 1461h0M502 1622h0M502 1615h0M502 1514h0M502 1380h0M502 1602h0M502 1571h0M502 1565h0M502 1621h0M502 1501h0M502 1543h0M502 1592h0M502 1569h0M502 1496h0M502 1553h0M503 1394h0M503 1617h0M503 1612h0M503 1592h0M503 1603h0M503 1618h0M503 1406h0M503 1600h0M503 1728h0M503 1564h0M503 1398h0M503 1398h0M503 1442h0M503 1382h0M503 1621h0M504 1524h0M504 1618h0M504 1500h0M504 1620h0M504 1615h0M504 1589h0M504 1620h0M504 1614h0M504 1552h0M504 1621h0M504 1561h0M504 1452h0M504 1554h0M504 1543h0M504 1510h0M504 1408h0M504 1553h0M504 1590h0M504 1609h0M504 1496h0M504 1591h0M504 1580h0M504 1386h0M505 1417h0M505 1576h0M505 1613h0M505 1573h0M505 1612h0M505 1568h0M505 1411h0M505 1609h0M505 1445h0M505 1608h0M505 1607h0M505 1584h0M505 1502h0M505 1550h0M505 1607h0M505 1592h0M505 1521h0M505 1561h0M505 1470h0M505 1555h0M505 1595h0M505 1485h0M506 1588h0M506 1727h0M506 1538h0M506 1612h0M506 1559h0M506 1565h0M506 1583h0M506 1459h0M506 1609h0M506 1603h0M506 1543h0M507 1595h0M507 1599h0M507 1482h0M507 1556h0M507 1388h0M507 1568h0M507 1614h0M507 1613h0M507 1607h0M507 1480h0M507 1595h0M507 1548h0M507 1541h0M507 1424h0M507 1730h0M508 1593h0M508 1462h0M508 1611h0M508 1433h0M508 1604h0M508 1557h0M508 1604h0M508 1442h0M508 1594h0M508 1394h0M508 1411h0M508 1731h0M508 1458h0M508 1577h0M508 1547h0M508 1608h0M508 1392h0M508 1587h0M508 1582h0M508 1611h0M508 1576h0M509 1611h0M509 1559h0M509 1611h0M509 1593h0M509 1609h0M509 1578h0M509 1549h0M509 1396h0M509 1486h0M509 1542h0M509 1375h0M509 1577h0M509 1595h0M510 1542h0M510 1554h0M510 1606h0M510 1404h0M510 1428h0M510 1542h0M510 1468h0M510 1571h0M510 1567h0M510 1573h0M510 1407h0M510 1577h0M510 1523h0M510 1363h0M510 1449h0M510 1378h0M510 1584h0M510 1482h0M510 1586h0M510 1729h0M511 1587h0M511 1560h0M511 1605h0M511 1544h0M511 1610h0M511 1572h0M511 1515h0M511 1564h0M511 1541h0M511 1588h0M511 1531h0M511 1364h0M511 1606h0M511 1597h0M511 1585h0M511 1468h0M511 1486h0M511 1551h0M511 1599h0M512 1600h0M512 1570h0M512 1580h0M512 1484h0M512 1531h0M512 1569h0M512 1587h0M512 1537h0M512 1606h0M512 1601h0M512 1555h0M512 1601h0M512 1606h0M512 1420h0M512 1605h0M512 1421h0M512 1382h0M512 1458h0M512 1463h0M512 1604h0M513 1528h0M513 1554h0M513 1599h0M513 1593h0M513 1729h0M513 1566h0M513 1461h0M513 1514h0M513 1523h0M513 1565h0M513 1583h0M513 1570h0M513 1552h0M513 1476h0M513 1585h0M513 1467h0M513 1430h0M513 1482h0M513 1561h0M513 1553h0M513 1595h0M513 1518h0M513 1534h0M514 1507h0M514 1536h0M514 1521h0M514 1511h0M514 1576h0M514 1556h0M514 1581h0M514 1543h0M514 1603h0M514 1407h0M514 1376h0M514 1586h0M514 1452h0M514 1413h0M514 1564h0M514 1533h0M514 1471h0M514 1540h0M514 1541h0M514 1506h0M514 1581h0M514 1554h0M514 1462h0M514 1572h0M514 1543h0M514 1504h0M514 1574h0M514 1423h0M514 1476h0M514 1554h0M514 1381h0M514 1560h0M515 1597h0M515 1574h0M515 1556h0M515 1587h0M515 1583h0M515 1527h0M515 1528h0M515 1522h0M515 1567h0M515 1581h0M515 1395h0M515 1490h0M515 1579h0M515 1592h0M515 1512h0M515 1529h0M515 1437h0M515 1527h0M515 1601h0M515 1544h0M515 1538h0M515 1494h0M516 1527h0M516 1592h0M516 1516h0M516 1542h0M516 1536h0M516 1477h0M516 1562h0M516 1468h0M516 1386h0M516 1537h0M516 1550h0M516 1424h0M516 1413h0M516 1419h0M516 1530h0M516 1593h0M516 1415h0M516 1587h0M516 1588h0M516 1386h0M516 1450h0M516 1400h0M516 1584h0M516 1365h0M516 1506h0M517 1560h0M517 1528h0M517 1527h0M517 1484h0M517 1500h0M517 1589h0M517 1416h0M517 1573h0M517 1491h0M517 1349h0M517 1595h0M517 1587h0M517 1434h0M517 1572h0M517 1500h0M517 1389h0M517 1501h0M517 1590h0M517 1516h0M517 1485h0M517 1572h0M517 1593h0M517 1588h0M517 1524h0M517 1424h0M517 1498h0M517 1555h0M517 1555h0M517 1595h0M517 1465h0M517 1595h0M517 1404h0M517 1518h0M517 1413h0M518 1440h0M518 1399h0M518 1489h0M518 1589h0M518 1589h0M518 1548h0M518 1593h0M518 1397h0M518 1531h0M518 1546h0M518 1524h0M518 1571h0M518 1578h0M518 1497h0M518 1587h0M518 1383h0M518 1570h0M518 1524h0M518 1517h0M518 1589h0M518 1501h0M518 1389h0M519 1578h0M519 1518h0M519 1580h0M519 1495h0M519 1731h0M519 1596h0M519 1544h0M519 1457h0M519 1364h0M519 1417h0M519 1546h0M519 1346h0M519 1456h0M519 1427h0M519 1569h0M519 1454h0M519 1579h0M519 1408h0M519 1392h0M519 1539h0M519 1563h0M519 1588h0M519 1549h0M519 1500h0M519 1594h0M519 1731h0M519 1544h0M520 1514h0M520 1449h0M520 1539h0M520 1499h0M520 1585h0M520 1541h0M520 1525h0M520 1543h0M520 1525h0M520 1491h0M520 1453h0M520 1534h0M520 1428h0M520 1500h0M520 1582h0M520 1462h0M520 1514h0M520 1411h0M520 1528h0M520 1570h0M520 1513h0M520 1484h0M520 1515h0M521 1426h0M521 1585h0M521 1559h0M521 1591h0M521 1589h0M521 1572h0M521 1555h0M521 1593h0M521 1495h0M521 1576h0M521 1495h0M521 1453h0M521 1511h0M521 1527h0M521 1423h0M521 1530h0M521 1488h0M521 1459h0M521 1575h0M521 1415h0M521 1583h0M521 1535h0M521 1572h0M521 1576h0M521 1549h0M521 1594h0M521 1375h0M521 1417h0M521 1541h0M521 1585h0M522 1436h0M522 1581h0M522 1588h0M522 1407h0M522 1475h0M522 1442h0M522 1339h0M522 1415h0M522 1555h0M522 1397h0M522 1399h0M522 1495h0M522 1530h0M522 1574h0M522 1498h0M522 1545h0M522 1561h0M522 1470h0M522 1550h0M522 1729h0M522 1492h0M522 1539h0M522 1563h0M522 1332h0M522 1517h0M522 1570h0M522 1574h0M522 1544h0M522 1478h0M523 1592h0M523 1731h0M523 1478h0M523 1582h0M523 1334h0M523 1428h0M523 1569h0M523 1435h0M523 1546h0M523 1590h0M523 1525h0M523 1533h0M523 1347h0M523 1336h0M523 1486h0M523 1490h0M523 1411h0M523 1479h0M523 1443h0M523 1568h0M523 1387h0M523 1587h0M523 1529h0M523 1553h0M523 1491h0M523 1555h0M524 1354h0M524 1483h0M524 1570h0M524 1510h0M524 1556h0M524 1442h0M524 1519h0M524 1469h0M524 1566h0M524 1589h0M524 1574h0M524 1340h0M524 1423h0M524 1583h0M524 1586h0M524 1572h0M524 1511h0M524 1447h0M524 1437h0M524 1578h0M525 1583h0M525 1344h0M525 1371h0M525 1366h0M525 1473h0M525 1437h0M525 1477h0M525 1545h0M525 1375h0M525 1530h0M525 1545h0M525 1425h0M525 1486h0M525 1365h0M525 1492h0M525 1374h0M525 1416h0M525 1375h0M525 1514h0M526 1510h0M526 1363h0M526 1455h0M526 1528h0M526 1526h0M526 1485h0M526 1566h0M526 1524h0M526 1542h0M526 1492h0M526 1502h0M526 1443h0M526 1432h0M526 1371h0M526 1453h0M526 1427h0M526 1489h0M526 1533h0M526 1472h0M526 1457h0M526 1575h0M526 1365h0M526 1455h0M526 1393h0M526 1581h0M526 1395h0M526 1732h0M526 1444h0M526 1524h0M526 1405h0M526 1585h0M526 1391h0M527 1575h0M527 1538h0M527 1472h0M527 1539h0M527 1558h0M527 1395h0M527 1502h0M527 1418h0M527 1324h0M527 1495h0M527 1539h0M527 1510h0M527 1399h0M527 1510h0M527 1537h0M527 1470h0M527 1509h0M527 1449h0M527 1358h0M527 1362h0M527 1523h0M527 1563h0M527 1353h0M527 1449h0M527 1489h0M527 1462h0M527 1509h0M527 1452h0M527 1536h0M527 1490h0M527 1540h0M527 1349h0M527 1408h0M527 1577h0M527 1518h0M527 1529h0M528 1482h0M528 1562h0M528 1507h0M528 1543h0M528 1564h0M528 1512h0M528 1463h0M528 1524h0M528 1375h0M528 1448h0M528 1444h0M528 1567h0M528 1540h0M528 1430h0M528 1448h0M528 1555h0M528 1496h0M528 1450h0M528 1514h0M528 1477h0M528 1460h0M528 1571h0M528 1570h0M528 1403h0M528 1495h0M528 1475h0M528 1546h0M528 1486h0M528 1480h0M528 1479h0M528 1445h0M528 1340h0M528 1570h0M528 1481h0M528 1332h0M529 1483h0M529 1496h0M529 1564h0M529 1472h0M529 1502h0M529 1530h0M529 1466h0M529 1398h0M529 1552h0M529 1561h0M529 1538h0M529 1445h0M529 1497h0M529 1485h0M529 1536h0M529 1570h0M529 1560h0M529 1505h0M529 1486h0M529 1550h0M529 1408h0M529 1478h0M529 1485h0M529 1452h0M529 1566h0M529 1462h0M529 1389h0M529 1390h0M529 1459h0M529 1494h0M529 1567h0M529 1364h0M529 1452h0M529 1545h0M529 1527h0M529 1433h0M529 1377h0M529 1455h0M529 1362h0M529 1562h0M530 1365h0M530 1444h0M530 1449h0M530 1478h0M530 1454h0M530 1573h0M530 1490h0M530 1527h0M530 1548h0M530 1526h0M530 1357h0M530 1314h0M530 1530h0M530 1531h0M530 1494h0M530 1487h0M530 1424h0M530 1573h0M530 1470h0M530 1527h0M530 1399h0M530 1446h0M530 1544h0M530 1317h0M530 1732h0M530 1417h0M530 1465h0M530 1506h0M530 1379h0M530 1433h0M530 1457h0M530 1493h0M530 1452h0M530 1476h0M530 1493h0M530 1424h0M530 1472h0M530 1458h0M530 1525h0M530 1382h0M530 1466h0M530 1550h0M530 1554h0M530 1548h0M531 1468h0M531 1426h0M531 1431h0M531 1440h0M531 1477h0M531 1496h0M531 1518h0M531 1399h0M531 1408h0M531 1442h0M531 1529h0M531 1403h0M531 1541h0M531 1467h0M531 1513h0M531 1471h0M531 1523h0M531 1456h0M531 1522h0M531 1465h0M531 1433h0M531 1382h0M531 1410h0M531 1473h0M531 1447h0M531 1528h0M531 1482h0M532 1367h0M532 1551h0M532 1466h0M532 1429h0M532 1525h0M532 1445h0M532 1401h0M532 1431h0M532 1511h0M532 1466h0M532 1312h0M532 1540h0M532 1442h0M532 1500h0M532 1561h0M532 1326h0M532 1353h0M532 1338h0M532 1437h0M532 1498h0M532 1473h0M532 1552h0M532 1421h0M532 1475h0M532 1428h0M532 1355h0M532 1473h0M532 1497h0M532 1531h0M532 1332h0M532 1515h0M532 1507h0M532 1437h0M532 1382h0M532 1404h0M532 1511h0M532 1470h0M533 1536h0M533 1540h0M533 1455h0M533 1479h0M533 1484h0M533 1429h0M533 1542h0M533 1553h0M533 1439h0M533 1383h0M533 1445h0M533 1391h0M533 1384h0M533 1476h0M533 1499h0M533 1498h0M533 1499h0M533 1488h0M533 1499h0M533 1553h0M533 1373h0M533 1397h0M533 1492h0M533 1731h0M533 1387h0M533 1369h0M533 1536h0M533 1492h0M533 1527h0M533 1453h0M533 1526h0M533 1498h0M533 1444h0M533 1517h0M534 1489h0M534 1408h0M534 1532h0M534 1536h0M534 1429h0M534 1488h0M534 1467h0M534 1526h0M534 1514h0M534 1458h0M534 1435h0M534 1467h0M534 1732h0M534 1531h0M534 1497h0M534 1489h0M534 1338h0M534 1429h0M534 1534h0M534 1407h0M534 1445h0M534 1407h0M534 1534h0M534 1453h0M534 1406h0M534 1474h0M534 1504h0M534 1448h0M534 1484h0M534 1309h0M534 1452h0M534 1513h0M534 1522h0M534 1432h0M534 1304h0M534 1487h0M534 1363h0M534 1459h0M534 1550h0M535 1481h0M535 1450h0M535 1316h0M535 1510h0M535 1493h0M535 1364h0M535 1453h0M535 1495h0M535 1404h0M535 1466h0M535 1499h0M535 1504h0M535 1537h0M535 1472h0M535 1411h0M535 1501h0M535 1529h0M535 1471h0M535 1481h0M535 1436h0M535 1333h0M535 1425h0M535 1492h0M535 1505h0M535 1534h0M535 1536h0M535 1522h0M535 1519h0M536 1532h0M536 1466h0M536 1324h0M536 1465h0M536 1373h0M536 1476h0M536 1521h0M536 1475h0M536 1514h0M536 1334h0M536 1731h0M536 1443h0M536 1396h0M536 1486h0M536 1396h0M536 1430h0M536 1512h0M536 1426h0M536 1407h0M536 1446h0M536 1479h0M536 1458h0M536 1498h0M536 1528h0M536 1441h0M536 1433h0M536 1495h0M536 1466h0M536 1459h0M536 1421h0M536 1456h0M536 1479h0M536 1459h0M536 1521h0M536 1369h0M537 1368h0M537 1439h0M537 1331h0M537 1485h0M537 1532h0M537 1410h0M537 1506h0M537 1477h0M537 1477h0M537 1468h0M537 1454h0M537 1505h0M537 1491h0M537 1445h0M537 1472h0M537 1434h0M537 1732h0M537 1459h0M537 1480h0M537 1417h0M538 1491h0M538 1365h0M538 1460h0M538 1524h0M538 1367h0M538 1461h0M538 1443h0M538 1463h0M538 1433h0M538 1392h0M538 1360h0M538 1422h0M538 1356h0M538 1463h0M538 1361h0M538 1289h0M538 1389h0M538 1367h0M538 1437h0M538 1377h0M538 1507h0M538 1324h0M538 1425h0M538 1330h0M538 1465h0M538 1480h0M538 1442h0M538 1511h0M538 1469h0M539 1470h0M539 1403h0M539 1484h0M539 1498h0M539 1514h0M539 1457h0M539 1401h0M539 1480h0M539 1454h0M539 1392h0M539 1456h0M539 1447h0M539 1413h0M539 1482h0M539 1389h0M539 1465h0M539 1470h0M539 1491h0M539 1426h0M539 1336h0M539 1431h0M539 1485h0M539 1316h0M539 1430h0M539 1376h0M539 1389h0M539 1342h0M539 1489h0M539 1452h0M539 1307h0M540 1419h0M540 1325h0M540 1459h0M540 1406h0M540 1309h0M540 1411h0M540 1405h0M540 1385h0M540 1396h0M540 1427h0M540 1418h0M540 1405h0M540 1402h0M541 1295h0M541 1441h0M541 1398h0M541 1409h0M541 1386h0M541 1383h0M541 1386h0M541 1405h0M541 1395h0M541 1404h0M541 1460h0M541 1411h0M541 1301h0M541 1406h0M541 1329h0M541 1328h0M542 1409h0M542 1455h0M542 1345h0M542 1399h0M542 1298h0M542 1281h0M542 1445h0M542 1370h0M542 1732h0M542 1379h0M542 1429h0M542 1404h0M543 1341h0M543 1407h0M543 1413h0M543 1404h0M543 1431h0M543 1407h0M543 1399h0M543 1407h0M543 1326h0M543 1417h0M543 1401h0M543 1401h0M543 1297h0M543 1396h0M544 1428h0M544 1286h0M544 1361h0M544 1340h0M544 1347h0M544 1332h0M544 1382h0M544 1373h0M544 1345h0M544 1389h0M544 1314h0M544 1335h0M544 1367h0M545 1331h0M545 1312h0M545 1368h0M545 1395h0M545 1394h0M545 1286h0M545 1732h0M545 1379h0M546 1385h0M546 1733h0M546 1333h0M546 1317h0M546 1278h0M546 1307h0M546 1285h0M546 1284h0M546 1323h0M546 1313h0M546 1289h0M546 1306h0M547 1385h0M547 1397h0M547 1732h0M547 1397h0M547 1340h0M547 1366h0M547 1364h0M547 1393h0M547 1318h0M547 1349h0M547 1361h0M548 1292h0M548 1278h0M548 1393h0M548 1328h0M549 1320h0M549 1313h0M549 1329h0M549 1376h0M549 1309h0M549 1389h0M549 1375h0M549 1392h0M549 1287h0M549 1391h0M549 1280h0M549 1734h0M549 1369h0M550 1276h0M550 1350h0M550 1346h0M550 1373h0M550 1378h0M550 1324h0M550 1381h0M550 1363h0M550 1295h0M550 1735h0M550 1352h0M550 1300h0M551 1328h0M551 1368h0M551 1276h0M551 1376h0M551 1734h0M551 1373h0M551 1300h0M551 1325h0M551 1372h0M551 1281h0M552 1302h0M552 1379h0M552 1354h0M552 1319h0M552 1385h0M552 1326h0M552 1306h0M552 1308h0M553 1354h0M553 1340h0M553 1285h0M553 1315h0M553 1351h0M553 1337h0M553 1303h0M553 1342h0M553 1333h0M553 1358h0M553 1316h0M553 1283h0M553 1734h0M554 1276h0M554 1323h0M554 1291h0M554 1309h0M554 1380h0M554 1348h0M554 1282h0M554 1337h0M554 1346h0M554 1315h0M555 1287h0M555 1369h0M555 1300h0M555 1358h0M555 1335h0M555 1334h0M555 1326h0M555 1336h0M555 1338h0M555 1734h0M555 1317h0M555 1368h0M555 1367h0M555 1363h0M555 1310h0M556 1349h0M556 1341h0M556 1260h0M556 1300h0M556 1338h0M556 1323h0M556 1349h0M556 1351h0M556 1325h0M556 1331h0M556 1361h0M556 1306h0M556 1294h0M557 1302h0M557 1303h0M557 1270h0M557 1289h0M557 1360h0M557 1310h0M557 1736h0M557 1295h0M558 1287h0M558 1365h0M558 1264h0M558 1366h0M558 1736h0M558 1736h0M558 1356h0M558 1292h0M558 1266h0M558 1301h0M558 1337h0M558 1280h0M558 1337h0M558 1271h0M558 1344h0M559 1336h0M559 1266h0M559 1261h0M559 1359h0M559 1315h0M559 1276h0M559 1354h0M559 1358h0M559 1280h0M559 1259h0M559 1262h0M559 1297h0M559 1349h0M559 1355h0M560 1305h0M560 1309h0M560 1293h0M560 1352h0M560 1322h0M560 1340h0M560 1349h0M560 1296h0M560 1343h0M560 1340h0M560 1273h0M560 1323h0M561 1350h0M561 1271h0M561 1301h0M561 1340h0M561 1323h0M561 1350h0M561 1352h0M561 1267h0M561 1324h0M561 1274h0M561 1734h0M561 1271h0M561 1734h0M561 1293h0M562 1334h0M562 1339h0M562 1336h0M562 1282h0M562 1320h0M562 1295h0M562 1299h0M562 1254h0M562 1735h0M562 1337h0M562 1332h0M563 1286h0M563 1254h0M563 1292h0M563 1291h0M563 1338h0M563 1302h0M563 1328h0M563 1253h0M563 1318h0M563 1292h0M563 1319h0M564 1299h0M564 1305h0M564 1332h0M564 1250h0M564 1324h0M564 1294h0M564 1276h0M564 1310h0M564 1314h0M564 1277h0M565 1311h0M565 1318h0M565 1289h0M565 1298h0M565 1276h0M565 1259h0M565 1252h0M565 1265h0M565 1736h0M566 1301h0M566 1315h0M566 1269h0M566 1268h0M566 1735h0M566 1255h0M566 1307h0M567 1313h0M567 1270h0M567 1300h0M567 1299h0M567 1265h0M567 1258h0M568 1301h0M568 1267h0M568 1247h0M568 1280h0M569 1299h0M569 1303h0M569 1303h0M569 1295h0M569 1248h0M569 1283h0M569 1288h0M569 1287h0M570 1298h0M570 1259h0M570 1736h0M570 1276h0M570 1264h0M570 1286h0M570 1264h0M570 1277h0M570 1272h0M570 1286h0M571 1265h0M571 1247h0M571 1246h0M571 1282h0M571 1250h0M571 1256h0M571 1277h0M571 1281h0M571 1283h0M571 1266h0M572 1261h0M572 1273h0M572 1272h0M572 1267h0M573 1273h0M573 1259h0M573 1258h0M573 1248h0M573 1267h0M574 1270h0M574 1266h0M574 1737h0M574 1256h0M574 1259h0M575 1737h0M575 1249h0M575 1240h0M576 1252h0M576 1244h0M576 1253h0M576 1259h0M577 1252h0M577 1254h0M577 1244h0M577 1255h0M577 1246h0M577 1239h0M578 1737h0M579 1246h0M581 1737h0M581 1737h0M582 1240h0M583 1245h0M583 1245h0M584 1248h0M584 1264h0M584 1255h0M584 1255h0M584 1245h0M584 1264h0M584 1740h0M584 1269h0M584 1258h0M585 1275h0M585 1275h0M585 1266h0M585 1271h0M585 1245h0M585 1255h0M585 1263h0M585 1255h0M585 1251h0M585 1275h0M586 1264h0M586 1274h0M586 1289h0M586 1267h0M586 1739h0M586 1305h0M586 1254h0M586 1301h0M586 1308h0M586 1309h0M586 1243h0M586 1274h0M586 1294h0M587 1312h0M587 1284h0M587 1259h0M587 1291h0M587 1254h0M587 1312h0M587 1293h0M587 1317h0M587 1297h0M587 1311h0M587 1254h0M587 1345h0M587 1294h0M587 1279h0M587 1342h0M587 1352h0M587 1262h0M587 1292h0M587 1258h0M587 1339h0M588 1333h0M588 1329h0M588 1285h0M588 1356h0M588 1248h0M588 1340h0M588 1337h0M588 1270h0M588 1360h0M588 1249h0M588 1325h0M588 1351h0M588 1325h0M588 1293h0M588 1367h0M588 1290h0M588 1353h0M588 1307h0M588 1264h0M588 1283h0M588 1369h0M588 1340h0M588 1298h0M589 1382h0M589 1293h0M589 1361h0M589 1331h0M589 1362h0M589 1349h0M589 1381h0M589 1356h0M589 1360h0M589 1335h0M589 1330h0M589 1263h0M589 1338h0M589 1349h0M589 1325h0M589 1298h0M589 1282h0M589 1339h0M589 1380h0M589 1323h0M589 1310h0M589 1383h0M589 1342h0M589 1265h0M589 1276h0M589 1377h0M589 1335h0M589 1270h0M589 1348h0M589 1324h0M590 1357h0M590 1366h0M590 1340h0M590 1329h0M590 1321h0M590 1413h0M590 1294h0M590 1383h0M590 1738h0M590 1322h0M590 1363h0M590 1356h0M590 1383h0M590 1342h0M591 1330h0M591 1344h0M591 1336h0M591 1294h0M591 1317h0M591 1336h0M591 1425h0M591 1298h0M591 1428h0M591 1286h0M591 1361h0M591 1407h0M591 1301h0M591 1297h0M591 1396h0M591 1362h0M591 1322h0M591 1333h0M591 1390h0M591 1394h0M591 1436h0M592 1362h0M592 1380h0M592 1360h0M592 1309h0M592 1351h0M592 1740h0M592 1739h0M592 1432h0M592 1417h0M592 1347h0M592 1339h0M592 1432h0M592 1304h0M592 1454h0M592 1422h0M592 1416h0M592 1375h0M592 1429h0M593 1356h0M593 1344h0M593 1324h0M593 1358h0M593 1359h0M593 1347h0M593 1427h0M593 1343h0M593 1329h0M593 1364h0M593 1445h0M593 1364h0M593 1402h0M593 1330h0M593 1431h0M593 1476h0M593 1468h0M593 1447h0M593 1450h0M593 1456h0M593 1376h0M593 1413h0M593 1373h0M594 1425h0M594 1438h0M594 1406h0M594 1446h0M594 1426h0M594 1417h0M594 1378h0M594 1471h0M594 1450h0M594 1415h0M594 1460h0M594 1343h0M594 1478h0M594 1448h0M594 1441h0M594 1403h0M594 1487h0M594 1364h0M594 1382h0M594 1356h0M594 1462h0M594 1346h0M594 1429h0M594 1390h0M594 1487h0M594 1439h0M595 1422h0M595 1385h0M595 1428h0M595 1460h0M595 1414h0M595 1497h0M595 1408h0M595 1400h0M595 1455h0M595 1445h0M595 1461h0M595 1431h0M595 1363h0M595 1383h0M595 1415h0M595 1489h0M595 1455h0M595 1458h0M595 1406h0M595 1493h0M596 1470h0M596 1440h0M596 1380h0M596 1508h0M596 1503h0M596 1387h0M596 1371h0M596 1440h0M596 1511h0M596 1738h0M596 1434h0M596 1515h0M596 1378h0M596 1469h0M596 1426h0M596 1490h0M596 1502h0M596 1740h0M596 1473h0M596 1486h0M596 1459h0M596 1399h0M596 1466h0M596 1430h0M597 1507h0M597 1474h0M597 1738h0M597 1431h0M597 1482h0M597 1432h0M597 1490h0M597 1489h0M597 1404h0M597 1412h0M597 1394h0M597 1451h0M597 1407h0M597 1451h0M597 1513h0M597 1466h0M597 1485h0M597 1536h0M597 1499h0M597 1455h0M597 1459h0M597 1491h0M597 1446h0M597 1481h0M597 1494h0M597 1479h0M597 1543h0M597 1740h0M597 1417h0M597 1409h0M597 1530h0M597 1454h0M597 1440h0M597 1430h0M598 1479h0M598 1511h0M598 1463h0M598 1411h0M598 1410h0M598 1739h0M598 1544h0M598 1543h0M598 1513h0M598 1524h0M598 1492h0M598 1492h0M598 1539h0M598 1508h0M598 1551h0M598 1490h0M598 1437h0M598 1454h0M598 1463h0M598 1463h0M598 1437h0M598 1486h0M598 1538h0M599 1509h0M599 1466h0M599 1459h0M599 1545h0M599 1530h0M599 1490h0M599 1567h0M599 1565h0M599 1486h0M599 1526h0M599 1451h0M599 1462h0M599 1477h0M599 1467h0M599 1517h0M599 1573h0M599 1513h0M599 1487h0M599 1559h0M599 1541h0M599 1478h0M599 1474h0M599 1519h0M599 1486h0M599 1502h0M599 1582h0M600 1516h0M600 1742h0M600 1457h0M600 1462h0M600 1508h0M600 1507h0M600 1512h0M600 1571h0M600 1477h0M600 1494h0M600 1547h0M600 1742h0M600 1474h0M600 1519h0M600 1551h0M600 1555h0M600 1477h0M601 1490h0M601 1572h0M601 1564h0M601 1483h0M601 1541h0M601 1511h0M601 1529h0M601 1482h0M601 1569h0M601 1588h0M601 1518h0M601 1530h0M601 1512h0M601 1584h0M602 1488h0M602 1524h0M602 1533h0M602 1511h0M602 1583h0M602 1578h0M602 1512h0M602 1579h0M602 1519h0M602 1552h0M602 1544h0M602 1551h0M602 1517h0M602 1515h0M602 1567h0M602 1578h0M602 1597h0M602 1738h0M602 1522h0M602 1557h0M602 1535h0M603 1518h0M603 1596h0M603 1527h0M603 1516h0M603 1543h0M603 1551h0M603 1529h0M603 1587h0M603 1536h0M603 1742h0M603 1561h0M603 1740h0M603 1739h0M604 1604h0M604 1598h0M604 1549h0M604 1542h0M604 1603h0M604 1601h0M604 1739h0M604 1605h0M604 1563h0M604 1536h0M604 1586h0M604 1597h0M605 1586h0M605 1596h0M605 1601h0M605 1554h0M605 1565h0M605 1742h0M605 1605h0M605 1600h0M605 1561h0M605 1549h0M605 1574h0M605 1615h0M605 1616h0M605 1741h0M605 1739h0M605 1616h0M606 1565h0M606 1614h0M606 1608h0M606 1566h0M606 1550h0M606 1606h0M606 1570h0M606 1570h0M606 1601h0M607 1562h0M607 1625h0M607 1610h0M607 1624h0M607 1570h0M607 1627h0M607 1593h0M607 1567h0M607 1613h0M607 1624h0M607 1581h0M607 1617h0M607 1566h0M607 1567h0M607 1585h0M608 1587h0M608 1627h0M608 1742h0M608 1629h0M608 1578h0M608 1619h0M608 1632h0M608 1635h0M608 1612h0M609 1577h0M609 1593h0M609 1613h0M609 1630h0M609 1590h0M609 1589h0M609 1739h0M609 1642h0M610 1605h0M610 1642h0M611 1635h0M611 1629h0M611 1649h0M611 1603h0M611 1744h0M611 1619h0M611 1608h0M611 1642h0M611 1650h0M612 1617h0M612 1744h0M612 1631h0M612 1635h0M612 1644h0M612 1609h0M612 1624h0M612 1638h0M613 1639h0M613 1624h0M613 1656h0M613 1741h0M613 1661h0M613 1741h0M613 1664h0M613 1626h0M613 1655h0M613 1653h0M613 1653h0M614 1665h0M614 1659h0M614 1639h0M614 1649h0M614 1650h0M614 1664h0M614 1630h0M614 1625h0M615 1659h0M615 1668h0M615 1650h0M615 1673h0M616 1655h0M616 1659h0M616 1665h0M617 1669h0M617 1680h0M617 1663h0M617 1674h0M617 1662h0M617 1678h0M617 1652h0M617 1686h0M617 1669h0M617 1680h0M617 1684h0M617 1658h0M618 1647h0M618 1657h0M618 1657h0M618 1686h0M618 1671h0M618 1680h0M619 1692h0M619 1700h0M619 1667h0M619 1684h0M619 1662h0M619 1739h0M619 1672h0M619 1677h0M619 1671h0M619 1673h0M619 1742h0M620 1670h0M620 1690h0M620 1673h0M620 1681h0M620 1698h0M620 1677h0M620 1682h0M620 1697h0M620 1698h0M620 1665h0M621 1671h0M621 1678h0M621 1682h0M621 1694h0M621 1712h0M621 1673h0M621 1712h0M621 1670h0M622 1712h0M622 1681h0M622 1697h0M622 1715h0M622 1741h0M622 1739h0M622 1741h0M622 1675h0M622 1692h0M622 1707h0M622 1707h0M623 1688h0M623 1740h0M623 1721h0M623 1741h0M623 1707h0M623 1696h0M623 1680h0M624 1685h0M624 1724h0M624 1702h0M624 1740h0M624 1725h0M624 1720h0M624 1694h0M624 1740h0M624 1719h0M625 1739h0M625 1703h0M625 1737h0M625 1718h0M625 1711h0M625 1696h0M625 1698h0M625 1726h0M625 1716h0M626 1705h0M626 1726h0M626 1734h0M627 1736h0M627 1704h0M627 1719h0M627 1716h0M627 1710h0M627 1727h0M628 1738h0M628 1724h0M628 1733h0M628 1725h0M629 1729h0M629 1732h0M629 1732h0M629 1727h0M629 1734h0M630 1740h0" stroke="#a2a2a2" stroke-width="2.1" stroke-linecap="round" fill="none" opacity="0.85"/>
<polygon points="290.6,620.4 290.0,621.7 290.5,624.2 291.4,626.0 292.0,627.8 291.9,629.3 291.3,630.0 292.1,631.6 291.5,633.3 292.4,634.6 291.8,636.8 292.8,638.0 292.7,639.7 292.1,640.9 292.0,643.3 292.8,644.0 292.7,646.0 292.3,647.8 292.4,649.1 292.6,651.2 293.0,652.4 292.6,653.4 293.4,655.0 293.0,657.2 293.1,657.9 293.5,659.7 292.8,661.4 293.3,663.0 293.4,664.9 293.9,666.7 293.9,668.2 292.9,668.8 293.4,670.6 293.0,672.9 293.8,673.9 294.2,675.0 293.6,677.4 294.2,678.2 293.9,679.8 293.6,682.1 293.3,683.5 294.4,685.0 294.4,685.9 294.1,688.2 294.3,688.6 294.7,690.3 293.6,692.6 294.3,694.0 294.4,695.8 295.0,696.7 294.3,698.4 294.6,700.1 294.9,701.6 294.9,702.4 295.3,704.9 294.6,706.1 295.2,707.7 294.8,709.1 295.3,710.2 295.1,711.6 294.7,713.1 295.3,715.1 294.8,716.4 294.9,717.7 295.3,719.9 295.4,721.6 296.1,723.0 295.8,723.8 295.8,725.8 296.2,727.0 295.7,728.1 296.0,729.8 296.6,731.8 296.4,733.4 297.0,734.8 296.6,736.1 296.9,737.3 296.7,739.4 297.1,741.0 296.6,742.1 297.4,743.2 297.1,744.6 297.3,746.4 296.8,747.6 297.5,750.1 297.8,750.9 297.2,752.5 297.4,753.7 298.2,756.0 298.1,757.0 298.0,758.0 298.4,759.8 298.1,762.1 298.7,763.3 298.0,765.0 298.9,766.7 298.1,768.3 299.1,769.3 298.4,770.8 298.4,772.1 299.3,774.2 299.1,775.3 299.4,777.2 299.4,778.2 299.6,780.4 298.7,781.7 299.2,783.3 299.3,784.0 299.8,786.3 299.6,787.8 299.1,788.4 300.0,790.1 299.7,792.4 300.6,793.0 300.3,794.8 300.9,796.5 300.7,798.5 301.6,799.4 301.9,801.5 301.9,803.3 302.2,804.7 301.7,805.4 302.7,807.6 302.3,809.2 302.7,810.4 303.6,811.9 303.5,814.0 303.5,814.7 304.1,817.1 304.8,818.7 304.7,819.8 304.3,821.1 305.6,822.9 304.7,824.4 305.2,826.4 305.2,827.9 306.0,829.2 306.6,830.9 305.9,832.0 307.1,832.8 306.6,834.8 307.3,836.2 306.9,837.5 307.6,839.4 308.4,840.9 307.8,841.8 308.1,843.4 308.8,844.9 308.5,846.5 309.4,848.6 309.9,850.0 310.1,852.1 309.7,853.3 310.0,855.1 310.7,856.2 311.2,857.3 311.4,859.6 311.4,860.5 312.0,863.0 312.5,863.4 312.1,866.1 311.4,867.4 311.8,869.6 310.0,869.7 307.9,869.1 307.1,869.2 305.6,869.7 303.1,869.1 301.5,869.0 299.9,868.7 299.4,869.0 297.0,869.0 296.1,868.4 294.1,868.1 292.2,868.5 291.5,868.0 289.6,868.4 287.4,867.6 286.2,867.6 284.6,867.7 283.0,867.7 281.7,867.5 279.6,866.8 278.4,866.1 276.7,865.8 275.9,865.8 274.5,866.4 273.0,866.2 270.6,864.9 270.0,865.7 268.5,864.7 266.5,864.7 265.0,864.2 262.9,863.9 262.0,863.7 260.4,863.5 258.7,863.5 257.0,863.3 256.2,863.6 253.7,863.3 252.3,863.6 251.8,862.8 249.7,863.5 248.1,863.3 247.1,863.2 245.1,863.4 243.8,862.6 242.3,863.1 240.8,863.5 239.6,863.0 237.4,862.5 235.8,863.2 234.4,863.1 232.5,863.3 231.3,862.3 229.7,862.4 228.8,863.0 226.9,862.8 225.4,862.7 224.0,862.7 222.6,862.7 220.6,862.0 219.4,862.3 217.7,862.5 216.6,861.9 214.7,861.7 213.2,862.2 211.3,862.3 209.8,862.5 208.8,862.0 207.4,861.8 205.3,862.1 203.7,861.4 202.0,862.0 200.8,861.9 199.0,862.2 198.6,862.2 196.6,861.8 194.8,861.6 193.9,861.6 191.9,861.2 190.8,861.9 189.1,861.8 187.1,862.1 186.4,861.9 184.2,861.8 183.0,860.9 181.5,861.7 179.8,860.8 178.8,860.9 176.8,861.3 175.2,860.6 173.3,861.0 172.7,860.9 170.6,860.9 169.7,861.5 167.4,861.0 165.7,861.3 164.0,860.8 163.5,861.0 161.9,861.2 160.3,861.0 158.7,860.6 157.5,860.4 155.8,860.3 153.6,860.9 152.9,860.9 151.1,860.1 149.6,860.4 148.2,859.9 145.8,860.8 144.3,859.9 143.9,860.5 142.2,859.7 139.7,859.7 138.7,859.9 137.6,860.0 135.5,859.9 134.3,859.5 132.3,859.6 131.3,860.1 129.4,860.1 128.2,859.8 126.2,859.7 124.9,859.2 123.1,859.9 121.9,859.3 120.4,859.5 118.9,859.9 117.2,859.4 115.9,859.2 114.1,859.1 113.2,858.7 111.1,858.6 110.5,859.1 108.6,859.3 107.4,858.5 106.0,858.1 104.1,857.8 102.7,858.0 101.0,858.6 99.2,857.6 98.1,857.7 96.8,857.5 94.7,857.7 93.8,856.6 91.9,856.1 91.1,855.1 89.1,855.2 87.6,854.7 89.3,853.1 91.0,852.8 92.5,851.5 93.2,850.3 94.7,850.2 96.7,849.0 97.7,848.4 99.6,848.4 101.1,847.3 102.9,846.3 104.1,846.2 105.5,845.6 107.0,844.7 108.7,844.7 109.5,844.0 111.6,842.7 113.4,842.5 114.4,843.0 116.1,841.8 117.6,841.8 118.9,841.4 121.1,841.0 122.6,841.1 124.0,841.1 125.4,840.6 126.9,840.0 128.5,840.1 129.6,840.1 131.6,839.8 132.9,838.9 134.7,838.5 135.6,838.7 136.8,837.8 138.8,838.0 141.0,837.5 141.8,837.7 143.8,836.8 145.1,836.6 146.2,836.8 147.4,836.4 149.5,837.0 150.8,836.6 153.0,835.5 154.6,835.7 155.3,835.0 157.2,835.1 158.7,834.9 159.8,835.0 162.2,834.5 163.7,834.6 164.6,833.9 166.6,834.1 168.0,833.8 168.9,834.2 171.0,833.8 172.4,833.0 174.3,833.1 175.9,832.5 176.3,833.0 178.3,832.4 180.3,832.5 181.9,832.7 182.3,832.0 184.1,832.6 186.1,831.3 187.4,831.7 188.6,831.6 190.1,831.1 192.1,831.6 194.0,831.3 194.7,831.0 196.2,830.1 197.9,830.4 199.9,830.7 200.6,830.5 202.5,829.5 204.6,830.2 205.6,830.2 207.3,829.2 208.6,829.5 209.7,829.2 212.2,829.2 213.2,828.8 214.3,828.8 216.9,828.4 218.3,827.8 219.8,828.5 220.6,827.7 222.8,827.4 224.4,828.1 226.1,827.0 227.6,827.5 228.5,827.0 230.6,826.6 231.7,827.0 233.0,826.2 234.7,826.1 235.6,825.7 238.0,824.4 238.8,823.4 239.9,823.5 241.4,822.1 242.6,820.7 244.5,819.8 245.8,818.8 247.0,817.8 247.6,816.6 248.3,816.4 248.9,814.2 249.8,813.3 251.4,811.9 251.5,810.8 252.9,809.8 253.3,808.4 254.0,806.8 254.6,805.4 255.9,804.1 256.7,802.9 258.0,801.3 258.4,800.9 259.0,798.8 260.7,797.9 261.0,795.8 261.9,795.0 262.3,793.5 263.9,792.4 263.6,790.9 264.7,788.9 265.1,787.1 265.6,786.7 265.1,784.8 266.0,782.6 266.0,781.3 265.9,780.0 266.4,778.7 267.4,777.1 267.7,776.3 268.0,774.2 267.4,772.8 268.6,771.4 268.7,769.8 267.8,768.2 268.0,766.8 269.1,764.6 269.3,763.2 268.7,762.3 269.1,760.4 269.0,759.0 269.7,757.6 269.8,755.2 269.3,753.7 269.6,753.0 269.5,751.2 269.8,749.8 269.3,747.6 270.3,746.6 270.2,745.4 270.3,743.0 270.4,742.4 269.6,739.8 270.1,739.1 269.5,737.3 269.6,736.1 270.2,734.7 269.8,732.4 269.6,731.2 270.0,729.5 269.8,728.4 270.1,726.1 270.1,724.7 270.0,723.4 270.4,721.4 269.3,720.1 270.2,719.1 269.6,717.1 270.2,716.0 270.4,714.1 270.9,712.4 271.0,711.2 270.5,709.0 271.5,707.7 271.0,706.2 271.9,704.4 272.1,703.1 271.3,701.6 272.4,700.4 273.3,698.7 273.5,697.7 274.4,696.5 275.7,695.5 275.3,693.7 276.5,691.6 277.2,690.2 277.8,689.2 277.5,687.4 277.9,686.0 278.7,684.3 278.7,683.5 280.0,681.5 279.8,680.1 279.9,678.3 280.3,676.7 281.0,675.9 280.5,673.7 281.5,672.1 280.9,670.8 281.2,669.3 281.7,667.1 282.5,665.8 282.1,664.5 282.1,662.6 282.3,661.2 282.8,659.2 283.6,657.7 283.8,657.2 284.3,655.7 283.9,653.4 284.6,652.3 284.4,651.1 285.1,649.5 285.7,647.5 285.5,645.7 286.1,644.7 285.5,643.6 285.8,642.0 286.2,639.5 286.3,638.4 286.9,636.9 287.0,635.1 287.4,633.1 287.5,631.9 287.5,630.4 288.1,628.4 288.4,626.8 288.6,625.0 289.0,623.6 290.0,622.2" fill="#acacac" opacity="1.0" />
<path transform="scale(.5)" d="M181 1710h0M182 1709h0M186 1706h0M192 1714h0M194 1704h0M199 1711h0M199 1700h0M201 1695h0M202 1706h0M203 1705h0M204 1707h0M205 1698h0M206 1703h0M207 1695h0M219 1707h0M220 1709h0M222 1715h0M224 1693h0M224 1690h0M229 1707h0M230 1705h0M237 1714h0M240 1687h0M248 1704h0M249 1716h0M253 1701h0M256 1696h0M257 1694h0M260 1691h0M261 1718h0M262 1695h0M262 1693h0M263 1718h0M264 1719h0M265 1693h0M268 1703h0M270 1686h0M270 1708h0M273 1710h0M273 1694h0M278 1703h0M280 1702h0M281 1683h0M281 1677h0M283 1676h0M283 1677h0M285 1720h0M286 1717h0M287 1691h0M288 1688h0M290 1710h0M292 1702h0M294 1688h0M294 1715h0M298 1685h0M298 1685h0M299 1697h0M301 1701h0M301 1677h0M304 1692h0M305 1712h0M307 1701h0M308 1676h0M308 1705h0M310 1704h0M310 1693h0M311 1679h0M311 1705h0M311 1675h0M312 1707h0M313 1705h0M313 1689h0M315 1715h0M319 1721h0M319 1691h0M323 1678h0M324 1696h0M324 1719h0M325 1706h0M325 1717h0M327 1690h0M331 1674h0M334 1695h0M334 1709h0M335 1687h0M342 1709h0M342 1671h0M344 1689h0M345 1700h0M347 1697h0M351 1715h0M351 1680h0M353 1684h0M355 1719h0M355 1695h0M358 1721h0M359 1679h0M359 1711h0M361 1704h0M364 1670h0M364 1692h0M365 1674h0M366 1714h0M366 1707h0M367 1680h0M369 1700h0M369 1697h0M371 1702h0M371 1722h0M372 1704h0M373 1681h0M373 1690h0M373 1682h0M377 1678h0M379 1667h0M379 1691h0M380 1684h0M380 1697h0M381 1717h0M381 1701h0M382 1692h0M383 1673h0M383 1685h0M384 1721h0M385 1722h0M385 1712h0M386 1698h0M386 1703h0M387 1681h0M388 1694h0M390 1722h0M390 1722h0M393 1681h0M393 1680h0M394 1695h0M397 1722h0M397 1686h0M398 1707h0M399 1688h0M400 1692h0M401 1700h0M401 1674h0M401 1702h0M402 1670h0M403 1662h0M403 1689h0M410 1694h0M413 1674h0M414 1722h0M418 1701h0M419 1694h0M420 1685h0M420 1717h0M421 1707h0M423 1712h0M423 1670h0M424 1694h0M424 1681h0M426 1694h0M428 1667h0M429 1697h0M430 1707h0M431 1700h0M433 1672h0M434 1673h0M434 1717h0M436 1719h0M436 1701h0M437 1699h0M438 1682h0M438 1723h0M438 1699h0M438 1664h0M438 1671h0M439 1678h0M439 1666h0M440 1724h0M441 1687h0M441 1718h0M443 1709h0M444 1701h0M444 1717h0M447 1689h0M447 1678h0M447 1719h0M447 1656h0M450 1714h0M450 1697h0M450 1668h0M450 1702h0M455 1693h0M455 1687h0M459 1678h0M459 1688h0M459 1721h0M460 1702h0M460 1699h0M460 1668h0M461 1701h0M462 1668h0M462 1697h0M464 1699h0M464 1707h0M465 1700h0M466 1673h0M467 1674h0M467 1710h0M468 1655h0M469 1669h0M470 1689h0M472 1721h0M473 1720h0M475 1689h0M475 1649h0M476 1651h0M477 1654h0M478 1719h0M479 1714h0M479 1652h0M479 1718h0M480 1680h0M481 1687h0M482 1646h0M484 1704h0M485 1705h0M485 1695h0M486 1650h0M487 1642h0M487 1710h0M489 1697h0M489 1666h0M490 1646h0M490 1724h0M491 1665h0M491 1726h0M491 1658h0M491 1700h0M492 1665h0M492 1666h0M494 1707h0M494 1695h0M496 1697h0M496 1719h0M497 1676h0M497 1714h0M498 1724h0M498 1712h0M499 1668h0M500 1631h0M501 1689h0M504 1668h0M504 1621h0M505 1646h0M508 1673h0M509 1624h0M509 1627h0M509 1650h0M509 1710h0M510 1660h0M510 1670h0M511 1661h0M511 1639h0M512 1647h0M513 1652h0M514 1623h0M514 1710h0M514 1607h0M514 1671h0M515 1711h0M516 1720h0M516 1635h0M517 1652h0M518 1705h0M519 1708h0M520 1678h0M521 1627h0M521 1664h0M522 1704h0M524 1603h0M525 1673h0M525 1638h0M526 1680h0M526 1616h0M526 1635h0M526 1624h0M526 1588h0M526 1688h0M527 1694h0M527 1671h0M527 1724h0M529 1707h0M529 1611h0M530 1652h0M531 1725h0M531 1591h0M531 1586h0M531 1698h0M531 1577h0M531 1729h0M531 1569h0M532 1700h0M532 1712h0M532 1702h0M532 1681h0M532 1636h0M534 1566h0M535 1631h0M536 1668h0M536 1552h0M536 1681h0M536 1623h0M537 1555h0M538 1619h0M538 1730h0M538 1720h0M539 1615h0M539 1707h0M539 1728h0M540 1656h0M540 1688h0M540 1633h0M541 1679h0M541 1449h0M541 1630h0M541 1672h0M541 1695h0M541 1511h0M542 1619h0M542 1549h0M542 1606h0M542 1660h0M543 1603h0M543 1573h0M543 1564h0M543 1683h0M543 1705h0M543 1411h0M544 1612h0M544 1450h0M544 1589h0M545 1532h0M545 1611h0M545 1469h0M545 1490h0M545 1638h0M545 1644h0M545 1550h0M545 1657h0M546 1586h0M546 1728h0M546 1675h0M546 1649h0M546 1452h0M546 1609h0M547 1467h0M547 1546h0M547 1593h0M547 1497h0M547 1445h0M547 1577h0M547 1712h0M547 1600h0M548 1678h0M548 1605h0M548 1670h0M549 1583h0M549 1586h0M549 1541h0M549 1695h0M549 1603h0M550 1504h0M550 1434h0M550 1704h0M550 1730h0M551 1435h0M551 1474h0M551 1520h0M551 1436h0M552 1530h0M552 1429h0M552 1612h0M552 1510h0M553 1707h0M553 1547h0M554 1651h0M554 1629h0M554 1674h0M555 1389h0M555 1718h0M555 1411h0M556 1514h0M556 1640h0M556 1649h0M556 1529h0M556 1486h0M556 1725h0M556 1685h0M556 1496h0M556 1723h0M556 1608h0M557 1572h0M557 1445h0M557 1598h0M557 1594h0M557 1693h0M557 1453h0M557 1553h0M558 1649h0M558 1545h0M558 1551h0M559 1688h0M559 1682h0M559 1427h0M559 1520h0M559 1511h0M559 1686h0M559 1633h0M559 1629h0M559 1527h0M559 1539h0M559 1727h0M559 1580h0M559 1497h0M561 1693h0M561 1570h0M561 1402h0M561 1432h0M561 1428h0M561 1440h0M562 1601h0M562 1646h0M563 1478h0M563 1481h0M563 1404h0M563 1459h0M564 1466h0M564 1354h0M564 1407h0M564 1462h0M564 1380h0M564 1359h0M565 1691h0M565 1685h0M565 1387h0M565 1466h0M565 1684h0M565 1443h0M565 1645h0M566 1456h0M567 1681h0M567 1661h0M567 1718h0M567 1321h0M567 1499h0M567 1454h0M567 1644h0M567 1445h0M567 1333h0M568 1724h0M568 1674h0M568 1570h0M568 1728h0M568 1401h0M568 1617h0M568 1724h0M568 1386h0M568 1372h0M568 1647h0M568 1633h0M568 1588h0M568 1522h0M569 1523h0M569 1606h0M569 1433h0M569 1570h0M569 1619h0M570 1600h0M570 1665h0M570 1702h0M570 1397h0M570 1566h0M570 1375h0M571 1531h0M571 1490h0M571 1505h0M571 1423h0M571 1515h0M571 1651h0M571 1734h0M572 1501h0M572 1663h0M572 1710h0M572 1441h0M572 1601h0M572 1428h0M573 1542h0M573 1658h0M573 1710h0M573 1343h0M573 1559h0M573 1418h0M573 1618h0M574 1709h0M574 1337h0M574 1725h0M574 1530h0M574 1592h0M574 1318h0M574 1442h0M574 1655h0M575 1549h0M575 1431h0M575 1700h0M575 1277h0M575 1626h0M575 1525h0M575 1379h0M575 1422h0M576 1487h0M576 1270h0M576 1593h0M576 1736h0M576 1676h0M576 1285h0M576 1496h0M576 1279h0M577 1708h0M577 1309h0M577 1718h0M577 1730h0M577 1440h0M577 1321h0M577 1523h0M577 1692h0M577 1699h0M578 1594h0M578 1447h0M578 1511h0M578 1451h0M578 1276h0M578 1510h0M579 1732h0M579 1680h0M579 1310h0M579 1500h0M579 1643h0M580 1447h0M580 1647h0M580 1425h0M580 1427h0M580 1635h0M580 1461h0M580 1566h0M580 1491h0M581 1736h0M581 1389h0M581 1517h0M581 1678h0M581 1562h0M581 1288h0M581 1286h0M581 1487h0M581 1378h0M582 1521h0M582 1700h0M582 1482h0M582 1552h0M582 1453h0M582 1347h0M582 1302h0M582 1517h0M583 1715h0M583 1635h0M583 1543h0M583 1597h0M583 1425h0M583 1634h0M583 1284h0M583 1516h0M583 1603h0M584 1537h0M584 1451h0M584 1291h0M584 1652h0M584 1340h0M584 1290h0M585 1358h0M585 1553h0M585 1464h0M585 1710h0M586 1613h0M586 1660h0M586 1354h0M586 1689h0M587 1463h0M587 1473h0M587 1699h0M587 1408h0M588 1538h0M588 1641h0M588 1578h0M588 1560h0M588 1722h0M588 1602h0M588 1588h0M589 1630h0M589 1664h0M589 1511h0M590 1412h0M590 1708h0M590 1668h0M590 1524h0M591 1461h0M591 1646h0M591 1717h0M591 1654h0M591 1536h0M591 1658h0M591 1448h0M592 1513h0M592 1581h0M592 1634h0M592 1723h0M593 1655h0M593 1531h0M593 1613h0M593 1518h0M593 1628h0M593 1562h0M593 1575h0M593 1542h0M593 1509h0M595 1728h0M595 1683h0M595 1588h0M595 1724h0M596 1668h0M596 1614h0M597 1582h0M597 1615h0M598 1595h0M598 1620h0M599 1699h0M599 1734h0M600 1701h0M600 1689h0M600 1612h0M601 1681h0M601 1662h0M601 1649h0M602 1695h0M602 1735h0M602 1676h0M602 1650h0M602 1714h0M602 1693h0M602 1702h0M603 1665h0M603 1700h0M604 1609h0M604 1613h0M604 1629h0M605 1702h0M605 1693h0M605 1728h0M606 1654h0M606 1638h0M606 1633h0M608 1721h0M608 1689h0M608 1736h0M608 1673h0M609 1720h0M609 1671h0M609 1654h0M610 1710h0M610 1729h0M611 1673h0M611 1719h0M612 1671h0M613 1688h0M614 1723h0M614 1712h0M615 1685h0M615 1695h0M617 1695h0M620 1712h0M620 1730h0M620 1724h0M622 1730h0" stroke="#d4d4d4" stroke-width="2.2" stroke-linecap="round" fill="none" opacity="0.9"/>
<path transform="scale(.5)" d="M364 1601h0M364 1616h0M368 1605h0M368 1601h0M370 1654h0M370 1617h0M371 1627h0M371 1616h0M372 1666h0M373 1648h0M373 1653h0M373 1624h0M373 1623h0M374 1599h0M375 1647h0M376 1645h0M376 1669h0M376 1617h0M378 1601h0M378 1603h0M378 1598h0M378 1664h0M379 1595h0M380 1622h0M380 1668h0M380 1646h0M380 1608h0M381 1612h0M381 1599h0M382 1599h0M382 1633h0M382 1603h0M382 1616h0M383 1657h0M383 1655h0M385 1646h0M386 1610h0M386 1633h0M387 1652h0M387 1660h0M387 1660h0M388 1635h0M388 1607h0M390 1660h0M390 1652h0M390 1593h0M391 1610h0M392 1635h0M392 1667h0M392 1662h0M393 1601h0M394 1657h0M394 1599h0M394 1594h0M395 1631h0M396 1653h0M396 1662h0M397 1652h0M397 1624h0M398 1617h0M398 1616h0M398 1605h0M399 1649h0M399 1610h0M399 1627h0M399 1611h0M400 1660h0M401 1655h0M402 1615h0M402 1608h0M402 1635h0M403 1648h0M404 1668h0M404 1630h0M404 1657h0M405 1627h0M406 1650h0M406 1589h0M406 1657h0M406 1658h0M406 1664h0M407 1597h0M407 1606h0M408 1629h0M408 1652h0M409 1628h0M409 1604h0M409 1592h0M410 1596h0M410 1667h0M410 1617h0M410 1634h0M411 1622h0M411 1632h0M412 1667h0M412 1589h0M413 1614h0M414 1661h0M415 1660h0M416 1655h0M416 1606h0M416 1610h0M417 1633h0M417 1638h0M417 1634h0M417 1610h0M417 1649h0M418 1648h0M418 1620h0M418 1615h0M419 1627h0M419 1651h0M419 1662h0M420 1634h0M420 1623h0M422 1662h0M422 1629h0M422 1589h0M422 1626h0M424 1624h0M424 1596h0M424 1590h0M424 1596h0M424 1584h0M426 1629h0M426 1587h0M429 1604h0M429 1587h0M429 1595h0M430 1659h0M430 1625h0M430 1595h0M431 1600h0M431 1654h0M431 1639h0M432 1651h0M433 1650h0M434 1620h0M434 1614h0M435 1591h0M435 1618h0M436 1643h0M437 1585h0M437 1610h0M437 1604h0M439 1652h0M439 1662h0M439 1656h0M440 1616h0M440 1627h0M441 1625h0M442 1628h0M442 1618h0M444 1646h0M444 1601h0M444 1638h0M445 1582h0M445 1636h0M446 1611h0M446 1622h0M448 1621h0M449 1647h0M449 1585h0M450 1626h0M450 1613h0M451 1635h0M451 1637h0M451 1657h0M452 1655h0M452 1594h0M453 1583h0M453 1624h0M454 1633h0M455 1619h0M455 1589h0M456 1613h0M456 1644h0M457 1634h0M457 1619h0M457 1648h0M458 1656h0M458 1592h0M458 1592h0M459 1638h0M459 1598h0M460 1600h0M461 1601h0M461 1609h0M461 1583h0M462 1641h0M464 1649h0M465 1601h0M465 1615h0M466 1611h0M466 1652h0M468 1618h0M468 1626h0M468 1653h0M469 1650h0M469 1614h0M471 1600h0M472 1628h0M473 1637h0M473 1587h0M475 1617h0M475 1627h0M476 1593h0M476 1601h0M477 1591h0M478 1602h0M478 1593h0M478 1588h0M480 1618h0M480 1642h0M481 1622h0M482 1630h0M483 1638h0M483 1611h0M484 1607h0M485 1646h0M485 1641h0M485 1587h0M488 1625h0M488 1645h0M489 1639h0M490 1618h0M494 1628h0M494 1589h0M495 1644h0M496 1589h0M496 1643h0M498 1630h0M499 1629h0M500 1612h0M500 1632h0M500 1641h0M500 1593h0M500 1625h0M501 1594h0M502 1611h0M502 1636h0M502 1600h0M502 1615h0M503 1596h0M504 1603h0M504 1615h0M505 1609h0M506 1601h0M507 1626h0M507 1591h0M508 1637h0M508 1597h0M509 1622h0M510 1629h0M510 1618h0M512 1598h0M513 1613h0M513 1604h0M513 1602h0M519 1632h0" stroke="#a8a8a8" stroke-width="2.0" stroke-linecap="round" fill="none" opacity="0.8"/>
<path transform="scale(.5)" d="M834 1557h0M835 1561h0M836 1563h0M837 1555h0M838 1562h0M839 1557h0M839 1555h0M839 1563h0M839 1558h0M839 1556h0M840 1563h0M841 1563h0M842 1552h0M844 1555h0M845 1560h0M846 1550h0M846 1562h0M847 1560h0M849 1565h0M849 1560h0M849 1549h0M850 1556h0M850 1559h0M850 1551h0M851 1558h0M851 1562h0M851 1557h0M852 1549h0M852 1549h0M852 1548h0M852 1564h0M852 1560h0M852 1566h0M853 1552h0M853 1548h0M853 1560h0M854 1566h0M854 1560h0M854 1561h0M854 1556h0M855 1566h0M856 1553h0M856 1568h0M856 1554h0M857 1566h0M857 1564h0M858 1553h0M858 1557h0M858 1568h0M860 1551h0M860 1544h0M860 1555h0M861 1561h0M862 1542h0M862 1542h0M862 1549h0M862 1545h0M862 1542h0M863 1549h0M864 1562h0M864 1550h0M865 1538h0M865 1553h0M866 1546h0M866 1541h0M866 1565h0M866 1562h0M867 1541h0M867 1543h0M869 1566h0M869 1549h0M869 1541h0M870 1573h0M871 1539h0M871 1566h0M871 1547h0M872 1543h0M872 1548h0M873 1533h0M873 1564h0M874 1549h0M874 1535h0M874 1537h0M875 1574h0M875 1567h0M875 1543h0M876 1571h0M876 1562h0M876 1536h0M876 1556h0M876 1542h0M876 1532h0M876 1550h0M877 1541h0M877 1543h0M877 1574h0M877 1549h0M877 1570h0M878 1568h0M878 1533h0M879 1543h0M879 1572h0M880 1551h0M880 1557h0M880 1546h0M880 1553h0M880 1556h0M881 1573h0M881 1555h0M881 1544h0M881 1540h0M882 1556h0M882 1545h0M882 1563h0M882 1553h0M882 1572h0M882 1577h0M882 1550h0M882 1558h0M883 1571h0M883 1556h0M883 1572h0M884 1572h0M884 1567h0M885 1572h0M885 1579h0M885 1567h0M885 1577h0M885 1577h0M885 1540h0M885 1556h0M886 1562h0M886 1571h0M886 1575h0M887 1568h0M887 1565h0M888 1559h0M888 1545h0M888 1571h0M888 1544h0M888 1563h0M889 1539h0M889 1570h0M890 1567h0M890 1562h0M890 1553h0M890 1566h0M890 1525h0M890 1538h0M890 1553h0M890 1546h0M891 1564h0M891 1568h0M891 1580h0M891 1555h0M891 1544h0M892 1568h0M892 1532h0M892 1562h0M892 1552h0M892 1546h0M892 1552h0M892 1558h0M892 1558h0M893 1549h0M893 1570h0M893 1535h0M893 1549h0M893 1541h0M893 1572h0M893 1568h0M894 1557h0M894 1549h0M894 1558h0M894 1559h0M894 1550h0M894 1556h0M895 1549h0M895 1555h0M895 1544h0M895 1563h0M895 1565h0M896 1570h0M896 1545h0M896 1573h0M896 1541h0M897 1577h0M897 1565h0M897 1538h0M897 1572h0M898 1547h0M898 1566h0M898 1535h0M898 1551h0M898 1545h0M898 1567h0M898 1533h0M898 1572h0M899 1565h0M899 1577h0M899 1538h0M899 1549h0M899 1532h0M899 1555h0M899 1544h0M899 1557h0M899 1544h0M899 1561h0M899 1538h0M899 1568h0M900 1537h0M900 1572h0M900 1553h0M900 1575h0M900 1567h0M900 1567h0M900 1552h0M900 1555h0M901 1520h0M901 1541h0M901 1564h0M901 1565h0M901 1537h0M901 1551h0M901 1566h0M901 1548h0M901 1584h0M901 1560h0M902 1565h0M902 1560h0M902 1553h0M902 1568h0M902 1575h0M902 1579h0M903 1536h0M903 1572h0M904 1581h0M904 1560h0M904 1560h0M904 1543h0M904 1552h0M904 1557h0M905 1561h0M905 1579h0M905 1553h0M905 1566h0M905 1552h0M905 1570h0M905 1519h0M905 1575h0M906 1549h0M906 1555h0M906 1567h0M906 1583h0M906 1569h0M907 1547h0M907 1576h0M907 1557h0M907 1565h0M907 1534h0M907 1573h0M908 1568h0M908 1564h0M909 1571h0M909 1543h0M911 1552h0M911 1553h0M912 1571h0M912 1586h0M912 1554h0M912 1561h0M913 1582h0M913 1577h0M913 1569h0M913 1576h0M913 1557h0M914 1549h0M914 1562h0M914 1554h0M914 1518h0M914 1566h0M914 1575h0M914 1552h0M914 1583h0M914 1521h0M914 1545h0M914 1579h0M915 1546h0M915 1579h0M915 1514h0M915 1563h0M915 1534h0M915 1536h0M916 1578h0M916 1558h0M916 1544h0M916 1543h0M916 1562h0M917 1538h0M917 1528h0M917 1576h0M917 1556h0M917 1562h0M917 1577h0M918 1575h0M918 1564h0M918 1553h0M918 1574h0M918 1551h0M919 1573h0M919 1527h0M919 1557h0M919 1552h0M919 1572h0M920 1579h0M920 1566h0M920 1548h0M920 1549h0M921 1564h0M921 1567h0M921 1561h0M921 1572h0M921 1577h0M921 1579h0M921 1545h0M922 1559h0M922 1551h0M922 1574h0M922 1558h0M922 1569h0M923 1587h0M923 1554h0M923 1567h0M923 1545h0M923 1573h0M923 1555h0M923 1549h0M923 1560h0M923 1553h0M923 1577h0M924 1548h0M924 1585h0M924 1587h0M924 1567h0M924 1573h0M925 1546h0M925 1522h0M925 1538h0M926 1584h0M926 1554h0M926 1549h0M926 1569h0M926 1551h0M927 1554h0M927 1549h0M928 1575h0M928 1521h0M928 1564h0M928 1566h0M928 1546h0M928 1548h0M928 1576h0M928 1577h0M928 1571h0M928 1552h0M929 1562h0M929 1562h0M929 1577h0M930 1553h0M930 1544h0M930 1578h0M930 1550h0M930 1541h0M931 1558h0M931 1586h0M931 1582h0M931 1572h0M931 1560h0M931 1537h0M931 1563h0M931 1550h0M932 1554h0M932 1574h0M932 1563h0M932 1548h0M933 1550h0M933 1579h0M933 1555h0M933 1577h0M933 1556h0M933 1561h0M933 1577h0M933 1571h0M933 1556h0M933 1531h0M934 1535h0M934 1575h0M934 1567h0M934 1573h0M934 1562h0M934 1559h0M934 1558h0M934 1562h0M935 1558h0M935 1531h0M935 1553h0M935 1561h0M936 1574h0M936 1571h0M936 1539h0M936 1545h0M936 1568h0M937 1581h0M937 1551h0M937 1562h0M937 1537h0M937 1567h0M937 1562h0M938 1529h0M938 1582h0M938 1570h0M938 1576h0M938 1551h0M938 1579h0M938 1575h0M938 1571h0M938 1584h0M939 1563h0M939 1582h0M939 1571h0M939 1509h0M940 1548h0M940 1578h0M940 1526h0M940 1549h0M940 1551h0M940 1500h0M941 1533h0M941 1577h0M941 1509h0M941 1535h0M941 1497h0M941 1591h0M941 1547h0M942 1570h0M942 1543h0M942 1587h0M942 1573h0M942 1574h0M943 1573h0M943 1570h0M943 1556h0M943 1546h0M943 1549h0M943 1544h0M944 1555h0M944 1565h0M944 1573h0M944 1551h0M944 1569h0M944 1552h0M944 1554h0M945 1590h0M945 1489h0M945 1563h0M945 1560h0M945 1555h0M945 1526h0M945 1547h0M946 1538h0M946 1568h0M946 1548h0M946 1556h0M946 1558h0M947 1580h0M947 1555h0M947 1550h0M947 1559h0M947 1580h0M948 1532h0M948 1552h0M948 1550h0M948 1546h0M948 1515h0M948 1552h0M949 1531h0M949 1582h0M949 1571h0M949 1554h0M949 1497h0M949 1559h0M949 1550h0M949 1573h0M949 1561h0M949 1532h0M950 1564h0M950 1538h0M950 1557h0M950 1561h0M950 1550h0M950 1526h0M950 1592h0M950 1562h0M950 1582h0M950 1582h0M950 1511h0M951 1580h0M951 1591h0M951 1533h0M951 1581h0M952 1574h0M952 1507h0M952 1576h0M952 1540h0M952 1577h0M952 1550h0M952 1557h0M952 1592h0M952 1536h0M952 1545h0M953 1483h0M953 1590h0M953 1556h0M953 1548h0M953 1586h0M953 1509h0M953 1591h0M954 1543h0M954 1584h0M954 1584h0M954 1526h0M954 1571h0M955 1533h0M955 1593h0M955 1553h0M955 1526h0M955 1573h0M955 1544h0M955 1542h0M956 1559h0M956 1579h0M956 1563h0M956 1552h0M956 1519h0M956 1515h0M956 1517h0M956 1531h0M956 1575h0M956 1537h0M957 1540h0M957 1573h0M957 1549h0M957 1558h0M958 1555h0M958 1520h0M958 1567h0M958 1544h0M958 1572h0M958 1525h0M958 1557h0M958 1560h0M958 1551h0M958 1558h0M959 1579h0M959 1564h0M959 1540h0M960 1561h0M960 1542h0M960 1588h0M960 1561h0M961 1576h0M961 1550h0M961 1556h0M961 1494h0M961 1579h0M961 1500h0M961 1582h0M961 1589h0M961 1553h0M962 1549h0M962 1518h0M962 1566h0M962 1566h0M962 1521h0M962 1560h0M962 1550h0M963 1501h0M963 1576h0M963 1553h0M963 1559h0M963 1570h0M963 1575h0M963 1539h0M963 1545h0M964 1559h0M964 1580h0M964 1551h0M964 1587h0M965 1573h0M965 1550h0M965 1486h0M965 1576h0M965 1572h0M965 1528h0M965 1595h0M965 1556h0M966 1575h0M966 1575h0M966 1597h0M966 1528h0M966 1539h0M966 1559h0M966 1539h0M966 1502h0M967 1570h0M967 1557h0M967 1575h0M967 1542h0M967 1553h0M967 1505h0M968 1578h0M968 1554h0M968 1579h0M968 1536h0M968 1559h0M968 1562h0M969 1553h0M969 1574h0M969 1502h0M969 1548h0M969 1595h0M969 1538h0M969 1555h0M969 1536h0M970 1560h0M970 1479h0M970 1549h0M970 1501h0M970 1540h0M971 1596h0M971 1499h0M971 1554h0M971 1575h0M971 1546h0M972 1527h0M972 1558h0M972 1511h0M972 1514h0M972 1552h0M972 1551h0M972 1553h0M972 1575h0M972 1558h0M972 1547h0M973 1517h0M973 1575h0M973 1587h0M973 1558h0M973 1515h0M973 1516h0M974 1538h0M974 1516h0M974 1524h0M974 1569h0M974 1534h0M975 1564h0M975 1546h0M975 1594h0M975 1577h0M975 1520h0M976 1524h0M976 1593h0M976 1560h0M976 1578h0M976 1571h0M977 1531h0M977 1575h0M977 1599h0M977 1542h0M977 1548h0M977 1578h0M977 1554h0M977 1588h0M977 1513h0M978 1534h0M978 1585h0M978 1556h0M978 1553h0M978 1554h0M979 1590h0M979 1561h0M979 1578h0M979 1543h0M980 1575h0M980 1567h0M980 1544h0M980 1559h0M980 1585h0M981 1587h0M981 1549h0M981 1573h0M981 1588h0M981 1574h0M981 1532h0M982 1578h0M982 1562h0M982 1573h0M982 1520h0M982 1548h0M982 1578h0M982 1576h0M982 1572h0M983 1551h0M983 1519h0M983 1582h0M983 1515h0M984 1526h0M984 1544h0M984 1554h0M984 1585h0M984 1583h0M984 1580h0M984 1541h0M984 1592h0M985 1530h0M985 1587h0M985 1577h0M985 1591h0M985 1593h0M986 1529h0M986 1580h0M986 1588h0M986 1582h0M986 1564h0M986 1576h0M986 1544h0M986 1536h0M987 1587h0M987 1544h0M987 1546h0M987 1571h0M987 1579h0M987 1486h0M987 1588h0M987 1575h0M987 1553h0M987 1584h0M988 1521h0M988 1586h0M988 1583h0M988 1592h0M988 1572h0M988 1553h0M988 1598h0M988 1572h0M989 1575h0M989 1566h0M989 1590h0M989 1596h0M989 1535h0M990 1578h0M990 1576h0M990 1586h0M990 1578h0M990 1502h0M990 1587h0M990 1545h0M991 1474h0M991 1569h0M991 1524h0M991 1519h0M991 1538h0M991 1575h0M991 1592h0M991 1584h0M992 1586h0M992 1576h0M992 1590h0M992 1560h0M992 1584h0M992 1589h0M992 1568h0M992 1587h0M992 1559h0M992 1562h0M992 1487h0M993 1588h0M993 1554h0M993 1518h0M993 1581h0M993 1564h0M993 1588h0M993 1493h0M993 1571h0M993 1602h0M993 1558h0M993 1585h0M994 1537h0M994 1555h0M994 1555h0M994 1580h0M994 1585h0M994 1555h0M994 1577h0M994 1569h0M994 1542h0M995 1577h0M995 1562h0M995 1592h0M995 1546h0M995 1570h0M996 1605h0M996 1552h0M996 1575h0M996 1587h0M996 1537h0M996 1526h0M996 1580h0M996 1555h0M996 1508h0M996 1573h0M996 1580h0M996 1541h0M996 1592h0M996 1545h0M997 1596h0M997 1528h0M997 1582h0M997 1580h0M997 1593h0M997 1592h0M997 1538h0M997 1574h0M997 1589h0M997 1576h0M997 1571h0M997 1543h0M998 1591h0M998 1547h0M998 1559h0M998 1596h0M998 1579h0M998 1538h0M998 1582h0M998 1479h0M999 1595h0M999 1595h0M999 1568h0M999 1592h0M999 1597h0M1000 1555h0M1000 1480h0M1000 1579h0M1000 1512h0M1000 1593h0M1000 1573h0M1001 1596h0M1001 1577h0M1001 1543h0M1001 1589h0M1001 1562h0M1001 1481h0M1001 1553h0M1002 1582h0M1002 1517h0M1002 1596h0M1002 1590h0M1002 1568h0M1002 1545h0M1002 1458h0M1002 1564h0M1002 1596h0M1002 1591h0M1002 1575h0M1003 1590h0M1003 1556h0M1003 1597h0M1003 1589h0M1003 1543h0M1003 1539h0M1003 1578h0M1003 1589h0M1004 1535h0M1004 1584h0M1004 1601h0M1004 1563h0M1004 1582h0M1004 1567h0M1004 1494h0M1004 1560h0M1004 1543h0M1004 1590h0M1004 1542h0M1004 1597h0M1005 1564h0M1005 1517h0M1005 1550h0M1005 1555h0M1005 1552h0M1006 1589h0M1006 1604h0M1006 1571h0M1006 1574h0M1006 1542h0M1006 1591h0M1006 1544h0M1006 1594h0M1007 1526h0M1007 1601h0M1007 1583h0M1007 1508h0M1007 1452h0M1007 1526h0M1007 1539h0M1008 1585h0M1008 1509h0M1008 1542h0M1008 1548h0M1008 1576h0M1008 1594h0M1008 1601h0M1008 1539h0M1008 1582h0M1008 1585h0M1008 1579h0M1008 1589h0M1008 1568h0M1009 1580h0M1009 1602h0M1009 1583h0M1009 1518h0M1009 1566h0M1009 1545h0M1009 1530h0M1009 1534h0M1009 1559h0M1010 1575h0M1010 1538h0M1010 1588h0M1010 1573h0M1010 1585h0M1010 1583h0M1010 1555h0M1010 1546h0M1011 1562h0M1011 1560h0M1011 1581h0M1011 1598h0M1011 1588h0M1011 1567h0M1011 1555h0M1011 1569h0M1011 1549h0M1011 1569h0M1011 1567h0M1011 1553h0M1012 1552h0M1012 1598h0M1012 1602h0M1012 1572h0M1012 1595h0M1012 1586h0M1012 1551h0M1012 1560h0M1012 1574h0M1012 1532h0M1012 1546h0M1013 1610h0M1013 1590h0M1013 1595h0M1014 1601h0M1014 1533h0M1014 1558h0M1014 1525h0M1014 1593h0M1014 1554h0M1014 1599h0M1014 1596h0M1015 1590h0M1015 1595h0M1015 1563h0M1015 1556h0M1015 1568h0M1015 1548h0M1015 1559h0M1015 1590h0M1015 1586h0M1015 1604h0M1015 1453h0M1016 1594h0M1016 1593h0M1016 1582h0M1016 1587h0M1016 1556h0M1016 1561h0M1016 1574h0M1016 1596h0M1017 1508h0M1017 1590h0M1017 1540h0M1017 1581h0M1017 1574h0M1017 1551h0M1017 1586h0M1017 1511h0M1017 1568h0M1017 1556h0M1017 1568h0M1017 1561h0M1017 1584h0M1017 1593h0M1018 1479h0M1018 1521h0M1018 1589h0M1018 1574h0M1018 1572h0M1018 1437h0M1018 1558h0M1018 1602h0M1018 1551h0M1018 1584h0M1018 1558h0M1018 1582h0M1018 1583h0M1018 1601h0M1018 1529h0M1019 1562h0M1019 1473h0M1019 1551h0M1019 1599h0M1019 1602h0M1019 1542h0M1019 1588h0M1019 1571h0M1019 1580h0M1019 1504h0M1019 1558h0M1019 1521h0M1020 1552h0M1020 1589h0M1020 1591h0M1020 1543h0M1020 1564h0M1020 1586h0M1020 1559h0M1020 1596h0M1020 1572h0M1021 1524h0M1021 1586h0M1021 1495h0M1021 1583h0M1021 1591h0M1021 1584h0M1021 1564h0M1022 1597h0M1022 1589h0M1022 1580h0M1022 1559h0M1022 1606h0M1022 1519h0M1022 1533h0M1022 1473h0M1022 1596h0M1023 1573h0M1023 1543h0M1023 1523h0M1023 1524h0M1023 1569h0M1024 1541h0M1024 1544h0M1024 1565h0M1024 1568h0M1024 1578h0M1024 1594h0M1025 1435h0M1025 1556h0M1025 1592h0M1025 1608h0M1025 1589h0M1025 1558h0M1025 1588h0M1025 1583h0M1025 1607h0M1025 1554h0M1026 1589h0M1026 1603h0M1026 1594h0M1026 1606h0M1026 1577h0M1026 1578h0M1026 1591h0M1026 1525h0M1026 1547h0M1026 1585h0M1026 1544h0M1026 1580h0M1026 1565h0M1027 1562h0M1027 1530h0M1027 1581h0M1027 1584h0M1027 1576h0M1027 1572h0M1027 1608h0M1027 1408h0M1027 1584h0M1027 1551h0M1027 1405h0M1027 1573h0M1027 1565h0M1027 1583h0M1027 1583h0M1027 1585h0M1027 1525h0M1028 1538h0M1028 1589h0M1028 1524h0M1028 1561h0M1028 1594h0M1028 1538h0M1028 1601h0M1028 1548h0M1028 1594h0M1029 1586h0M1029 1435h0M1029 1548h0M1029 1593h0M1029 1545h0M1029 1590h0M1029 1538h0M1029 1588h0M1029 1592h0M1029 1560h0M1029 1597h0M1029 1584h0M1029 1606h0M1029 1582h0M1029 1575h0M1029 1593h0M1030 1416h0M1030 1568h0M1030 1579h0M1030 1542h0M1030 1560h0M1030 1592h0M1030 1605h0M1030 1412h0M1030 1606h0M1030 1605h0M1030 1417h0M1030 1553h0M1030 1602h0M1031 1416h0M1031 1574h0M1031 1516h0M1031 1614h0M1031 1416h0M1032 1405h0M1032 1534h0M1032 1544h0M1032 1483h0M1032 1565h0M1032 1583h0M1032 1546h0M1032 1606h0M1032 1411h0M1032 1555h0M1032 1411h0M1032 1592h0M1032 1591h0M1032 1563h0M1033 1557h0M1033 1578h0M1033 1540h0M1033 1600h0M1033 1587h0M1033 1547h0M1033 1588h0M1033 1538h0M1033 1580h0M1033 1418h0M1033 1413h0M1033 1466h0M1033 1408h0M1033 1550h0M1033 1555h0M1034 1559h0M1034 1602h0M1034 1550h0M1034 1609h0M1034 1576h0M1034 1551h0M1034 1510h0M1034 1405h0M1034 1564h0M1034 1585h0M1034 1584h0M1034 1554h0M1034 1573h0M1034 1558h0M1034 1602h0M1034 1414h0M1034 1527h0M1034 1592h0M1034 1596h0M1034 1608h0M1035 1410h0M1035 1537h0M1035 1539h0M1035 1571h0M1035 1611h0M1035 1585h0M1035 1541h0M1035 1568h0M1035 1541h0M1035 1537h0M1035 1610h0M1036 1423h0M1036 1549h0M1036 1493h0M1036 1512h0M1036 1557h0M1036 1561h0M1036 1567h0M1037 1593h0M1037 1413h0M1037 1593h0M1037 1425h0M1037 1416h0M1037 1582h0M1037 1596h0M1037 1588h0M1037 1525h0M1037 1589h0M1037 1567h0M1037 1564h0M1037 1466h0M1037 1590h0M1038 1606h0M1038 1549h0M1038 1581h0M1038 1613h0M1038 1563h0M1038 1543h0M1038 1566h0M1038 1420h0M1039 1553h0M1039 1452h0M1039 1588h0M1039 1618h0M1039 1592h0M1039 1586h0M1039 1576h0M1039 1567h0M1039 1587h0M1039 1571h0M1039 1577h0M1039 1595h0M1039 1574h0M1039 1424h0M1039 1403h0M1039 1417h0M1039 1442h0M1040 1583h0M1040 1552h0M1040 1603h0M1040 1592h0M1040 1603h0M1040 1556h0M1040 1599h0M1040 1587h0M1040 1553h0M1041 1606h0M1041 1576h0M1041 1466h0M1041 1425h0M1041 1585h0M1041 1596h0M1041 1426h0M1041 1500h0M1041 1402h0M1041 1539h0M1041 1410h0M1042 1559h0M1042 1544h0M1042 1598h0M1042 1400h0M1042 1615h0M1042 1407h0M1042 1595h0M1042 1467h0M1042 1594h0M1042 1560h0M1042 1585h0M1042 1564h0M1042 1552h0M1042 1423h0M1042 1427h0M1042 1515h0M1042 1547h0M1042 1406h0M1042 1611h0M1042 1545h0M1042 1571h0M1043 1439h0M1043 1588h0M1043 1558h0M1043 1600h0M1043 1576h0M1043 1543h0M1043 1585h0M1043 1561h0M1043 1556h0M1043 1587h0M1043 1533h0M1044 1529h0M1044 1530h0M1044 1405h0M1044 1418h0M1044 1486h0M1044 1549h0M1044 1602h0M1044 1614h0M1044 1547h0M1044 1505h0M1044 1572h0M1044 1541h0M1044 1558h0M1044 1432h0M1044 1434h0M1045 1415h0M1045 1574h0M1045 1401h0M1045 1420h0M1045 1607h0M1045 1606h0M1045 1576h0M1045 1606h0M1045 1556h0M1045 1564h0M1045 1539h0M1045 1568h0M1045 1414h0M1045 1555h0M1045 1500h0M1046 1598h0M1046 1414h0M1046 1593h0M1046 1541h0M1046 1599h0M1046 1596h0M1046 1425h0M1046 1539h0M1046 1567h0M1046 1401h0M1046 1599h0M1046 1546h0M1046 1532h0M1046 1539h0M1047 1600h0M1047 1422h0M1047 1463h0M1047 1605h0M1047 1546h0M1047 1592h0M1047 1415h0M1047 1554h0M1047 1526h0M1047 1599h0M1047 1609h0M1047 1422h0M1047 1569h0M1047 1561h0M1047 1548h0M1047 1610h0M1047 1589h0M1047 1573h0M1048 1536h0M1048 1499h0M1048 1585h0M1048 1574h0M1048 1598h0M1048 1521h0M1048 1429h0M1048 1543h0M1048 1600h0M1048 1537h0M1048 1608h0M1048 1560h0M1048 1562h0M1048 1608h0M1049 1612h0M1049 1573h0M1049 1565h0M1049 1598h0M1049 1416h0M1049 1537h0M1049 1470h0M1049 1599h0M1049 1607h0M1049 1579h0M1049 1601h0M1049 1542h0M1049 1594h0M1050 1573h0M1050 1536h0M1050 1614h0M1050 1538h0M1050 1526h0M1050 1430h0M1050 1586h0M1050 1563h0M1050 1406h0M1050 1428h0M1050 1588h0M1050 1402h0M1050 1420h0M1050 1420h0M1050 1562h0M1050 1496h0M1051 1418h0M1051 1573h0M1051 1404h0M1051 1476h0M1051 1579h0M1051 1413h0M1051 1566h0M1051 1551h0M1051 1603h0M1051 1577h0M1052 1495h0M1052 1601h0M1052 1562h0M1052 1596h0M1052 1567h0M1052 1562h0M1052 1575h0M1052 1598h0M1052 1462h0M1052 1586h0M1052 1572h0M1052 1598h0M1052 1511h0M1052 1418h0M1053 1561h0M1053 1532h0M1053 1613h0M1053 1545h0M1053 1596h0M1053 1560h0M1053 1613h0M1053 1597h0M1053 1415h0M1053 1586h0M1053 1410h0M1053 1585h0M1053 1560h0M1053 1580h0M1053 1540h0M1053 1418h0M1054 1579h0M1054 1513h0M1054 1590h0M1054 1563h0M1054 1426h0M1054 1599h0M1054 1542h0M1054 1575h0M1054 1614h0M1054 1572h0M1054 1532h0M1054 1410h0M1054 1440h0M1054 1531h0M1054 1411h0M1054 1548h0M1054 1540h0M1054 1574h0M1054 1583h0M1054 1538h0M1054 1593h0M1054 1567h0M1054 1603h0M1054 1604h0M1054 1419h0M1054 1565h0M1054 1595h0M1054 1549h0M1054 1403h0M1054 1554h0M1055 1588h0M1055 1481h0M1055 1542h0M1055 1596h0M1055 1576h0M1055 1562h0M1055 1611h0M1055 1525h0M1055 1589h0M1055 1428h0M1055 1401h0M1055 1620h0M1055 1589h0M1055 1400h0M1055 1573h0M1055 1413h0M1055 1583h0M1055 1598h0M1056 1503h0M1056 1575h0M1056 1609h0M1056 1621h0M1056 1420h0M1056 1403h0M1056 1590h0M1056 1559h0M1056 1415h0M1056 1583h0M1056 1588h0M1056 1591h0M1056 1406h0M1056 1538h0M1056 1588h0M1056 1552h0M1057 1401h0M1057 1537h0M1057 1563h0M1057 1586h0M1057 1488h0M1057 1555h0M1057 1586h0M1057 1581h0M1057 1607h0M1057 1512h0M1058 1529h0M1058 1599h0M1058 1548h0M1058 1538h0M1058 1415h0M1058 1424h0M1058 1585h0M1058 1611h0M1058 1612h0M1058 1544h0M1058 1574h0M1058 1403h0M1058 1552h0M1059 1564h0M1059 1407h0M1059 1541h0M1059 1604h0M1059 1500h0M1059 1531h0M1059 1556h0M1059 1555h0M1059 1592h0M1059 1600h0M1059 1414h0M1059 1417h0M1059 1619h0M1059 1561h0M1060 1418h0M1060 1571h0M1060 1540h0M1060 1603h0M1060 1402h0M1060 1588h0M1060 1442h0M1060 1471h0M1060 1559h0M1060 1586h0M1061 1426h0M1061 1544h0M1061 1597h0M1061 1483h0M1061 1612h0M1061 1561h0M1061 1582h0M1061 1570h0M1061 1410h0M1061 1610h0M1061 1412h0M1061 1416h0M1061 1599h0M1061 1552h0M1062 1593h0M1062 1595h0M1062 1602h0M1062 1589h0M1062 1570h0M1062 1549h0M1062 1555h0M1062 1607h0M1062 1602h0M1062 1556h0M1062 1547h0M1062 1424h0M1062 1423h0M1062 1546h0M1062 1610h0M1062 1555h0M1063 1604h0M1063 1602h0M1063 1619h0M1063 1537h0M1063 1623h0M1063 1605h0M1063 1567h0M1063 1615h0M1063 1425h0M1063 1613h0M1063 1402h0M1064 1417h0M1064 1580h0M1064 1562h0M1064 1550h0M1064 1622h0M1064 1537h0M1064 1523h0M1064 1608h0M1064 1518h0M1064 1403h0M1064 1568h0M1064 1592h0M1065 1563h0M1065 1591h0M1065 1532h0M1065 1422h0M1065 1544h0M1065 1540h0M1065 1500h0M1065 1547h0M1065 1623h0M1066 1562h0M1066 1561h0M1066 1604h0M1066 1585h0M1066 1546h0M1066 1556h0M1066 1522h0M1066 1563h0M1066 1587h0M1066 1412h0M1066 1603h0M1066 1555h0M1066 1536h0M1066 1617h0M1066 1558h0M1066 1599h0M1067 1587h0M1067 1405h0M1067 1421h0M1067 1567h0M1067 1623h0M1067 1535h0M1067 1409h0M1067 1598h0M1067 1621h0M1067 1417h0M1067 1549h0M1067 1578h0M1067 1603h0M1067 1548h0M1067 1416h0M1067 1600h0M1068 1512h0M1068 1601h0M1068 1424h0M1068 1627h0M1068 1587h0M1068 1581h0M1068 1589h0M1068 1610h0M1068 1553h0M1068 1588h0M1068 1585h0M1068 1464h0M1068 1578h0M1069 1594h0M1069 1571h0M1069 1561h0M1069 1604h0M1069 1600h0M1069 1408h0M1070 1528h0M1070 1531h0M1070 1547h0M1070 1593h0M1070 1544h0M1070 1406h0M1070 1602h0M1070 1568h0M1070 1554h0M1070 1565h0M1070 1601h0M1070 1559h0M1071 1592h0M1071 1542h0M1071 1581h0M1071 1559h0M1071 1421h0M1071 1547h0M1071 1503h0M1071 1549h0M1071 1606h0M1071 1565h0M1071 1524h0M1071 1533h0M1071 1417h0M1071 1623h0M1071 1588h0M1072 1622h0M1072 1548h0M1072 1410h0M1072 1420h0M1072 1555h0M1072 1414h0M1072 1558h0M1072 1482h0M1072 1473h0M1072 1628h0M1072 1409h0M1072 1488h0M1072 1598h0M1072 1597h0M1072 1534h0M1072 1611h0M1072 1612h0M1072 1423h0M1072 1545h0M1073 1581h0M1073 1418h0M1073 1420h0M1073 1547h0M1073 1564h0M1073 1474h0M1073 1405h0M1073 1529h0M1073 1629h0M1073 1617h0M1073 1409h0M1073 1469h0M1073 1582h0M1073 1542h0M1073 1580h0M1073 1628h0M1073 1406h0M1073 1579h0M1074 1545h0M1074 1411h0M1074 1604h0M1074 1574h0M1074 1579h0M1074 1627h0M1074 1605h0M1074 1611h0M1074 1487h0M1074 1598h0M1074 1531h0M1075 1565h0M1075 1606h0M1075 1411h0M1075 1461h0M1075 1575h0M1075 1564h0M1075 1587h0M1075 1615h0M1075 1618h0M1075 1614h0M1075 1510h0M1075 1621h0M1075 1530h0M1075 1543h0M1075 1582h0M1076 1565h0M1076 1542h0M1076 1542h0M1076 1586h0M1076 1461h0M1076 1479h0M1076 1543h0M1076 1592h0M1076 1610h0M1076 1631h0M1076 1518h0M1077 1544h0M1077 1621h0M1077 1612h0M1077 1629h0M1077 1521h0M1077 1575h0M1077 1579h0M1077 1410h0M1077 1604h0M1077 1610h0M1077 1600h0M1077 1545h0M1077 1618h0M1077 1508h0M1077 1607h0M1078 1607h0M1078 1551h0M1078 1584h0M1078 1606h0M1078 1617h0M1078 1562h0M1078 1578h0M1078 1601h0M1078 1414h0M1078 1589h0M1078 1579h0M1078 1604h0M1079 1422h0M1079 1567h0M1079 1500h0M1079 1598h0M1079 1579h0M1079 1530h0M1079 1540h0M1079 1508h0M1079 1566h0M1079 1552h0M1079 1555h0M1080 1516h0M1080 1602h0M1080 1519h0M1080 1611h0M1080 1556h0M1080 1410h0M1080 1557h0M1080 1547h0M1080 1561h0M1081 1543h0M1081 1510h0M1081 1612h0M1081 1604h0M1081 1542h0M1081 1412h0M1081 1616h0M1081 1600h0M1081 1618h0M1082 1629h0M1082 1613h0M1082 1420h0M1082 1622h0M1082 1496h0M1082 1550h0M1082 1632h0M1082 1442h0M1082 1592h0M1082 1412h0M1082 1582h0M1082 1626h0M1082 1567h0M1082 1566h0M1082 1420h0M1083 1567h0M1083 1628h0M1083 1539h0M1083 1610h0M1083 1620h0M1083 1582h0M1083 1575h0M1083 1590h0M1083 1600h0M1083 1630h0M1083 1545h0M1083 1457h0M1083 1522h0M1083 1629h0M1083 1587h0M1083 1588h0M1083 1411h0M1083 1427h0M1084 1589h0M1084 1574h0M1084 1620h0M1084 1583h0M1084 1610h0M1084 1598h0M1084 1619h0M1084 1495h0M1084 1628h0M1084 1621h0M1084 1608h0M1084 1627h0M1084 1525h0M1084 1546h0M1084 1610h0M1085 1554h0M1085 1572h0M1085 1560h0M1085 1410h0M1085 1422h0M1085 1416h0M1085 1550h0M1085 1526h0M1085 1600h0M1085 1632h0M1085 1613h0M1085 1464h0M1085 1523h0M1085 1555h0M1086 1497h0M1086 1627h0M1086 1600h0M1086 1587h0M1086 1595h0M1086 1478h0M1086 1598h0M1086 1599h0M1086 1410h0M1086 1536h0M1086 1572h0M1086 1593h0M1086 1410h0M1086 1420h0M1086 1600h0M1086 1630h0M1087 1589h0M1087 1635h0M1087 1427h0M1087 1611h0M1087 1633h0M1087 1587h0M1087 1558h0M1087 1419h0M1087 1543h0M1087 1576h0M1087 1594h0M1087 1587h0M1087 1606h0M1087 1581h0M1087 1575h0M1087 1523h0M1087 1419h0M1087 1418h0M1087 1617h0M1087 1534h0M1087 1620h0M1087 1591h0M1088 1590h0M1088 1491h0M1088 1590h0M1088 1636h0M1088 1527h0M1088 1573h0M1088 1602h0M1088 1505h0M1088 1432h0M1088 1580h0M1088 1576h0M1088 1559h0M1088 1631h0M1089 1411h0M1089 1421h0M1089 1590h0M1089 1614h0M1089 1616h0M1089 1590h0M1089 1414h0M1089 1631h0M1089 1609h0M1089 1572h0M1089 1630h0M1089 1580h0M1089 1598h0M1089 1635h0M1089 1528h0M1089 1607h0M1089 1599h0M1089 1573h0M1089 1616h0M1089 1574h0M1089 1627h0M1089 1586h0M1090 1586h0M1090 1558h0M1090 1418h0M1090 1577h0M1090 1527h0M1090 1580h0M1090 1620h0M1090 1579h0M1090 1422h0M1090 1635h0M1090 1411h0M1090 1591h0M1090 1590h0M1090 1616h0M1090 1588h0M1090 1610h0M1090 1481h0M1090 1565h0M1090 1586h0M1090 1555h0M1090 1430h0M1090 1598h0M1091 1550h0M1091 1626h0M1091 1581h0M1091 1552h0M1091 1595h0M1091 1449h0M1091 1597h0M1091 1604h0M1091 1595h0M1091 1411h0M1091 1599h0M1091 1632h0M1091 1544h0M1091 1524h0M1091 1421h0M1091 1552h0M1091 1602h0M1091 1500h0M1091 1540h0M1091 1600h0M1091 1539h0M1091 1600h0M1091 1563h0M1091 1589h0M1091 1413h0M1092 1590h0M1092 1552h0M1092 1590h0M1092 1535h0M1092 1562h0M1092 1605h0M1092 1579h0M1092 1552h0M1092 1632h0M1092 1412h0M1092 1590h0M1092 1563h0M1093 1538h0M1093 1558h0M1093 1626h0M1093 1549h0M1093 1583h0M1093 1570h0M1093 1601h0M1093 1624h0M1093 1413h0M1093 1417h0M1093 1437h0M1093 1536h0M1093 1622h0M1093 1592h0M1093 1637h0M1094 1598h0M1094 1593h0M1094 1418h0M1094 1543h0M1094 1544h0M1094 1617h0M1094 1508h0M1094 1541h0M1094 1590h0M1094 1427h0M1094 1604h0M1095 1413h0M1095 1589h0M1095 1584h0M1095 1601h0M1095 1611h0M1095 1582h0M1096 1628h0M1096 1417h0M1096 1548h0M1096 1550h0M1096 1561h0M1096 1618h0M1096 1603h0M1096 1572h0M1096 1632h0M1096 1532h0M1096 1490h0M1096 1585h0M1096 1542h0M1096 1581h0M1096 1587h0M1097 1409h0M1097 1598h0M1097 1610h0M1097 1593h0M1097 1604h0M1097 1623h0M1097 1465h0M1097 1595h0M1097 1610h0M1097 1614h0M1097 1588h0M1097 1616h0M1097 1602h0M1097 1564h0M1097 1512h0M1097 1556h0M1097 1623h0M1097 1609h0M1097 1595h0M1098 1548h0M1098 1641h0M1098 1401h0M1098 1640h0M1098 1635h0M1098 1589h0M1098 1612h0M1098 1640h0M1098 1554h0M1098 1418h0M1098 1572h0M1098 1507h0M1098 1515h0M1098 1629h0M1098 1536h0M1099 1639h0M1099 1611h0M1099 1629h0M1099 1511h0M1099 1636h0M1099 1515h0M1099 1634h0M1099 1632h0M1099 1548h0M1099 1623h0M1099 1577h0M1100 1582h0M1100 1629h0M1100 1614h0M1100 1526h0M1100 1544h0M1100 1607h0M1100 1593h0M1100 1594h0M1100 1545h0M1100 1482h0M1100 1554h0M1100 1529h0M1100 1549h0M1100 1579h0M1100 1631h0M1100 1584h0M1101 1608h0M1101 1569h0M1101 1643h0M1101 1553h0M1101 1517h0M1101 1517h0M1101 1625h0M1101 1617h0M1101 1605h0M1102 1620h0M1102 1628h0M1102 1545h0M1102 1594h0M1102 1632h0M1102 1504h0M1102 1598h0M1102 1579h0M1102 1594h0M1102 1608h0M1102 1425h0M1102 1575h0M1102 1643h0M1102 1597h0M1102 1584h0M1102 1542h0M1103 1553h0M1103 1550h0M1103 1615h0M1103 1629h0M1103 1584h0M1103 1575h0M1103 1580h0M1103 1618h0M1103 1572h0M1103 1644h0M1103 1637h0M1103 1634h0M1103 1646h0M1103 1398h0M1103 1608h0M1103 1536h0M1103 1559h0M1103 1608h0M1104 1541h0M1104 1583h0M1104 1491h0M1104 1582h0M1104 1623h0M1104 1446h0M1104 1542h0M1104 1623h0M1104 1612h0M1104 1591h0M1104 1567h0M1104 1594h0M1104 1646h0M1104 1597h0M1104 1602h0M1104 1616h0M1104 1542h0M1104 1585h0M1105 1609h0M1105 1621h0M1105 1539h0M1105 1562h0M1105 1575h0M1105 1610h0M1105 1590h0M1105 1593h0M1105 1538h0M1105 1555h0M1105 1572h0M1105 1641h0M1105 1636h0M1105 1504h0M1106 1543h0M1106 1547h0M1106 1616h0M1106 1552h0M1106 1544h0M1106 1609h0M1106 1541h0M1106 1533h0M1106 1540h0M1106 1539h0M1106 1596h0M1106 1538h0M1106 1487h0M1106 1622h0M1106 1598h0M1106 1550h0M1106 1575h0M1106 1613h0M1107 1628h0M1107 1610h0M1107 1555h0M1107 1511h0M1107 1614h0M1107 1649h0M1107 1645h0M1107 1594h0M1107 1623h0M1107 1619h0M1107 1611h0M1107 1545h0M1107 1558h0M1107 1544h0M1107 1586h0M1107 1541h0M1107 1646h0M1107 1615h0M1107 1612h0M1108 1565h0M1108 1595h0M1108 1582h0M1108 1532h0M1108 1553h0M1108 1552h0M1108 1595h0M1108 1519h0M1108 1487h0M1108 1632h0M1108 1625h0M1108 1562h0M1108 1572h0M1108 1624h0M1108 1644h0M1108 1508h0M1109 1533h0M1109 1609h0M1109 1594h0M1109 1583h0M1109 1624h0M1109 1535h0M1109 1647h0M1109 1607h0M1109 1585h0M1110 1596h0M1110 1544h0M1110 1590h0M1110 1579h0M1110 1645h0M1110 1644h0M1110 1424h0M1110 1593h0M1110 1551h0M1110 1402h0M1110 1546h0M1110 1651h0M1110 1597h0M1110 1620h0M1111 1537h0M1111 1618h0M1111 1547h0M1111 1640h0M1111 1593h0M1111 1568h0M1111 1617h0M1111 1560h0M1111 1641h0M1111 1636h0M1111 1567h0M1111 1644h0M1111 1551h0M1112 1595h0M1112 1589h0M1112 1538h0M1112 1542h0M1112 1530h0M1112 1566h0M1112 1603h0M1112 1631h0M1112 1574h0M1112 1608h0M1112 1607h0M1112 1621h0M1112 1601h0M1112 1626h0M1112 1437h0M1112 1625h0M1112 1591h0M1112 1541h0M1112 1562h0M1112 1536h0M1112 1642h0M1113 1546h0M1113 1548h0M1113 1637h0M1113 1604h0M1113 1630h0M1113 1494h0M1113 1641h0M1113 1639h0M1114 1572h0M1114 1594h0M1114 1561h0M1114 1638h0M1114 1592h0M1114 1568h0M1114 1625h0M1114 1571h0M1114 1550h0M1114 1523h0M1114 1509h0M1114 1628h0M1114 1608h0M1114 1603h0M1114 1611h0M1114 1631h0M1114 1612h0M1115 1595h0M1115 1513h0M1115 1645h0M1115 1652h0M1115 1588h0M1115 1554h0M1115 1645h0M1115 1579h0M1115 1572h0M1115 1577h0M1115 1636h0M1115 1559h0M1115 1547h0M1116 1604h0M1116 1627h0M1116 1603h0M1116 1638h0M1116 1629h0M1116 1590h0M1116 1642h0M1116 1595h0M1116 1580h0M1116 1531h0M1117 1581h0M1117 1618h0M1117 1551h0M1117 1596h0M1117 1620h0M1117 1601h0M1117 1536h0M1117 1588h0M1117 1549h0M1117 1486h0M1117 1579h0M1117 1610h0M1117 1645h0M1117 1598h0M1117 1541h0M1117 1611h0M1117 1629h0M1117 1615h0M1117 1592h0M1117 1493h0M1117 1602h0M1117 1628h0M1117 1633h0M1117 1591h0M1117 1640h0M1117 1497h0M1117 1592h0M1117 1531h0M1117 1549h0M1118 1585h0M1118 1559h0M1118 1386h0M1118 1622h0M1118 1589h0M1118 1596h0M1118 1594h0M1118 1592h0M1118 1570h0M1118 1642h0M1118 1596h0M1118 1632h0M1118 1599h0M1118 1604h0M1118 1627h0M1118 1596h0M1118 1634h0M1118 1592h0M1119 1570h0M1119 1587h0M1119 1569h0M1119 1592h0M1119 1637h0M1119 1648h0M1119 1539h0M1119 1602h0M1119 1647h0M1119 1646h0M1119 1481h0M1119 1598h0M1119 1596h0M1119 1517h0M1119 1654h0M1119 1476h0M1120 1425h0M1120 1637h0M1120 1604h0M1120 1594h0M1120 1599h0M1120 1535h0M1120 1573h0M1120 1638h0M1120 1578h0M1120 1574h0M1120 1573h0M1120 1488h0M1120 1552h0M1120 1617h0M1120 1594h0M1120 1550h0M1121 1598h0M1121 1638h0M1121 1573h0M1121 1595h0M1121 1590h0M1121 1596h0M1121 1591h0M1121 1543h0M1121 1529h0M1121 1536h0M1121 1607h0M1121 1649h0M1121 1638h0M1121 1394h0M1121 1564h0M1122 1637h0M1122 1477h0M1122 1614h0M1122 1563h0M1122 1575h0M1122 1550h0M1122 1548h0M1122 1602h0M1122 1538h0M1122 1462h0M1122 1546h0M1122 1472h0M1122 1396h0M1122 1535h0M1122 1531h0M1122 1646h0M1122 1634h0M1122 1553h0M1122 1536h0M1122 1601h0M1123 1651h0M1123 1540h0M1123 1591h0M1123 1592h0M1123 1642h0M1123 1604h0M1123 1613h0M1123 1579h0M1123 1607h0M1123 1596h0M1123 1593h0M1123 1444h0M1123 1526h0M1124 1647h0M1124 1531h0M1124 1587h0M1124 1601h0M1124 1516h0M1124 1532h0M1124 1592h0M1124 1589h0M1124 1620h0M1124 1651h0M1124 1553h0M1124 1527h0M1124 1607h0M1124 1532h0M1124 1617h0M1124 1588h0M1124 1550h0M1124 1596h0M1124 1571h0M1124 1653h0M1125 1635h0M1125 1573h0M1125 1632h0M1125 1547h0M1125 1558h0M1125 1598h0M1125 1572h0M1125 1571h0M1125 1615h0M1125 1614h0M1125 1635h0M1125 1602h0M1125 1557h0M1125 1550h0M1126 1594h0M1126 1626h0M1126 1549h0M1126 1628h0M1126 1640h0M1126 1570h0M1126 1596h0M1126 1661h0M1126 1603h0M1126 1638h0M1126 1613h0M1126 1539h0M1126 1551h0M1127 1637h0M1127 1509h0M1127 1628h0M1127 1605h0M1127 1617h0M1127 1599h0M1127 1414h0M1127 1616h0M1127 1548h0M1127 1502h0M1127 1545h0M1128 1566h0M1128 1570h0M1128 1547h0M1128 1582h0M1128 1585h0M1128 1592h0M1128 1599h0M1128 1590h0M1128 1502h0M1128 1630h0M1128 1631h0M1128 1603h0M1128 1635h0M1128 1545h0M1128 1533h0M1128 1464h0M1128 1537h0M1128 1527h0M1128 1661h0M1128 1641h0M1128 1557h0M1129 1618h0M1129 1574h0M1129 1562h0M1129 1553h0M1129 1554h0M1129 1572h0M1129 1601h0M1129 1661h0M1129 1386h0M1129 1623h0M1129 1584h0M1129 1635h0M1129 1441h0M1129 1578h0M1130 1569h0M1130 1538h0M1130 1564h0M1130 1605h0M1130 1577h0M1130 1610h0M1130 1610h0M1130 1658h0M1130 1613h0M1130 1512h0M1130 1568h0M1130 1625h0M1130 1547h0M1130 1598h0M1131 1541h0M1131 1618h0M1131 1596h0M1131 1590h0M1131 1622h0M1131 1575h0M1131 1584h0M1131 1650h0M1131 1594h0M1131 1525h0M1131 1595h0M1131 1570h0M1131 1607h0M1131 1595h0M1132 1625h0M1132 1605h0M1132 1584h0M1132 1621h0M1132 1554h0M1132 1641h0M1132 1543h0M1132 1586h0M1132 1625h0M1132 1551h0M1132 1654h0M1132 1658h0M1132 1541h0M1132 1618h0M1133 1578h0M1133 1596h0M1133 1591h0M1133 1665h0M1133 1594h0M1133 1551h0M1133 1641h0M1133 1598h0M1133 1573h0M1133 1535h0M1133 1570h0M1133 1661h0M1133 1589h0M1133 1594h0M1133 1564h0M1133 1538h0M1133 1601h0M1133 1663h0M1133 1591h0M1133 1542h0M1133 1538h0M1133 1663h0M1134 1537h0M1134 1608h0M1134 1619h0M1134 1646h0M1134 1584h0M1134 1585h0M1134 1659h0M1134 1577h0M1134 1577h0M1134 1633h0M1134 1571h0M1134 1542h0M1134 1652h0M1135 1591h0M1135 1648h0M1135 1632h0M1135 1629h0M1135 1630h0M1135 1593h0M1135 1612h0M1135 1544h0M1135 1667h0M1136 1523h0M1136 1657h0M1136 1630h0M1136 1622h0M1136 1615h0M1136 1571h0M1136 1574h0M1136 1578h0M1136 1545h0M1136 1631h0M1136 1663h0M1136 1583h0M1136 1545h0M1136 1653h0M1136 1586h0M1136 1592h0M1136 1657h0M1136 1600h0M1136 1659h0M1137 1619h0M1137 1588h0M1137 1549h0M1137 1555h0M1137 1384h0M1137 1649h0M1137 1643h0M1137 1666h0M1137 1618h0M1137 1617h0M1137 1579h0M1137 1636h0M1137 1564h0M1137 1655h0M1137 1582h0M1137 1507h0M1138 1601h0M1138 1592h0M1138 1666h0M1138 1573h0M1138 1645h0M1138 1594h0M1138 1619h0M1138 1646h0M1138 1649h0M1138 1505h0M1138 1426h0M1138 1601h0M1138 1574h0M1139 1553h0M1139 1559h0M1139 1547h0M1139 1601h0M1139 1598h0M1139 1606h0M1139 1595h0M1139 1510h0M1139 1592h0M1139 1596h0M1139 1644h0M1139 1600h0M1139 1529h0M1139 1580h0M1139 1666h0M1139 1644h0M1139 1587h0M1139 1589h0M1140 1652h0M1140 1615h0M1140 1598h0M1140 1620h0M1140 1548h0M1140 1532h0M1140 1466h0M1140 1555h0M1140 1548h0M1140 1571h0M1140 1563h0M1141 1531h0M1141 1574h0M1141 1550h0M1141 1571h0M1141 1602h0M1141 1612h0M1141 1593h0M1141 1595h0M1141 1551h0M1141 1644h0M1141 1655h0M1141 1600h0M1141 1594h0M1141 1635h0M1142 1507h0M1142 1609h0M1142 1597h0M1142 1592h0M1142 1598h0M1142 1603h0M1142 1587h0M1142 1660h0M1142 1628h0M1142 1637h0M1142 1618h0M1142 1621h0M1142 1644h0M1142 1506h0M1142 1666h0M1142 1649h0M1143 1576h0M1143 1592h0M1143 1647h0M1143 1627h0M1143 1655h0M1143 1581h0M1143 1598h0M1143 1639h0M1143 1601h0M1143 1535h0M1143 1515h0M1143 1644h0M1143 1572h0M1143 1621h0M1143 1623h0M1143 1565h0M1143 1578h0M1143 1624h0M1143 1437h0M1144 1532h0M1144 1621h0M1144 1589h0M1144 1487h0M1144 1583h0M1144 1540h0M1144 1631h0M1144 1546h0M1144 1613h0M1144 1528h0M1144 1670h0M1144 1658h0M1144 1556h0M1144 1538h0M1144 1593h0M1144 1594h0M1144 1659h0M1144 1651h0M1144 1594h0M1144 1586h0M1144 1547h0M1145 1635h0M1145 1550h0M1145 1624h0M1145 1543h0M1145 1575h0M1145 1595h0M1145 1564h0M1145 1484h0M1145 1543h0M1145 1610h0M1145 1659h0M1145 1588h0M1145 1628h0M1145 1373h0M1145 1562h0M1145 1612h0M1145 1672h0M1145 1594h0M1145 1593h0M1145 1586h0M1145 1597h0M1145 1581h0M1145 1551h0M1146 1589h0M1146 1650h0M1146 1616h0M1146 1540h0M1146 1630h0M1146 1533h0M1146 1634h0M1146 1602h0M1146 1552h0M1146 1643h0M1146 1652h0M1146 1645h0M1146 1524h0M1146 1669h0M1146 1582h0M1146 1558h0M1146 1605h0M1146 1648h0M1146 1578h0M1146 1623h0M1146 1604h0M1147 1599h0M1147 1655h0M1147 1454h0M1147 1614h0M1147 1630h0M1147 1482h0M1147 1532h0M1147 1600h0M1147 1408h0M1147 1659h0M1147 1574h0M1147 1600h0M1147 1596h0M1147 1598h0M1147 1572h0M1147 1605h0M1147 1610h0M1147 1641h0M1147 1620h0M1148 1560h0M1148 1632h0M1148 1561h0M1148 1609h0M1148 1564h0M1148 1610h0M1148 1527h0M1148 1634h0M1148 1596h0M1148 1552h0M1148 1528h0M1148 1541h0M1148 1661h0M1148 1582h0M1148 1609h0M1148 1545h0M1148 1618h0M1149 1584h0M1149 1641h0M1149 1543h0M1149 1575h0M1149 1588h0M1149 1546h0M1149 1556h0M1149 1582h0M1149 1593h0M1149 1623h0M1149 1539h0M1149 1527h0M1149 1614h0M1149 1601h0M1149 1515h0M1149 1527h0M1149 1607h0M1149 1632h0M1150 1362h0M1150 1621h0M1150 1612h0M1150 1607h0M1150 1526h0M1150 1547h0M1150 1645h0M1150 1560h0M1150 1666h0M1150 1547h0M1150 1569h0M1150 1624h0M1150 1601h0M1150 1406h0M1150 1573h0M1150 1588h0M1150 1555h0M1150 1626h0M1150 1579h0M1151 1591h0M1151 1586h0M1151 1587h0M1151 1408h0M1151 1630h0M1151 1522h0M1151 1541h0M1151 1582h0M1151 1657h0M1151 1599h0M1151 1672h0M1151 1524h0M1151 1602h0M1151 1659h0M1151 1654h0M1151 1512h0M1151 1598h0M1151 1604h0M1151 1607h0M1151 1607h0M1152 1659h0M1152 1524h0M1152 1608h0M1152 1601h0M1152 1620h0M1152 1601h0M1152 1617h0M1152 1661h0M1152 1600h0M1152 1608h0M1152 1601h0M1152 1619h0M1152 1556h0M1152 1674h0M1152 1574h0M1152 1648h0M1152 1623h0M1152 1640h0M1152 1654h0M1152 1586h0M1152 1669h0M1152 1596h0M1152 1605h0M1152 1542h0M1153 1601h0M1153 1652h0M1153 1528h0M1153 1594h0M1153 1581h0M1153 1619h0M1153 1599h0M1153 1500h0M1153 1575h0M1153 1595h0M1153 1529h0M1153 1571h0M1153 1619h0M1153 1582h0M1153 1607h0M1153 1619h0M1153 1643h0M1153 1579h0M1153 1609h0M1153 1591h0M1153 1675h0M1153 1653h0M1153 1668h0M1154 1661h0M1154 1351h0M1154 1637h0M1154 1412h0M1154 1576h0M1154 1628h0M1154 1611h0M1154 1456h0M1154 1608h0M1154 1615h0M1154 1644h0M1154 1634h0M1154 1626h0M1154 1594h0M1154 1631h0M1155 1570h0M1155 1533h0M1155 1655h0M1155 1627h0M1155 1658h0M1155 1608h0M1155 1641h0M1155 1577h0M1155 1552h0M1155 1556h0M1155 1605h0M1155 1630h0M1155 1642h0M1155 1565h0M1155 1548h0M1155 1612h0M1155 1674h0M1155 1397h0M1155 1452h0M1155 1644h0M1155 1618h0M1155 1594h0M1155 1561h0M1155 1601h0M1155 1470h0M1155 1671h0M1156 1667h0M1156 1607h0M1156 1506h0M1156 1589h0M1156 1535h0M1156 1548h0M1156 1673h0M1156 1573h0M1156 1625h0M1156 1567h0M1156 1680h0M1156 1591h0M1156 1641h0M1156 1664h0M1156 1637h0M1156 1607h0M1156 1354h0M1156 1667h0M1157 1659h0M1157 1639h0M1157 1582h0M1157 1552h0M1157 1569h0M1157 1514h0M1157 1558h0M1157 1560h0M1157 1551h0M1157 1599h0M1157 1605h0M1157 1531h0M1157 1646h0M1157 1620h0M1157 1602h0M1157 1546h0M1157 1621h0M1157 1598h0M1158 1565h0M1158 1542h0M1158 1639h0M1158 1617h0M1158 1566h0M1158 1578h0M1158 1669h0M1158 1579h0M1158 1426h0M1158 1658h0M1158 1629h0M1158 1518h0M1158 1506h0M1158 1577h0M1158 1644h0M1158 1558h0M1158 1560h0M1158 1597h0M1158 1669h0M1158 1652h0M1158 1654h0M1159 1620h0M1159 1536h0M1159 1591h0M1159 1535h0M1159 1604h0M1159 1633h0M1159 1573h0M1159 1603h0M1159 1616h0M1159 1614h0M1159 1557h0M1159 1635h0M1159 1605h0M1159 1671h0M1159 1671h0M1159 1528h0M1159 1610h0M1159 1524h0M1159 1683h0M1160 1545h0M1160 1641h0M1160 1556h0M1160 1630h0M1160 1614h0M1160 1677h0M1160 1602h0M1160 1666h0M1160 1542h0M1160 1645h0M1160 1615h0M1160 1535h0M1160 1611h0M1160 1668h0M1160 1558h0M1160 1500h0M1160 1667h0M1160 1640h0M1160 1563h0M1160 1633h0M1160 1554h0M1160 1630h0M1160 1680h0M1160 1667h0M1160 1492h0M1160 1669h0M1161 1623h0M1161 1629h0M1161 1681h0M1161 1537h0M1161 1559h0M1161 1610h0M1161 1590h0M1161 1382h0M1161 1586h0M1161 1549h0M1161 1670h0M1161 1648h0M1161 1601h0M1161 1545h0M1161 1602h0M1161 1633h0M1161 1600h0M1161 1550h0M1161 1621h0M1161 1541h0M1161 1394h0M1161 1616h0M1161 1602h0M1161 1534h0M1161 1530h0M1161 1552h0M1161 1619h0M1162 1597h0M1162 1618h0M1162 1584h0M1162 1566h0M1162 1644h0M1162 1607h0M1162 1637h0M1162 1515h0M1162 1684h0M1162 1660h0M1162 1532h0M1162 1594h0M1162 1535h0M1162 1621h0M1162 1526h0M1162 1548h0M1162 1596h0M1162 1668h0M1162 1619h0M1162 1644h0M1162 1614h0M1162 1629h0M1162 1653h0M1163 1636h0M1163 1491h0M1163 1543h0M1163 1617h0M1163 1656h0M1163 1464h0M1163 1660h0M1163 1654h0M1163 1667h0M1163 1682h0M1163 1575h0M1163 1677h0M1163 1650h0M1163 1599h0M1163 1601h0M1163 1677h0M1163 1621h0M1163 1488h0M1163 1348h0M1164 1611h0M1164 1566h0M1164 1613h0M1164 1622h0M1164 1585h0M1164 1607h0M1164 1668h0M1164 1526h0M1164 1586h0M1164 1586h0M1164 1629h0M1164 1502h0M1164 1671h0M1164 1624h0M1164 1588h0M1164 1623h0M1164 1623h0M1164 1537h0M1164 1680h0M1165 1584h0M1165 1572h0M1165 1496h0M1165 1629h0M1165 1594h0M1165 1530h0M1165 1618h0M1165 1644h0M1165 1605h0M1165 1686h0M1165 1534h0M1165 1520h0M1165 1651h0M1165 1681h0M1165 1671h0M1165 1458h0M1165 1637h0M1165 1679h0M1165 1619h0M1165 1612h0M1165 1678h0M1165 1560h0M1165 1539h0M1165 1669h0M1165 1451h0M1165 1605h0M1166 1554h0M1166 1590h0M1166 1579h0M1166 1540h0M1166 1623h0M1166 1426h0M1166 1557h0M1166 1632h0M1166 1532h0M1166 1617h0M1166 1622h0M1166 1387h0M1166 1560h0M1166 1333h0M1166 1641h0M1166 1463h0M1166 1577h0M1167 1635h0M1167 1666h0M1167 1555h0M1167 1669h0M1167 1601h0M1167 1647h0M1167 1652h0M1167 1620h0M1167 1646h0M1167 1554h0M1167 1524h0M1167 1528h0M1167 1338h0M1167 1598h0M1167 1579h0M1167 1634h0M1167 1665h0M1167 1516h0M1168 1562h0M1168 1657h0M1168 1520h0M1168 1607h0M1168 1656h0M1168 1536h0M1168 1358h0M1168 1682h0M1168 1548h0M1168 1588h0M1168 1683h0M1168 1512h0M1168 1503h0M1168 1641h0M1168 1670h0M1168 1549h0M1168 1675h0M1169 1650h0M1169 1670h0M1169 1680h0M1169 1649h0M1169 1563h0M1169 1616h0M1169 1511h0M1169 1614h0M1169 1549h0M1169 1595h0M1169 1645h0M1169 1661h0M1169 1528h0M1169 1614h0M1169 1646h0M1169 1612h0M1169 1511h0M1169 1571h0M1169 1638h0M1169 1560h0M1169 1611h0M1169 1569h0M1169 1582h0M1169 1509h0M1169 1372h0M1169 1552h0M1169 1549h0M1169 1615h0M1169 1618h0M1170 1368h0M1170 1496h0M1170 1589h0M1170 1666h0M1170 1558h0M1170 1641h0M1170 1590h0M1170 1571h0M1170 1613h0M1170 1585h0M1170 1618h0M1170 1671h0M1170 1660h0M1170 1629h0M1170 1660h0M1170 1613h0M1170 1686h0M1170 1661h0M1170 1660h0M1170 1684h0M1170 1425h0M1170 1656h0M1170 1684h0M1170 1653h0M1170 1565h0M1170 1670h0M1171 1662h0M1171 1644h0M1171 1624h0M1171 1551h0M1171 1575h0M1171 1542h0M1171 1600h0M1171 1565h0M1171 1602h0M1171 1610h0M1171 1613h0M1171 1668h0M1171 1548h0M1171 1608h0M1171 1535h0M1171 1536h0M1171 1361h0M1171 1543h0M1171 1605h0M1171 1624h0M1171 1618h0M1171 1625h0M1171 1547h0M1171 1615h0M1171 1597h0M1171 1679h0M1171 1538h0M1171 1651h0M1171 1609h0M1171 1572h0M1172 1580h0M1172 1571h0M1172 1593h0M1172 1530h0M1172 1630h0M1172 1615h0M1172 1517h0M1172 1664h0M1172 1672h0M1172 1623h0M1172 1628h0M1172 1391h0M1172 1584h0M1172 1328h0M1172 1645h0M1172 1617h0M1172 1577h0M1172 1575h0M1173 1646h0M1173 1319h0M1173 1596h0M1173 1599h0M1173 1655h0M1173 1582h0M1173 1583h0M1173 1615h0M1173 1562h0M1173 1629h0M1173 1524h0M1173 1596h0M1173 1649h0M1173 1370h0M1173 1635h0M1173 1527h0M1173 1525h0M1173 1312h0M1173 1677h0M1173 1574h0M1173 1614h0M1174 1631h0M1174 1367h0M1174 1532h0M1174 1388h0M1174 1620h0M1174 1633h0M1174 1547h0M1174 1620h0M1174 1553h0M1174 1658h0M1174 1677h0M1174 1377h0M1174 1636h0M1174 1639h0M1174 1580h0M1174 1639h0M1174 1536h0M1174 1616h0M1174 1450h0M1174 1676h0M1174 1405h0M1175 1662h0M1175 1615h0M1175 1449h0M1175 1651h0M1175 1673h0M1175 1664h0M1175 1594h0M1175 1632h0M1175 1668h0M1175 1579h0M1175 1646h0M1175 1602h0M1175 1547h0M1175 1595h0M1175 1624h0M1175 1338h0M1175 1650h0M1176 1563h0M1176 1593h0M1176 1537h0M1176 1545h0M1176 1622h0M1176 1644h0M1176 1647h0M1176 1534h0M1176 1693h0M1176 1655h0M1176 1684h0M1176 1526h0M1176 1398h0M1176 1671h0M1176 1631h0M1176 1395h0M1176 1648h0M1176 1335h0M1176 1644h0M1176 1565h0M1176 1562h0M1176 1412h0M1176 1515h0M1176 1663h0M1176 1553h0M1176 1626h0M1176 1674h0M1176 1594h0M1176 1658h0M1176 1560h0M1176 1642h0M1177 1613h0M1177 1574h0M1177 1622h0M1177 1644h0M1177 1637h0M1177 1668h0M1177 1681h0M1177 1536h0M1177 1366h0M1177 1584h0M1177 1442h0M1177 1591h0M1177 1595h0M1177 1553h0M1177 1443h0M1177 1694h0M1177 1514h0M1177 1597h0M1177 1657h0M1177 1618h0M1177 1563h0M1177 1670h0M1177 1687h0M1177 1612h0M1177 1618h0M1177 1585h0M1177 1620h0M1177 1573h0M1177 1342h0M1177 1555h0M1177 1677h0M1178 1657h0M1178 1649h0M1178 1625h0M1178 1546h0M1178 1660h0M1178 1679h0M1178 1542h0M1178 1593h0M1178 1589h0M1178 1639h0M1178 1601h0M1178 1575h0M1178 1607h0M1178 1511h0M1178 1668h0M1178 1656h0M1178 1667h0M1178 1629h0M1178 1638h0M1178 1595h0M1178 1648h0M1178 1494h0M1178 1685h0M1178 1338h0M1178 1312h0M1179 1624h0M1179 1666h0M1179 1534h0M1179 1499h0M1179 1684h0M1179 1624h0M1179 1588h0M1179 1633h0M1179 1627h0M1179 1600h0M1179 1453h0M1179 1654h0M1179 1300h0M1179 1603h0M1179 1607h0M1179 1630h0M1179 1575h0M1179 1548h0M1179 1314h0M1179 1665h0M1179 1667h0M1180 1639h0M1180 1593h0M1180 1536h0M1180 1632h0M1180 1517h0M1180 1643h0M1180 1349h0M1180 1678h0M1180 1640h0M1180 1571h0M1180 1625h0M1180 1551h0M1180 1391h0M1180 1650h0M1180 1416h0M1180 1564h0M1180 1643h0M1180 1572h0M1180 1541h0M1180 1539h0M1181 1383h0M1181 1672h0M1181 1556h0M1181 1588h0M1181 1681h0M1181 1557h0M1181 1675h0M1181 1671h0M1181 1679h0M1181 1567h0M1181 1298h0M1181 1539h0M1181 1526h0M1181 1619h0M1181 1613h0M1181 1673h0M1181 1439h0M1181 1542h0M1181 1476h0M1181 1681h0M1181 1498h0M1181 1641h0M1181 1559h0M1181 1662h0M1181 1679h0M1181 1696h0M1182 1606h0M1182 1401h0M1182 1556h0M1182 1682h0M1182 1664h0M1182 1582h0M1182 1494h0M1182 1691h0M1182 1669h0M1182 1637h0M1182 1640h0M1182 1685h0M1182 1678h0M1182 1666h0M1182 1622h0M1182 1645h0M1182 1687h0M1182 1394h0M1182 1544h0M1182 1687h0M1182 1649h0M1183 1553h0M1183 1334h0M1183 1652h0M1183 1336h0M1183 1436h0M1183 1698h0M1183 1641h0M1183 1587h0M1183 1575h0M1183 1363h0M1183 1689h0M1183 1372h0M1183 1637h0M1183 1564h0M1183 1635h0M1183 1689h0M1183 1682h0M1183 1341h0M1183 1566h0M1183 1633h0M1183 1544h0M1183 1679h0M1183 1604h0M1183 1644h0M1183 1682h0M1183 1680h0M1183 1676h0M1184 1594h0M1184 1686h0M1184 1629h0M1184 1650h0M1184 1646h0M1184 1547h0M1184 1618h0M1184 1647h0M1184 1661h0M1184 1672h0M1184 1690h0M1184 1575h0M1184 1603h0M1184 1540h0M1184 1700h0M1184 1541h0M1184 1664h0M1184 1591h0M1184 1525h0M1184 1586h0M1185 1633h0M1185 1653h0M1185 1444h0M1185 1610h0M1185 1583h0M1185 1655h0M1185 1572h0M1185 1661h0M1185 1564h0M1185 1616h0M1185 1593h0M1185 1560h0M1185 1688h0M1185 1645h0M1185 1570h0M1185 1362h0M1185 1613h0M1185 1624h0M1185 1607h0M1185 1529h0M1185 1586h0M1185 1636h0M1185 1594h0M1185 1556h0M1185 1661h0M1185 1536h0M1185 1651h0M1185 1701h0M1185 1578h0M1185 1415h0M1185 1487h0M1185 1699h0M1185 1679h0M1185 1299h0M1186 1682h0M1186 1658h0M1186 1598h0M1186 1681h0M1186 1565h0M1186 1590h0M1186 1665h0M1186 1608h0M1186 1583h0M1186 1424h0M1186 1646h0M1186 1313h0M1186 1426h0M1186 1660h0M1186 1579h0M1186 1309h0M1186 1667h0M1186 1654h0M1186 1627h0M1186 1313h0M1186 1613h0M1186 1557h0M1186 1680h0M1186 1660h0M1186 1580h0M1186 1559h0M1186 1575h0M1186 1671h0M1186 1549h0M1186 1513h0M1186 1659h0M1187 1551h0M1187 1296h0M1187 1436h0M1187 1286h0M1187 1276h0M1187 1654h0M1187 1687h0M1187 1589h0M1187 1655h0M1187 1341h0M1187 1650h0M1187 1667h0M1187 1536h0M1187 1643h0M1187 1493h0M1187 1549h0M1187 1662h0M1187 1542h0M1187 1289h0M1187 1329h0M1187 1363h0M1187 1625h0M1187 1450h0M1188 1674h0M1188 1599h0M1188 1648h0M1188 1337h0M1188 1508h0M1188 1666h0M1188 1600h0M1188 1698h0M1188 1641h0M1188 1649h0M1188 1632h0M1188 1677h0M1188 1621h0M1188 1334h0M1188 1277h0M1188 1360h0M1188 1562h0M1188 1545h0M1188 1646h0M1188 1556h0M1188 1671h0M1188 1674h0M1188 1363h0M1188 1613h0M1188 1440h0M1188 1620h0M1189 1571h0M1189 1636h0M1189 1671h0M1189 1623h0M1189 1609h0M1189 1660h0M1189 1428h0M1189 1548h0M1189 1644h0M1189 1685h0M1189 1574h0M1189 1462h0M1189 1581h0M1189 1564h0M1189 1593h0M1189 1484h0M1189 1274h0M1189 1353h0M1189 1640h0M1189 1278h0M1189 1271h0M1190 1604h0M1190 1316h0M1190 1582h0M1190 1474h0M1190 1533h0M1190 1622h0M1190 1659h0M1190 1303h0M1190 1617h0M1190 1663h0M1190 1300h0M1190 1649h0M1190 1646h0M1190 1625h0M1190 1310h0M1190 1492h0M1190 1283h0M1190 1633h0M1190 1380h0M1190 1533h0M1190 1666h0M1190 1685h0M1190 1570h0M1190 1556h0M1190 1274h0M1190 1445h0M1190 1650h0M1190 1297h0M1190 1659h0M1190 1661h0M1190 1551h0M1190 1404h0M1190 1615h0M1190 1273h0M1190 1610h0M1190 1652h0M1190 1672h0M1191 1406h0M1191 1609h0M1191 1300h0M1191 1313h0M1191 1664h0M1191 1651h0M1191 1630h0M1191 1302h0M1191 1534h0M1191 1579h0M1191 1622h0M1191 1686h0M1191 1637h0M1191 1467h0M1191 1634h0M1191 1619h0M1191 1522h0M1191 1672h0M1191 1635h0M1191 1540h0M1191 1270h0M1191 1696h0M1191 1275h0M1191 1636h0M1191 1582h0M1191 1612h0M1191 1599h0M1191 1614h0M1191 1414h0M1191 1324h0M1191 1564h0M1191 1546h0M1191 1425h0M1191 1639h0M1191 1275h0M1191 1285h0M1191 1620h0M1191 1691h0M1191 1681h0M1191 1668h0M1191 1345h0M1192 1579h0M1192 1578h0M1192 1407h0M1192 1533h0M1192 1678h0M1192 1542h0M1192 1607h0M1192 1448h0M1192 1671h0M1192 1700h0M1192 1635h0M1192 1625h0M1192 1539h0M1192 1660h0M1192 1665h0M1192 1310h0M1192 1676h0M1192 1675h0M1192 1601h0M1192 1683h0M1192 1560h0M1192 1272h0M1192 1563h0M1192 1658h0M1192 1572h0M1192 1364h0M1192 1658h0M1192 1319h0M1193 1664h0M1193 1706h0M1193 1619h0M1193 1664h0M1193 1579h0M1193 1641h0M1193 1512h0M1193 1592h0M1193 1575h0M1193 1265h0M1193 1622h0M1193 1587h0M1193 1267h0M1193 1677h0M1193 1257h0M1193 1618h0M1193 1332h0M1193 1303h0M1193 1576h0M1193 1624h0M1193 1599h0M1193 1494h0M1193 1671h0M1193 1632h0M1193 1491h0M1193 1566h0M1193 1630h0M1193 1636h0M1193 1664h0M1193 1604h0M1194 1269h0M1194 1260h0M1194 1655h0M1194 1631h0M1194 1569h0M1194 1558h0M1194 1475h0M1194 1508h0M1194 1611h0M1194 1361h0M1194 1688h0M1194 1601h0M1194 1648h0M1194 1313h0M1194 1590h0M1194 1682h0M1194 1640h0M1194 1639h0M1194 1682h0M1194 1642h0M1194 1598h0M1194 1687h0M1194 1285h0M1194 1695h0M1194 1644h0M1194 1545h0M1194 1520h0M1194 1673h0M1194 1563h0M1194 1672h0M1194 1273h0M1194 1327h0M1194 1634h0M1194 1638h0M1195 1509h0M1195 1551h0M1195 1600h0M1195 1548h0M1195 1543h0M1195 1286h0M1195 1676h0M1195 1290h0M1195 1675h0M1195 1275h0M1195 1364h0M1195 1586h0M1195 1520h0M1195 1674h0M1195 1315h0M1195 1694h0M1195 1263h0M1195 1610h0M1195 1522h0M1195 1662h0M1195 1272h0M1195 1541h0M1195 1285h0M1195 1256h0M1195 1702h0M1195 1683h0M1195 1310h0M1195 1323h0M1195 1545h0M1195 1449h0M1195 1277h0M1195 1657h0M1195 1595h0M1195 1660h0M1196 1551h0M1196 1693h0M1196 1261h0M1196 1552h0M1196 1251h0M1196 1591h0M1196 1643h0M1196 1252h0M1196 1626h0M1196 1535h0M1196 1268h0M1196 1278h0M1196 1661h0M1196 1622h0M1196 1687h0M1196 1667h0M1196 1287h0M1196 1590h0M1196 1544h0M1196 1572h0M1196 1400h0M1196 1603h0M1196 1279h0M1196 1644h0M1196 1581h0M1196 1648h0M1196 1592h0M1196 1535h0M1196 1669h0M1196 1628h0M1196 1545h0M1196 1664h0M1196 1567h0M1197 1618h0M1197 1683h0M1197 1428h0M1197 1568h0M1197 1495h0M1197 1688h0M1197 1371h0M1197 1427h0M1197 1682h0M1197 1667h0M1197 1509h0M1197 1595h0M1197 1702h0M1197 1533h0M1197 1605h0M1197 1471h0M1197 1588h0M1197 1481h0M1197 1647h0M1197 1264h0M1197 1596h0M1197 1284h0M1197 1621h0M1197 1398h0M1197 1662h0M1197 1405h0M1197 1579h0M1197 1277h0M1197 1560h0M1197 1257h0M1197 1249h0M1197 1322h0M1198 1553h0M1198 1697h0M1198 1638h0M1198 1276h0M1198 1679h0M1198 1607h0M1198 1581h0M1198 1545h0M1198 1560h0M1198 1687h0M1198 1264h0M1198 1298h0M1198 1450h0M1198 1476h0M1198 1691h0M1198 1342h0M1198 1668h0M1198 1483h0M1198 1298h0M1198 1609h0M1198 1661h0M1198 1681h0M1198 1652h0M1198 1540h0M1198 1665h0M1198 1644h0M1198 1629h0M1198 1398h0M1198 1709h0M1198 1319h0M1198 1618h0M1198 1689h0M1198 1252h0M1198 1287h0M1198 1689h0M1198 1547h0M1198 1282h0M1198 1590h0M1198 1533h0M1198 1562h0M1199 1567h0M1199 1690h0M1199 1249h0M1199 1318h0M1199 1431h0M1199 1710h0M1199 1250h0M1199 1465h0M1199 1279h0M1199 1408h0M1199 1545h0M1199 1541h0M1199 1445h0M1199 1626h0M1199 1551h0M1199 1593h0M1199 1272h0M1199 1605h0M1199 1544h0M1199 1667h0M1199 1702h0M1199 1669h0M1199 1562h0M1199 1649h0M1199 1456h0M1199 1258h0M1199 1381h0M1199 1348h0M1199 1322h0M1199 1655h0M1199 1283h0M1199 1438h0M1199 1276h0M1199 1619h0M1200 1335h0M1200 1326h0M1200 1301h0M1200 1558h0M1200 1698h0M1200 1711h0M1200 1548h0M1200 1688h0M1200 1572h0M1200 1278h0M1200 1670h0M1200 1666h0M1200 1700h0M1200 1698h0M1200 1288h0M1200 1687h0M1200 1336h0M1200 1707h0M1200 1416h0M1200 1652h0M1200 1528h0M1200 1553h0M1200 1680h0M1200 1632h0M1200 1240h0M1200 1634h0M1200 1559h0M1200 1524h0M1200 1683h0M1200 1280h0M1200 1294h0M1200 1621h0M1200 1642h0M1200 1657h0M1200 1290h0M1201 1579h0M1201 1345h0M1201 1611h0M1201 1706h0M1201 1510h0M1201 1429h0M1201 1370h0M1201 1618h0M1201 1427h0M1201 1441h0M1201 1650h0M1201 1691h0M1201 1538h0M1201 1574h0M1201 1654h0M1201 1255h0M1201 1438h0M1201 1264h0M1201 1300h0M1201 1686h0M1201 1690h0M1201 1303h0M1201 1540h0M1201 1634h0M1201 1330h0M1201 1661h0M1201 1674h0M1201 1477h0M1201 1679h0M1201 1295h0M1201 1694h0M1201 1694h0M1201 1591h0M1201 1518h0M1201 1639h0M1201 1693h0M1201 1376h0M1201 1700h0M1201 1588h0M1201 1306h0M1201 1622h0M1201 1685h0M1201 1259h0M1201 1586h0M1201 1710h0M1201 1244h0M1201 1639h0M1201 1604h0M1201 1690h0M1201 1241h0M1201 1489h0M1202 1511h0M1202 1631h0M1202 1260h0M1202 1397h0M1202 1333h0M1202 1693h0M1202 1320h0M1202 1697h0M1202 1601h0M1202 1596h0M1202 1370h0M1202 1616h0M1202 1660h0M1202 1584h0M1202 1309h0M1202 1604h0M1202 1694h0M1202 1641h0M1202 1258h0M1202 1633h0M1202 1428h0M1202 1390h0M1202 1289h0M1202 1704h0M1202 1521h0M1203 1603h0M1203 1713h0M1203 1643h0M1203 1268h0M1203 1558h0M1203 1582h0M1203 1604h0M1203 1669h0M1203 1255h0M1203 1260h0M1203 1543h0M1203 1682h0M1203 1581h0M1203 1694h0M1203 1469h0M1203 1249h0M1203 1687h0M1203 1645h0M1203 1330h0M1203 1706h0M1203 1628h0M1203 1333h0M1203 1447h0M1203 1672h0M1203 1671h0M1203 1644h0M1203 1538h0M1203 1441h0M1203 1656h0M1203 1368h0M1203 1621h0M1203 1260h0M1203 1575h0M1203 1536h0M1203 1700h0M1203 1427h0M1203 1323h0M1203 1243h0M1203 1454h0M1203 1556h0M1204 1634h0M1204 1403h0M1204 1691h0M1204 1686h0M1204 1347h0M1204 1446h0M1204 1521h0M1204 1712h0M1204 1370h0M1204 1283h0M1204 1641h0M1204 1536h0M1204 1539h0M1204 1576h0M1204 1244h0M1204 1353h0M1204 1269h0M1204 1629h0M1204 1700h0M1204 1326h0M1204 1442h0M1204 1278h0M1204 1683h0M1204 1410h0M1204 1672h0M1204 1668h0M1204 1397h0M1204 1602h0M1204 1547h0M1204 1698h0M1204 1594h0M1204 1257h0M1204 1706h0M1204 1487h0M1204 1312h0M1204 1690h0M1204 1663h0M1204 1302h0M1204 1413h0M1204 1642h0M1204 1677h0M1204 1400h0M1204 1416h0M1204 1611h0M1205 1630h0M1205 1589h0M1205 1392h0M1205 1676h0M1205 1701h0M1205 1252h0M1205 1595h0M1205 1686h0M1205 1632h0M1205 1362h0M1205 1444h0M1205 1544h0M1205 1254h0M1205 1294h0M1205 1701h0M1205 1246h0M1205 1393h0M1205 1267h0M1205 1651h0M1205 1424h0M1205 1261h0M1205 1687h0M1205 1399h0M1205 1365h0M1205 1550h0M1205 1372h0M1205 1708h0M1205 1704h0M1205 1261h0M1205 1397h0M1205 1570h0M1205 1599h0M1205 1635h0M1205 1706h0M1205 1699h0M1206 1708h0M1206 1408h0M1206 1568h0M1206 1670h0M1206 1559h0M1206 1259h0M1206 1465h0M1206 1424h0M1206 1444h0M1206 1418h0M1206 1375h0M1206 1557h0M1206 1373h0M1206 1263h0M1206 1655h0M1206 1429h0M1206 1536h0M1206 1689h0M1206 1557h0M1206 1689h0M1206 1693h0M1206 1606h0M1206 1255h0M1206 1649h0M1206 1614h0M1206 1405h0M1206 1576h0M1206 1642h0M1206 1553h0M1206 1687h0M1207 1342h0M1207 1670h0M1207 1711h0M1207 1644h0M1207 1633h0M1207 1510h0M1207 1676h0M1207 1421h0M1207 1310h0M1207 1686h0M1207 1365h0M1207 1355h0M1207 1435h0M1207 1362h0M1207 1255h0M1207 1270h0M1207 1260h0M1207 1457h0M1207 1309h0M1207 1692h0M1207 1604h0M1207 1255h0M1207 1520h0M1207 1288h0M1207 1568h0M1207 1255h0M1207 1435h0M1207 1691h0M1207 1292h0M1207 1621h0M1207 1424h0M1207 1535h0M1207 1674h0M1207 1655h0M1208 1637h0M1208 1716h0M1208 1254h0M1208 1698h0M1208 1391h0M1208 1603h0M1208 1295h0M1208 1258h0M1208 1640h0M1208 1519h0M1208 1573h0M1208 1678h0M1208 1569h0M1208 1676h0M1208 1573h0M1208 1702h0M1208 1511h0M1208 1295h0M1208 1638h0M1208 1548h0M1208 1365h0M1208 1598h0M1208 1636h0M1208 1416h0M1208 1411h0M1208 1634h0M1208 1642h0M1208 1619h0M1208 1691h0M1208 1702h0M1208 1367h0M1208 1702h0M1208 1577h0M1208 1671h0M1208 1406h0M1208 1549h0M1208 1590h0M1208 1654h0M1208 1551h0M1208 1436h0M1208 1253h0M1208 1623h0M1209 1684h0M1209 1712h0M1209 1561h0M1209 1647h0M1209 1343h0M1209 1294h0M1209 1323h0M1209 1427h0M1209 1315h0M1209 1683h0M1209 1405h0M1209 1299h0M1209 1282h0M1209 1579h0M1209 1689h0M1209 1301h0M1209 1471h0M1209 1625h0M1209 1393h0M1209 1457h0M1209 1342h0M1209 1555h0M1209 1647h0M1209 1656h0M1209 1594h0M1209 1605h0M1209 1321h0M1209 1619h0M1209 1697h0M1209 1570h0M1209 1333h0M1209 1334h0M1209 1659h0M1209 1627h0M1209 1276h0M1209 1691h0M1209 1489h0M1210 1281h0M1210 1667h0M1210 1643h0M1210 1595h0M1210 1686h0M1210 1705h0M1210 1661h0M1210 1652h0M1210 1447h0M1210 1639h0M1210 1431h0M1210 1291h0M1210 1427h0M1210 1295h0M1210 1677h0M1210 1706h0M1210 1412h0M1210 1263h0M1210 1512h0M1210 1294h0M1210 1303h0M1210 1338h0M1210 1412h0M1210 1547h0M1210 1607h0M1210 1589h0M1210 1478h0M1210 1424h0M1210 1402h0M1210 1706h0M1210 1270h0M1210 1627h0M1210 1605h0M1211 1465h0M1211 1692h0M1211 1498h0M1211 1603h0M1211 1281h0M1211 1451h0M1211 1565h0M1211 1338h0M1211 1461h0M1211 1314h0M1211 1628h0M1211 1562h0M1211 1656h0M1211 1321h0M1211 1410h0M1211 1524h0M1211 1548h0M1211 1604h0M1211 1292h0M1211 1439h0M1211 1284h0M1211 1355h0M1211 1694h0M1211 1409h0M1211 1411h0M1211 1696h0M1211 1524h0M1211 1629h0M1211 1688h0M1211 1404h0M1211 1683h0M1211 1690h0M1211 1604h0M1211 1518h0M1211 1437h0M1211 1711h0M1211 1414h0M1211 1685h0M1211 1275h0M1211 1366h0M1211 1682h0M1211 1420h0M1211 1634h0M1211 1615h0M1211 1347h0M1211 1562h0M1211 1676h0M1211 1319h0M1211 1273h0M1211 1452h0M1211 1668h0M1211 1271h0M1211 1550h0M1212 1460h0M1212 1577h0M1212 1419h0M1212 1716h0M1212 1703h0M1212 1602h0M1212 1579h0M1212 1282h0M1212 1527h0M1212 1718h0M1212 1353h0M1212 1485h0M1212 1423h0M1212 1558h0M1212 1692h0M1212 1356h0M1212 1342h0M1212 1356h0M1212 1324h0M1212 1314h0M1212 1406h0M1212 1344h0M1212 1703h0M1212 1710h0M1212 1553h0M1212 1290h0M1212 1447h0M1212 1313h0M1212 1661h0M1212 1442h0M1212 1279h0M1212 1417h0M1212 1716h0M1212 1650h0M1212 1711h0M1212 1654h0M1212 1466h0M1212 1544h0M1212 1300h0M1212 1636h0M1212 1282h0M1212 1329h0M1212 1457h0M1212 1473h0M1212 1622h0M1212 1472h0M1212 1603h0M1212 1440h0M1213 1356h0M1213 1598h0M1213 1638h0M1213 1703h0M1213 1317h0M1213 1551h0M1213 1436h0M1213 1619h0M1213 1554h0M1213 1316h0M1213 1591h0M1213 1665h0M1213 1320h0M1213 1410h0M1213 1472h0M1213 1615h0M1213 1580h0M1213 1564h0M1213 1323h0M1213 1592h0M1213 1591h0M1213 1396h0M1213 1579h0M1213 1420h0M1213 1368h0M1213 1529h0M1213 1677h0M1213 1566h0M1213 1293h0M1213 1567h0M1213 1650h0M1213 1552h0M1213 1709h0M1213 1420h0M1213 1540h0M1213 1289h0M1213 1634h0M1213 1577h0M1213 1669h0M1213 1395h0M1213 1655h0M1213 1431h0M1213 1668h0M1213 1429h0M1214 1294h0M1214 1309h0M1214 1329h0M1214 1282h0M1214 1588h0M1214 1331h0M1214 1615h0M1214 1716h0M1214 1578h0M1214 1294h0M1214 1421h0M1214 1634h0M1214 1688h0M1214 1491h0M1214 1293h0M1214 1352h0M1214 1574h0M1214 1437h0M1214 1310h0M1214 1442h0M1214 1439h0M1214 1478h0M1214 1705h0M1214 1491h0M1214 1343h0M1214 1424h0M1214 1493h0M1214 1587h0M1214 1573h0M1214 1548h0M1214 1312h0M1214 1532h0M1214 1679h0M1214 1342h0M1214 1413h0M1214 1298h0M1214 1428h0M1214 1699h0M1214 1608h0M1214 1579h0M1215 1570h0M1215 1595h0M1215 1597h0M1215 1546h0M1215 1367h0M1215 1708h0M1215 1719h0M1215 1602h0M1215 1534h0M1215 1472h0M1215 1602h0M1215 1486h0M1215 1708h0M1215 1349h0M1215 1422h0M1215 1400h0M1215 1420h0M1215 1604h0M1215 1340h0M1215 1436h0M1215 1719h0M1215 1415h0M1215 1355h0M1215 1699h0M1215 1659h0M1215 1665h0M1215 1633h0M1215 1648h0M1215 1687h0M1215 1319h0M1215 1291h0M1215 1698h0M1215 1612h0M1215 1381h0M1215 1670h0M1215 1293h0M1215 1412h0M1215 1534h0M1215 1656h0M1215 1411h0M1215 1603h0M1215 1597h0M1215 1558h0M1215 1653h0M1215 1446h0M1215 1650h0M1216 1645h0M1216 1709h0M1216 1405h0M1216 1652h0M1216 1460h0M1216 1443h0M1216 1636h0M1216 1303h0M1216 1707h0M1216 1462h0M1216 1420h0M1216 1401h0M1216 1542h0M1216 1476h0M1216 1721h0M1216 1648h0M1216 1431h0M1216 1407h0M1216 1301h0M1216 1528h0M1216 1463h0M1216 1540h0M1216 1538h0M1216 1594h0M1216 1723h0M1216 1578h0M1216 1405h0M1216 1350h0M1216 1363h0M1216 1594h0M1216 1640h0M1216 1370h0M1217 1467h0M1217 1442h0M1217 1570h0M1217 1643h0M1217 1601h0M1217 1586h0M1217 1670h0M1217 1361h0M1217 1348h0M1217 1718h0M1217 1353h0M1217 1451h0M1217 1534h0M1217 1372h0M1217 1458h0M1217 1425h0M1217 1300h0M1217 1524h0M1217 1346h0M1217 1572h0M1217 1688h0M1217 1424h0M1217 1549h0M1217 1674h0M1217 1313h0M1217 1352h0M1217 1533h0M1217 1702h0M1217 1450h0M1217 1318h0M1217 1348h0M1217 1624h0M1217 1450h0M1217 1707h0M1217 1321h0M1217 1447h0M1217 1325h0M1217 1707h0M1217 1620h0M1217 1408h0M1217 1711h0M1217 1407h0M1218 1438h0M1218 1540h0M1218 1329h0M1218 1671h0M1218 1310h0M1218 1417h0M1218 1328h0M1218 1379h0M1218 1595h0M1218 1344h0M1218 1703h0M1218 1361h0M1218 1577h0M1218 1586h0M1218 1717h0M1218 1366h0M1218 1587h0M1218 1433h0M1218 1429h0M1218 1582h0M1218 1333h0M1218 1505h0M1218 1299h0M1218 1361h0M1218 1448h0M1218 1445h0M1218 1336h0M1218 1374h0M1218 1355h0M1218 1633h0M1218 1706h0M1218 1647h0M1218 1661h0M1218 1492h0M1218 1457h0M1218 1443h0M1218 1335h0M1218 1304h0M1218 1715h0M1218 1515h0M1218 1659h0M1219 1403h0M1219 1416h0M1219 1718h0M1219 1358h0M1219 1329h0M1219 1719h0M1219 1382h0M1219 1718h0M1219 1395h0M1219 1586h0M1219 1473h0M1219 1567h0M1219 1359h0M1219 1661h0M1219 1461h0M1219 1522h0M1219 1465h0M1219 1312h0M1219 1450h0M1219 1480h0M1219 1647h0M1219 1690h0M1219 1704h0M1219 1321h0M1219 1608h0M1219 1384h0M1219 1470h0M1219 1626h0M1219 1453h0M1219 1495h0M1219 1435h0M1219 1671h0M1219 1629h0M1219 1701h0M1219 1602h0M1219 1450h0M1219 1327h0M1219 1622h0M1219 1658h0M1219 1452h0M1219 1353h0M1219 1559h0M1219 1545h0M1219 1376h0M1219 1699h0M1219 1342h0M1219 1374h0M1219 1401h0M1219 1429h0M1219 1494h0M1219 1340h0M1219 1392h0M1219 1395h0M1220 1568h0M1220 1712h0M1220 1722h0M1220 1508h0M1220 1301h0M1220 1713h0M1220 1627h0M1220 1707h0M1220 1530h0M1220 1689h0M1220 1614h0M1220 1463h0M1220 1532h0M1220 1346h0M1220 1584h0M1220 1671h0M1220 1415h0M1220 1579h0M1220 1616h0M1220 1361h0M1220 1464h0M1220 1605h0M1220 1324h0M1220 1702h0M1220 1356h0M1220 1707h0M1220 1447h0M1220 1631h0M1220 1412h0M1220 1428h0M1220 1585h0M1220 1378h0M1220 1348h0M1220 1392h0M1220 1497h0M1220 1615h0M1220 1586h0M1220 1305h0M1220 1595h0M1220 1719h0M1220 1613h0M1220 1491h0M1220 1455h0M1220 1678h0M1220 1407h0M1220 1475h0M1220 1474h0M1220 1718h0M1220 1526h0M1220 1707h0M1220 1432h0M1220 1396h0M1220 1669h0M1221 1484h0M1221 1446h0M1221 1536h0M1221 1473h0M1221 1496h0M1221 1394h0M1221 1598h0M1221 1558h0M1221 1631h0M1221 1642h0M1221 1724h0M1221 1596h0M1221 1422h0M1221 1438h0M1221 1720h0M1221 1369h0M1221 1543h0M1221 1370h0M1221 1575h0M1221 1362h0M1221 1471h0M1221 1714h0M1221 1663h0M1221 1307h0M1221 1678h0M1221 1380h0M1221 1713h0M1221 1576h0M1221 1416h0M1221 1386h0M1221 1485h0M1221 1657h0M1221 1706h0M1221 1578h0M1222 1417h0M1222 1375h0M1222 1677h0M1222 1546h0M1222 1652h0M1222 1579h0M1222 1536h0M1222 1582h0M1222 1481h0M1222 1316h0M1222 1361h0M1222 1346h0M1222 1515h0M1222 1486h0M1222 1705h0M1222 1513h0M1222 1461h0M1222 1675h0M1222 1434h0M1222 1699h0M1222 1455h0M1222 1314h0M1222 1369h0M1222 1718h0M1222 1596h0M1222 1661h0M1222 1393h0M1222 1679h0M1222 1367h0M1222 1393h0M1222 1669h0M1222 1418h0M1222 1438h0M1222 1537h0M1222 1446h0M1222 1398h0M1222 1410h0M1222 1451h0M1222 1397h0M1222 1410h0M1222 1562h0M1223 1455h0M1223 1661h0M1223 1425h0M1223 1316h0M1223 1492h0M1223 1706h0M1223 1517h0M1223 1717h0M1223 1368h0M1223 1713h0M1223 1434h0M1223 1552h0M1223 1465h0M1223 1466h0M1223 1355h0M1223 1666h0M1223 1528h0M1223 1493h0M1223 1388h0M1223 1361h0M1223 1367h0M1223 1709h0M1223 1326h0M1223 1602h0M1223 1454h0M1223 1495h0M1223 1530h0M1223 1432h0M1223 1678h0M1223 1517h0M1223 1648h0M1223 1396h0M1223 1441h0M1223 1558h0M1223 1630h0M1223 1321h0M1223 1659h0M1223 1461h0M1223 1677h0M1223 1344h0M1224 1376h0M1224 1694h0M1224 1495h0M1224 1528h0M1224 1719h0M1224 1374h0M1224 1710h0M1224 1329h0M1224 1429h0M1224 1723h0M1224 1422h0M1224 1615h0M1224 1495h0M1224 1345h0M1224 1535h0M1224 1466h0M1224 1491h0M1224 1349h0M1224 1377h0M1224 1668h0M1224 1576h0M1224 1703h0M1224 1727h0M1224 1666h0M1224 1594h0M1224 1499h0M1224 1702h0M1224 1493h0M1224 1591h0M1224 1649h0M1224 1417h0M1224 1424h0M1224 1717h0M1224 1465h0M1224 1451h0M1224 1485h0M1224 1338h0M1225 1608h0M1225 1500h0M1225 1541h0M1225 1614h0M1225 1668h0M1225 1694h0M1225 1369h0M1225 1358h0M1225 1506h0M1225 1324h0M1225 1547h0M1225 1319h0M1225 1427h0M1225 1592h0M1225 1386h0M1225 1516h0M1225 1728h0M1225 1718h0M1225 1437h0M1225 1540h0M1225 1700h0M1225 1534h0M1225 1536h0M1225 1662h0M1225 1351h0M1225 1610h0M1225 1722h0M1225 1640h0M1225 1324h0M1225 1618h0M1225 1394h0M1225 1636h0M1225 1588h0M1225 1704h0M1225 1685h0M1225 1644h0M1225 1620h0M1225 1335h0M1225 1463h0M1225 1486h0M1225 1626h0M1225 1544h0M1225 1689h0M1225 1573h0M1225 1375h0M1225 1439h0M1225 1572h0M1225 1417h0M1225 1632h0M1226 1551h0M1226 1492h0M1226 1660h0M1226 1436h0M1226 1463h0M1226 1418h0M1226 1682h0M1226 1714h0M1226 1545h0M1226 1342h0M1226 1421h0M1226 1672h0M1226 1694h0M1226 1391h0M1226 1329h0M1226 1577h0M1226 1729h0M1226 1637h0M1226 1425h0M1226 1340h0M1226 1584h0M1226 1655h0M1226 1676h0M1226 1440h0M1226 1598h0M1226 1408h0M1226 1465h0M1226 1369h0M1226 1564h0M1226 1432h0M1226 1415h0M1226 1487h0M1226 1618h0M1226 1686h0M1226 1387h0M1226 1535h0M1226 1340h0M1226 1699h0M1226 1705h0M1226 1612h0M1226 1576h0M1226 1653h0M1226 1641h0M1226 1446h0M1227 1698h0M1227 1546h0M1227 1433h0M1227 1358h0M1227 1639h0M1227 1376h0M1227 1442h0M1227 1448h0M1227 1667h0M1227 1384h0M1227 1726h0M1227 1534h0M1227 1676h0M1227 1617h0M1227 1519h0M1227 1729h0M1227 1329h0M1227 1383h0M1227 1468h0M1227 1539h0M1227 1557h0M1227 1614h0M1227 1603h0M1227 1700h0M1227 1496h0M1227 1652h0M1227 1546h0M1227 1531h0M1227 1620h0M1227 1715h0M1227 1698h0M1227 1641h0M1227 1582h0M1227 1477h0M1227 1465h0M1228 1399h0M1228 1582h0M1228 1666h0M1228 1472h0M1228 1366h0M1228 1703h0M1228 1719h0M1228 1338h0M1228 1646h0M1228 1622h0M1228 1673h0M1228 1562h0M1228 1612h0M1228 1552h0M1228 1457h0M1228 1666h0M1228 1722h0M1228 1540h0M1228 1654h0M1228 1613h0M1228 1720h0M1228 1597h0M1228 1654h0M1228 1714h0M1228 1366h0M1228 1344h0M1228 1564h0M1228 1430h0M1228 1578h0M1228 1466h0M1228 1607h0M1228 1689h0M1228 1496h0M1228 1635h0M1228 1480h0M1228 1469h0M1228 1664h0M1228 1431h0M1228 1401h0M1228 1683h0M1228 1622h0M1228 1640h0M1228 1708h0M1228 1459h0M1228 1703h0M1228 1369h0M1228 1574h0M1228 1726h0M1229 1720h0M1229 1688h0M1229 1603h0M1229 1365h0M1229 1482h0M1229 1683h0M1229 1538h0M1229 1343h0M1229 1477h0M1229 1668h0M1229 1482h0M1229 1658h0M1229 1608h0M1229 1579h0M1229 1427h0M1229 1356h0M1229 1378h0M1229 1409h0M1229 1604h0M1229 1686h0M1229 1720h0M1229 1362h0M1229 1445h0M1229 1569h0M1229 1600h0M1229 1409h0M1229 1486h0M1229 1725h0M1229 1342h0M1229 1657h0M1229 1700h0M1229 1494h0M1229 1460h0M1229 1619h0M1229 1585h0M1229 1597h0M1229 1398h0M1229 1582h0M1229 1574h0M1230 1370h0M1230 1701h0M1230 1537h0M1230 1403h0M1230 1578h0M1230 1718h0M1230 1406h0M1230 1451h0M1230 1720h0M1230 1608h0M1230 1666h0M1230 1367h0M1230 1467h0M1230 1528h0M1230 1482h0M1230 1718h0M1230 1731h0M1230 1362h0M1230 1417h0M1230 1435h0M1230 1487h0M1230 1661h0M1230 1460h0M1230 1617h0M1230 1354h0M1230 1657h0M1230 1727h0M1230 1627h0M1230 1363h0M1230 1661h0M1230 1486h0M1230 1426h0M1230 1637h0M1230 1491h0M1230 1485h0M1230 1393h0M1230 1563h0M1230 1645h0M1230 1593h0M1230 1484h0M1230 1628h0M1230 1620h0M1230 1541h0M1230 1704h0M1230 1588h0M1230 1425h0M1230 1462h0M1230 1469h0M1230 1629h0M1230 1730h0M1231 1699h0M1231 1552h0M1231 1641h0M1231 1347h0M1231 1617h0M1231 1448h0M1231 1675h0M1231 1429h0M1231 1528h0M1231 1614h0M1231 1431h0M1231 1614h0M1231 1710h0M1231 1350h0M1231 1340h0M1231 1373h0M1231 1426h0M1231 1485h0M1231 1536h0M1231 1461h0M1231 1511h0M1231 1550h0M1231 1440h0M1231 1722h0M1231 1570h0M1231 1437h0M1231 1451h0M1231 1554h0M1231 1631h0M1231 1609h0M1231 1512h0M1231 1681h0M1231 1695h0M1231 1468h0M1231 1578h0M1231 1621h0M1231 1383h0M1231 1371h0M1231 1526h0M1231 1673h0M1231 1698h0M1231 1586h0M1232 1637h0M1232 1503h0M1232 1342h0M1232 1651h0M1232 1605h0M1232 1582h0M1232 1362h0M1232 1645h0M1232 1440h0M1232 1413h0M1232 1604h0M1232 1581h0M1232 1612h0M1232 1613h0M1232 1495h0M1232 1387h0M1232 1358h0M1232 1668h0M1232 1729h0M1232 1551h0M1232 1409h0M1232 1660h0M1232 1396h0M1232 1451h0M1232 1542h0M1232 1602h0M1232 1683h0M1232 1582h0M1232 1614h0M1232 1646h0M1232 1592h0M1232 1361h0M1232 1688h0M1232 1632h0M1232 1417h0M1232 1408h0M1232 1664h0M1232 1525h0M1232 1462h0M1232 1462h0M1232 1533h0M1232 1466h0M1232 1689h0M1232 1512h0M1232 1632h0M1232 1600h0M1232 1539h0M1232 1637h0M1233 1550h0M1233 1671h0M1233 1481h0M1233 1367h0M1233 1400h0M1233 1610h0M1233 1732h0M1233 1399h0M1233 1415h0M1233 1675h0M1233 1635h0M1233 1410h0M1233 1624h0M1233 1439h0M1233 1525h0M1233 1556h0M1233 1588h0M1233 1589h0M1233 1388h0M1233 1483h0M1233 1413h0M1233 1725h0M1233 1660h0M1233 1565h0M1233 1438h0M1233 1657h0M1233 1540h0M1233 1405h0M1233 1717h0M1233 1379h0M1233 1678h0M1233 1411h0M1233 1478h0M1233 1727h0M1233 1721h0M1233 1583h0M1233 1425h0M1233 1449h0M1233 1397h0M1233 1616h0M1233 1444h0M1233 1657h0M1233 1426h0M1233 1395h0M1233 1368h0M1233 1607h0M1233 1707h0M1233 1410h0M1233 1403h0M1233 1509h0M1233 1490h0M1233 1666h0M1233 1482h0M1233 1395h0M1233 1420h0M1233 1665h0M1233 1535h0M1233 1723h0M1233 1510h0M1234 1689h0M1234 1565h0M1234 1720h0M1234 1641h0M1234 1634h0M1234 1494h0M1234 1387h0M1234 1595h0M1234 1615h0M1234 1407h0M1234 1401h0M1234 1602h0M1234 1402h0M1234 1461h0M1234 1572h0M1234 1576h0M1234 1638h0M1234 1685h0M1234 1422h0M1234 1636h0M1234 1381h0M1234 1528h0M1234 1448h0M1234 1429h0M1234 1391h0M1234 1499h0M1234 1707h0M1234 1717h0M1234 1397h0M1234 1454h0M1234 1574h0M1234 1558h0M1234 1397h0M1235 1530h0M1235 1426h0M1235 1402h0M1235 1411h0M1235 1721h0M1235 1542h0M1235 1376h0M1235 1373h0M1235 1676h0M1235 1579h0M1235 1719h0M1235 1470h0M1235 1582h0M1235 1513h0M1235 1407h0M1235 1350h0M1235 1582h0M1235 1684h0M1235 1391h0M1235 1402h0M1235 1707h0M1235 1398h0M1235 1382h0M1235 1487h0M1235 1588h0M1235 1492h0M1235 1724h0M1235 1401h0M1235 1695h0M1235 1372h0M1235 1507h0M1235 1463h0M1235 1682h0M1235 1593h0M1235 1602h0M1235 1734h0M1235 1440h0M1235 1573h0M1235 1371h0M1235 1701h0M1235 1596h0M1235 1576h0M1235 1554h0M1235 1730h0M1235 1661h0M1235 1717h0M1235 1663h0M1235 1581h0M1235 1631h0M1235 1612h0M1235 1735h0M1235 1513h0M1235 1367h0M1235 1709h0M1235 1680h0M1235 1517h0M1235 1660h0M1235 1661h0M1236 1729h0M1236 1538h0M1236 1509h0M1236 1643h0M1236 1538h0M1236 1672h0M1236 1443h0M1236 1370h0M1236 1502h0M1236 1541h0M1236 1378h0M1236 1551h0M1236 1597h0M1236 1414h0M1236 1518h0M1236 1597h0M1236 1536h0M1236 1381h0M1236 1364h0M1236 1567h0M1236 1498h0M1236 1729h0M1236 1557h0M1236 1732h0M1236 1389h0M1236 1377h0M1236 1582h0M1236 1468h0M1236 1585h0M1236 1552h0M1236 1515h0M1236 1632h0M1236 1618h0M1236 1614h0M1236 1538h0M1236 1507h0M1236 1439h0M1236 1551h0M1236 1589h0M1236 1376h0M1236 1532h0M1236 1405h0M1236 1732h0M1236 1631h0M1236 1669h0M1236 1399h0M1236 1366h0M1236 1715h0M1236 1399h0M1236 1389h0M1236 1546h0M1236 1371h0M1236 1734h0M1236 1651h0M1236 1403h0M1236 1599h0M1236 1543h0M1237 1558h0M1237 1728h0M1237 1413h0M1237 1413h0M1237 1439h0M1237 1620h0M1237 1687h0M1237 1684h0M1237 1535h0M1237 1539h0M1237 1545h0M1237 1540h0M1237 1688h0M1237 1579h0M1237 1409h0M1237 1405h0M1237 1397h0M1237 1689h0M1237 1635h0M1237 1685h0M1237 1622h0M1237 1735h0M1237 1645h0M1237 1358h0M1237 1377h0M1237 1714h0M1237 1605h0M1237 1465h0M1237 1679h0M1237 1496h0M1237 1567h0M1237 1619h0M1237 1504h0M1237 1416h0M1237 1493h0M1237 1420h0M1237 1687h0M1237 1611h0M1237 1732h0M1237 1586h0M1237 1586h0M1237 1616h0M1237 1440h0M1237 1713h0M1237 1523h0M1238 1446h0M1238 1398h0M1238 1514h0M1238 1632h0M1238 1692h0M1238 1662h0M1238 1726h0M1238 1420h0M1238 1532h0M1238 1432h0M1238 1629h0M1238 1716h0M1238 1484h0M1238 1508h0M1238 1414h0M1238 1474h0M1238 1419h0M1238 1503h0M1238 1588h0M1238 1410h0M1238 1559h0M1238 1513h0M1238 1591h0M1238 1451h0M1238 1469h0M1238 1572h0M1238 1563h0M1238 1701h0M1238 1494h0M1238 1628h0M1238 1411h0M1238 1549h0M1238 1367h0M1238 1718h0M1238 1452h0M1238 1507h0M1238 1503h0M1238 1503h0M1238 1498h0M1238 1649h0M1238 1505h0M1238 1661h0M1239 1404h0M1239 1402h0M1239 1588h0M1239 1592h0M1239 1534h0M1239 1508h0M1239 1439h0M1239 1530h0M1239 1590h0M1239 1402h0M1239 1590h0M1239 1437h0M1239 1674h0M1239 1730h0M1239 1569h0M1239 1446h0M1239 1699h0M1239 1599h0M1239 1591h0M1239 1398h0M1239 1613h0M1239 1409h0M1239 1478h0M1239 1605h0M1239 1473h0M1239 1406h0M1239 1518h0M1239 1563h0M1239 1735h0M1239 1421h0M1239 1428h0M1239 1493h0M1239 1535h0M1239 1418h0M1240 1629h0M1240 1551h0M1240 1400h0M1240 1535h0M1240 1445h0M1240 1383h0M1240 1430h0M1240 1420h0M1240 1619h0M1240 1580h0M1240 1411h0M1240 1468h0M1240 1419h0M1240 1440h0M1240 1431h0M1240 1408h0M1240 1636h0M1240 1388h0M1240 1406h0M1240 1538h0M1240 1401h0M1240 1736h0M1240 1630h0M1240 1470h0M1240 1735h0M1240 1629h0M1240 1610h0M1240 1642h0M1240 1660h0M1240 1377h0M1240 1655h0M1240 1426h0M1240 1611h0M1240 1580h0M1240 1533h0M1241 1414h0M1241 1682h0M1241 1393h0M1241 1707h0M1241 1435h0M1241 1509h0M1241 1458h0M1241 1375h0M1241 1709h0M1241 1510h0M1241 1562h0M1241 1384h0M1241 1442h0M1241 1398h0M1241 1694h0M1241 1621h0M1241 1392h0M1241 1707h0M1241 1694h0M1241 1655h0M1241 1636h0M1241 1496h0M1241 1392h0M1241 1698h0M1241 1594h0M1241 1737h0M1241 1453h0M1241 1406h0M1241 1564h0M1241 1662h0M1241 1456h0M1241 1440h0M1241 1483h0M1241 1454h0M1241 1396h0M1241 1588h0M1241 1708h0M1241 1530h0M1241 1490h0M1241 1557h0M1241 1736h0M1241 1410h0M1241 1406h0M1241 1593h0M1242 1502h0M1242 1506h0M1242 1405h0M1242 1431h0M1242 1593h0M1242 1444h0M1242 1371h0M1242 1648h0M1242 1534h0M1242 1440h0M1242 1682h0M1242 1448h0M1242 1405h0M1242 1419h0M1242 1673h0M1242 1570h0M1242 1676h0M1242 1395h0M1242 1644h0M1242 1557h0M1242 1551h0M1242 1556h0M1242 1567h0M1242 1572h0M1242 1675h0M1242 1738h0M1242 1698h0M1242 1477h0M1242 1407h0M1242 1445h0M1242 1439h0M1242 1448h0M1242 1386h0M1242 1383h0M1242 1397h0M1242 1550h0M1243 1447h0M1243 1683h0M1243 1392h0M1243 1500h0M1243 1465h0M1243 1386h0M1243 1476h0M1243 1443h0M1243 1676h0M1243 1693h0M1243 1533h0M1243 1537h0M1243 1697h0M1243 1578h0M1243 1552h0M1243 1709h0M1243 1431h0M1243 1523h0M1243 1434h0M1243 1374h0M1243 1654h0M1243 1679h0M1243 1593h0M1243 1528h0M1243 1474h0M1243 1712h0M1243 1511h0M1243 1723h0M1243 1606h0M1243 1659h0M1243 1702h0M1243 1671h0M1243 1617h0M1243 1473h0M1243 1533h0M1243 1522h0M1243 1561h0M1243 1547h0M1243 1580h0M1243 1432h0M1243 1519h0M1243 1498h0M1243 1676h0M1243 1625h0M1243 1442h0M1243 1509h0M1243 1413h0M1243 1696h0M1243 1710h0M1244 1531h0M1244 1636h0M1244 1620h0M1244 1474h0M1244 1674h0M1244 1597h0M1244 1723h0M1244 1719h0M1244 1381h0M1244 1544h0M1244 1735h0M1244 1619h0M1244 1425h0M1244 1452h0M1244 1598h0M1244 1650h0M1244 1400h0M1244 1497h0M1244 1684h0M1244 1469h0M1244 1679h0M1244 1382h0M1244 1519h0M1244 1517h0M1244 1694h0M1244 1575h0M1244 1680h0M1244 1596h0M1244 1557h0M1244 1483h0M1244 1575h0M1244 1636h0M1244 1434h0M1244 1603h0M1244 1456h0M1244 1670h0M1244 1553h0M1245 1392h0M1245 1502h0M1245 1732h0M1245 1545h0M1245 1539h0M1245 1728h0M1245 1541h0M1245 1530h0M1245 1718h0M1245 1698h0M1245 1395h0M1245 1409h0M1245 1393h0M1245 1427h0M1245 1717h0M1245 1716h0M1245 1731h0M1245 1545h0M1245 1625h0M1245 1417h0M1245 1584h0M1245 1450h0M1245 1727h0M1245 1627h0M1245 1736h0M1245 1538h0M1245 1416h0M1245 1522h0M1245 1450h0M1246 1575h0M1246 1580h0M1246 1515h0M1246 1571h0M1246 1667h0M1246 1420h0M1246 1462h0M1246 1556h0M1246 1631h0M1246 1648h0M1246 1611h0M1246 1559h0M1246 1642h0M1246 1435h0M1246 1448h0M1246 1443h0M1246 1424h0M1246 1638h0M1246 1384h0M1246 1718h0M1246 1497h0M1246 1631h0M1246 1449h0M1246 1399h0M1246 1538h0M1246 1399h0M1246 1497h0M1246 1561h0M1246 1457h0M1246 1657h0M1246 1631h0M1246 1565h0M1246 1430h0M1246 1595h0M1246 1446h0M1246 1465h0M1246 1454h0M1247 1462h0M1247 1497h0M1247 1529h0M1247 1541h0M1247 1641h0M1247 1530h0M1247 1557h0M1247 1533h0M1247 1409h0M1247 1400h0M1247 1436h0M1247 1640h0M1247 1691h0M1247 1675h0M1247 1513h0M1247 1664h0M1247 1541h0M1247 1691h0M1247 1550h0M1247 1600h0M1247 1587h0M1247 1477h0M1247 1732h0M1247 1509h0M1247 1708h0M1247 1720h0M1247 1394h0M1247 1443h0M1247 1428h0M1247 1520h0M1247 1400h0M1247 1540h0M1247 1449h0M1247 1635h0M1247 1711h0M1247 1634h0M1247 1486h0M1248 1561h0M1248 1638h0M1248 1536h0M1248 1715h0M1248 1567h0M1248 1434h0M1248 1528h0M1248 1497h0M1248 1436h0M1248 1557h0M1248 1689h0M1248 1689h0M1248 1550h0M1248 1647h0M1248 1709h0M1248 1418h0M1248 1601h0M1248 1668h0M1248 1402h0M1248 1691h0M1248 1665h0M1248 1544h0M1248 1504h0M1248 1560h0M1248 1562h0M1248 1669h0M1248 1702h0M1248 1501h0M1248 1496h0M1248 1520h0M1248 1713h0M1248 1602h0M1248 1466h0M1248 1565h0M1248 1536h0M1248 1565h0M1248 1674h0M1248 1417h0M1248 1526h0M1249 1408h0M1249 1724h0M1249 1450h0M1249 1426h0M1249 1467h0M1249 1658h0M1249 1540h0M1249 1724h0M1249 1622h0M1249 1709h0M1249 1505h0M1249 1710h0M1249 1444h0M1249 1549h0M1249 1436h0M1249 1455h0M1249 1399h0M1249 1574h0M1249 1652h0M1249 1452h0M1249 1522h0M1249 1572h0M1249 1519h0M1249 1508h0M1249 1445h0M1249 1506h0M1249 1463h0M1249 1712h0M1249 1616h0M1249 1610h0M1249 1656h0M1249 1618h0M1249 1571h0M1249 1430h0M1249 1697h0M1249 1464h0M1249 1595h0M1249 1620h0M1249 1555h0M1249 1415h0M1249 1568h0M1249 1519h0M1249 1721h0M1250 1686h0M1250 1480h0M1250 1411h0M1250 1507h0M1250 1560h0M1250 1465h0M1250 1603h0M1250 1483h0M1250 1640h0M1250 1465h0M1250 1556h0M1250 1451h0M1250 1427h0M1250 1466h0M1250 1606h0M1250 1712h0M1250 1398h0M1250 1620h0M1250 1516h0M1250 1407h0M1250 1401h0M1250 1468h0M1250 1716h0M1250 1612h0M1250 1624h0M1250 1543h0M1250 1564h0M1250 1534h0M1250 1540h0M1250 1435h0M1250 1695h0M1250 1696h0M1250 1571h0M1250 1477h0M1250 1638h0M1250 1497h0M1250 1489h0M1250 1623h0M1250 1406h0M1250 1413h0M1250 1438h0M1250 1648h0M1250 1438h0M1250 1415h0M1250 1437h0M1250 1630h0M1251 1547h0M1251 1714h0M1251 1471h0M1251 1458h0M1251 1609h0M1251 1584h0M1251 1514h0M1251 1603h0M1251 1623h0M1251 1618h0M1251 1480h0M1251 1522h0M1251 1642h0M1251 1718h0M1251 1545h0M1251 1473h0M1251 1724h0M1251 1708h0M1251 1688h0M1251 1654h0M1251 1555h0M1251 1556h0M1251 1561h0M1251 1721h0M1251 1417h0M1251 1693h0M1251 1607h0M1251 1569h0M1251 1694h0M1251 1509h0M1251 1678h0M1251 1711h0M1251 1447h0M1251 1486h0M1252 1620h0M1252 1454h0M1252 1506h0M1252 1527h0M1252 1514h0M1252 1595h0M1252 1512h0M1252 1696h0M1252 1531h0M1252 1700h0M1252 1401h0M1252 1592h0M1252 1528h0M1252 1423h0M1252 1589h0M1252 1552h0M1252 1619h0M1252 1472h0M1252 1437h0M1252 1589h0M1252 1433h0M1252 1628h0M1252 1638h0M1252 1402h0M1252 1504h0M1252 1711h0M1252 1623h0M1252 1514h0M1252 1655h0M1252 1531h0M1252 1493h0M1252 1487h0M1252 1551h0M1252 1597h0M1253 1618h0M1253 1416h0M1253 1619h0M1253 1645h0M1253 1513h0M1253 1501h0M1253 1662h0M1253 1591h0M1253 1558h0M1253 1569h0M1253 1562h0M1253 1653h0M1253 1560h0M1253 1487h0M1253 1525h0M1253 1710h0M1253 1710h0M1253 1466h0M1253 1536h0M1253 1549h0M1253 1677h0M1253 1614h0M1253 1445h0M1253 1666h0M1253 1468h0M1253 1659h0M1253 1545h0M1253 1607h0M1253 1443h0M1253 1426h0M1253 1589h0M1253 1542h0M1253 1529h0M1253 1589h0M1253 1706h0M1254 1685h0M1254 1555h0M1254 1692h0M1254 1434h0M1254 1533h0M1254 1705h0M1254 1458h0M1254 1529h0M1254 1619h0M1254 1580h0M1254 1677h0M1254 1487h0M1254 1527h0M1254 1426h0M1254 1535h0M1254 1519h0M1254 1546h0M1254 1646h0M1254 1532h0M1254 1631h0M1254 1471h0M1254 1692h0M1254 1441h0M1254 1453h0M1254 1643h0M1254 1643h0M1254 1493h0M1254 1507h0M1255 1523h0M1255 1551h0M1255 1468h0M1255 1599h0M1255 1569h0M1255 1485h0M1255 1683h0M1255 1600h0M1255 1526h0M1255 1638h0M1255 1445h0M1255 1577h0M1255 1497h0M1255 1636h0M1255 1528h0M1255 1506h0M1255 1458h0M1255 1632h0M1255 1618h0M1255 1429h0M1255 1498h0M1255 1486h0M1255 1455h0M1255 1621h0M1256 1683h0M1256 1651h0M1256 1629h0M1256 1454h0M1256 1556h0M1256 1665h0M1256 1662h0M1256 1583h0M1256 1639h0M1256 1639h0M1256 1547h0M1256 1684h0M1256 1454h0M1256 1440h0M1256 1421h0M1256 1500h0M1256 1613h0M1256 1437h0M1256 1515h0M1256 1590h0M1256 1485h0M1256 1499h0M1256 1460h0M1256 1530h0M1256 1476h0M1256 1532h0M1256 1502h0M1256 1421h0M1256 1424h0M1256 1608h0M1256 1614h0M1256 1493h0M1256 1420h0M1257 1564h0M1257 1624h0M1257 1567h0M1257 1620h0M1257 1469h0M1257 1445h0M1257 1485h0M1257 1660h0M1257 1608h0M1257 1687h0M1257 1583h0M1257 1508h0M1257 1554h0M1257 1574h0M1257 1513h0M1257 1653h0M1257 1666h0M1257 1636h0M1257 1540h0M1257 1653h0M1257 1559h0M1257 1537h0M1257 1637h0M1257 1517h0M1258 1626h0M1258 1532h0M1258 1485h0M1258 1607h0M1258 1552h0M1258 1680h0M1258 1517h0M1258 1687h0M1258 1462h0M1258 1545h0M1258 1465h0M1258 1628h0M1258 1593h0M1258 1640h0M1258 1667h0M1258 1489h0M1258 1667h0M1258 1485h0M1258 1444h0M1259 1549h0M1259 1547h0M1259 1676h0M1259 1677h0M1259 1463h0M1259 1621h0M1259 1454h0M1259 1480h0M1259 1507h0M1259 1432h0M1259 1628h0M1259 1631h0M1259 1550h0M1259 1535h0M1259 1558h0M1260 1614h0M1260 1534h0M1260 1451h0M1260 1533h0M1260 1449h0M1260 1577h0M1260 1673h0M1260 1556h0M1260 1488h0M1260 1661h0M1260 1676h0M1260 1613h0M1260 1664h0M1260 1618h0M1260 1562h0M1260 1574h0M1260 1470h0M1260 1507h0M1260 1534h0M1260 1593h0M1260 1588h0M1260 1583h0M1260 1658h0M1260 1648h0M1260 1671h0M1260 1675h0M1260 1448h0M1260 1625h0M1260 1551h0M1260 1545h0M1260 1494h0M1261 1494h0M1261 1636h0M1261 1660h0M1261 1595h0M1261 1488h0M1261 1582h0M1261 1542h0M1261 1482h0M1261 1672h0M1261 1510h0M1261 1450h0M1261 1622h0M1261 1601h0M1261 1460h0M1261 1611h0M1261 1429h0M1261 1595h0M1261 1519h0M1261 1678h0M1261 1621h0M1261 1508h0M1261 1574h0M1261 1634h0M1261 1530h0M1261 1518h0M1261 1451h0M1261 1613h0M1261 1648h0M1261 1664h0M1261 1481h0M1262 1607h0M1262 1539h0M1262 1527h0M1262 1503h0M1262 1553h0M1262 1441h0M1262 1535h0M1262 1581h0M1262 1476h0M1262 1459h0M1262 1581h0M1262 1519h0M1262 1557h0M1262 1438h0M1262 1623h0M1262 1481h0M1262 1460h0M1262 1447h0M1262 1562h0M1262 1436h0M1262 1648h0M1262 1575h0M1262 1532h0M1262 1471h0M1262 1644h0M1262 1466h0M1262 1670h0M1263 1447h0M1263 1537h0M1263 1653h0M1263 1565h0M1263 1663h0M1263 1520h0M1263 1639h0M1263 1564h0M1263 1559h0M1263 1576h0M1263 1631h0M1263 1594h0M1263 1546h0M1263 1593h0M1263 1600h0M1263 1664h0M1263 1656h0M1263 1513h0M1263 1569h0M1263 1592h0M1263 1587h0M1263 1476h0M1263 1626h0M1263 1535h0M1263 1479h0M1263 1651h0M1263 1587h0M1264 1436h0M1264 1484h0M1264 1574h0M1264 1593h0M1264 1556h0M1264 1459h0M1264 1554h0M1264 1631h0M1264 1589h0M1264 1507h0M1264 1442h0M1264 1471h0M1264 1510h0M1264 1648h0M1264 1508h0M1264 1535h0M1264 1526h0M1264 1502h0M1264 1466h0M1264 1453h0M1264 1521h0M1264 1492h0M1265 1643h0M1265 1506h0M1265 1503h0M1265 1457h0M1265 1544h0M1265 1522h0M1265 1573h0M1265 1558h0M1265 1548h0M1265 1617h0M1265 1573h0M1265 1489h0M1265 1553h0M1265 1650h0M1265 1596h0M1265 1495h0M1265 1633h0M1265 1618h0M1265 1635h0M1265 1587h0M1265 1537h0M1266 1512h0M1266 1596h0M1266 1442h0M1266 1643h0M1266 1541h0M1266 1609h0M1266 1577h0M1266 1512h0M1266 1508h0M1266 1620h0M1266 1512h0M1266 1461h0M1266 1600h0M1266 1531h0M1266 1607h0M1266 1557h0M1266 1635h0M1266 1638h0M1266 1526h0M1266 1448h0M1266 1548h0M1266 1657h0M1266 1518h0M1266 1645h0M1267 1556h0M1267 1447h0M1267 1624h0M1267 1621h0M1267 1617h0M1267 1512h0M1267 1519h0M1267 1585h0M1267 1476h0M1267 1541h0M1267 1467h0M1267 1510h0M1267 1536h0M1267 1639h0M1267 1568h0M1267 1488h0M1267 1470h0M1267 1530h0M1267 1624h0M1267 1558h0M1267 1649h0M1267 1589h0M1267 1541h0M1267 1538h0M1267 1466h0M1267 1464h0M1267 1536h0M1268 1467h0M1268 1488h0M1268 1646h0M1268 1494h0M1268 1621h0M1268 1488h0M1268 1537h0M1268 1514h0M1268 1550h0M1268 1536h0M1268 1637h0M1268 1606h0M1268 1460h0M1268 1535h0M1268 1534h0M1268 1627h0M1268 1483h0M1268 1546h0M1268 1636h0M1268 1643h0M1268 1637h0M1268 1563h0M1269 1604h0M1269 1468h0M1269 1641h0M1269 1645h0M1269 1604h0M1269 1502h0M1269 1639h0M1269 1627h0M1269 1510h0M1269 1616h0M1269 1507h0M1269 1588h0M1269 1552h0M1269 1604h0M1270 1584h0M1270 1596h0M1270 1639h0M1270 1642h0M1270 1587h0M1270 1620h0M1270 1518h0M1270 1531h0M1270 1582h0M1270 1540h0M1270 1561h0M1270 1521h0M1270 1470h0M1270 1533h0M1270 1472h0M1270 1513h0M1270 1639h0M1270 1480h0M1270 1558h0M1270 1582h0M1271 1503h0M1271 1466h0M1271 1477h0M1271 1518h0M1271 1472h0M1271 1562h0M1271 1499h0M1271 1578h0M1271 1537h0M1271 1464h0M1271 1591h0M1271 1480h0M1271 1595h0M1271 1579h0M1271 1634h0M1271 1539h0M1271 1500h0M1271 1570h0M1271 1613h0M1271 1561h0M1271 1616h0M1271 1511h0M1272 1633h0M1272 1529h0M1272 1474h0M1272 1575h0M1272 1514h0M1272 1520h0M1272 1634h0M1272 1525h0M1272 1581h0M1272 1469h0M1272 1575h0M1272 1491h0M1272 1543h0M1272 1466h0M1272 1619h0M1272 1611h0M1272 1585h0M1272 1473h0M1272 1505h0M1272 1575h0M1272 1515h0M1272 1536h0M1273 1515h0M1273 1560h0M1273 1522h0M1273 1496h0M1273 1532h0M1273 1613h0M1273 1494h0M1273 1493h0M1273 1519h0M1273 1611h0M1273 1589h0M1273 1534h0M1273 1558h0M1273 1500h0M1274 1600h0M1274 1528h0M1274 1560h0M1274 1469h0M1274 1621h0M1274 1569h0M1274 1589h0M1274 1550h0M1274 1520h0M1274 1543h0M1274 1560h0M1274 1543h0M1274 1562h0M1274 1531h0M1274 1573h0M1274 1542h0M1274 1526h0M1274 1533h0M1274 1595h0M1274 1509h0M1274 1522h0M1274 1538h0M1275 1564h0M1275 1525h0M1275 1601h0M1275 1506h0M1275 1494h0M1275 1479h0M1275 1549h0M1275 1539h0M1275 1488h0M1275 1576h0M1275 1595h0M1275 1548h0M1275 1480h0M1275 1492h0M1276 1552h0M1276 1603h0M1276 1597h0M1276 1505h0M1276 1475h0M1276 1577h0M1276 1505h0M1276 1523h0M1276 1607h0M1276 1560h0M1276 1604h0M1276 1496h0M1276 1535h0M1276 1603h0M1276 1619h0M1277 1522h0M1277 1557h0M1277 1595h0M1277 1534h0M1277 1594h0M1277 1492h0M1277 1508h0M1277 1556h0M1277 1529h0M1277 1498h0M1277 1585h0M1277 1600h0M1277 1609h0M1277 1578h0M1277 1615h0M1277 1578h0M1278 1562h0M1278 1501h0M1278 1603h0M1278 1555h0M1278 1507h0M1278 1528h0M1278 1591h0M1278 1588h0M1278 1592h0M1278 1588h0M1278 1523h0M1279 1596h0M1279 1499h0M1279 1577h0M1279 1595h0M1279 1593h0M1279 1609h0M1279 1499h0M1279 1570h0M1279 1541h0M1279 1574h0M1279 1600h0M1279 1600h0M1279 1538h0M1279 1508h0M1280 1557h0M1280 1492h0M1280 1550h0M1280 1577h0M1280 1530h0M1280 1546h0M1280 1584h0M1280 1499h0M1280 1504h0M1280 1541h0M1280 1547h0M1280 1556h0M1280 1515h0M1280 1519h0M1280 1544h0M1280 1596h0M1280 1546h0M1281 1513h0M1281 1527h0M1281 1553h0M1281 1558h0M1281 1557h0M1281 1586h0M1281 1505h0M1281 1538h0M1281 1589h0M1281 1567h0M1281 1578h0M1281 1539h0M1281 1572h0M1282 1522h0M1282 1594h0M1282 1526h0M1282 1579h0M1282 1538h0M1282 1590h0M1282 1541h0M1282 1554h0M1282 1594h0M1282 1509h0M1282 1542h0M1282 1517h0M1283 1589h0M1283 1587h0M1283 1548h0M1283 1562h0M1283 1534h0M1283 1568h0M1283 1501h0M1283 1566h0M1283 1549h0M1283 1558h0M1283 1568h0M1283 1537h0M1283 1522h0M1284 1588h0M1284 1570h0M1284 1584h0M1284 1587h0M1284 1539h0M1285 1569h0M1285 1520h0M1285 1512h0M1285 1531h0M1285 1531h0M1285 1555h0M1285 1576h0M1285 1578h0M1285 1588h0M1285 1571h0M1286 1535h0M1286 1571h0M1286 1528h0M1286 1527h0M1286 1575h0M1286 1571h0M1286 1562h0M1287 1572h0M1287 1558h0M1287 1573h0M1287 1537h0M1287 1541h0M1287 1548h0M1287 1544h0M1288 1535h0M1288 1531h0M1288 1521h0M1288 1564h0M1289 1559h0M1289 1574h0M1289 1529h0M1289 1534h0M1289 1571h0M1289 1555h0M1289 1540h0M1290 1544h0M1290 1570h0M1290 1554h0M1290 1564h0M1290 1554h0M1290 1554h0M1290 1559h0M1290 1554h0M1291 1562h0M1291 1534h0M1291 1541h0M1291 1559h0M1291 1568h0M1291 1562h0M1292 1562h0M1293 1558h0M1293 1555h0" stroke="#a2a2a2" stroke-width="2.1" stroke-linecap="round" fill="none" opacity="0.85"/>
<polygon points="588.1,782.3 589.6,781.1 590.7,780.7 592.0,780.3 594.3,781.0 595.9,779.7 597.0,779.4 599.0,778.9 599.9,778.5 602.1,779.1 603.1,779.0 604.8,778.7 606.0,778.3 607.5,777.5 608.5,777.1 610.6,777.4 611.9,776.8 614.1,778.3 615.5,778.5 617.1,778.9 617.6,779.8 618.5,781.5 618.4,783.0 619.3,784.7 619.3,786.6 619.7,788.4 621.6,789.5 622.6,789.8 625.0,790.5 625.9,792.4 626.8,793.6 627.6,795.0 628.6,796.0 630.6,797.5 628.7,797.8 626.7,798.6 624.7,799.4 623.3,799.1 621.5,800.4 620.1,799.9 619.3,798.9 617.7,798.2 616.6,798.0 614.5,797.3 612.7,796.4 611.4,796.3 610.1,796.3 608.1,795.8 607.2,795.3 605.5,795.8 604.1,795.2 603.0,795.8 601.2,795.4 599.3,795.2 598.0,795.4 596.9,793.1 595.7,792.0 594.8,790.9 594.5,789.9 592.5,788.8 592.2,787.0 590.8,785.7 589.7,784.1 588.9,783.1" fill="#acacac" opacity="1.0" />
<polygon points="612.6,832.9 613.5,832.0 614.8,830.4 615.2,830.4 616.8,829.3 617.8,828.1 618.9,827.3 619.5,826.0 621.0,826.6 622.7,828.2 624.3,829.5 625.4,830.1 627.1,831.2 627.5,831.6 627.6,833.2 628.2,835.3 626.9,837.1 626.7,838.2 626.8,839.7 627.0,841.2 626.4,842.1 627.1,843.6 626.2,845.1 626.3,846.5 626.3,848.2 625.7,849.6 625.8,851.1 626.0,853.1 625.0,854.9 625.0,855.5 624.2,858.0 624.8,858.6 624.4,861.0 624.2,861.7 623.7,863.5 623.6,864.7 622.7,866.8 623.1,868.0 622.3,866.2 622.0,865.1 621.6,864.2 621.2,861.9 619.9,860.8 619.4,859.1 618.9,858.2 618.5,856.7 617.8,855.6 617.2,853.1 617.1,852.3 616.7,851.3 615.9,848.9 615.0,848.5 614.0,846.0 614.4,845.0 613.2,843.1 613.4,842.0 613.5,840.7 612.6,838.7 612.5,837.2 612.7,835.6 611.8,834.7" fill="#acacac" opacity="1.0" />
<polygon points="618.4,701.7 619.7,700.5 621.6,699.7 623.1,702.2 623.2,703.1 623.3,704.3 624.4,706.3 624.9,707.8 624.6,709.7 625.0,711.4 624.1,712.5 624.2,713.9 621.9,713.9 620.9,712.8 618.9,711.5 618.9,709.8 618.8,708.9 618.2,706.5 618.2,705.0 618.0,703.2" fill="#acacac" opacity="1.0" />
<polygon points="617.3,740.3 618.8,739.6 620.3,739.5 622.3,738.9 623.5,737.7 624.7,739.3 625.2,741.1 626.2,742.2 626.4,744.4 627.5,745.9 628.1,747.0 628.7,748.8 629.0,750.1 629.4,751.0 629.4,753.3 630.1,754.2 630.2,755.8 631.5,757.8 631.3,758.9 631.7,760.2 632.1,761.5 632.9,763.4 633.4,764.9 634.3,765.5 633.1,766.0 630.9,767.3 629.0,767.8 628.5,767.8 627.3,766.8 627.1,764.9 625.7,764.0 625.2,762.7 625.2,761.0 624.5,758.9 623.1,758.5 622.3,756.9 621.9,754.5 621.6,754.1 621.5,752.0 621.0,750.5 619.5,749.3 619.6,747.3 619.2,746.4 618.7,744.8 618.0,743.1 617.2,741.4" fill="#acacac" opacity="1.0" />
<polygon points="595.8,775.6 597.8,775.4 599.3,775.2 600.7,775.2 601.8,774.3 603.4,773.9 604.8,773.5 606.7,772.6 608.5,772.0 610.1,771.4 611.0,773.3 613.5,774.4 614.4,775.2 616.3,776.1 615.0,777.2 613.6,778.9 612.2,780.6 610.9,780.5 609.2,780.6 608.1,780.4 606.1,779.6 605.0,780.3 603.5,779.7 601.3,779.8 599.4,779.6 599.0,778.7 596.9,777.2" fill="#acacac" opacity="1.0" />
<path transform="scale(.5)" d="M1208 1374h0M1209 1369h0M1210 1379h0M1210 1375h0M1210 1375h0M1210 1377h0M1211 1373h0M1211 1368h0M1211 1383h0M1212 1381h0M1212 1390h0M1212 1371h0M1213 1376h0M1214 1373h0M1215 1391h0M1215 1390h0M1215 1381h0M1215 1378h0M1216 1380h0M1217 1390h0M1218 1401h0M1218 1369h0M1218 1383h0M1218 1394h0M1218 1389h0M1219 1374h0M1219 1380h0M1219 1379h0M1219 1401h0M1219 1373h0M1219 1399h0M1219 1399h0M1220 1397h0M1220 1370h0M1220 1386h0M1220 1379h0M1220 1376h0M1220 1398h0M1220 1386h0M1220 1385h0M1220 1393h0M1221 1386h0M1221 1408h0M1221 1408h0M1221 1384h0M1221 1381h0M1221 1374h0M1221 1377h0M1221 1407h0M1223 1394h0M1224 1411h0M1224 1400h0M1224 1409h0M1224 1390h0M1224 1411h0M1224 1398h0M1224 1384h0M1225 1408h0M1225 1391h0M1225 1385h0M1225 1402h0M1225 1415h0M1225 1418h0M1226 1382h0M1226 1395h0M1226 1403h0M1226 1392h0M1226 1391h0M1226 1400h0M1226 1410h0M1227 1409h0M1227 1389h0M1227 1404h0M1227 1411h0M1227 1415h0M1227 1397h0M1227 1387h0M1227 1402h0M1227 1389h0M1228 1411h0M1228 1409h0M1228 1420h0M1229 1422h0M1229 1396h0M1229 1407h0M1229 1423h0M1229 1407h0M1230 1393h0M1230 1403h0M1230 1422h0M1230 1413h0M1230 1409h0M1231 1411h0M1231 1422h0M1231 1396h0M1232 1412h0M1233 1423h0M1233 1417h0M1233 1408h0M1233 1424h0M1233 1404h0M1234 1403h0M1234 1420h0M1234 1422h0M1234 1417h0M1234 1422h0M1234 1413h0M1235 1419h0M1236 1422h0M1237 1412h0" stroke="#a0a0a0" stroke-width="2.2" stroke-linecap="round" fill="none" opacity="0.85"/>
<!--DATA-->
<polygon points="85.7,853.0 87.3,852.7 88.6,851.2 89.3,851.4 90.4,851.3 91.0,850.0 92.4,850.1 93.7,849.2 95.3,848.2 94.9,848.0 96.3,848.6 97.3,848.0 98.9,847.3 98.8,847.4 101.0,846.8 101.5,846.0 102.9,845.2 102.8,845.5 105.2,845.0 105.4,843.7 105.1,843.7 106.6,842.1 107.8,841.9 108.3,841.3 108.1,840.0 109.8,839.0 110.1,839.2 111.9,838.2 113.0,837.9 114.3,838.6 114.2,837.9 115.6,838.6 116.8,838.0 118.5,838.3 119.1,837.1 119.8,837.2 120.3,837.7 121.8,837.1 122.5,837.6 124.3,838.1 124.8,837.5 126.3,838.8 127.6,837.6 128.2,838.1 130.3,838.3 130.3,838.7 131.4,838.4 132.5,838.9 134.3,838.0 134.2,838.4 136.4,839.3 136.2,839.4 138.6,840.1 138.8,839.6 139.4,841.1 141.0,840.2 141.5,841.6 143.6,842.1 143.5,842.7 144.5,842.6 145.3,841.9 146.5,841.4 147.6,842.2 149.4,840.8 150.2,840.5 151.7,841.9 152.6,840.7 152.4,842.1 154.5,841.5 154.8,841.5 156.1,841.7 156.9,840.8 158.8,842.4 158.6,842.8 160.0,843.4 161.6,843.7 162.6,844.6 162.7,844.1 163.8,844.8 164.9,844.8 167.3,844.3 168.1,845.6 169.6,845.3 170.1,846.2 171.3,846.5 171.9,847.1 172.5,846.9 173.4,847.6 174.8,847.9 176.5,848.6 176.9,848.2 178.7,848.8 179.3,850.0 179.5,850.4 180.8,850.7 182.1,849.5 182.8,850.4 184.9,849.9 185.0,850.3 186.3,849.4 188.2,849.5 189.0,849.2 189.0,850.0 190.5,850.2 191.5,851.3 191.0,852.2 191.1,853.8 190.4,853.4 190.9,854.9 190.9,856.4 191.3,856.7 190.5,858.3 190.2,859.1 187.9,859.9 188.2,859.4 186.2,859.9 184.8,860.1 183.6,859.5 184.0,859.6 182.7,860.1 181.7,859.8 179.6,861.3 178.5,861.1 177.9,861.0 177.4,861.3 175.8,860.2 175.0,861.2 173.9,861.2 172.5,860.9 172.8,860.0 170.8,860.6 169.4,861.0 168.4,861.1 167.7,859.9 166.5,859.9 166.4,860.9 165.2,860.7 163.7,860.5 162.7,859.6 162.6,860.1 160.1,859.8 160.5,859.5 158.6,859.6 157.4,860.5 156.0,859.7 155.9,859.9 154.6,859.6 154.3,859.9 153.2,859.7 151.4,860.0 150.9,859.7 148.8,859.1 148.4,859.2 147.2,859.4 145.9,859.5 144.8,858.5 143.8,859.6 142.8,858.5 142.7,859.4 141.5,858.4 139.8,859.1 138.7,859.2 138.8,859.3 137.2,858.4 136.8,859.5 134.3,858.1 133.8,858.9 133.5,858.1 131.4,858.9 131.7,858.7 130.4,859.3 128.5,858.0 127.1,858.9 126.6,857.7 126.3,858.2 124.3,858.5 123.2,858.1 122.2,858.4 122.4,857.8 121.4,858.3 119.1,858.2 118.9,858.5 117.6,858.3 117.3,858.6 114.8,857.3 113.9,857.8 113.5,858.3 113.3,857.4 112.1,857.4 111.0,857.9 108.6,858.0 108.8,857.8 107.7,856.9 105.6,857.6 105.0,857.8 103.9,857.0 103.3,856.6 102.6,856.4 101.8,857.3 100.8,855.9 99.9,856.8 98.0,856.2 96.5,856.3 96.1,856.4 94.8,855.3 94.7,855.3 93.7,855.2 92.2,856.0 90.2,854.6 89.9,855.2 88.5,854.4 87.7,855.2 87.4,853.9 86.1,853.9" fill="#d5c52b" stroke="#2a2a2a" stroke-width="0.6" stroke-linejoin="round" opacity="1"/>
<path d="M131.2 844.8h0M132.9 839.4h0M133.1 843.1h0M132.3 839.2h0M144.4 844.5h0M111.5 842.0h0M138.9 842.7h0M122.7 843.0h0M134.5 840.3h0M119.6 844.0h0M121.3 839.1h0M121.1 841.5h0M114.3 840.3h0M139.6 841.9h0M128.0 843.3h0M135.2 842.6h0M127.3 841.4h0M125.9 842.3h0M153.0 843.9h0M128.4 840.1h0M149.4 842.5h0M160.2 844.3h0M120.6 840.2h0M134.4 844.7h0M140.9 843.4h0M120.2 841.1h0M120.2 843.5h0M134.9 845.0h0M112.7 841.8h0M151.8 843.5h0M134.5 842.3h0M117.5 841.3h0M130.0 841.3h0M137.1 844.6h0M115.7 843.1h0M151.5 843.9h0M128.1 842.9h0M117.2 842.3h0M113.7 841.6h0M114.0 841.0h0M114.9 839.3h0M126.7 841.3h0M123.7 844.2h0M129.0 844.7h0M134.4 841.8h0M127.3 842.5h0M135.1 843.0h0M110.5 840.8h0M114.7 842.5h0M113.4 843.6h0M115.3 840.6h0M154.1 845.0h0M149.7 844.4h0M122.1 840.6h0M109.7 841.9h0M110.4 844.3h0M121.2 841.4h0M114.5 838.9h0M115.3 844.9h0M112.5 839.6h0" stroke="#eee59a" stroke-width="1.3" stroke-linecap="round" opacity="0.9"/>
<polygon points="187.4,840.0 188.8,840.1 188.4,839.8 190.6,839.6 190.7,838.4 192.6,837.1 192.4,837.8 194.5,837.2 194.4,836.8 197.0,836.4 197.8,835.2 198.5,834.8 198.1,834.8 200.2,835.1 200.3,833.6 202.5,834.1 202.2,833.8 204.3,834.4 206.3,834.6 205.6,833.9 208.0,833.6 208.7,834.0 209.1,832.1 211.2,831.6 210.7,831.7 211.5,832.9 214.3,832.6 214.4,831.2 215.1,830.6 216.0,831.9 217.1,830.1 217.5,831.8 220.5,830.6 221.5,829.5 221.5,830.8 223.4,830.2 223.9,828.9 225.0,829.9 226.7,828.7 226.6,829.2 228.7,829.4 229.9,828.3 229.0,827.3 231.1,827.9 230.9,828.0 233.1,826.7 234.0,827.2 236.0,826.8 236.5,827.5 236.5,827.1 237.4,826.4 239.8,825.6 240.8,826.7 240.6,826.2 242.3,824.3 242.9,825.6 243.8,824.9 245.7,823.3 247.4,823.7 247.0,822.8 248.8,824.5 249.1,822.9 251.7,822.6 252.1,823.8 253.4,823.6 253.3,822.2 255.8,822.1 256.1,822.6 257.7,822.5 257.5,821.6 260.1,821.8 260.0,821.9 261.8,822.3 263.0,822.6 264.5,822.0 263.9,820.5 265.9,822.5 266.5,821.0 267.8,821.2 267.9,820.8 270.1,822.4 272.2,822.5 273.3,822.9 273.6,822.4 274.1,822.2 275.6,823.6 276.5,822.5 276.8,822.9 278.2,823.9 280.5,824.7 281.5,823.7 281.4,825.5 282.4,826.5 284.2,826.1 284.4,827.3 284.5,826.0 285.9,827.5 288.0,827.5 287.6,829.5 288.8,829.1 289.8,829.5 290.9,832.1 290.4,832.1 288.7,833.5 289.9,836.1 287.1,835.9 287.3,835.7 286.9,836.4 285.5,836.1 283.8,836.2 283.8,837.5 281.7,837.4 280.7,839.0 280.8,839.4 280.2,839.6 278.4,839.6 276.9,840.2 277.1,838.9 275.3,840.5 275.0,840.6 273.3,841.3 272.7,841.3 272.8,842.1 270.5,842.8 269.4,843.2 268.1,842.7 267.9,843.3 266.6,843.5 266.8,844.4 265.0,843.0 263.9,844.2 263.2,844.7 263.1,844.5 260.1,845.4 259.2,844.4 259.2,845.6 258.0,844.9 257.1,846.1 256.4,846.9 254.1,847.3 253.8,847.6 252.4,847.2 252.0,846.5 249.7,848.9 248.6,848.2 248.5,848.3 247.1,847.8 247.7,848.1 244.6,849.2 244.0,849.8 243.3,849.7 242.7,851.3 241.3,850.9 240.3,850.6 238.4,851.4 238.6,851.4 238.0,849.6 237.0,850.8 234.4,851.4 233.6,851.2 232.6,851.1 231.9,851.9 230.8,850.4 230.4,851.6 228.9,850.7 228.4,852.0 227.4,851.7 225.4,851.5 224.3,851.3 225.1,852.2 224.0,851.5 222.0,852.7 220.3,852.1 220.6,851.0 218.6,852.8 217.5,852.4 218.0,852.0 216.1,851.5 216.3,851.6 214.1,851.6 214.3,851.4 211.3,851.0 210.6,852.0 209.5,850.9 209.2,851.1 208.3,852.4 206.7,852.5 207.0,850.6 205.9,850.7 204.1,850.5 202.5,850.7 202.6,851.9 201.5,852.4 199.5,852.3 198.6,852.3 199.2,850.0 196.3,849.9 195.7,850.2 195.9,849.8 194.4,848.3 193.5,848.5 191.8,849.1 192.2,848.2 190.1,848.4 188.4,847.1 188.5,845.2 188.3,846.0 188.4,845.1 187.4,843.4 188.9,841.0" fill="#b41a1a" stroke="#2a2a2a" stroke-width="0.6" stroke-linejoin="round" opacity="1"/>
<polygon points="235.4,813.5 236.2,813.3 235.9,813.0 237.7,811.3 237.8,812.0 238.1,809.8 238.9,810.6 240.6,809.0 240.3,809.1 242.1,807.9 242.0,807.6 242.4,807.0 243.5,806.2 244.5,805.0 245.2,804.9 245.9,803.0 247.5,802.2 247.0,802.5 248.9,800.6 248.8,800.6 250.5,800.2 250.3,799.7 251.6,798.7 252.6,798.1 252.7,796.8 253.3,796.4 254.6,795.9 255.1,795.2 256.5,794.9 257.5,795.6 258.3,794.9 258.4,795.5 259.3,795.9 260.4,796.8 262.8,796.9 263.1,797.2 263.5,797.2 264.8,798.0 266.2,797.3 266.9,798.1 268.2,798.4 269.5,798.0 269.9,798.5 270.6,799.4 272.2,798.9 273.6,799.1 274.1,799.5 276.1,798.3 276.6,798.6 277.3,798.4 278.7,799.2 279.0,800.4 279.6,800.6 281.7,801.7 282.3,801.7 282.6,802.5 283.3,803.9 283.6,803.5 285.4,804.5 286.0,806.2 286.4,806.3 287.1,808.3 286.7,808.4 286.6,810.2 287.5,810.1 287.7,812.1 288.2,812.2 288.8,814.5 288.7,815.4 289.7,815.8 288.8,817.4 289.0,817.2 290.1,819.0 289.7,820.6 289.2,820.3 289.8,822.6 290.4,823.0 289.8,824.5 289.7,825.5 289.4,825.8 289.7,827.1 289.6,828.3 288.7,828.9 288.4,830.7 289.9,831.0 288.5,830.5 286.8,830.0 287.0,828.8 286.7,828.8 284.8,828.5 284.0,828.0 283.3,826.4 283.3,826.3 282.8,824.8 281.3,825.7 280.6,824.6 278.6,824.8 277.5,823.1 276.4,823.2 276.4,822.2 274.8,822.5 273.3,822.3 272.5,821.7 272.0,821.5 271.6,822.7 269.9,821.5 269.1,821.9 267.4,822.0 266.8,820.9 266.3,821.7 265.1,820.8 264.0,821.4 263.7,821.1 262.1,822.0 260.8,820.9 259.3,821.1 258.6,821.2 257.4,820.8 257.1,821.4 256.4,820.9 255.0,821.9 254.1,821.9 252.4,821.2 251.3,822.3 250.6,821.0 250.3,821.4 248.8,821.7 247.3,821.9 247.3,822.5 245.6,822.3 244.8,822.7 243.0,821.5 242.5,821.4 241.2,821.2 240.1,820.8 238.5,820.6 237.5,821.0 236.9,820.7 236.8,818.3 236.7,818.4 236.4,817.1 236.2,815.9 235.7,815.6" fill="#aecbf2" stroke="#34508a" stroke-width="0.6" stroke-linejoin="round" opacity="1"/>
<polygon points="255.7,822.0 257.3,821.5 257.7,820.8 259.1,820.7 260.1,821.0 261.1,819.9 262.0,819.5 263.4,819.3 264.5,818.8 265.2,819.0 266.8,819.1 267.4,818.8 268.2,818.4 269.9,818.9 270.5,818.6 271.3,818.3 272.6,817.7 273.5,817.8 275.1,818.4 276.0,818.7 276.9,818.2 277.9,818.8 279.5,818.6 280.6,819.2 281.1,819.9 282.8,819.5 283.1,820.1 283.8,820.9 284.9,822.0 285.5,822.3 286.2,822.9 287.2,823.8 288.0,824.4 289.2,825.7 289.2,826.9 289.9,827.9 289.5,829.1 290.0,830.0 290.0,831.5 288.8,830.8 287.3,830.7 286.4,830.3 285.5,829.7 284.4,829.1 283.4,828.3 282.9,827.6 281.4,827.3 281.0,827.0 279.8,825.9 278.8,825.7 277.3,825.4 276.9,824.5 275.7,824.9 275.3,824.2 273.6,824.1 273.1,823.0 271.8,823.4 271.3,822.4 269.9,822.5 269.0,822.8 268.1,822.4 266.5,822.2 265.4,822.4 264.9,822.3 263.3,822.2 262.5,821.9 261.3,821.7 260.3,822.3 259.1,821.8 258.5,821.4 257.4,822.2" fill="#7c3458" stroke="none" stroke-width="0" stroke-linejoin="round" opacity="1"/>
<polygon points="282.7,701.0 283.0,702.3 284.7,701.3 286.1,700.9 286.8,699.2 287.4,700.0 289.0,700.0 290.0,701.0 290.1,699.4 292.1,700.6 293.1,699.6 293.3,701.1 293.7,702.7 295.6,703.5 296.0,703.9 295.0,706.1 295.7,706.3 295.5,707.1 296.2,707.5 296.3,709.2 296.8,711.0 296.6,710.7 296.9,711.6 296.8,713.3 296.9,713.9 295.8,715.9 296.5,717.3 297.7,718.4 297.5,718.6 297.0,718.6 297.8,721.1 296.3,720.5 297.7,722.3 297.3,724.0 297.1,725.0 297.6,726.0 297.3,727.5 298.3,727.4 297.6,728.5 298.8,729.5 297.8,731.5 297.8,731.4 298.4,733.0 298.8,734.1 297.9,734.9 299.1,736.7 298.0,737.8 297.9,738.5 298.1,738.0 299.2,740.6 299.5,740.4 298.4,742.9 299.6,743.6 298.2,744.0 298.3,744.7 298.4,746.4 299.8,746.6 299.4,747.7 300.1,749.1 299.7,749.7 299.5,751.7 299.4,753.4 299.8,752.8 300.4,754.2 300.8,754.8 300.5,756.5 300.5,758.5 299.6,758.0 300.5,759.9 300.8,760.9 300.7,761.2 300.0,762.9 300.9,764.5 301.4,765.3 301.5,766.0 301.8,767.5 300.3,767.4 300.2,769.5 300.6,770.3 300.5,770.7 300.5,771.3 301.8,772.1 301.9,774.9 302.0,775.1 300.6,776.2 302.1,777.1 302.1,777.5 301.8,779.8 300.9,781.1 302.0,781.3 302.8,783.0 301.7,782.9 302.2,784.0 301.9,786.1 301.5,786.0 300.7,786.7 302.2,788.9 302.2,789.3 301.5,790.4 302.0,792.3 300.9,793.5 301.0,793.3 300.7,794.2 300.3,795.6 300.5,796.3 300.8,797.2 300.6,798.5 300.8,799.8 301.2,800.7 301.2,803.1 300.7,802.4 299.6,804.0 297.3,804.9 296.5,805.4 297.1,805.3 296.3,806.4 295.1,805.9 293.6,805.6 291.1,806.6 290.8,806.1 289.8,806.7 289.1,805.3 288.3,805.8 286.2,804.7 285.8,804.5 284.6,805.1 284.3,803.0 283.9,802.5 283.0,803.3 281.3,801.4 281.0,801.3 278.8,800.3 279.9,799.0 278.0,798.3 277.7,797.8 276.5,797.0 276.1,796.1 275.5,796.3 276.3,794.2 274.0,794.3 274.3,793.3 274.6,792.5 273.3,791.6 272.8,789.3 272.9,789.4 272.8,789.0 271.4,786.8 271.3,786.4 270.5,785.2 271.0,783.7 270.6,783.9 270.8,781.4 270.2,781.4 269.8,781.3 268.9,778.6 270.4,777.7 269.0,776.5 269.6,776.7 269.6,774.6 267.9,773.5 268.4,772.5 268.8,771.9 268.4,770.5 267.5,769.7 267.0,769.1 267.7,767.2 267.1,767.7 267.1,765.5 267.3,765.7 266.0,763.7 267.6,763.8 266.9,762.9 267.3,761.5 266.3,760.6 266.0,758.7 265.6,758.1 265.1,756.7 266.3,755.7 265.6,754.9 265.1,753.1 266.2,753.1 265.7,751.0 265.9,750.2 265.1,750.0 266.1,748.3 264.3,748.3 265.4,745.5 265.7,744.8 265.9,743.4 265.4,743.0 265.2,741.7 264.7,741.0 266.6,739.5 265.9,738.3 265.4,738.4 265.8,735.8 266.3,734.8 267.0,733.9 267.1,732.7 267.3,733.4 266.3,731.9 267.4,731.4 266.7,728.6 268.3,729.0 267.9,727.4 268.3,727.0 268.1,726.3 269.1,724.6 270.2,722.7 269.1,722.3 270.2,721.5 270.0,720.1 271.7,719.1 271.9,719.1 270.8,718.3 272.6,717.2 272.0,716.2 271.9,714.3 273.0,714.2 273.8,712.8 274.9,710.9 275.0,711.2 274.7,708.6 274.8,709.0 276.4,708.2 277.2,706.5 277.2,706.7 278.2,705.4 280.4,704.9 279.9,704.4 280.7,703.5" fill="#1c5f33" stroke="#2a2a2a" stroke-width="0.6" stroke-linejoin="round" opacity="1"/>
<path d="M267.2 739.6h0M270.8 753.2h0M276.3 746.8h0M279.8 777.8h0M280.1 785.5h0M281.2 766.8h0M268.1 764.0h0M275.1 716.2h0M278.0 778.9h0M279.5 725.2h0M266.5 759.3h0M275.2 773.0h0M280.3 770.8h0M278.9 746.1h0M279.7 735.6h0M281.9 786.1h0M280.1 708.5h0M276.9 763.0h0M274.9 762.4h0M276.9 719.8h0M269.2 742.9h0M267.6 764.4h0M269.6 765.3h0M276.2 764.1h0M279.9 758.5h0M272.5 736.1h0M274.8 768.0h0M275.1 788.8h0M272.8 742.9h0M275.8 790.3h0M277.6 766.0h0M281.4 716.9h0M281.7 729.8h0M275.4 735.1h0M274.2 779.7h0M279.2 715.7h0M273.2 735.7h0M271.6 745.7h0M270.5 757.9h0M279.4 712.5h0M277.4 746.2h0M268.4 760.2h0M275.3 731.2h0M277.6 775.1h0M270.0 765.2h0M275.3 791.2h0M272.1 733.1h0M281.3 725.6h0M272.6 783.7h0M272.7 719.9h0M275.5 747.2h0M279.0 730.8h0M276.7 753.3h0M281.9 723.3h0M280.7 790.4h0M267.4 764.5h0M272.6 760.1h0M272.9 781.0h0M274.5 782.3h0M269.4 773.4h0M273.2 726.9h0M276.2 780.9h0M279.2 735.8h0M276.4 777.3h0M272.2 736.8h0M268.5 762.1h0M278.0 731.9h0M272.8 751.2h0M269.0 745.1h0M266.8 731.9h0M280.4 759.6h0M272.2 757.5h0M266.8 755.1h0M279.1 719.7h0M281.1 736.2h0M273.4 746.7h0M271.1 759.7h0M275.7 728.7h0M268.7 747.5h0M280.3 726.4h0M274.0 736.1h0M266.5 758.7h0M277.0 724.7h0M270.3 747.8h0M279.2 749.1h0M272.4 765.0h0M272.1 752.7h0M269.6 767.6h0M280.3 781.6h0M266.8 735.5h0" stroke="#6f9a7d" stroke-width="1.0" stroke-linecap="round" opacity="0.7"/>
<polygon points="228.1,745.8 228.9,744.3 230.7,743.6 230.5,742.6 231.5,742.5 232.9,741.4 233.8,741.6 233.9,740.6 235.0,740.2 235.7,738.2 236.2,738.8 236.2,737.2 238.3,736.3 238.1,735.4 239.6,736.1 240.1,734.0 240.3,734.6 242.0,735.7 243.5,736.7 243.9,736.0 245.7,735.7 245.5,735.4 247.1,734.1 247.8,732.7 247.8,732.2 249.2,731.7 250.3,731.5 250.3,730.8 251.5,730.2 252.0,729.6 252.8,729.3 254.2,727.8 253.9,726.9 255.5,725.8 256.5,725.6 256.6,724.9 258.0,724.2 259.0,723.4 259.6,722.4 260.0,721.5 260.7,720.9 261.7,721.8 262.0,722.1 263.9,722.3 264.5,721.0 266.3,721.3 265.6,722.4 265.4,723.5 265.6,725.4 265.9,726.3 265.2,726.1 266.5,727.2 266.3,728.1 265.6,730.5 266.5,731.6 265.4,732.2 266.2,733.0 265.4,733.9 265.3,734.7 265.9,736.1 266.6,737.6 266.2,737.2 267.0,738.6 266.1,740.4 265.6,741.5 266.9,742.7 266.7,742.9 267.1,744.5 267.0,744.5 266.5,746.1 266.8,746.4 265.8,747.5 265.1,747.7 264.3,749.0 263.4,748.3 262.1,749.0 262.0,750.1 260.8,750.7 259.9,749.8 258.2,750.6 257.5,751.4 256.8,751.9 255.0,751.4 254.9,752.6 254.5,752.3 252.2,751.1 252.5,750.6 251.6,751.9 249.7,751.0 249.5,750.5 248.1,751.3 246.9,750.3 245.6,750.6 244.8,750.5 243.2,750.0 242.7,750.2 242.5,749.9 241.2,749.7 240.6,749.9 239.5,748.4 237.5,748.3 236.8,747.6 236.5,747.4 235.9,748.0 234.9,746.8 233.1,747.7 232.5,746.2 231.0,745.8 230.8,746.3 229.7,745.5" fill="#eba9d9" stroke="#444" stroke-width="0.6" stroke-linejoin="round" opacity="1"/>
<path d="M261.5 745.4h0M261.2 728.0h0M255.8 741.7h0M255.7 733.1h0M248.0 742.4h0M257.9 729.2h0M254.1 746.8h0M262.0 745.1h0M258.7 744.3h0M262.8 726.6h0M263.2 732.2h0M259.5 740.3h0M249.1 738.5h0M263.1 741.6h0M247.9 743.5h0M264.1 738.5h0M251.4 737.9h0M253.6 737.8h0M257.9 740.7h0M246.3 741.6h0M255.1 748.6h0M252.8 741.1h0M251.9 735.8h0M250.3 735.3h0M261.2 737.8h0M254.8 734.0h0M264.4 743.2h0M251.0 737.0h0M248.2 744.6h0M254.7 743.8h0M264.5 746.7h0M249.9 748.3h0M262.0 734.5h0M261.5 728.0h0M257.0 736.3h0" stroke="#d0409f" stroke-width="1.2" stroke-linecap="round" opacity="0.9"/>
<polygon points="270.7,712.2 271.6,712.3 272.8,713.3 274.1,713.6 274.1,713.8 275.1,713.4 275.3,714.9 276.5,716.1 276.4,716.9 277.0,717.4 276.6,719.5 277.1,720.1 277.5,721.5 277.3,721.8 278.6,722.7 278.0,724.6 277.8,725.5 278.3,726.6 278.5,728.0 278.8,728.6 278.3,729.7 278.0,730.1 278.1,732.2 278.3,732.5 278.2,734.3 278.8,735.5 277.8,736.3 279.1,737.1 278.6,738.0 279.2,739.4 279.2,740.4 279.0,741.3 279.5,742.3 279.0,743.2 279.8,743.9 280.2,744.7 280.2,745.3 280.6,747.4 281.0,747.8 281.2,749.5 280.4,749.4 281.5,750.5 281.6,752.1 281.0,752.9 281.9,753.7 282.2,754.4 281.7,755.9 282.0,757.2 282.7,758.7 282.9,759.5 282.7,760.3 282.9,761.8 281.7,761.6 280.6,761.8 279.9,762.7 278.8,761.7 277.9,760.9 277.7,759.9 277.7,758.3 276.5,757.3 276.5,757.1 275.8,756.3 275.5,755.3 274.4,753.9 274.8,753.1 274.2,752.3 273.6,751.5 273.1,749.6 273.1,748.6 273.1,747.6 272.2,748.3 271.2,748.0 269.5,747.4 269.1,747.5 267.6,747.2 266.1,746.9 265.9,745.9 266.1,744.5 266.3,744.1 265.5,743.1 265.6,741.9 266.1,740.2 265.4,738.8 266.3,738.9 265.3,737.1 265.8,736.8 266.1,735.6 265.9,733.7 266.3,733.7 266.5,732.6 267.7,730.6 267.0,730.0 267.7,729.3 268.0,728.1 268.9,726.8 268.4,725.8 268.3,724.7 269.4,724.0 269.0,722.7 269.1,722.1 269.0,720.8 269.7,720.2 269.9,718.3 270.2,718.1 269.7,716.8 269.4,715.0 269.7,715.0 270.1,714.0" fill="#7d3b6c" stroke="#3a2a3a" stroke-width="0.5" stroke-linejoin="round" opacity="1"/>
<path d="M275.6 722.4h0M278.9 759.0h0M270.0 737.4h0M273.4 739.0h0M278.4 742.7h0M271.7 738.8h0M274.3 720.1h0M275.1 741.2h0M269.0 745.0h0M269.5 743.0h0M271.4 740.5h0M282.1 757.3h0M266.5 741.3h0M266.5 745.9h0M281.3 761.7h0M266.2 743.3h0M270.4 720.9h0M277.5 737.8h0M271.4 731.1h0M266.2 736.9h0M269.5 740.0h0M274.5 727.2h0M275.0 738.2h0M268.8 726.5h0M278.0 755.6h0M279.9 756.4h0M274.8 728.5h0M271.0 734.3h0M273.0 730.1h0M274.3 735.2h0M269.3 726.6h0M270.1 724.3h0M267.8 736.1h0M276.8 736.8h0M269.7 743.3h0M271.5 725.7h0M268.0 734.2h0M277.6 733.9h0M269.4 729.6h0M274.3 723.9h0" stroke="#a03a8a" stroke-width="1.3" stroke-linecap="round" opacity="0.8"/>
<polygon points="271.0,697.0 272.2,698.4 273.1,699.1 273.4,700.8 273.0,701.7 272.9,702.7 273.4,703.2 272.8,704.7 272.0,705.2 272.8,706.7 272.0,707.4 271.9,708.9 272.9,710.2 272.0,710.7 272.5,712.1 272.2,713.3 271.9,713.8 271.1,714.3 271.1,715.5 271.8,717.1 270.8,717.6 270.5,719.4 270.8,719.5 271.2,721.3 270.2,721.7 270.4,723.3 269.7,724.5 269.6,724.7 269.9,726.0 268.5,727.5 268.4,728.4 268.8,729.2 266.5,729.4 265.8,727.9 265.3,726.8 265.5,726.7 265.8,725.6 266.8,724.5 266.7,722.7 266.3,722.3 266.7,720.7 267.1,719.9 266.4,718.6 267.0,718.1 267.3,716.5 267.0,715.4 266.8,714.3 267.0,712.9 268.0,711.8 267.2,711.8 268.3,709.7 268.0,709.5 267.7,708.0 268.3,707.2 267.8,705.7 268.3,705.0 268.1,704.8 268.7,703.4 268.9,702.4 269.8,701.4 269.4,700.5 270.0,699.4 270.4,698.2" fill="#c8079c" stroke="none" stroke-width="0" stroke-linejoin="round" opacity="1"/>
<polygon points="275.9,791.3 275.8,790.4 275.9,789.1 276.6,788.9 277.0,787.3 278.2,787.3 279.2,787.9 279.8,787.9 280.5,787.2 280.8,788.1 281.3,789.6 282.1,790.2 281.7,791.7 282.5,792.5 283.1,793.5 283.2,794.4 283.6,795.8 283.4,797.1 284.1,797.6 284.7,799.3 284.6,800.1 285.0,801.1 285.5,802.4 286.2,802.8 286.4,804.1 286.1,805.2 286.8,805.7 287.3,806.9 288.2,807.6 287.9,808.7 288.1,809.8 288.8,811.1 289.2,812.2 289.7,812.7 289.8,813.7 290.9,814.4 291.1,815.3 291.7,816.2 291.9,817.6 292.8,818.4 292.8,819.6 292.7,820.4 293.4,821.4 294.0,822.3 294.0,822.8 294.7,823.8 295.1,825.1 295.2,826.4 295.1,826.9 295.8,827.8 296.0,829.1 297.0,830.0 297.2,830.8 296.8,831.7 297.3,833.1 296.6,833.7 295.8,835.0 295.7,835.4 295.5,836.3 293.8,836.2 293.3,835.5 292.1,835.5 290.8,835.4 290.2,834.2 290.3,833.2 289.9,832.1 289.7,831.2 289.3,829.8 288.8,829.3 288.5,827.7 287.5,827.1 287.3,826.1 287.1,825.2 287.0,824.3 286.7,822.8 286.3,822.3 285.1,820.7 285.7,819.6 284.9,819.3 284.4,817.7 284.3,817.5 284.2,815.9 283.0,814.6 282.5,814.1 282.2,813.4 281.8,812.0 281.9,811.0 281.5,810.0 280.8,809.0 280.8,807.9 280.3,807.1 279.7,806.3 279.2,805.4 278.5,803.7 277.7,803.2 277.1,801.8 276.9,800.5 277.5,799.5 277.1,798.9 277.0,797.8 276.7,796.3 275.8,795.3 275.8,795.0 275.7,793.7 275.6,792.4" fill="#1b6fe6" stroke="none" stroke-width="0" stroke-linejoin="round" opacity="1"/>
<circle cx="279" cy="791" r="3.2" fill="#1b6fe6" stroke="#2050a0" stroke-width="0.4"/>
<polygon points="284.6,850.0 286.7,849.6 287.1,849.9 288.6,849.3 288.4,848.8 290.8,850.0 291.3,849.6 291.7,849.7 293.5,849.2 294.7,848.9 295.6,849.2 296.7,849.0 297.6,848.7 298.2,849.2 298.9,849.4 300.3,848.6 300.7,848.9 302.3,849.4 302.5,849.2 304.2,849.4 305.2,849.4 305.5,849.4 306.5,849.7 308.2,849.1 309.6,849.0 310.1,849.9 310.5,849.4 311.9,851.1 311.9,851.1 311.7,852.6 311.3,853.9 311.5,855.4 312.4,855.8 312.1,857.7 312.7,858.1 313.2,859.5 313.9,859.3 313.4,860.4 314.0,862.3 314.3,863.6 314.0,864.1 314.3,864.5 313.6,865.9 314.9,866.8 314.7,868.5 314.8,869.2 313.9,870.3 311.7,871.1 310.5,870.3 310.5,869.7 309.3,870.8 308.0,869.5 307.6,869.4 306.5,869.7 305.0,869.5 303.9,870.6 302.4,870.1 302.8,870.4 300.5,869.1 300.8,868.7 299.4,869.9 298.7,869.9 296.4,869.6 295.6,870.1 295.6,869.8 294.8,870.3 293.0,868.8 291.2,869.0 290.6,869.4 290.5,869.7 288.2,870.0 287.9,870.0 287.4,869.6 286.4,868.9 285.5,866.8 286.3,866.0 285.9,865.7 285.8,863.3 285.2,863.2 285.3,861.3 285.1,860.9 285.1,860.3 285.4,859.7 284.7,858.5 285.0,857.0 285.1,856.4 285.1,854.1 284.1,854.5 285.5,852.0 285.1,851.6 285.6,851.3" fill="#29309b" stroke="#1a1f60" stroke-width="0.6" stroke-linejoin="round" opacity="1"/>
<ellipse cx="297.7" cy="862.1" rx="3" ry="2.2" fill="#2b8a7a"/>
<circle cx="301.4" cy="862" r="3" fill="#3ede3e" stroke="#1a4a1a" stroke-width="0.5"/>
<ellipse cx="279.5" cy="861.4" rx="3" ry="1.5" fill="#3ede3e"/>
<text x="113.5" y="824.9" text-anchor="middle" font-size="10.8" font-weight="bold" fill="#111">1</text>
<path d="M110.1 826.6H117.1M117.1 826.6L134.3 838.9" stroke="#111" stroke-width="1.2" fill="none"/>
<text x="191.1" y="818.9" text-anchor="middle" font-size="10.8" font-weight="bold" fill="#111">2</text>
<path d="M188 820.6H197.2M197.2 820.6L212.3 832.2" stroke="#111" stroke-width="1.2" fill="none"/>
<text x="244.3" y="705.8" text-anchor="middle" font-size="10.8" font-weight="bold" fill="#111">3</text>
<path d="M241 707.5H248.5M248.5 707.5L265.7 720.4" stroke="#111" stroke-width="1.2" fill="none"/>
<text x="310" y="802.8" text-anchor="middle" font-size="10.8" font-weight="bold" fill="#111">4</text>
<path d="M306 804.5H314M306 804.5L291.5 822" stroke="#111" stroke-width="1.2" fill="none"/>
<text x="281.5" y="876" text-anchor="middle" font-size="10.8" font-weight="bold" fill="#111">5</text>
<path d="M278 877.7H285.3M285.3 877.7L300 864" stroke="#111" stroke-width="1.2" fill="none"/>
<text x="318.5" y="747.4" text-anchor="middle" font-size="10.8" font-weight="bold" fill="#111">6</text>
<path d="M315 749.1H322.4M315 749.1L300 763.9" stroke="#111" stroke-width="1.2" fill="none"/>
<text x="320.1" y="835.5" text-anchor="middle" font-size="10.8" font-weight="bold" fill="#111">7</text>
<path d="M316 837.2H325M316 837.2L301.4 851.2" stroke="#111" stroke-width="1.2" fill="none"/>
<polygon points="414.5,779.6 414.8,779.2 415.7,778.8 417.8,777.7 418.3,776.9 419.0,777.4 420.3,776.9 421.0,776.8 422.1,775.8 423.1,776.3 424.0,776.4 425.4,776.0 426.8,775.3 427.1,775.6 428.4,774.2 429.9,775.2 431.6,774.7 432.5,773.4 432.8,773.7 434.8,774.2 435.0,774.0 435.8,772.9 437.8,772.6 437.0,771.1 439.0,770.5 440.0,770.1 441.0,769.2 441.3,769.5 441.9,769.8 442.8,769.5 444.4,769.7 445.8,769.0 446.8,768.9 448.1,769.5 448.1,769.5 448.9,770.1 451.0,769.2 451.5,769.8 452.6,770.1 453.0,770.5 454.0,770.3 455.9,770.1 456.4,771.0 457.5,771.4 458.4,771.5 460.9,771.1 461.5,770.6 462.0,771.5 464.3,771.3 464.8,771.1 465.9,770.6 466.6,771.6 468.4,771.7 468.6,772.8 470.1,772.0 470.7,772.0 471.4,773.7 472.6,773.7 473.3,774.1 475.8,774.4 476.0,773.7 477.6,774.1 477.7,772.9 478.9,774.2 480.0,773.3 481.6,772.9 482.0,774.1 483.0,774.0 485.3,774.5 486.2,774.6 486.4,774.7 487.1,774.7 488.5,773.3 489.9,774.7 491.6,774.3 491.8,773.7 492.3,774.4 494.1,774.7 494.6,774.1 495.8,774.6 497.8,773.9 498.6,774.5 499.1,774.9 500.5,774.7 501.6,774.9 501.6,774.9 502.4,775.4 504.1,775.2 504.4,774.9 506.7,775.7 507.9,774.6 508.5,775.9 509.0,775.3 509.6,774.7 510.8,774.8 513.1,775.0 512.8,776.3 514.9,775.7 516.4,776.2 517.2,775.8 517.8,775.7 518.5,776.3 519.9,777.3 521.3,777.6 521.4,777.4 521.2,778.4 520.1,779.6 519.2,780.0 517.8,780.7 517.0,780.9 516.3,780.1 513.6,780.9 514.1,781.3 512.7,781.6 511.7,781.9 509.5,780.8 509.7,780.9 508.7,781.3 507.7,781.6 506.6,782.1 504.4,782.7 503.1,781.7 502.8,781.8 501.3,782.9 501.0,782.1 499.6,783.1 499.0,782.3 497.2,783.1 497.2,783.6 495.7,784.0 493.5,784.2 492.9,784.3 492.7,784.2 490.5,784.0 489.4,783.4 489.1,783.9 488.4,784.7 486.3,783.7 485.7,785.1 484.2,784.3 484.0,784.5 483.4,784.7 481.0,785.4 481.3,785.4 480.0,784.6 479.1,785.4 478.4,785.0 476.4,785.6 474.9,785.8 474.8,785.8 474.3,785.2 473.3,784.8 470.9,785.9 470.1,786.0 469.3,784.7 467.7,785.5 468.0,785.7 465.9,784.9 465.6,786.1 463.8,784.9 462.9,785.7 462.9,784.6 461.7,786.1 460.0,785.5 458.5,785.2 458.8,784.8 456.8,785.4 456.2,785.2 455.2,784.5 453.8,784.5 452.5,785.3 452.1,784.6 450.7,785.0 449.6,785.3 449.0,784.8 447.0,785.3 446.7,784.9 445.4,784.9 445.1,784.5 443.1,784.0 443.3,785.1 442.3,785.4 439.8,784.3 439.4,784.4 438.9,785.0 437.2,784.1 436.7,784.5 435.1,784.3 434.3,784.2 433.2,784.8 433.1,784.8 431.3,783.9 430.3,784.7 428.9,784.1 427.7,784.4 426.7,783.6 426.8,782.7 425.2,783.9 423.5,782.7 423.8,782.3 422.1,782.7 421.0,783.0 419.7,783.3 418.5,782.7 417.3,782.5 416.2,782.0 415.2,780.9" fill="#d5c52b" stroke="#2a2a2a" stroke-width="0.6" stroke-linejoin="round" opacity="1"/>
<polygon points="438.6,770.2 439.8,770.1 440.7,770.0 441.4,770.0 443.1,769.7 443.6,770.2 445.1,769.7 446.1,769.8 447.1,770.1 448.2,770.3 449.1,770.1 450.1,770.1 450.7,770.6 451.5,771.0 453.4,770.7 454.4,770.6 455.0,771.1 456.0,770.9 456.9,770.9 457.6,770.8 459.1,770.9 459.7,771.5 460.7,771.5 462.2,771.3 462.9,771.9 463.6,771.3 464.6,772.1 466.3,772.5 467.1,772.8 468.1,773.1 469.0,773.3 468.3,773.0 467.4,772.8 466.0,773.6 464.7,773.2 464.4,773.0 462.8,773.0 462.2,773.3 461.0,773.6 460.1,773.5 458.8,773.6 458.2,773.0 456.6,773.5 455.8,773.9 455.2,773.6 453.7,773.7 453.4,773.5 452.0,773.8 451.0,773.8 450.1,773.4 449.0,773.6 447.9,773.1 447.1,773.6 445.8,773.5 444.8,773.4 443.7,773.3 443.2,773.7 441.7,773.3 441.1,773.8 440.3,773.2 439.8,772.1 438.9,771.2" fill="#ece59c" stroke="none" stroke-width="0" stroke-linejoin="round" opacity="1"/>
<polygon points="517.7,784.1 517.7,782.7 519.8,782.3 520.5,781.9 521.2,781.7 522.7,781.2 523.9,780.2 523.8,780.4 525.4,781.0 525.3,780.3 527.9,780.0 527.8,779.4 529.8,779.1 530.5,780.8 530.5,780.4 531.5,779.7 533.3,779.8 534.8,780.1 535.9,779.9 536.1,779.5 537.4,779.8 538.0,779.9 538.2,780.5 539.9,780.6 540.3,779.6 541.5,779.7 542.1,780.2 544.5,780.1 546.0,780.2 546.1,780.8 546.4,780.1 548.9,779.9 548.2,779.8 550.2,780.7 551.9,780.0 552.7,780.4 553.7,779.8 554.3,779.9 554.7,780.6 555.9,779.6 557.2,780.8 558.1,779.5 558.6,781.1 560.1,780.5 560.8,781.1 561.8,780.4 562.4,780.0 564.4,781.5 565.0,781.4 565.7,781.4 566.8,780.9 568.6,781.6 568.1,781.1 570.4,780.3 570.5,782.1 572.9,780.8 572.6,781.4 573.6,782.2 574.8,781.0 576.6,782.1 576.9,781.9 577.4,781.8 578.3,781.9 579.3,782.1 581.7,781.4 581.1,782.3 583.9,782.8 584.7,782.0 585.7,782.6 585.1,782.7 587.3,783.0 588.6,782.4 588.2,782.9 589.7,782.1 590.9,783.1 592.4,783.5 592.8,783.0 593.5,783.4 595.3,783.7 595.6,782.5 597.4,783.4 598.6,783.1 598.4,784.1 601.0,783.6 601.4,784.6 602.6,784.4 602.1,784.8 603.3,784.5 604.4,784.2 606.8,785.1 607.2,785.0 609.0,784.4 608.6,785.1 610.5,785.6 611.0,784.8 613.2,785.0 613.3,784.7 615.0,785.8 615.5,786.5 616.0,785.7 618.0,785.7 619.4,786.0 620.0,787.9 620.1,787.6 620.5,789.0 621.9,789.4 622.7,789.8 623.2,791.7 622.2,791.4 621.7,793.0 619.3,793.0 620.4,793.6 618.0,796.0 617.7,796.3 617.6,795.0 615.6,794.9 614.6,795.9 614.3,796.0 612.0,795.5 611.0,795.4 610.1,795.1 609.2,795.5 607.8,794.9 607.6,796.4 607.2,796.2 605.1,795.7 603.9,795.1 603.0,795.5 602.9,795.5 602.3,795.6 600.5,796.7 599.4,795.1 598.9,795.9 597.2,795.9 597.0,796.0 595.8,796.4 593.9,795.6 592.8,796.4 592.0,796.5 590.6,795.2 589.9,796.3 589.8,794.5 588.6,794.5 586.7,794.6 585.6,794.5 585.7,794.2 584.8,794.5 583.5,794.0 581.8,794.1 581.3,794.4 579.7,795.1 580.0,794.4 579.3,794.0 577.8,794.5 576.6,793.7 575.2,793.7 573.7,794.4 574.4,793.8 572.3,793.2 572.3,793.4 569.8,793.0 569.2,792.2 568.9,792.3 567.2,793.0 566.9,792.9 565.1,791.7 565.1,792.1 563.5,792.9 561.6,792.0 561.7,792.6 560.3,791.1 558.9,791.6 557.6,791.2 556.9,791.6 556.7,790.5 554.7,790.6 555.0,790.7 554.1,789.8 551.6,790.0 551.7,790.5 550.1,789.2 549.0,789.4 548.4,790.1 547.6,789.5 546.6,789.0 545.3,788.8 545.3,789.7 543.1,789.3 542.2,788.6 541.3,788.4 539.9,789.4 539.7,788.1 538.7,788.5 537.9,787.4 537.0,787.8 536.4,789.0 534.4,788.1 534.3,786.9 532.9,788.1 531.3,788.3 531.3,786.5 530.1,787.7 528.2,786.5 527.7,787.4 526.2,786.7 524.8,786.2 523.9,786.8 522.8,786.6 523.1,786.9 522.5,786.8 520.0,786.4 519.9,786.0 519.6,784.4 517.9,783.7" fill="#b41a1a" stroke="#2a2a2a" stroke-width="0.6" stroke-linejoin="round" opacity="1"/>
<polygon points="603.3,801.6 605.5,802.6 606.0,800.6 606.1,801.3 608.1,800.6 609.7,799.8 610.3,798.5 611.7,798.7 611.7,798.5 613.1,798.5 613.2,797.7 615.6,798.0 615.6,796.9 617.3,797.7 617.2,796.1 619.6,796.4 619.2,797.4 620.0,797.4 622.1,795.4 623.3,796.8 624.1,796.6 625.8,796.3 626.3,797.8 627.8,796.6 629.0,797.8 628.1,797.5 629.1,797.5 629.8,799.2 631.3,799.1 630.6,799.9 631.7,801.9 632.8,803.3 632.8,803.6 632.6,804.8 633.8,806.5 634.0,806.7 634.5,807.0 633.5,808.0 633.5,809.0 634.2,810.1 633.4,811.9 633.9,813.5 632.7,814.3 632.7,814.5 632.4,815.8 633.3,816.8 632.2,817.9 631.7,819.3 632.7,820.0 633.3,821.7 631.0,821.3 630.6,821.9 630.7,822.7 630.1,825.4 630.9,824.8 629.8,825.8 628.6,827.1 629.6,828.7 628.1,828.3 627.0,830.1 626.8,831.4 626.6,831.0 626.2,833.2 625.4,833.7 626.1,835.3 623.7,835.1 623.4,834.3 622.9,835.8 622.3,835.8 620.9,837.5 619.0,837.1 619.3,837.7 617.9,838.5 617.2,838.8 616.0,838.9 614.0,837.6 613.0,838.4 613.7,837.5 611.5,836.6 612.1,836.7 609.3,835.7 609.3,836.7 606.9,836.0 606.9,834.4 606.5,834.9 604.9,833.5 605.8,832.3 603.6,832.1 604.4,829.8 604.2,830.6 601.8,829.3 602.7,829.1 601.7,828.0 601.1,826.2 599.7,825.8 599.8,824.0 598.4,822.9 597.8,822.7 597.5,823.0 596.9,821.6 596.4,819.8 595.7,818.9 596.5,817.3 596.3,818.0 597.1,817.1 595.3,815.7 596.3,813.5 597.6,812.0 597.5,811.5 597.1,811.7 596.6,808.9 598.5,808.0 598.8,807.0 599.7,807.7 599.0,806.3 600.7,805.7 601.1,805.7 602.6,804.2 603.1,803.1 604.1,802.8" fill="#1c5f33" stroke="#2a2a2a" stroke-width="0.6" stroke-linejoin="round" opacity="1"/>
<polygon points="615.3,780.2 615.0,779.5 615.0,778.8 615.1,776.5 616.2,775.7 616.8,775.8 617.3,775.5 618.4,773.9 618.8,774.4 621.0,773.0 620.5,773.2 621.2,771.5 623.1,772.3 623.7,770.7 624.9,770.8 625.5,770.1 627.4,770.4 627.4,769.6 629.0,769.8 630.0,770.1 631.8,770.0 631.6,769.4 632.6,769.6 633.8,769.3 635.6,768.8 635.4,769.1 636.8,768.9 637.9,769.4 639.0,770.0 640.5,770.0 640.9,770.1 641.8,771.1 642.2,772.2 643.6,772.4 642.9,773.8 643.9,774.7 645.0,774.7 644.6,775.9 645.1,775.7 645.5,778.4 645.2,779.1 646.0,780.4 645.6,781.4 644.4,781.2 643.1,782.7 642.6,784.4 641.7,783.6 641.6,783.0 640.2,783.6 639.6,783.1 637.8,783.9 637.5,784.6 636.2,783.6 635.5,783.3 633.2,784.1 633.0,784.0 631.7,784.7 631.3,784.7 629.7,784.0 628.8,784.0 628.0,783.3 627.6,784.5 625.9,783.3 625.2,784.5 624.1,784.0 623.6,784.6 622.6,783.3 620.4,784.3 619.8,783.7 619.0,783.2 617.9,784.4 617.2,784.1 616.2,784.2 615.9,783.2 615.0,781.5" fill="#29309b" stroke="#1a1f60" stroke-width="0.6" stroke-linejoin="round" opacity="1"/>
<circle cx="632.3" cy="770.5" r="2.9" fill="#3ede3e" stroke="#1a4a1a" stroke-width="0.6"/>
<ellipse cx="610.7" cy="770.2" rx="2.2" ry="1.2" fill="#3ede3e"/>
<ellipse cx="625.6" cy="768.6" rx="1.6" ry="1.2" fill="#3ede3e"/>
<polygon points="563.3,662.4 563.0,661.3 563.1,661.4 564.5,659.2 564.8,658.7 566.2,657.4 566.7,658.0 568.2,657.9 569.2,656.7 570.4,657.4 570.2,657.3 571.5,657.6 572.5,656.2 573.4,656.4 574.6,657.0 576.6,656.0 576.2,654.9 576.7,654.2 578.1,654.4 578.9,653.6 580.0,652.1 579.9,650.9 580.1,650.4 581.5,650.2 581.7,649.4 583.5,648.9 582.9,648.1 583.8,646.4 584.7,645.9 585.9,645.4 587.4,646.1 588.1,645.8 589.3,645.1 590.2,644.7 590.5,644.6 591.2,644.7 591.9,643.3 593.2,643.2 593.3,641.5 594.3,641.0 595.5,640.3 596.2,639.1 596.9,639.6 598.7,638.0 599.6,638.2 600.9,639.1 601.9,638.3 601.9,637.8 603.4,638.3 603.9,639.8 603.0,641.2 604.6,642.3 604.3,642.6 604.5,643.6 605.6,644.8 605.7,645.4 605.5,646.9 606.1,647.8 606.7,649.0 606.8,649.2 607.3,650.3 607.7,651.7 608.0,652.8 608.2,653.0 609.2,653.9 609.8,655.4 608.6,656.2 610.4,657.3 610.3,657.3 610.0,659.5 610.3,659.3 611.9,660.5 611.8,662.3 612.2,662.9 611.7,663.1 612.2,663.8 612.2,666.2 612.6,666.6 613.5,667.2 614.7,669.0 614.7,669.0 614.6,670.7 613.8,671.2 614.5,672.9 614.2,674.2 613.5,674.0 613.5,675.6 613.9,676.1 613.5,678.2 614.2,678.0 613.2,679.0 613.8,680.3 612.0,682.0 611.3,681.9 610.7,683.5 610.7,683.0 609.7,684.1 608.8,683.2 606.4,684.9 606.0,683.6 604.5,684.1 603.1,684.1 602.4,684.2 602.3,685.4 600.4,684.9 599.6,684.8 599.6,684.2 598.1,683.1 598.0,683.3 596.9,681.7 596.1,681.3 595.9,679.7 595.3,679.2 595.2,678.6 594.3,677.1 593.6,677.3 592.2,676.0 592.1,675.7 591.3,673.8 591.7,672.5 589.4,673.1 589.4,673.3 587.9,672.7 586.9,672.6 585.3,672.7 584.6,673.2 583.0,672.8 583.4,672.8 581.3,672.1 581.6,671.3 581.3,670.3 579.7,669.8 579.2,669.1 579.2,669.1 577.6,668.2 577.0,666.2 576.5,666.3 575.8,665.3 574.2,664.8 573.5,665.9 572.2,665.7 570.8,665.3 569.8,666.0 569.5,665.9 568.9,664.7 567.9,664.3 567.0,664.8 565.3,664.2 564.4,663.3 564.1,663.0" fill="#eba9d9" stroke="#444" stroke-width="0.6" stroke-linejoin="round" opacity="1"/>
<polygon points="599.9,618.7 600.8,620.2 601.7,621.3 601.8,621.8 601.7,623.4 602.1,623.7 602.1,625.4 602.8,626.4 603.0,627.1 602.6,628.1 602.8,628.6 603.1,629.7 603.1,630.9 603.6,631.9 602.9,632.6 603.0,633.7 603.8,635.4 603.5,636.1 603.6,636.9 604.2,637.9 604.0,638.6 603.9,640.0 604.0,641.2 604.3,641.9 605.0,643.0 604.5,643.7 605.1,644.7 604.0,645.9 603.4,646.3 601.8,646.1 600.5,647.5 600.4,646.4 600.4,645.3 600.2,643.7 599.4,643.1 598.6,642.4 598.5,641.1 597.6,640.4 598.3,639.4 598.3,637.8 597.7,637.2 597.6,635.9 598.3,634.7 597.9,633.5 597.5,632.8 598.5,632.2 598.4,630.9 597.9,629.7 598.4,629.4 598.4,628.3 598.6,627.5 598.4,625.9 599.0,625.1 598.8,624.3 598.7,623.4 599.8,622.3 599.7,620.9 600.2,620.1" fill="#c8079c" stroke="none" stroke-width="0" stroke-linejoin="round" opacity="1"/>
<path d="M606.2 673.7h0M599.0 643.7h0M607.5 671.5h0M612.9 672.5h0M605.4 646.5h0M605.1 648.6h0M611.9 675.0h0M599.6 647.7h0M608.8 677.5h0M603.0 643.9h0M607.2 676.3h0M610.5 677.6h0M605.1 668.8h0M609.0 666.8h0M607.5 653.9h0M603.9 649.9h0M605.4 641.8h0M609.5 673.4h0M609.4 664.8h0M599.2 645.6h0M605.2 643.8h0M600.7 648.8h0M604.7 648.3h0M611.4 666.0h0M604.1 668.0h0M604.4 670.4h0M603.5 646.7h0M601.6 647.3h0M602.7 643.1h0M600.6 657.6h0M609.5 659.2h0M601.6 646.2h0M607.5 669.6h0M609.7 660.5h0M603.9 663.6h0M604.2 644.9h0M605.7 661.1h0M610.7 664.2h0M607.3 653.2h0M606.3 661.5h0M599.3 641.4h0M602.6 647.8h0M602.9 667.3h0M605.8 648.0h0M603.3 668.8h0M607.0 661.0h0M611.1 664.4h0M612.2 673.9h0M603.8 662.9h0M609.9 667.3h0M606.2 658.9h0M598.2 645.1h0M606.4 674.7h0M603.6 640.6h0M607.2 659.2h0M608.8 679.7h0M607.9 664.1h0M604.5 660.6h0M604.7 655.4h0M608.5 664.3h0M600.0 656.3h0M609.9 677.7h0M611.7 664.5h0M600.1 641.0h0M611.8 665.9h0M604.0 642.1h0M609.1 651.9h0M601.6 642.7h0M598.4 647.8h0M603.1 659.7h0M600.7 648.0h0M609.1 659.6h0M601.7 643.4h0M604.7 647.3h0M599.5 655.4h0M606.3 663.6h0M607.5 655.3h0M602.3 664.2h0M605.5 669.1h0M606.2 675.5h0M609.7 673.6h0M602.7 642.2h0M610.1 666.9h0M609.4 659.0h0M609.3 669.7h0M599.0 653.5h0M607.5 647.4h0M611.2 679.8h0M601.4 657.3h0M607.1 654.1h0M604.4 661.5h0M608.8 669.1h0M608.1 649.9h0M612.2 678.6h0M610.1 655.2h0M603.7 648.4h0M612.7 667.8h0M606.7 677.8h0M612.0 666.8h0M601.0 660.8h0M608.5 681.0h0M600.7 653.7h0M602.1 648.7h0M605.3 669.5h0M607.7 650.5h0M611.3 680.2h0M604.8 654.5h0M599.1 645.4h0M607.5 681.4h0M601.5 646.8h0" stroke="#c8079c" stroke-width="1.2" stroke-linecap="round" opacity="0.85"/>
<path d="M576.8 662.2h0M574.4 667.5h0M581.7 662.3h0M580.6 659.8h0M575.3 658.5h0M582.8 655.9h0" stroke="#c8079c" stroke-width="1.2" stroke-linecap="round" opacity="0.9"/>
<polygon points="564.8,732.9 566.6,731.6 566.8,731.5 568.0,730.0 568.9,730.4 568.3,729.0 570.3,729.1 570.3,728.2 571.8,727.2 571.7,726.2 573.1,725.0 572.6,724.2 574.3,723.8 574.5,722.6 575.7,722.2 575.7,722.0 576.7,721.1 577.3,720.7 577.8,719.4 579.0,719.4 578.7,718.3 580.0,718.3 580.5,716.7 581.3,715.5 582.1,715.8 582.7,715.1 583.9,714.4 583.8,712.7 585.1,712.8 586.2,710.9 586.9,712.0 588.1,712.3 588.5,712.6 589.4,713.3 590.8,712.5 591.9,713.0 593.2,713.6 593.7,713.6 594.6,713.9 595.4,715.2 596.3,714.8 598.1,714.8 598.4,714.5 599.0,715.0 600.4,716.4 600.7,717.3 602.8,717.7 603.4,718.4 603.5,718.2 604.7,719.4 604.7,719.8 605.6,721.7 607.0,721.2 607.6,721.9 607.8,723.3 608.3,723.9 609.9,724.4 609.5,725.6 609.5,726.6 611.3,727.7 611.0,729.2 612.2,730.3 612.4,731.0 613.2,732.0 613.8,731.8 613.1,733.2 613.8,733.5 614.2,734.9 615.7,735.3 615.5,736.8 616.1,737.1 617.5,738.8 617.3,739.5 617.7,740.6 617.5,740.9 617.8,743.4 618.0,743.3 617.0,744.2 617.4,746.8 615.8,745.2 615.0,745.2 613.2,745.7 613.6,744.9 611.8,745.7 611.4,744.9 610.1,745.7 609.2,744.7 608.5,745.0 606.2,744.2 606.5,744.3 604.1,743.5 604.4,744.5 603.5,744.3 601.4,744.3 601.2,744.0 600.6,744.0 598.2,742.7 597.6,742.5 596.8,743.1 595.0,742.5 594.0,742.0 593.4,742.6 592.4,743.1 591.9,741.6 591.5,742.9 589.4,741.7 588.4,741.8 587.8,741.6 586.0,740.7 585.5,741.3 584.6,741.0 584.3,741.4 583.4,740.1 580.8,741.2 580.5,741.1 579.1,741.0 578.9,740.5 576.8,739.9 577.3,740.0 575.5,739.3 575.1,739.9 573.5,740.1 573.1,739.7 572.2,738.8 570.1,738.9 569.0,739.4 568.3,739.0 568.0,738.9 566.4,737.7 566.4,735.8 566.5,735.7 566.5,734.8" fill="#aecbf2" stroke="#34508a" stroke-width="0.6" stroke-linejoin="round" opacity="1"/>
<path d="M580.3 737.1h0M603.1 733.0h0M598.5 722.6h0M616.0 742.2h0M587.6 732.2h0M583.8 720.2h0M575.6 735.2h0M592.3 735.2h0M574.1 730.3h0M590.8 728.7h0M600.3 743.4h0M587.1 714.9h0M574.9 733.8h0M598.3 742.5h0M605.0 732.0h0M582.1 723.3h0M580.8 725.6h0M605.3 721.9h0M585.6 724.2h0M589.4 728.8h0M605.3 742.2h0M578.8 735.9h0M607.7 735.8h0M591.0 728.5h0M570.1 730.6h0" stroke="#1b6fe6" stroke-width="1.3" stroke-linecap="round" opacity="0.9"/>
<polygon points="607.5,704.0 608.4,703.3 608.7,701.9 610.5,701.5 611.4,701.8 612.1,702.3 612.7,703.0 612.9,703.8 613.5,705.0 614.0,705.8 614.1,707.4 613.8,708.2 614.5,709.4 614.7,710.0 614.6,710.7 615.4,711.8 615.4,712.6 615.7,714.0 616.2,714.7 617.1,716.0 616.6,716.9 616.9,717.1 618.1,718.1 618.0,719.4 618.8,719.8 618.3,721.2 619.0,721.7 619.4,723.1 619.3,724.3 619.6,725.0 620.2,725.8 620.5,727.3 621.0,727.9 620.9,728.7 622.2,729.3 621.8,731.0 622.5,731.6 623.2,732.2 623.2,733.9 623.9,734.7 623.7,735.3 624.3,736.8 624.5,737.7 624.8,738.2 625.2,739.5 625.1,740.7 625.8,741.2 626.5,741.9 626.0,743.5 626.7,744.1 627.2,745.1 627.5,746.1 627.2,747.2 627.3,748.2 626.6,749.0 626.0,749.7 626.4,750.6 624.9,750.5 623.8,749.3 623.4,748.8 622.4,748.2 622.0,746.8 621.8,746.3 621.6,745.4 621.3,744.2 620.7,743.5 620.4,742.2 620.0,741.5 619.7,740.5 619.1,739.8 619.2,739.0 618.7,737.9 618.1,736.8 618.0,735.5 617.6,734.3 617.1,733.8 617.2,732.6 616.4,732.4 615.9,730.9 615.6,730.3 615.1,729.1 614.8,727.8 614.5,727.1 614.4,726.3 614.0,725.0 613.8,723.9 613.3,723.8 612.8,722.4 612.4,721.9 611.8,720.8 611.6,719.2 611.3,718.5 611.5,717.9 610.3,716.6 610.5,715.8 609.9,714.9 609.3,713.6 609.5,713.4 609.3,711.8 608.5,711.1 608.4,710.4 608.0,708.6 608.7,707.7 607.7,707.1 607.4,706.3 607.7,704.6" fill="#1b6fe6" stroke="none" stroke-width="0" stroke-linejoin="round" opacity="1"/>
<circle cx="610.2" cy="705" r="2.6" fill="#1b6fe6"/>
<text x="461" y="759.6" text-anchor="middle" font-size="10.8" font-weight="bold" fill="#111">1</text>
<path d="M458.5 761.3000000000001H466.3M466.3 761.3000000000001L483 773.7" stroke="#111" stroke-width="1.2" fill="none"/>
<text x="558.1" y="767" text-anchor="middle" font-size="10.8" font-weight="bold" fill="#111">2</text>
<path d="M554.4 768.7H563M563 768.7L579.7 780.5" stroke="#111" stroke-width="1.2" fill="none"/>
<text x="576.6" y="622.4" text-anchor="middle" font-size="10.8" font-weight="bold" fill="#111">3</text>
<path d="M573.5 624.1H580.5M580.5 624.1L598 637" stroke="#111" stroke-width="1.2" fill="none"/>
<text x="638.2" y="712" text-anchor="middle" font-size="10.8" font-weight="bold" fill="#111">4</text>
<path d="M635 713.7H642.6M635 713.7L619 730" stroke="#111" stroke-width="1.2" fill="none"/>
<text x="647" y="753" text-anchor="middle" font-size="10.8" font-weight="bold" fill="#111">5</text>
<path d="M642 754.7H651M642 754.7L633 768" stroke="#111" stroke-width="1.2" fill="none"/>
<text x="583.4" y="845.3" text-anchor="middle" font-size="10.8" font-weight="bold" fill="#111">6</text>
<path d="M579 847.0H588M588 847.0L601.3 830.5" stroke="#111" stroke-width="1.2" fill="none"/>
<text x="651" y="799.4" text-anchor="middle" font-size="10.8" font-weight="bold" fill="#111">7</text>
<path d="M647 801.1H655M647 801.1L644 784" stroke="#111" stroke-width="1.2" fill="none"/>
<defs><linearGradient id="bA" gradientUnits="userSpaceOnUse" x1="0" y1="454" x2="0" y2="551"><stop offset="0" stop-color="#472b6f"/><stop offset="0.7216" stop-color="#6a48a0"/><stop offset="0.7526" stop-color="#7656a0"/><stop offset="0.8144" stop-color="#927ea0"/><stop offset="0.8763" stop-color="#ab9c84"/><stop offset="0.9381" stop-color="#bab06a"/><stop offset="0.9802" stop-color="#b2a75a"/><stop offset="1" stop-color="#d0c75c"/></linearGradient><linearGradient id="bR" gradientUnits="userSpaceOnUse" x1="0" y1="505" x2="0" y2="553"><stop offset="0" stop-color="#5e3e96"/><stop offset="0.2" stop-color="#6a4aa0"/><stop offset="0.42" stop-color="#8a70a6"/><stop offset="0.62" stop-color="#ab98a4"/><stop offset="0.79" stop-color="#c4b88e"/><stop offset="1" stop-color="#dcd478"/></linearGradient><linearGradient id="bS" gradientUnits="userSpaceOnUse" x1="0" y1="514" x2="0" y2="546"><stop offset="0" stop-color="#5e3e96"/><stop offset="0.375" stop-color="#6a48a0"/><stop offset="0.5" stop-color="#7656a0"/><stop offset="0.625" stop-color="#927ea0"/><stop offset="0.75" stop-color="#ab9c84"/><stop offset="0.875" stop-color="#bab06a"/><stop offset="0.96" stop-color="#b2a75a"/><stop offset="1" stop-color="#d0c75c"/></linearGradient><linearGradient id="bGL" gradientUnits="userSpaceOnUse" x1="0" y1="455" x2="0" y2="500"><stop offset="0" stop-color="#7a5aa6"/><stop offset="0.1556" stop-color="#8a6ea6"/><stop offset="0.2444" stop-color="#7656a0"/><stop offset="0.4333" stop-color="#927ea0"/><stop offset="0.6222" stop-color="#ab9c84"/><stop offset="0.8111" stop-color="#bab06a"/><stop offset="0.9396" stop-color="#b2a75a"/><stop offset="1" stop-color="#d0c75c"/></linearGradient><linearGradient id="bB" gradientUnits="userSpaceOnUse" x1="0" y1="418" x2="0" y2="476"><stop offset="0" stop-color="#4a2e78"/><stop offset="0.5" stop-color="#6a48a0"/><stop offset="0.66" stop-color="#8a72a4"/><stop offset="0.8" stop-color="#b8a8a0"/><stop offset="0.92" stop-color="#dcd488"/><stop offset="1" stop-color="#f2ea74"/></linearGradient><linearGradient id="bG" gradientUnits="userSpaceOnUse" x1="0" y1="450" x2="0" y2="523"><stop offset="0" stop-color="#52348a"/><stop offset="0.6" stop-color="#6a48a0"/><stop offset="0.82" stop-color="#8a6ea6"/><stop offset="1" stop-color="#a890a8"/></linearGradient><linearGradient id="rB" gradientUnits="userSpaceOnUse" x1="0" y1="494" x2="0" y2="552"><stop offset="0" stop-color="#7a5aa4"/><stop offset="0.3" stop-color="#9a84a8"/><stop offset="0.6" stop-color="#bcae98"/><stop offset="0.85" stop-color="#d8d080"/><stop offset="1" stop-color="#eee676"/></linearGradient><linearGradient id="rD" gradientUnits="userSpaceOnUse" x1="0" y1="462" x2="0" y2="481"><stop offset="0" stop-color="#9a80a8"/><stop offset="0.5" stop-color="#b8a8a0"/><stop offset="1" stop-color="#e0d888"/></linearGradient><linearGradient id="bG2" gradientUnits="userSpaceOnUse" x1="0" y1="487" x2="0" y2="522"><stop offset="0" stop-color="#5a3a90"/><stop offset="0.6" stop-color="#6a48a0"/><stop offset="1" stop-color="#8a6ea6"/></linearGradient><linearGradient id="bC" gradientUnits="userSpaceOnUse" x1="0" y1="320" x2="0" y2="558"><stop offset="0" stop-color="#2f1a52"/><stop offset="0.7143" stop-color="#56378a"/><stop offset="0.9244" stop-color="#7656a0"/><stop offset="0.9433" stop-color="#927ea0"/><stop offset="0.9622" stop-color="#ab9c84"/><stop offset="0.9811" stop-color="#bab06a"/><stop offset="0.9939" stop-color="#b2a75a"/><stop offset="1" stop-color="#d0c75c"/></linearGradient><linearGradient id="rA" gradientUnits="userSpaceOnUse" x1="0" y1="386" x2="0" y2="518"><stop offset="0" stop-color="#472b6f"/><stop offset="0.803" stop-color="#6a48a0"/><stop offset="0.8258" stop-color="#7858a2"/><stop offset="0.878" stop-color="#9c86a6"/><stop offset="0.9216" stop-color="#bcae96"/><stop offset="0.9652" stop-color="#d4cc7e"/><stop offset="1" stop-color="#eee676"/></linearGradient><linearGradient id="rR" gradientUnits="userSpaceOnUse" x1="0" y1="480" x2="0" y2="518"><stop offset="0" stop-color="#6a48a0"/><stop offset="0.3158" stop-color="#6a48a0"/><stop offset="0.3947" stop-color="#7858a2"/><stop offset="0.5763" stop-color="#9c86a6"/><stop offset="0.7276" stop-color="#bcae96"/><stop offset="0.8789" stop-color="#d4cc7e"/><stop offset="1" stop-color="#eee676"/></linearGradient><linearGradient id="rS" gradientUnits="userSpaceOnUse" x1="0" y1="393" x2="0" y2="456"><stop offset="0" stop-color="#472b6f"/><stop offset="0.619" stop-color="#6a48a0"/><stop offset="0.7143" stop-color="#7656a0"/><stop offset="0.7857" stop-color="#927ea0"/><stop offset="0.8571" stop-color="#ab9c84"/><stop offset="0.9286" stop-color="#bab06a"/><stop offset="0.9771" stop-color="#b2a75a"/><stop offset="1" stop-color="#d0c75c"/></linearGradient><linearGradient id="rT" gradientUnits="userSpaceOnUse" x1="0" y1="295" x2="0" y2="553"><stop offset="0" stop-color="#2c1850"/><stop offset="0.7558" stop-color="#5e3e94"/><stop offset="0.9186" stop-color="#7858a2"/><stop offset="0.943" stop-color="#9c86a6"/><stop offset="0.9634" stop-color="#bcae96"/><stop offset="0.9837" stop-color="#d4cc7e"/><stop offset="1" stop-color="#eee676"/></linearGradient></defs>
<path d="M67.9 327V557.3M67.9 373.3h-4M67.9 465.3h-4M67.9 557.3h-4M67.9 563.1H306.9M95.2 563.1v4M178.2 563.1v4M251.3 563.1v4" stroke="#aaa" stroke-width="0.8" fill="none"/>
<text x="63.2" y="376.6" text-anchor="end" font-size="9.3" fill="#111">200k</text>
<text x="63.2" y="468.6" text-anchor="end" font-size="9.3" fill="#111">100k</text>
<text x="63.2" y="560.5999999999999" text-anchor="end" font-size="9.3" fill="#111">0</text>
<text x="95.2" y="575" text-anchor="middle" font-size="9.3" fill="#111">-0.004</text>
<text x="178.2" y="575" text-anchor="middle" font-size="9.3" fill="#111">-0.002</text>
<text x="251.3" y="575" text-anchor="middle" font-size="9.3" fill="#111">0.000</text>
<text x="187" y="589.6" text-anchor="middle" font-size="11.2" fill="#111">PC1 (68.8%)</text>
<text transform="translate(39.6 434.8) rotate(-90)" text-anchor="middle" font-size="11.2" fill="#111">Estimated density</text>
<path d="M278.1 454.6L315 556.2M279.6 457l3 -1M309.6 537.7l3 -1" stroke="#999" stroke-width="0.7" fill="none"/>
<polygon points="67.9,556.8 105.3,452.2 269.3,452.2 306.5,556.8" fill="#f6ee72" stroke="#b8b070" stroke-width="0.4"/>
<path d="M200 458h20v6h14v-6h12M170 494h22l4 -6h30l4 -8h18M140 512h30l6 -4h24M178 476h16v4h20l4 -6h22" stroke="#c4bb66" stroke-width="0.5" fill="none"/>
<polygon points="83.0,551.0 82.0,540.0 140.0,533.4 170.0,535.6 184.0,534.5 195.0,525.0 202.7,514.6 210.0,525.0 219.0,534.5 230.7,529.8 240.0,525.0 251.8,518.0 263.4,513.4 272.8,511.0 282.0,515.0 290.0,540.0 288.0,553.0 260.0,552.5 200.0,552.0 140.0,551.5" fill="url(#bR)"/>
<polygon points="94.8,454.8 100.2,463.3 109.9,486.3 118.4,508.0 124.4,517.7 132.9,526.2 140.0,533.4 150.0,540.0 145.0,550.0 120.0,553.0 90.0,553.0 83.0,550.4 82.1,546.7 82.1,534.6 85.7,508.0 90.0,480.0" fill="url(#bA)"/>
<polygon points="255.0,455.0 257.6,451.5 259.5,457.0 262.3,452.7 265.0,458.0 268.0,455.0 272.0,450.0 275.0,450.4 278.0,460.0 280.0,475.0 280.0,490.0 280.5,511.0 283.0,523.0 250.0,523.0 238.0,523.0 240.0,510.0 248.0,495.0 254.0,480.0" fill="url(#bG)"/>
<polygon points="270.4,487.7 274.0,500.0 278.0,515.0 270.0,520.0 263.0,515.0 266.0,500.0" fill="url(#bG2)"/>
<polygon points="249.6,418.5 253.0,437.0 256.0,452.0 258.0,462.0 258.0,476.0 236.0,476.0 234.0,470.0 236.0,462.0 241.0,440.0" fill="url(#bB)"/>
<polygon points="294.0,470.0 315.1,335.5 316.0,335.5 312.5,431.3 332.7,320.5 333.2,321.0 315.1,470.0 309.6,499.2 305.0,522.3 302.7,537.7 288.0,557.7 265.0,557.0 265.0,553.0 274.2,537.7 280.4,522.3 291.2,491.5" fill="url(#bC)"/>
<text transform="translate(86.5 489) rotate(-67.8)" text-anchor="middle" font-size="11.2" fill="#111">PC2 (18.58%)</text>
<text transform="translate(285.3 456) rotate(70)" text-anchor="middle" font-size="9.3" fill="#111">0.0075</text>
<text transform="translate(316 537) rotate(70)" text-anchor="middle" font-size="9.3" fill="#111">0.000</text>
<path d="M405.1 312.4V561M405.1 337.2h-4M405.1 411.7h-4M405.1 486.2h-4M405.1 560.7h-4M403.4 569.1H661.5M440.6 569.1v4M513.4 569.1v4M587 569.1v4" stroke="#aaa" stroke-width="0.8" fill="none"/>
<text x="400.9" y="340.5" text-anchor="end" font-size="9.3" fill="#111">120k</text>
<text x="400.9" y="415.0" text-anchor="end" font-size="9.3" fill="#111">80k</text>
<text x="400.9" y="489.5" text-anchor="end" font-size="9.3" fill="#111">40k</text>
<text x="400.9" y="564.0" text-anchor="end" font-size="9.3" fill="#111">0</text>
<text x="440.6" y="581.3" text-anchor="middle" font-size="9.3" fill="#111">-0.004</text>
<text x="513.4" y="581.3" text-anchor="middle" font-size="9.3" fill="#111">-0.002</text>
<text x="587" y="581.3" text-anchor="middle" font-size="9.3" fill="#111">0.000</text>
<text x="532.5" y="596.8" text-anchor="middle" font-size="11.2" fill="#111">PC1 (68.8%)</text>
<text transform="translate(378.4 430.4) rotate(-90)" text-anchor="middle" font-size="11.2" fill="#111">Estimated density</text>
<path d="M643.9 488.2L670 560.1M658.5 521l3 -1" stroke="#999" stroke-width="0.7" fill="none"/>
<polygon points="405.1,561.6 448.3,447.6 613.1,447.6 661.6,561.3" fill="#f6ee72" stroke="#b8b070" stroke-width="0.4"/>
<path d="M440 528h30c6 0 6 -6 12 -6h40M500 540h40c8 0 8 -8 16 -8h20M540 470h30c6 0 6 -8 12 -8h20M560 480h20v6h12M430 548h60c8 0 8 6 16 6h40" stroke="#c9c06a" stroke-width="0.5" fill="none"/>
<polygon points="422.0,517.0 423.0,500.0 474.0,459.9 486.5,482.2 501.4,489.6 513.8,487.2 527.0,481.3 543.2,480.8 564.8,484.0 581.0,493.5 591.8,496.2 608.0,494.3 612.0,500.0 612.0,530.0 600.0,525.0 590.0,518.0 470.0,518.0" fill="url(#rR)"/>
<polygon points="441.3,386.4 455.5,393.1 469.1,440.0 474.0,459.9 486.5,482.2 501.4,489.6 513.8,490.0 515.0,505.0 500.0,517.0 450.0,518.0 422.0,517.0 422.0,504.5 435.6,440.0" fill="url(#rA)"/>
<polygon points="593.2,393.2 597.0,420.0 600.0,447.2 598.0,454.0 588.0,456.0 581.0,452.0 583.0,430.0" fill="url(#rS)"/>
<polygon points="609.0,494.7 603.0,500.0 596.0,510.0 592.0,520.0 594.0,535.0 605.0,545.0 620.0,552.0 635.0,552.0 642.0,545.0 644.0,520.0 640.0,500.0" fill="url(#rB)"/>
<polygon points="606.0,462.0 613.0,472.0 606.0,481.0 600.0,472.0" fill="url(#rD)"/>
<polygon points="637.6,294.9 637.6,438.4 639.6,439.4 643.0,476.0 644.8,509.7 640.2,543.3 630.8,552.0 620.0,548.0 610.0,520.0 609.3,504.0 610.3,494.7 615.0,466.7 620.5,420.0" fill="url(#rT)"/>
<text transform="translate(668 493) rotate(68)" text-anchor="middle" font-size="11.2" fill="#111">PC3 (6.18%)</text>
<text transform="translate(662 521) rotate(62)" text-anchor="middle" font-size="9.3" fill="#111">0.000</text>
<text transform="translate(675.5 559) rotate(62)" text-anchor="middle" font-size="9.3" fill="#111">-0.005</text>
<defs><linearGradient id="cbar" x1="0" y1="1" x2="0" y2="0"><stop offset="0" stop-color="#f0e030"/><stop offset="0.25" stop-color="#f6c878"/><stop offset="0.5" stop-color="#ea98a6"/><stop offset="0.75" stop-color="#c66cc4"/><stop offset="1" stop-color="#8a3ebd"/></linearGradient></defs>
<rect x="650.4" y="7" width="8.4" height="271.2" fill="url(#cbar)" stroke="#8a8a8a" stroke-width="0.5"/>
<text x="660.4" y="10.85" font-size="10.3" fill="#111">100</text>
<path d="M650.6 75.8h1.3M657.3 75.8h1.3" stroke="#fff" stroke-width="0.9"/>
<text x="663.6" y="79.64999999999999" font-size="10.3" fill="#111">75</text>
<path d="M650.6 143.4h1.3M657.3 143.4h1.3" stroke="#fff" stroke-width="0.9"/>
<text x="662.4" y="147.25" font-size="10.3" fill="#111">50</text>
<path d="M650.6 211.3h1.3M657.3 211.3h1.3" stroke="#fff" stroke-width="0.9"/>
<text x="662.4" y="215.15" font-size="10.3" fill="#111">25</text>
<text x="664.0" y="282.05" font-size="10.3" fill="#111">0</text>
<path d="M658.6 7.0h2M658.6 75.8h2M658.6 143.4h2M658.6 211.3h2M658.6 278.2h2" stroke="#333" stroke-width="0.7"/>
<text transform="translate(644.5 142.2) rotate(-90)" text-anchor="middle" font-size="13" letter-spacing="-0.4" fill="#111">Number of neighbors</text>
<rect x="70.7" y="7.4" width="247.90000000000003" height="270.8" fill="none" stroke="#5c5c5c" stroke-width="1"/>
<path d="M99.3 278.2v3M178.75 278.2v3M258.2 278.2v3M70.7 238.6h-3M70.7 177.8h-3M70.7 117.0h-3M70.7 56.2h-3" stroke="#333" stroke-width="1" fill="none"/>
<text x="99.6" y="291.0" text-anchor="middle" font-size="9.7" letter-spacing="0.45" fill="#4d4d4d">-0.004</text>
<text x="179.05" y="291.0" text-anchor="middle" font-size="9.7" letter-spacing="0.45" fill="#4d4d4d">-0.002</text>
<text x="258.5" y="291.0" text-anchor="middle" font-size="9.7" letter-spacing="0.45" fill="#4d4d4d">0.000</text>
<text x="65.3" y="242.4" text-anchor="end" font-size="9.7" letter-spacing="0.45" fill="#4d4d4d">0.0000</text>
<text x="65.3" y="181.60000000000002" text-anchor="end" font-size="9.7" letter-spacing="0.45" fill="#4d4d4d">0.0025</text>
<text x="65.3" y="120.8" text-anchor="end" font-size="9.7" letter-spacing="0.45" fill="#4d4d4d">0.0050</text>
<text x="65.3" y="60.0" text-anchor="end" font-size="9.7" letter-spacing="0.45" fill="#4d4d4d">0.0075</text>
<text x="194.9" y="302.6" text-anchor="middle" font-size="11.6" letter-spacing="0.5" fill="#000">PC1 (68.8%)</text>
<text transform="translate(27.9 142.79999999999998) rotate(-90)" text-anchor="middle" font-size="11.6" letter-spacing="0.5" fill="#000">PC2 (18.58%)</text>
<rect x="374.4" y="7.4" width="250.39999999999998" height="270.8" fill="none" stroke="#5c5c5c" stroke-width="1"/>
<path d="M403.6 278.2v3M483.5 278.2v3M563.4 278.2v3M374.4 252.9h-3M374.4 175.7h-3M374.4 98.5h-3M374.4 21.3h-3" stroke="#333" stroke-width="1" fill="none"/>
<text x="403.90000000000003" y="291.0" text-anchor="middle" font-size="9.7" letter-spacing="0.45" fill="#4d4d4d">-0.004</text>
<text x="483.8" y="291.0" text-anchor="middle" font-size="9.7" letter-spacing="0.45" fill="#4d4d4d">-0.002</text>
<text x="563.6999999999999" y="291.0" text-anchor="middle" font-size="9.7" letter-spacing="0.45" fill="#4d4d4d">0.000</text>
<text x="369.0" y="256.7" text-anchor="end" font-size="9.7" letter-spacing="0.45" fill="#4d4d4d">-0.005</text>
<text x="369.0" y="179.5" text-anchor="end" font-size="9.7" letter-spacing="0.45" fill="#4d4d4d">0.000</text>
<text x="369.0" y="102.3" text-anchor="end" font-size="9.7" letter-spacing="0.45" fill="#4d4d4d">0.005</text>
<text x="369.0" y="25.1" text-anchor="end" font-size="9.7" letter-spacing="0.45" fill="#4d4d4d">0.010</text>
<text x="499.84999999999997" y="302.6" text-anchor="middle" font-size="11.6" letter-spacing="0.5" fill="#000">PC1 (68.8%)</text>
<text transform="translate(333.6 142.79999999999998) rotate(-90)" text-anchor="middle" font-size="11.6" letter-spacing="0.5" fill="#000">PC3 (6.18%)</text>
<rect x="74.0" y="607.7" width="251.5" height="274.29999999999995" fill="none" stroke="#5c5c5c" stroke-width="1"/>
<path d="M104.2 882.0v3M183.6 882.0v3M263.0 882.0v3M74.0 842.3h-3M74.0 780.67h-3M74.0 719.05h-3M74.0 657.42h-3" stroke="#333" stroke-width="1" fill="none"/>
<text x="104.5" y="894.8" text-anchor="middle" font-size="9.7" letter-spacing="0.45" fill="#4d4d4d">-0.004</text>
<text x="183.9" y="894.8" text-anchor="middle" font-size="9.7" letter-spacing="0.45" fill="#4d4d4d">-0.002</text>
<text x="263.3" y="894.8" text-anchor="middle" font-size="9.7" letter-spacing="0.45" fill="#4d4d4d">0.000</text>
<text x="68.6" y="846.0999999999999" text-anchor="end" font-size="9.7" letter-spacing="0.45" fill="#4d4d4d">0.0000</text>
<text x="68.6" y="784.4699999999999" text-anchor="end" font-size="9.7" letter-spacing="0.45" fill="#4d4d4d">0.0025</text>
<text x="68.6" y="722.8499999999999" text-anchor="end" font-size="9.7" letter-spacing="0.45" fill="#4d4d4d">0.0050</text>
<text x="68.6" y="661.2199999999999" text-anchor="end" font-size="9.7" letter-spacing="0.45" fill="#4d4d4d">0.0075</text>
<text x="200.0" y="907.3" text-anchor="middle" font-size="11.6" letter-spacing="0.5" fill="#000">PC1 (68.8%)</text>
<text transform="translate(30.0 744.85) rotate(-90)" text-anchor="middle" font-size="11.6" letter-spacing="0.5" fill="#000">PC2 (18.58%)</text>
<rect x="403.3" y="607.5" width="254.09999999999997" height="274.5" fill="none" stroke="#5c5c5c" stroke-width="1"/>
<path d="M432.5 882.0v3M513.5 882.0v3M594.5 882.0v3M403.3 856.6h-3M403.3 778.5h-3M403.3 700.4h-3M403.3 622.3h-3" stroke="#333" stroke-width="1" fill="none"/>
<text x="432.8" y="894.8" text-anchor="middle" font-size="9.7" letter-spacing="0.45" fill="#4d4d4d">-0.004</text>
<text x="513.8" y="894.8" text-anchor="middle" font-size="9.7" letter-spacing="0.45" fill="#4d4d4d">-0.002</text>
<text x="594.8" y="894.8" text-anchor="middle" font-size="9.7" letter-spacing="0.45" fill="#4d4d4d">0.000</text>
<text x="397.90000000000003" y="860.4" text-anchor="end" font-size="9.7" letter-spacing="0.45" fill="#4d4d4d">-0.005</text>
<text x="397.90000000000003" y="782.3" text-anchor="end" font-size="9.7" letter-spacing="0.45" fill="#4d4d4d">0.000</text>
<text x="397.90000000000003" y="704.1999999999999" text-anchor="end" font-size="9.7" letter-spacing="0.45" fill="#4d4d4d">0.005</text>
<text x="397.90000000000003" y="626.0999999999999" text-anchor="end" font-size="9.7" letter-spacing="0.45" fill="#4d4d4d">0.010</text>
<text x="530.6" y="907.3" text-anchor="middle" font-size="11.6" letter-spacing="0.5" fill="#000">PC1 (68.8%)</text>
<text transform="translate(362.0 744.75) rotate(-90)" text-anchor="middle" font-size="11.6" letter-spacing="0.5" fill="#000">PC3 (6.18%)</text>
<text x="0" y="11.4" font-size="21" font-weight="bold" fill="#111">a</text>
<text x="-1" y="302" font-size="21" font-weight="bold" fill="#111">b</text>
<text x="1" y="601.4" font-size="21" font-weight="bold" fill="#111">c</text>
</svg>
</body></html>
